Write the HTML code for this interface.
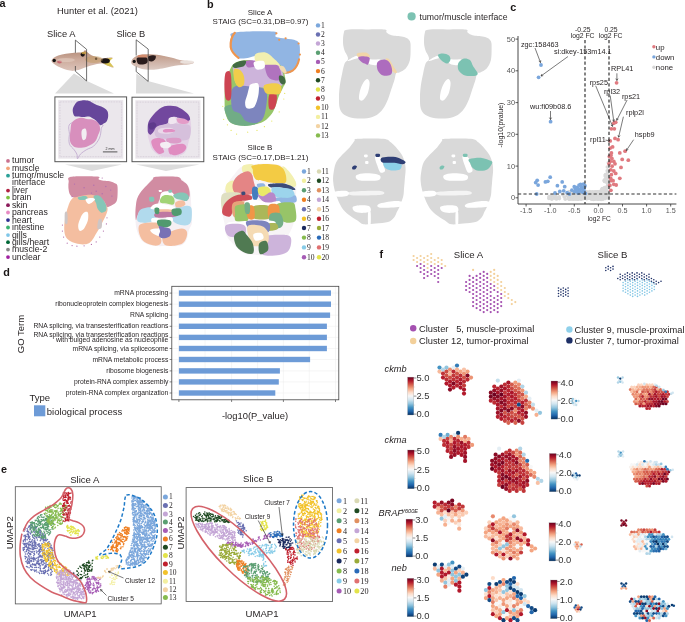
<!DOCTYPE html>
<html><head><meta charset="utf-8"><title>figure</title>
<style>
html,body{margin:0;padding:0;background:#fff;width:685px;height:622px;overflow:hidden;}
svg{display:block;}
svg{font-family:"Liberation Sans",sans-serif;will-change:transform;}
</style></head><body>
<svg width="685" height="622" viewBox="0 0 685 622">
<rect width="685" height="622" fill="#fff"/>
<text x="-0.6" y="6.8" font-size="10.8" text-anchor="start" font-weight="bold" fill="#1a1616" font-family="Liberation Sans" font-style="normal" >a</text>
<text x="207" y="7.9" font-size="10.8" text-anchor="start" font-weight="bold" fill="#1a1616" font-family="Liberation Sans" font-style="normal" >b</text>
<text x="510.3" y="10.6" font-size="10.8" text-anchor="start" font-weight="bold" fill="#1a1616" font-family="Liberation Sans" font-style="normal" >c</text>
<text x="3.3" y="276" font-size="10.8" text-anchor="start" font-weight="bold" fill="#1a1616" font-family="Liberation Sans" font-style="normal" >d</text>
<text x="0.9" y="472.7" font-size="10.8" text-anchor="start" font-weight="bold" fill="#1a1616" font-family="Liberation Sans" font-style="normal" >e</text>
<text x="379.4" y="258" font-size="10.8" text-anchor="start" font-weight="bold" fill="#1a1616" font-family="Liberation Sans" font-style="normal" >f</text>
<text x="57" y="14.4" font-size="9.4" text-anchor="start" font-weight="normal" fill="#231f20" font-family="Liberation Sans" font-style="normal" >Hunter et al. (2021)</text>
<text x="47" y="37" font-size="9.3" text-anchor="start" font-weight="normal" fill="#231f20" font-family="Liberation Sans" font-style="normal" >Slice A</text>
<text x="116.4" y="37" font-size="9.3" text-anchor="start" font-weight="normal" fill="#231f20" font-family="Liberation Sans" font-style="normal" >Slice B</text>
<polygon points="74,73.5 87,81 114,93.5 55,93.5" fill="#dcdcdc" />
<polygon points="136.3,73.5 148,81 194,93.5 136,93.5" fill="#dcdcdc" />
<line x1="75.4" y1="40.1" x2="75.4" y2="55" stroke="#333" stroke-width="0.7" />
<line x1="75.4" y1="40.1" x2="86.6" y2="49.3" stroke="#333" stroke-width="0.7" />
<defs><linearGradient id="fishA" x1="0" y1="0" x2="0" y2="1"><stop offset="0" stop-color="#b48c78"/><stop offset="0.45" stop-color="#cdab9c"/><stop offset="1" stop-color="#dcc4ba"/></linearGradient><linearGradient id="fishB" x1="0" y1="0" x2="0" y2="1"><stop offset="0" stop-color="#c29a86"/><stop offset="0.5" stop-color="#ceb2a6"/><stop offset="1" stop-color="#dccac2"/></linearGradient></defs>
<path d="M51.5,60.5 C51.8,59.4 53.2,58 55,57 C56.8,56 59.5,55.1 62,54.5 C64.5,53.9 67.3,53.5 70,53.2 C72.7,52.9 75.8,52.8 78,52.6 C80.2,52.4 81.8,52.6 83,52.2 C84.2,51.8 84.2,50.2 85,50.3 C85.8,50.4 86.8,51.9 88,52.8 C89.2,53.7 90.3,54.7 92,55.5 C93.7,56.3 96.3,57 98,57.5 C99.7,58 100.7,58.4 102,58.5 C103.3,58.6 104.2,58.1 106,58 C107.8,57.9 112,57.2 112.5,57.8 C113,58.4 108.8,59.9 109,61.5 C109.2,63.1 113.8,66.8 113.5,67.5 C113.2,68.2 108.9,66.2 107,65.5 C105.1,64.8 103.7,63.8 102,63.5 C100.3,63.2 98.8,63.7 97,64 C95.2,64.3 93,64.9 91,65.5 C89,66.1 86.8,66.8 85,67.5 C83.2,68.2 81.8,69 80,69.5 C78.2,70 75.7,70.6 74,70.8 C72.3,71 71.7,70.8 70,70.5 C68.3,70.2 66,69.7 64,69 C62,68.3 59.8,67.4 58,66.5 C56.2,65.6 54.6,64.5 53.5,63.5 C52.4,62.5 51.2,61.6 51.5,60.5Z" fill="url(#fishA)" />
<polygon points="103.2,60.5 109.3,58 112.9,58 109.3,61.5 113.9,67.2 107.8,65.8 103.7,63.6" fill="#d8c456" />
<ellipse cx="105.3" cy="60.8" rx="4.6" ry="2.6" fill="#1a1414"/>
<circle cx="82.7" cy="54.6" r="2.1" fill="#1a1414" />
<circle cx="96.1" cy="58.7" r="1.2" fill="#2a2020" />
<circle cx="54.2" cy="60.5" r="1.7" fill="#111" />
<ellipse cx="59.5" cy="61.8" rx="2.4" ry="1.6" fill="#c0485a" opacity="0.7"/>
<ellipse cx="84" cy="53" rx="2.6" ry="1.2" fill="#c8a040" opacity="0.8"/>
<ellipse cx="94" cy="59.5" rx="9" ry="3.5" fill="#c09a58" opacity="0.45"/>
<ellipse cx="66" cy="60" rx="9" ry="2" fill="#e8d4c8" opacity="0.5"/>
<line x1="75.4" y1="66" x2="75.4" y2="71.3" stroke="#333" stroke-width="0.7" />
<line x1="75.4" y1="71.3" x2="86.6" y2="81" stroke="#333" stroke-width="0.7" />
<line x1="86.6" y1="49.3" x2="86.6" y2="81" stroke="#333" stroke-width="0.7" />
<line x1="136.2" y1="39.8" x2="136.2" y2="55.5" stroke="#333" stroke-width="0.7" />
<line x1="136.2" y1="39.8" x2="148.2" y2="49.1" stroke="#333" stroke-width="0.7" />
<path d="M131.2,62 C131.3,61 132,59.5 133,58.5 C134,57.5 135.3,56.5 137,55.8 C138.7,55.1 140.8,54.7 143,54.4 C145.2,54.1 147.7,54.1 150,54.2 C152.3,54.3 154.7,54.5 157,54.8 C159.3,55.1 161.7,55.5 164,56 C166.3,56.5 168.8,57.1 171,57.6 C173.2,58.1 175,58.7 177,59.2 C179,59.7 180.8,60.1 183,60.4 C185.2,60.7 188.2,60.8 190,61.2 C191.8,61.6 194,62.1 194,62.6 C194,63.1 192,63.9 190,64.3 C188,64.7 184.5,64.8 182,65 C179.5,65.2 177.5,65.4 175,65.8 C172.5,66.2 169.8,66.9 167,67.5 C164.2,68.1 160.8,68.8 158,69.2 C155.2,69.6 152.7,69.8 150,69.8 C147.3,69.8 144.2,69.5 142,69 C139.8,68.5 138.1,67.7 136.5,67 C134.9,66.3 133.4,65.6 132.5,64.8 C131.6,64 131.1,63 131.2,62Z" fill="url(#fishB)" />
<ellipse cx="142.5" cy="56.4" rx="5" ry="1.8" fill="#d48a6a" opacity="0.9"/>
<path d="M137,58 C137.5,57.4 138.5,57.6 140,57.5 C141.5,57.4 144.7,57.3 146,57.6 C147.3,57.9 147.4,58.6 147.6,59.5 C147.8,60.4 147.8,62.2 147,63 C146.2,63.8 144.4,64.3 143,64.5 C141.6,64.7 139.5,64.6 138.5,64 C137.5,63.4 137.1,62 136.8,61 C136.6,60 136.5,58.6 137,58Z" fill="#2a1c1c" />
<path d="M148.4,56.4 C149,55.9 150.8,55.3 152,55.2 C153.2,55.1 155,55.2 155.6,55.8 C156.2,56.4 155.8,58.1 155.3,59 C154.8,59.9 153.6,61 152.5,61.3 C151.4,61.6 149.7,61.5 149,61 C148.3,60.5 148.3,59.3 148.2,58.5 C148.1,57.7 147.8,56.9 148.4,56.4Z" fill="#2a1c1c" />
<ellipse cx="187" cy="62" rx="7" ry="1.8" fill="#ece4e0" opacity="0.9"/>
<circle cx="134.2" cy="61.4" r="1.6" fill="#111" />
<line x1="136.2" y1="66.5" x2="136.2" y2="71.6" stroke="#333" stroke-width="0.7" />
<line x1="136.2" y1="71.6" x2="148.2" y2="81.4" stroke="#333" stroke-width="0.7" />
<line x1="148.2" y1="49.1" x2="148.2" y2="81.4" stroke="#333" stroke-width="0.7" />
<rect x="54.9" y="96.9" width="71.7" height="64.8" fill="#fff" stroke="#555" stroke-width="1"/>
<rect x="58.2" y="99.9" width="65.1" height="58.8" fill="#ebe7ec"/>
<rect x="59.9" y="101.9" width="61.7" height="54.8" fill="none" stroke="#d8d0da" stroke-width="1.2" stroke-dasharray="0.8 0.8"/>
<rect x="132" y="97.2" width="71.8" height="64.5" fill="#fff" stroke="#555" stroke-width="1"/>
<rect x="135.3" y="100.2" width="65.2" height="58.5" fill="#ebe7ec"/>
<rect x="137" y="102.2" width="61.8" height="54.5" fill="none" stroke="#d8d0da" stroke-width="1.2" stroke-dasharray="0.8 0.8"/>
<path d="M71.7,122.9 C66.5,124.7 69.7,131 69.4,134.5 C69,138 68.6,141.3 69.4,143.8 C70.1,146.3 72.7,147.8 74,149.6 C75.2,151.3 76.3,152.6 76.9,154.2 C77.5,155.7 76.9,158.8 77.5,158.8 C78,158.8 78.8,155.7 80.4,154.2 C81.9,152.6 84.5,150.9 86.7,149.6 C88.9,148.2 91.5,148 93.7,146.1 C95.8,144.2 98.2,140.9 99.5,138 C100.7,135.1 101,131 101.2,128.7 C101.4,126.4 105.5,125.1 100.6,124.1 C95.7,123.1 76.9,121.2 71.7,122.9Z" fill="none" stroke="#b89cc8" stroke-width="0.7"/>
<path d="M71.7,122.9 C72.6,121.1 74.6,119.8 76.3,118.9 C78,118 80.4,117.7 82.1,117.7 C83.8,117.7 85,118.6 86.7,118.9 C88.5,119.2 90.8,119 92.5,119.5 C94.2,119.9 96,120.8 97.1,121.8 C98.3,122.7 99,123.9 99.5,125.2 C99.9,126.6 100.2,128.3 100,129.9 C99.8,131.4 99,132.8 98.3,134.5 C97.6,136.2 96.9,138.8 96,140.3 C95,141.8 94.1,142.7 92.5,143.8 C91,144.8 88.8,146 86.7,146.7 C84.6,147.3 81.9,147.8 79.8,147.8 C77.7,147.8 75.5,147.5 74,146.7 C72.4,145.8 71.2,144.3 70.5,142.6 C69.8,141 69.9,138.9 69.9,136.8 C69.9,134.7 70.2,132.2 70.5,129.9 C70.8,127.6 70.7,124.8 71.7,122.9Z" fill="#d88fbd" />
<path d="M82.1,129.9 C82.8,128.9 84.8,128.1 85.6,128.7 C86.3,129.3 86.7,131.6 86.7,133.4 C86.7,135.1 86.2,138.1 85.6,139.1 C84.9,140.2 83.3,140.5 82.7,139.7 C82,138.9 81.6,136.1 81.5,134.5 C81.4,132.9 81.4,130.8 82.1,129.9Z" fill="#f2eef2" />
<path d="M72.8,109 C73.3,106.8 75.3,103.5 76.9,102.1 C78.4,100.7 80.1,100.6 82.1,100.4 C84.1,100.2 87.3,100.6 89,100.9 C90.8,101.3 91,101.9 92.5,102.7 C94.1,103.5 96.4,104.7 98.3,105.6 C100.2,106.4 102.5,106.9 104.1,107.9 C105.6,108.9 106.9,109.8 107.6,111.4 C108.2,112.9 108.3,115.4 108.1,117.1 C107.9,118.9 107.3,120.6 106.4,121.8 C105.5,122.9 103.9,123.5 102.9,124.1 C102,124.7 101.4,125.4 100.6,125.2 C99.8,125.1 99.1,123.7 98.3,122.9 C97.5,122.2 96.9,121.4 96,120.6 C95,119.8 93.7,119 92.5,118.3 C91.4,117.6 90.6,116.8 89,116.6 C87.5,116.4 85.2,117.1 83.2,117.1 C81.3,117.1 79,116.9 77.5,116.6 C75.9,116.3 74.8,116.7 74,115.4 C73.2,114.2 72.4,111.3 72.8,109Z" fill="#66469a" />
<line x1="102.9" y1="151.9" x2="117.4" y2="151.9" stroke="#444" stroke-width="0.9" />
<text x="110" y="150" font-size="3.6" text-anchor="middle" font-weight="normal" fill="#333" font-family="Liberation Sans" font-style="normal" >2 mm</text>
<path d="M150.6,118.3 C152.9,114.1 157,109.7 161.2,107.7 C165.4,105.7 171.2,105.1 175.7,106.3 C180.2,107.4 185.6,111.3 188.2,114.5 C190.8,117.6 190.8,121.7 191.1,125.1 C191.4,128.4 190.6,131.6 190.1,134.7 C189.6,137.8 189,140.5 188.2,143.4 C187.4,146.3 186.9,150 185.3,152 C183.7,154.1 181.3,155.1 178.6,155.9 C175.8,156.7 172.1,156.9 168.9,156.9 C165.7,156.8 162,156.5 159.3,155.4 C156.5,154.3 154.1,152.3 152.5,150.1 C150.9,148 150.4,145.3 149.6,142.4 C148.8,139.5 147.6,136.8 147.7,132.8 C147.9,128.8 148.4,122.5 150.6,118.3Z" fill="#e4d2e6" />
<path d="M156.4,125.1 C158.8,123.6 164.9,123.3 168.9,123.1 C172.9,123 176.9,123.6 180.5,124.1 C184,124.6 188.7,123.6 190.1,126 C191.6,128.4 190.8,136.1 189.2,138.6 C187.6,141 183.9,140.3 180.5,140.5 C177.1,140.6 172.8,140 168.9,139.5 C165.1,139 159.8,138.9 157.3,137.6 C154.9,136.3 154.6,133.9 154.5,131.8 C154.3,129.7 154,126.5 156.4,125.1Z" fill="#d6c0dc" />
<path d="M159.3,128.9 C161.2,128.1 168.3,127.6 170.8,128 C173.4,128.3 175,129.9 174.7,130.8 C174.4,131.8 171.5,133.4 168.9,133.7 C166.3,134.1 160.9,133.6 159.3,132.8 C157.7,132 157.3,129.7 159.3,128.9Z" fill="#ead8ea" />
<path d="M164.1,129.4 C165.7,128.9 172,129 173.7,129.4 C175.4,129.8 175.8,131.3 174.2,131.8 C172.6,132.3 165.8,132.7 164.1,132.3 C162.4,131.9 162.5,129.9 164.1,129.4Z" fill="#e090c4" />
<path d="M151.6,140.5 C152.4,139.3 155.3,138.2 157.3,138.1 C159.4,137.9 162.7,138.5 164.1,139.5 C165.5,140.6 166.2,142.9 166,144.3 C165.9,145.8 163.5,146.9 163.1,148.2 C162.8,149.5 164.7,151.1 164.1,152 C163.5,153 160.9,154.3 159.3,154 C157.7,153.7 155.7,151.6 154.5,150.1 C153.3,148.7 152.5,146.9 152,145.3 C151.6,143.7 150.7,141.7 151.6,140.5Z" fill="#e08cc0" />
<path d="M168.9,147.2 C170,145.6 174.2,144.9 176.6,144.3 C179,143.8 181.8,143.4 183.4,143.9 C185,144.3 186.3,145.9 186.3,147.2 C186.3,148.6 185,150.8 183.4,152 C181.8,153.3 178.9,154.6 176.6,154.9 C174.4,155.3 171.2,155.3 169.9,154 C168.6,152.7 167.8,148.8 168.9,147.2Z" fill="#e08cc0" />
<path d="M167,138.6 C168.8,137.8 176.1,137.6 178.6,138.1 C181,138.6 181.8,140.6 181.4,141.4 C181.1,142.3 178.9,143.2 176.6,143.4 C174.4,143.5 169.6,143.2 168,142.4 C166.3,141.6 165.2,139.3 167,138.6Z" fill="#dc9cc8" />
<path d="M160.7,142.9 C162,142.1 167.2,141.8 168.9,142.4 C170.6,143 171.2,145.3 170.8,146.3 C170.5,147.2 168.6,148 167,148.2 C165.4,148.4 162.2,148.1 161.2,147.2 C160.2,146.3 159.4,143.7 160.7,142.9Z" fill="#f4eef4" />
<path d="M176.6,118.8 C177.4,118 181.4,118.2 183.4,118.3 C185.4,118.5 187.9,119 188.7,119.8 C189.5,120.6 189.1,122.4 188.2,123.1 C187.3,123.9 185,124.1 183.4,124.1 C181.8,124.1 179.7,124 178.6,123.1 C177.4,122.2 175.8,119.6 176.6,118.8Z" fill="#e49cc8" />
<path d="M147.7,128.9 C147.7,127.3 147.7,124.9 148.2,123.1 C148.7,121.4 149.4,120.1 150.6,118.3 C151.8,116.5 153.7,114.3 155.4,112.5 C157.2,110.8 159.1,108.8 161.2,107.7 C163.3,106.6 165.5,106 168,105.8 C170.4,105.5 173.3,105.6 175.7,106.3 C178.1,106.9 180.3,108.3 182.4,109.6 C184.5,111 186.9,112.9 188.2,114.5 C189.5,116.1 190.1,118.2 190.1,119.3 C190.1,120.3 189.2,120.8 188.2,120.7 C187.2,120.6 185.9,119.3 184.3,118.8 C182.7,118.3 180,118.2 178.6,117.8 C177.1,117.5 176.8,116.9 175.7,116.9 C174.5,116.8 172.9,116.8 171.8,117.3 C170.7,117.9 169.7,119.2 168.9,120.2 C168.1,121.3 168.3,122.8 167,123.6 C165.7,124.4 163,124.5 161.2,125.1 C159.4,125.6 157.7,125.9 156.4,127 C155.1,128.1 154.5,130.5 153.5,131.8 C152.5,133.1 151.5,134.5 150.6,134.7 C149.7,134.9 148.7,133.7 148.2,132.8 C147.7,131.8 147.7,130.5 147.7,128.9Z" fill="#72489e" />
<path d="M148.7,124.1 C149.3,123 152.2,122 153.5,122.2 C154.8,122.3 156.4,123.9 156.4,125.1 C156.4,126.2 154.6,128.3 153.5,128.9 C152.4,129.6 150.4,129.7 149.6,128.9 C148.8,128.1 148,125.2 148.7,124.1Z" fill="#5e3a8c" />
<path d="M168.9,118.3 C169.9,117.3 173.4,116.7 174.7,117.3 C176,118 177.1,121 176.6,122.2 C176.1,123.3 173.1,123.9 171.8,124.1 C170.5,124.3 169.4,124.1 168.9,123.1 C168.4,122.2 168,119.3 168.9,118.3Z" fill="#f0e6f0" />
<polygon points="65,164.5 122,164.5 92,171" fill="#dcdcdc" />
<polygon points="136,164.5 199.5,164.5 166,171" fill="#dcdcdc" />
<circle cx="8" cy="160.9" r="1.9" fill="#c9708e" />
<text x="12" y="163.3" font-size="8.7" text-anchor="start" font-weight="normal" fill="#231f20" font-family="Liberation Sans" font-style="normal" >tumor</text>
<circle cx="8" cy="168.3" r="1.9" fill="#f4a57a" />
<text x="12" y="170.7" font-size="8.7" text-anchor="start" font-weight="normal" fill="#231f20" font-family="Liberation Sans" font-style="normal" >muscle</text>
<circle cx="8" cy="175.7" r="1.9" fill="#2aa198" />
<text x="12" y="178.1" font-size="8.7" text-anchor="start" font-weight="normal" fill="#231f20" font-family="Liberation Sans" font-style="normal" >tumor/muscle</text>
<text x="12" y="185.4" font-size="8.7" text-anchor="start" font-weight="normal" fill="#231f20" font-family="Liberation Sans" font-style="normal" >interface</text>
<circle cx="8" cy="190.6" r="1.9" fill="#b22040" />
<text x="12" y="193" font-size="8.7" text-anchor="start" font-weight="normal" fill="#231f20" font-family="Liberation Sans" font-style="normal" >liver</text>
<circle cx="8" cy="197.6" r="1.9" fill="#7dc242" />
<text x="12" y="200" font-size="8.7" text-anchor="start" font-weight="normal" fill="#231f20" font-family="Liberation Sans" font-style="normal" >brain</text>
<circle cx="8" cy="205.2" r="1.9" fill="#8b1a5a" />
<text x="12" y="207.6" font-size="8.7" text-anchor="start" font-weight="normal" fill="#231f20" font-family="Liberation Sans" font-style="normal" >skin</text>
<circle cx="8" cy="212.5" r="1.9" fill="#e78ac3" />
<text x="12" y="214.9" font-size="8.7" text-anchor="start" font-weight="normal" fill="#231f20" font-family="Liberation Sans" font-style="normal" >pancreas</text>
<circle cx="8" cy="220.1" r="1.9" fill="#2e3192" />
<text x="12" y="222.5" font-size="8.7" text-anchor="start" font-weight="normal" fill="#231f20" font-family="Liberation Sans" font-style="normal" >heart</text>
<circle cx="8" cy="227.5" r="1.9" fill="#3cb371" />
<text x="12" y="229.9" font-size="8.7" text-anchor="start" font-weight="normal" fill="#231f20" font-family="Liberation Sans" font-style="normal" >intestine</text>
<circle cx="8" cy="235.1" r="1.9" fill="#7fc6e8" />
<text x="12" y="237.5" font-size="8.7" text-anchor="start" font-weight="normal" fill="#231f20" font-family="Liberation Sans" font-style="normal" >gills</text>
<circle cx="8" cy="242.2" r="1.9" fill="#006837" />
<text x="12" y="244.6" font-size="8.7" text-anchor="start" font-weight="normal" fill="#231f20" font-family="Liberation Sans" font-style="normal" >gills/heart</text>
<circle cx="8" cy="249.6" r="1.9" fill="#888888" />
<text x="12" y="252" font-size="8.7" text-anchor="start" font-weight="normal" fill="#231f20" font-family="Liberation Sans" font-style="normal" >muscle-2</text>
<circle cx="8" cy="257.1" r="1.9" fill="#a020a0" />
<text x="12" y="259.5" font-size="8.7" text-anchor="start" font-weight="normal" fill="#231f20" font-family="Liberation Sans" font-style="normal" >unclear</text>
<g opacity="0.9">
<path d="M70.9,200.3 C72.1,198.7 73.3,197.1 75.7,196.1 C78.1,195.1 82.5,194.7 85.3,194.3 C88.1,193.9 90.4,193.6 92.6,193.9 C94.8,194.3 96.8,195.2 98.6,196.1 C100.4,197.1 102.1,198.3 103.4,199.7 C104.7,201.1 105.7,203 106.4,204.6 C107.1,206.2 107.7,207.6 107.6,209.4 C107.5,211.2 106.6,213.4 105.8,215.4 C105,217.4 103.8,219.4 102.8,221.4 C101.8,223.5 100.9,225.5 99.8,227.5 C98.7,229.5 97.4,231.5 96.2,233.5 C95,235.5 93.8,237.9 92.6,239.5 C91.4,241.1 90.6,242.3 88.9,243.2 C87.3,244 85.1,244.4 82.9,244.4 C80.7,244.4 77.9,243.8 75.7,243.2 C73.5,242.5 71.4,241.9 69.6,240.7 C67.9,239.5 66.3,237.9 65.4,235.9 C64.5,233.9 64.3,231.3 64.2,228.7 C64.1,226.1 64.4,223.1 64.8,220.2 C65.2,217.4 66,214.2 66.6,211.8 C67.2,209.4 67.7,207.7 68.4,205.8 C69.1,203.9 69.6,201.9 70.9,200.3Z" fill="#f3b896" />
<path d="M70.9,176.8 C75.6,176 92.8,176.2 97.4,176.6 C102,177 97.8,178.6 98.6,179.2 C99.4,179.9 100.6,180.1 102.2,180.4 C103.8,180.7 106.2,180.6 108.2,181 C110.2,181.4 112.8,182.2 114.3,182.9 C115.8,183.6 116.7,183.5 117.3,185.3 C117.8,187.1 117.7,191.1 117.6,193.7 C117.5,196.3 117.4,199.1 116.7,200.9 C115.9,202.8 114.5,203.6 113.1,204.6 C111.7,205.6 109.3,206.8 108.2,207 C107.1,207.2 107,206.6 106.4,205.8 C105.8,205 105.4,203.3 104.6,202.1 C103.8,201 102.8,200 101.6,199.1 C100.4,198.2 98.9,197.4 97.4,196.7 C95.9,196 94.4,195.2 92.6,194.9 C90.8,194.6 88.5,194.7 86.5,194.9 C84.5,195.1 82.3,195.7 80.5,196.1 C78.7,196.5 77.1,197.2 75.7,197.3 C74.3,197.4 73.1,197.3 72.1,196.7 C71.1,196.1 70.3,195.2 69.6,193.7 C69,192.2 68.6,189.7 68.4,187.7 C68.3,185.7 68.3,183.5 68.7,181.6 C69.1,179.8 66.1,177.7 70.9,176.8Z" fill="#cd8098" />
<path d="M64.8,213 C65.2,211.2 66.8,210.8 67.2,212.4 C67.7,214 67.8,220.8 67.5,222.7 C67.1,224.5 65.5,224.9 65.1,223.3 C64.6,221.6 64.5,214.8 64.8,213Z" fill="#c8c0c0" />
<path d="M98.4,220.2 C99,218.7 101.1,218.4 101.6,219.6 C102.1,220.8 102.3,226 101.6,227.5 C100.9,229 98.2,229.9 97.6,228.7 C97.1,227.5 97.7,221.7 98.4,220.2Z" fill="#c8c0c0" />
<path d="M78.1,197.3 C79.1,196.7 83.7,195.9 85.3,196.1 C86.9,196.3 87.9,197.9 87.7,198.5 C87.5,199.2 85.5,199.8 84.1,200 C82.7,200.2 80.3,200.2 79.3,199.7 C78.3,199.3 77.1,197.9 78.1,197.3Z" fill="#78c0b0" />
<path d="M93.8,196.1 C94.5,195.4 97.2,195.1 98.6,195.5 C100,195.9 101,197 102.2,198.5 C103.4,200 105.1,202.8 105.8,204.6 C106.5,206.4 106.6,208.2 106.4,209.4 C106.2,210.6 105.5,211.3 104.6,211.8 C103.7,212.3 102.2,213 101,212.4 C99.8,211.8 98.2,209.7 97.4,208.2 C96.6,206.7 96.7,204.8 96.2,203.4 C95.7,201.9 94.8,200.9 94.4,199.7 C94,198.5 93.1,196.8 93.8,196.1Z" fill="#78c0b0" />
<path d="M85.9,199.1 C86.7,198.4 89.8,197.9 91.4,197.9 C92.9,197.9 94.8,198.4 95,199.1 C95.2,199.8 93.6,201.3 92.6,202.1 C91.6,203 89.9,204 88.9,204 C87.9,204 87,203 86.5,202.1 C86,201.3 85.1,199.8 85.9,199.1Z" fill="#fff" />
<path d="M83.5,213 C84.8,212 87,211.3 87.7,212.3 C88.5,213.3 88.4,216.9 88.1,219 C87.8,221.2 86.9,223.3 86,225.1 C85.2,226.8 84.3,228.7 83.2,229.6 C82,230.6 80.1,231.4 79.3,230.6 C78.5,229.8 78,227.1 78.2,225.1 C78.4,223 79.4,220.4 80.3,218.4 C81.1,216.4 82.3,214 83.5,213Z" fill="#fff" />
<circle cx="62.4" cy="231.1" r="0.6" fill="#a85aa0" />
<circle cx="63.6" cy="237.1" r="0.6" fill="#a85aa0" />
<circle cx="67.2" cy="243.2" r="0.6" fill="#a85aa0" />
<circle cx="72.1" cy="245.6" r="0.6" fill="#a85aa0" />
<circle cx="76.9" cy="246.2" r="0.6" fill="#a85aa0" />
<circle cx="84.1" cy="245.8" r="0.6" fill="#a85aa0" />
<circle cx="91.4" cy="244.4" r="0.6" fill="#a85aa0" />
<circle cx="96.2" cy="241.9" r="0.6" fill="#a85aa0" />
<circle cx="99.8" cy="237.1" r="0.6" fill="#a85aa0" />
<circle cx="103.4" cy="231.1" r="0.6" fill="#a85aa0" />
<circle cx="106.4" cy="223.9" r="0.6" fill="#a85aa0" />
<circle cx="107" cy="217.8" r="0.6" fill="#a85aa0" />
<circle cx="72.1" cy="196.7" r="0.6" fill="#a85aa0" />
<circle cx="102.2" cy="178" r="0.6" fill="#a85aa0" />
<circle cx="62.4" cy="225.1" r="0.6" fill="#a85aa0" />
<circle cx="74.5" cy="184.1" r="0.7" fill="#a860a8" />
<circle cx="84.1" cy="187.7" r="0.7" fill="#a860a8" />
<circle cx="93.8" cy="185.3" r="0.7" fill="#a860a8" />
<circle cx="96.2" cy="191.3" r="0.7" fill="#a860a8" />
<circle cx="105.8" cy="186.5" r="0.7" fill="#a860a8" />
<circle cx="110.7" cy="190.1" r="0.7" fill="#a860a8" />
<circle cx="91.4" cy="193.1" r="0.7" fill="#a860a8" />
<circle cx="102.2" cy="193.7" r="0.7" fill="#a860a8" />
<circle cx="111.9" cy="196.1" r="0.7" fill="#a860a8" />
<path d="M155.9,176.8 C160.9,175.4 171.9,175.6 177,176.8 C182.1,178 184.4,181.6 186.6,184 C188.8,186.5 189.4,187.3 190.2,191.3 C191,195.3 191.1,202.9 191.4,208.1 C191.7,213.4 192.4,219 192,222.6 C191.6,226.2 189.9,227 189,229.8 C188.1,232.6 188,236.9 186.6,239.5 C185.2,242.1 184,244.4 180.6,245.5 C177.2,246.6 170.8,246.1 166.1,246.1 C161.5,246.1 156.7,246.4 152.9,245.7 C149.1,245 145.7,243.7 143.3,241.9 C140.8,240 139.6,237.3 138.4,234.7 C137.2,232 136.5,229.4 136,226.2 C135.5,223 135.4,219 135.4,215.4 C135.4,211.8 135.3,208.1 136,204.5 C136.7,200.9 137.8,196.9 139.6,193.7 C141.4,190.5 144.2,188.1 146.9,185.3 C149.6,182.4 150.9,178.2 155.9,176.8Z" fill="#f5eff3" />
<path d="M155.9,176.8 C159.9,176.4 172.7,176.2 177,176.8 C181.3,177.4 180.2,179.2 181.8,180.4 C183.4,181.6 185.4,182.6 186.6,184 C187.8,185.5 188.5,186.9 189,188.9 C189.5,190.9 190,194.1 189.6,196.1 C189.2,198.1 187.7,200.3 186.6,200.9 C185.5,201.5 184.2,200.2 183,199.7 C181.8,199.2 180.6,198.5 179.4,197.9 C178.2,197.3 176.8,196.8 175.8,196.1 C174.8,195.4 174.4,194.5 173.4,193.7 C172.4,192.9 171,191.5 169.8,191.3 C168.6,191.1 167.3,191.7 166.1,192.5 C164.9,193.3 163.7,194.7 162.5,196.1 C161.3,197.5 159.7,199.5 158.9,200.9 C158.1,202.3 158.5,203.5 157.7,204.5 C156.9,205.5 155.7,206.3 154.1,206.9 C152.5,207.5 149.7,207.7 148.1,208.1 C146.5,208.5 145.9,208.7 144.5,209.3 C143.1,210 140.8,210.6 139.6,211.8 C138.4,213 137.8,215.2 137.2,216.6 C136.6,218 136.3,220.6 136,220.2 C135.7,219.8 135.4,216.8 135.4,214.2 C135.4,211.6 135.7,207.1 136,204.5 C136.3,201.9 136.6,200.3 137.2,198.5 C137.8,196.7 138.6,195.3 139.6,193.7 C140.6,192.1 142,190.3 143.3,188.9 C144.5,187.5 145.7,186.5 146.9,185.3 C148.1,184 149.5,182.6 150.5,181.6 C151.5,180.6 152,180 152.9,179.2 C153.8,178.4 151.9,177.2 155.9,176.8Z" fill="#cd8098" />
<path d="M139.6,210.6 C141.2,208.4 144.5,208 146.9,207.5 C149.3,207 152.3,207.2 154.1,207.5 C155.9,207.8 157.1,208 157.7,209.3 C158.3,210.7 158.3,213.6 157.7,215.4 C157.1,217.2 155.7,219 154.1,220.2 C152.5,221.4 150.1,222.2 148.1,222.6 C146.1,223 143.9,223 142,222.6 C140.2,222.2 137.6,222.2 137.2,220.2 C136.8,218.2 138,212.7 139.6,210.6Z" fill="#a9d7ec" />
<path d="M174.6,208.1 C176,206.3 178.6,207.3 180.6,206.9 C182.6,206.5 184.8,205.5 186.6,205.7 C188.4,205.9 190.6,205.7 191.4,208.1 C192.2,210.6 192,217.4 191.4,220.2 C190.8,223 189.6,224.2 187.8,225 C186,225.8 182.8,225.4 180.6,225 C178.4,224.6 176,223.8 174.6,222.6 C173.2,221.4 172.2,220.2 172.2,217.8 C172.2,215.4 173.2,210 174.6,208.1Z" fill="#a9d7ec" />
<path d="M161.6,192.7 C163.2,191.1 167.8,191 169.8,191.3 C171.8,191.6 173.3,193.7 173.6,194.7 C173.9,195.6 172.8,196.5 171.6,196.7 C170.3,196.9 167.6,195.2 166.1,195.6 C164.7,196.1 163.8,198.6 162.8,199.5 C161.7,200.4 160.1,202 159.9,200.9 C159.7,199.8 159.9,194.3 161.6,192.7Z" fill="#fff" />
<path d="M154.1,204.5 C155.7,203.7 158.1,203.5 160.1,203.6 C162.1,203.6 164.1,204.4 166.1,204.8 C168.2,205.2 170.6,205.4 172.2,206 C173.8,206.5 175.2,207.4 175.8,208.1 C176.4,208.9 177.4,210.1 175.8,210.3 C174.2,210.6 169.4,209.7 166.1,209.6 C162.9,209.5 159.1,209.8 156.5,209.6 C153.9,209.4 150.9,209.2 150.5,208.4 C150.1,207.5 152.5,205.3 154.1,204.5Z" fill="#fff" />
<path d="M175.8,202.1 C177,201 181.4,199.9 183,200.3 C184.6,200.7 185.8,203.4 185.4,204.5 C185,205.7 182.2,206.8 180.6,207.2 C179,207.6 176.6,207.8 175.8,206.9 C175,206.1 174.6,203.2 175.8,202.1Z" fill="#f3b896" />
<path d="M156.5,209.6 C159.7,209.1 172.6,209.5 175.8,210 C179,210.4 179,211.9 175.8,212.4 C172.6,212.8 159.7,213.2 156.5,212.7 C153.3,212.3 153.3,210.1 156.5,209.6Z" fill="#f3b896" />
<path d="M156.5,212.4 C159.5,211.5 171.4,211.7 174.6,212.4 C177.8,213.1 178.8,215.7 175.8,216.6 C172.8,217.4 159.7,218.2 156.5,217.5 C153.3,216.8 153.5,213.2 156.5,212.4Z" fill="#b86a98" />
<path d="M172.2,209.3 C173.6,208.4 179.1,207.9 180.6,208.7 C182.1,209.6 182,213 181.2,214.2 C180.4,215.4 177.3,216 175.8,216 C174.3,216 172.8,215.3 172.2,214.2 C171.6,213.1 170.8,210.3 172.2,209.3Z" fill="#3f9060" />
<path d="M154.7,208.1 C155.3,207.2 158.2,207.2 158.9,208.1 C159.6,209 159.5,212.7 158.9,213.6 C158.3,214.5 156,214.5 155.3,213.6 C154.6,212.7 154.1,209 154.7,208.1Z" fill="#3f9060" />
<path d="M160.1,199.7 C160.4,198.6 161.5,196.9 162.5,196.1 C163.5,195.3 164.7,195 166.1,194.9 C167.6,194.8 169.8,195.1 171,195.5 C172.2,195.9 172.8,196.4 173.4,197.3 C174,198.2 174.6,199.7 174.6,200.9 C174.6,202.1 174.4,204 173.4,204.5 C172.4,205 170,204.1 168.6,203.9 C167.1,203.7 166.2,203.5 164.9,203.3 C163.6,203.1 161.5,203.3 160.7,202.7 C159.9,202.1 159.8,200.8 160.1,199.7Z" fill="#98cf68" />
<path d="M173.4,194.9 C174.2,193.9 178.4,192.7 180.6,192.5 C182.8,192.3 185.2,192.9 186.6,193.7 C188,194.5 189,196.1 189,197.3 C189,198.5 188,200.5 186.6,200.9 C185.2,201.3 182.4,200.1 180.6,199.7 C178.8,199.3 177,199.3 175.8,198.5 C174.6,197.7 172.6,195.9 173.4,194.9Z" fill="#78c0b0" />
<path d="M149.3,197.3 C149.9,196.6 152.7,196.5 153.5,197.1 C154.3,197.7 154.7,200.2 154.1,200.9 C153.5,201.7 150.7,202.1 149.9,201.5 C149.1,200.9 148.7,198 149.3,197.3Z" fill="#78c0b0" />
<path d="M168.6,190.1 C169,189.7 171.1,189.7 171.6,190.1 C172.1,190.5 172,192.1 171.6,192.5 C171.1,192.9 169.3,192.9 168.8,192.5 C168.3,192.1 168.1,190.5 168.6,190.1Z" fill="#78c0b0" />
<path d="M158.9,190.1 C159.3,189.8 161.1,189.8 161.6,190.1 C162,190.4 162,191.6 161.6,191.9 C161.2,192.2 159.6,192.2 159.2,191.9 C158.7,191.6 158.5,190.4 158.9,190.1Z" fill="#fff" />
<path d="M151.7,218.4 C152.8,217.7 157.7,217.7 158.9,218.4 C160.1,219.1 160,221.9 158.9,222.6 C157.8,223.3 153.5,223.3 152.3,222.6 C151.1,221.9 150.6,219.1 151.7,218.4Z" fill="#fff" />
<path d="M166.1,217.8 C167.1,217.2 171.2,217.2 172.2,217.8 C173.2,218.4 173.2,220.8 172.2,221.4 C171.2,222 167.1,222 166.1,221.4 C165.1,220.8 165.1,218.4 166.1,217.8Z" fill="#fff" />
<path d="M139.6,225 C141.6,223 148.5,222.8 151.7,222.6 C154.9,222.4 157.9,222.6 158.9,223.8 C159.9,225 158.9,228.4 157.7,229.8 C156.5,231.2 151.7,231.4 151.7,232.2 C151.7,233 156.1,233.4 157.7,234.7 C159.3,235.9 160.9,237.9 161.3,239.5 C161.7,241.1 161.3,243.3 160.1,244.3 C158.9,245.3 156.7,245.9 154.1,245.5 C151.5,245.1 146.9,243.7 144.5,241.9 C142,240.1 140.4,237.5 139.6,234.7 C138.8,231.8 137.6,227 139.6,225Z" fill="#f3b896" />
<path d="M163.7,234.7 C165.3,233 169.2,232 172.2,231 C175.2,230 179.4,228.6 181.8,228.6 C184.2,228.6 185.8,229.6 186.6,231 C187.4,232.4 187.2,235.1 186.6,237.1 C186,239.1 184.8,241.7 183,243.1 C181.2,244.5 178.6,245.1 175.8,245.5 C173,245.9 168.4,246.3 166.1,245.5 C163.9,244.7 162.9,242.5 162.5,240.7 C162.1,238.9 162.1,236.3 163.7,234.7Z" fill="#f3b896" />
<path d="M150.5,229.8 C151.5,229 156.5,228.4 158.9,228.6 C161.3,228.8 164.1,230 164.9,231 C165.7,232 164.7,233.8 163.7,234.7 C162.7,235.5 160.7,236.1 158.9,235.9 C157.1,235.7 154.3,234.4 152.9,233.4 C151.5,232.4 149.5,230.6 150.5,229.8Z" fill="#fff" />
<path d="M157.7,220.2 C159.5,219.2 167.6,219.4 169.8,220.2 C172,221 171.6,223.8 171,225 C170.4,226.2 168.2,227.2 166.1,227.4 C164.1,227.6 160.3,227.4 158.9,226.2 C157.5,225 155.9,221.2 157.7,220.2Z" fill="#3f9060" />
<path d="M158.9,226.2 C159.7,225.6 163.1,227 164.9,227.4 C166.7,227.8 168.8,227.6 169.8,228.6 C170.8,229.6 171.2,232 171,233.4 C170.8,234.9 170,236.3 168.6,237.1 C167.1,237.9 164.1,238.5 162.5,238.3 C160.9,238.1 159.3,237.1 158.9,235.9 C158.5,234.7 160.1,232.6 160.1,231 C160.1,229.4 158.1,226.8 158.9,226.2Z" fill="#6a62ae" />
</g>
<text x="260" y="14.6" font-size="8" text-anchor="middle" font-weight="normal" fill="#231f20" font-family="Liberation Sans" font-style="normal" >Slice A</text>
<text x="260.5" y="24.4" font-size="8" text-anchor="middle" font-weight="normal" fill="#231f20" font-family="Liberation Sans" font-style="normal" >STAIG (SC=0.31,DB=0.97)</text>
<text x="260" y="150.3" font-size="8" text-anchor="middle" font-weight="normal" fill="#231f20" font-family="Liberation Sans" font-style="normal" >Slice B</text>
<text x="260.5" y="159.6" font-size="8" text-anchor="middle" font-weight="normal" fill="#231f20" font-family="Liberation Sans" font-style="normal" >STAIG (SC=0.17,DB=1.21)</text>
<circle cx="318" cy="25.4" r="2.2" fill="#7ba7dc" />
<text x="320.9" y="27.9" font-size="7.6" text-anchor="start" font-weight="normal" fill="#231f20" font-family="Liberation Serif" font-style="normal" >1</text>
<circle cx="318" cy="34.5" r="2.2" fill="#6a70b2" />
<text x="320.9" y="37" font-size="7.6" text-anchor="start" font-weight="normal" fill="#231f20" font-family="Liberation Serif" font-style="normal" >2</text>
<circle cx="318" cy="43.5" r="2.2" fill="#c4a6d6" />
<text x="320.9" y="46" font-size="7.6" text-anchor="start" font-weight="normal" fill="#231f20" font-family="Liberation Serif" font-style="normal" >3</text>
<circle cx="318" cy="52.8" r="2.2" fill="#5a9f72" />
<text x="320.9" y="55.3" font-size="7.6" text-anchor="start" font-weight="normal" fill="#231f20" font-family="Liberation Serif" font-style="normal" >4</text>
<circle cx="318" cy="61.9" r="2.2" fill="#a65cb5" />
<text x="320.9" y="64.4" font-size="7.6" text-anchor="start" font-weight="normal" fill="#231f20" font-family="Liberation Serif" font-style="normal" >5</text>
<circle cx="318" cy="71.1" r="2.2" fill="#ef7f22" />
<text x="320.9" y="73.6" font-size="7.6" text-anchor="start" font-weight="normal" fill="#231f20" font-family="Liberation Serif" font-style="normal" >6</text>
<circle cx="318" cy="80.2" r="2.2" fill="#1f4a22" />
<text x="320.9" y="82.7" font-size="7.6" text-anchor="start" font-weight="normal" fill="#231f20" font-family="Liberation Serif" font-style="normal" >7</text>
<circle cx="318" cy="89.5" r="2.2" fill="#e3e34a" />
<text x="320.9" y="92" font-size="7.6" text-anchor="start" font-weight="normal" fill="#231f20" font-family="Liberation Serif" font-style="normal" >8</text>
<circle cx="318" cy="98.5" r="2.2" fill="#c0202e" />
<text x="320.9" y="101" font-size="7.6" text-anchor="start" font-weight="normal" fill="#231f20" font-family="Liberation Serif" font-style="normal" >9</text>
<circle cx="318" cy="107.8" r="2.2" fill="#f2c22a" />
<text x="320.9" y="110.3" font-size="7.6" text-anchor="start" font-weight="normal" fill="#231f20" font-family="Liberation Serif" font-style="normal" >10</text>
<circle cx="318" cy="116.9" r="2.2" fill="#f3efa0" />
<text x="320.9" y="119.4" font-size="7.6" text-anchor="start" font-weight="normal" fill="#231f20" font-family="Liberation Serif" font-style="normal" >11</text>
<circle cx="318" cy="126.1" r="2.2" fill="#f3d3a3" />
<text x="320.9" y="128.6" font-size="7.6" text-anchor="start" font-weight="normal" fill="#231f20" font-family="Liberation Serif" font-style="normal" >12</text>
<circle cx="318" cy="135.4" r="2.2" fill="#86bb4e" />
<text x="320.9" y="137.9" font-size="7.6" text-anchor="start" font-weight="normal" fill="#231f20" font-family="Liberation Serif" font-style="normal" >13</text>
<circle cx="304" cy="171.5" r="2.2" fill="#7ba7dc" />
<text x="306.9" y="174" font-size="7.6" text-anchor="start" font-weight="normal" fill="#231f20" font-family="Liberation Serif" font-style="normal" >1</text>
<circle cx="319" cy="171.5" r="2.2" fill="#d9d9b4" />
<text x="321.5" y="174" font-size="7.6" text-anchor="start" font-weight="normal" fill="#231f20" font-family="Liberation Serif" font-style="normal" >11</text>
<circle cx="304" cy="180.8" r="2.2" fill="#f2f0a0" />
<text x="306.9" y="183.3" font-size="7.6" text-anchor="start" font-weight="normal" fill="#231f20" font-family="Liberation Serif" font-style="normal" >2</text>
<circle cx="319" cy="180.8" r="2.2" fill="#1f4a22" />
<text x="321.5" y="183.3" font-size="7.6" text-anchor="start" font-weight="normal" fill="#231f20" font-family="Liberation Serif" font-style="normal" >12</text>
<circle cx="304" cy="190.3" r="2.2" fill="#5b9e72" />
<text x="306.9" y="192.8" font-size="7.6" text-anchor="start" font-weight="normal" fill="#231f20" font-family="Liberation Serif" font-style="normal" >3</text>
<circle cx="319" cy="190.3" r="2.2" fill="#e09060" />
<text x="321.5" y="192.8" font-size="7.6" text-anchor="start" font-weight="normal" fill="#231f20" font-family="Liberation Serif" font-style="normal" >13</text>
<circle cx="304" cy="199.7" r="2.2" fill="#ef7f22" />
<text x="306.9" y="202.2" font-size="7.6" text-anchor="start" font-weight="normal" fill="#231f20" font-family="Liberation Serif" font-style="normal" >4</text>
<circle cx="319" cy="199.7" r="2.2" fill="#c4a6d6" />
<text x="321.5" y="202.2" font-size="7.6" text-anchor="start" font-weight="normal" fill="#231f20" font-family="Liberation Serif" font-style="normal" >14</text>
<circle cx="304" cy="209.2" r="2.2" fill="#6a70b2" />
<text x="306.9" y="211.7" font-size="7.6" text-anchor="start" font-weight="normal" fill="#231f20" font-family="Liberation Serif" font-style="normal" >5</text>
<circle cx="319" cy="209.2" r="2.2" fill="#f3d3a3" />
<text x="321.5" y="211.7" font-size="7.6" text-anchor="start" font-weight="normal" fill="#231f20" font-family="Liberation Serif" font-style="normal" >15</text>
<circle cx="304" cy="218.7" r="2.2" fill="#f2c22a" />
<text x="306.9" y="221.2" font-size="7.6" text-anchor="start" font-weight="normal" fill="#231f20" font-family="Liberation Serif" font-style="normal" >6</text>
<circle cx="319" cy="218.7" r="2.2" fill="#c0202e" />
<text x="321.5" y="221.2" font-size="7.6" text-anchor="start" font-weight="normal" fill="#231f20" font-family="Liberation Serif" font-style="normal" >16</text>
<circle cx="304" cy="228" r="2.2" fill="#1a2a5e" />
<text x="306.9" y="230.5" font-size="7.6" text-anchor="start" font-weight="normal" fill="#231f20" font-family="Liberation Serif" font-style="normal" >7</text>
<circle cx="319" cy="228" r="2.2" fill="#9aab3a" />
<text x="321.5" y="230.5" font-size="7.6" text-anchor="start" font-weight="normal" fill="#231f20" font-family="Liberation Serif" font-style="normal" >17</text>
<circle cx="304" cy="237.6" r="2.2" fill="#86bb4e" />
<text x="306.9" y="240.1" font-size="7.6" text-anchor="start" font-weight="normal" fill="#231f20" font-family="Liberation Serif" font-style="normal" >8</text>
<circle cx="319" cy="237.6" r="2.2" fill="#2a6ab8" />
<text x="321.5" y="240.1" font-size="7.6" text-anchor="start" font-weight="normal" fill="#231f20" font-family="Liberation Serif" font-style="normal" >18</text>
<circle cx="304" cy="247.4" r="2.2" fill="#87cce8" />
<text x="306.9" y="249.9" font-size="7.6" text-anchor="start" font-weight="normal" fill="#231f20" font-family="Liberation Serif" font-style="normal" >9</text>
<circle cx="319" cy="247.4" r="2.2" fill="#e07070" />
<text x="321.5" y="249.9" font-size="7.6" text-anchor="start" font-weight="normal" fill="#231f20" font-family="Liberation Serif" font-style="normal" >19</text>
<circle cx="304" cy="257.2" r="2.2" fill="#a65cb5" />
<text x="306.9" y="259.7" font-size="7.6" text-anchor="start" font-weight="normal" fill="#231f20" font-family="Liberation Serif" font-style="normal" >10</text>
<circle cx="319" cy="257.2" r="2.2" fill="#e3e34a" />
<text x="321.5" y="259.7" font-size="7.6" text-anchor="start" font-weight="normal" fill="#231f20" font-family="Liberation Serif" font-style="normal" >20</text>
<g opacity="0.9">
<path d="M234.4,32.4 C241.5,31.3 266.8,30.8 273.6,31.5 C280.5,32.1 273.9,35.3 275.5,36.5 C277,37.6 279.8,37.8 282.9,38.3 C285.9,38.9 291.2,38.9 294,39.8 C296.7,40.7 298.1,41.3 299.1,43.5 C300.1,45.6 299.9,49.7 299.9,52.7 C299.8,55.8 299.6,59.4 298.9,62 C298.3,64.5 297.2,66.1 295.8,67.9 C294.4,69.7 292.1,71.8 290.3,72.7 C288.4,73.6 286.6,74.2 284.7,73.4 C282.9,72.6 280.7,69.8 279.2,67.9 C277.6,66 277,63.9 275.5,62 C273.9,60 271.8,57.5 269.9,56.1 C268.1,54.6 266.5,53.2 264.4,53.1 C262.2,53 259.4,54.8 257,55.5 C254.5,56.2 252,56.8 249.6,57.4 C247.1,57.9 244.2,58.6 242.2,58.6 C240.2,58.7 239.1,58.5 237.6,57.5 C236,56.6 234.2,54.8 232.9,53.1 C231.7,51.4 230.5,49.7 230.2,47.2 C229.9,44.7 230.4,40.4 231.1,37.9 C231.8,35.5 227.3,33.5 234.4,32.4Z" fill="#86ade0" />
<path d="M234.8,32.8 Q230.2,37.9 230.7,47.2 Q231.5,52.7 238.5,57.9" fill="none" stroke="#ee8a3a" stroke-width="2.2" stroke-linecap="round"/>
<path d="M299.1,59.2 Q297.6,66.6 293,70.3 Q288.4,73.4 283.8,72.7" fill="none" stroke="#ee8a3a" stroke-width="2" stroke-linecap="round"/>
<circle cx="276.4" cy="33.3" r="1.1" fill="#ee8a3a" />
<circle cx="279.2" cy="39.8" r="1.1" fill="#ee8a3a" />
<circle cx="285.6" cy="38.3" r="1.1" fill="#ee8a3a" />
<circle cx="298.6" cy="43.5" r="1.1" fill="#ee8a3a" />
<circle cx="299.9" cy="54.6" r="1.1" fill="#ee8a3a" />
<path d="M234.8,62.9 C237.9,61.1 244,60.3 247.7,60.1 C251.4,60 253.6,62 257,62 C260.4,62 264.1,59.5 268.1,60.1 C272.1,60.7 278.1,62.3 281,65.7 C283.9,69.1 285.3,76.8 285.6,80.5 C285.9,84.2 283.9,85.4 282.9,87.9 C281.8,90.3 280.4,92.2 279.2,95.3 C277.9,98.3 276.7,103.3 275.5,106.3 C274.2,109.4 273.6,111.3 271.8,113.7 C269.9,116.2 266.8,119.4 264.4,121.1 C261.9,122.8 260.4,123.1 257,123.9 C253.6,124.7 248.3,125.9 244,125.8 C239.7,125.6 234.2,125 231.1,123 C228,121 226.6,117.7 225.5,113.7 C224.5,109.7 224.6,104.5 224.6,99 C224.6,93.4 224.8,85.1 225.5,80.5 C226.3,75.8 227.7,74.1 229.2,71.2 C230.8,68.3 231.7,64.7 234.8,62.9Z" fill="#8cc05a" />
<path d="M225.5,106.3 C228.2,104.5 236.9,103.9 242.2,104.5 C247.4,105.1 254.2,107.3 257,110 C259.7,112.8 259.4,118.7 258.8,121.1 C258.2,123.6 256.1,124.1 253.3,124.8 C250.5,125.6 245.9,126.1 242.2,125.8 C238.5,125.4 233.7,124.7 231.1,123 C228.5,121.3 227.4,118.4 226.5,115.6 C225.5,112.8 222.9,108.2 225.5,106.3Z" fill="#62a47a" />
<path d="M232.9,87.9 C235.4,85.4 241.9,84.5 245.9,84.2 C249.9,83.9 253.6,84.8 257,86 C260.4,87.2 264.7,88.2 266.2,91.6 C267.8,94.9 266.8,101.7 266.2,106.3 C265.6,111 264.4,116.5 262.5,119.3 C260.7,122.1 257.9,122.7 255.1,123 C252.4,123.3 248.3,122.7 245.9,121.1 C243.4,119.6 242.5,115.6 240.3,113.7 C238.2,111.9 234.5,112.5 232.9,110 C231.4,107.6 231.1,102.6 231.1,99 C231.1,95.3 230.5,90.3 232.9,87.9Z" fill="#7078b8" />
<path d="M225.5,73.1 C226.5,70.8 229.2,70.3 230.2,72.1 C231.2,74 231.4,79.7 231.5,84.2 C231.6,88.6 231.6,96.5 230.7,99 C229.8,101.4 227,101.1 225.9,99 C224.9,96.8 224.5,90.3 224.4,86 C224.4,81.7 224.6,75.4 225.5,73.1Z" fill="#c83040" />
<path d="M269.9,93.4 C271.1,92 274.3,91.6 275.5,92.5 C276.6,93.4 277.1,96.3 276.9,99 C276.8,101.6 275.8,106.5 274.5,108.2 C273.3,109.9 270.6,110.4 269.5,109.1 C268.5,107.9 268.4,103.4 268.4,100.8 C268.5,98.2 268.7,94.8 269.9,93.4Z" fill="#c83040" />
<path d="M234.8,63.8 C238.3,61.5 249.9,61.2 255.1,61.1 C260.4,60.9 262.2,62.3 266.2,62.9 C270.2,63.5 276.2,62.1 279.2,64.7 C282.1,67.4 283.5,75.1 283.8,78.6 C284.1,82.2 283.6,84.5 281,86 C278.4,87.6 272.1,87.7 268.1,87.9 C264.1,88 260.7,87.2 257,86.9 C253.3,86.6 249.3,86.5 245.9,86 C242.5,85.5 238.6,86 236.6,84.2 C234.6,82.3 234.2,78.3 233.9,74.9 C233.6,71.5 231.2,66.1 234.8,63.8Z" fill="#c8acd8" />
<path d="M265.3,64.7 C266.5,62.6 273,63.1 275.5,63.8 C277.9,64.6 279.2,66.9 280.1,69.4 C281,71.8 281.8,76.8 281,78.6 C280.2,80.5 277.6,80.8 275.5,80.5 C273.3,80.2 269.8,79.4 268.1,76.8 C266.4,74.1 264.1,66.9 265.3,64.7Z" fill="#a864b8" />
<path d="M245.9,61.1 C247.1,60 253.4,59.8 255.1,60.7 C256.8,61.5 257.3,65 256.1,66 C254.8,67.1 249.4,68 247.7,67.2 C246,66.3 244.7,62.1 245.9,61.1Z" fill="#a864b8" />
<path d="M233.9,69.4 C234.9,67.7 238.6,69.1 240.3,70.3 C242,71.5 243.5,74.3 244,76.8 C244.6,79.2 244.6,83.4 243.7,85.1 C242.7,86.8 240,87.7 238.5,86.9 C236.9,86.2 235.2,83.4 234.4,80.5 C233.7,77.5 232.9,71.1 233.9,69.4Z" fill="#f0c838" />
<path d="M264.4,85.1 C266.1,83.5 272.7,83.1 275.5,83.2 C278.2,83.4 280.2,84.3 281,86 C281.8,87.7 281.6,92 280.1,93.4 C278.5,94.8 274.2,94.5 271.8,94.3 C269.3,94.2 266.5,94 265.3,92.5 C264.1,90.9 262.7,86.6 264.4,85.1Z" fill="#f0c838" />
<path d="M255.1,54.6 C256.7,52.7 262.8,51.8 266.2,52.7 C269.6,53.7 273.2,58 275.5,60.1 C277.8,62.3 280.1,64.9 280.1,65.7 C280.1,66.4 277.8,64.9 275.5,64.7 C273.2,64.6 269.3,64.9 266.2,64.7 C263.1,64.6 258.8,65.5 257,63.8 C255.1,62.1 253.6,56.4 255.1,54.6Z" fill="#f1eea8" />
<path d="M279.2,66 C279.6,65.4 282.6,65.6 283.8,66.6 C285,67.6 286.4,71 286.6,72.1 C286.7,73.3 285.6,73.7 284.7,73.4 C283.8,73.1 281.9,71.5 281,70.3 C280.1,69.1 278.7,66.7 279.2,66Z" fill="#f0d8a8" />
<path d="M232.9,64.7 C233.9,63.6 238.2,61.7 240.3,61.1 C242.5,60.4 245.3,60.2 245.9,61.1 C246.5,61.9 245.9,64.9 244,66 C242.2,67.2 236.6,68.1 234.8,67.9 C232.9,67.7 232,65.9 232.9,64.7Z" fill="#2e5a30" />
<path d="M279.2,75.8 C279.9,75.1 282.7,75.7 283.8,76.8 C284.9,77.8 285.8,81 285.6,82.3 C285.5,83.6 283.9,84.7 282.9,84.5 C281.8,84.4 280.1,82.8 279.5,81.4 C278.9,79.9 278.5,76.6 279.2,75.8Z" fill="#2e5a30" />
<path d="M254.2,62 C255.7,61 261.8,60.1 263.4,61.1 C265.1,62 265.3,66.1 264.4,67.5 C263.4,69 259.5,69.8 257.9,69.7 C256.3,69.7 255.4,68.4 254.8,67.2 C254.1,65.9 252.8,63 254.2,62Z" fill="#fff" />
<path d="M250.5,84.5 C252,83.6 256.5,82.3 257.9,83.4 C259.3,84.6 259,88.7 258.8,91.6 C258.7,94.5 257.8,98.1 257,100.8 C256.1,103.4 255.3,106.2 253.6,107.5 C252,108.7 248.2,109 246.8,108.2 C245.4,107.4 245.1,105 245.1,102.6 C245.2,100.3 246.7,96.6 247.4,94.3 C248,92 248.3,90.4 248.8,88.8 C249.4,87.1 249,85.4 250.5,84.5Z" fill="#fff" />
<circle cx="223.7" cy="119.3" r="0.6" fill="#e3e34a" />
<circle cx="227.4" cy="124.8" r="0.6" fill="#e3e34a" />
<circle cx="231.1" cy="130.4" r="0.6" fill="#e3e34a" />
<circle cx="236.6" cy="134.1" r="0.6" fill="#e3e34a" />
<circle cx="247.7" cy="132.2" r="0.6" fill="#e3e34a" />
<circle cx="257" cy="130.4" r="0.6" fill="#e3e34a" />
<circle cx="264.4" cy="126.7" r="0.6" fill="#e3e34a" />
<circle cx="271.8" cy="121.1" r="0.6" fill="#e3e34a" />
<circle cx="279.2" cy="111.9" r="0.6" fill="#e3e34a" />
<circle cx="283.8" cy="99" r="0.6" fill="#e3e34a" />
<circle cx="284.7" cy="93.4" r="0.6" fill="#e3e34a" />
<circle cx="222.8" cy="106.3" r="0.6" fill="#e3e34a" />
<path d="M243.9,165.6 C248.8,163.8 257.3,163.7 263.2,163.5 C269.1,163.4 275.3,163.5 279.3,164.8 C283.3,166.1 284.7,168.6 287.3,171.3 C290,173.9 293.9,177.4 295.4,180.9 C296.9,184.4 296.2,188.4 296.2,192.2 C296.2,195.9 295.5,199.4 295.4,203.4 C295.3,207.4 295.9,212.3 295.4,216.3 C294.8,220.3 293.8,223.5 292.2,227.5 C290.6,231.5 287.3,236.6 285.7,240.4 C284.1,244.1 285.2,247.6 282.5,250 C279.8,252.4 273.9,254.1 269.7,254.9 C265.4,255.7 261.1,255.1 256.8,254.9 C252.5,254.6 247.7,254.9 243.9,253.2 C240.2,251.6 237.2,248.2 234.3,245.2 C231.3,242.3 227.9,239 226.3,235.6 C224.6,232.1 225.3,228.1 224.6,224.3 C224,220.6 222.8,217.1 222.2,213.1 C221.7,209 220.8,204.7 221.4,200.2 C222.1,195.6 224.1,190 226.3,185.7 C228.4,181.4 231.3,177.8 234.3,174.5 C237.2,171.1 239.1,167.4 243.9,165.6Z" fill="#f7f3f6" />
<path d="M243.1,165.6 C244.9,164.5 251,163.3 252.8,164.5 C254.5,165.7 254.5,171.2 253.6,172.9 C252.6,174.5 249,174.7 247.2,174.5 C245.3,174.2 243,172.7 242.3,171.3 C241.7,169.8 241.4,166.8 243.1,165.6Z" fill="#f2efa8" />
<path d="M282.5,166.4 C283.3,165.1 286.8,168.8 289,171.3 C291.1,173.7 294.3,178.4 295.4,180.9 C296.5,183.4 296.5,185.7 295.4,186.5 C294.3,187.3 290.8,186.9 289,185.7 C287.1,184.5 285.2,182.5 284.1,179.3 C283.1,176.1 281.7,167.8 282.5,166.4Z" fill="#f2efa8" />
<path d="M227.1,183.3 C228.5,181.7 232.7,179.4 234.3,180.9 C235.9,182.4 237.5,189.9 236.7,192.2 C235.9,194.4 231.3,194.8 229.5,194.6 C227.6,194.3 225.9,192.4 225.5,190.5 C225,188.7 225.6,184.9 227.1,183.3Z" fill="#f2efa8" />
<path d="M252,165.6 C253.7,164.7 259.2,164.2 263.2,164 C267.3,163.9 272.9,164.2 276.1,164.8 C279.3,165.5 280.9,166.4 282.5,168 C284.1,169.6 285.2,172.1 285.7,174.5 C286.3,176.9 286.8,181 285.7,182.5 C284.7,184 282,183.3 279.3,183.3 C276.6,183.3 272.3,182.9 269.7,182.5 C267,182.1 265.4,181.3 263.2,180.9 C261.1,180.5 258.4,180.9 256.8,180.1 C255.2,179.3 254.3,177.8 253.6,176.1 C252.9,174.3 253,171.4 252.8,169.6 C252.5,167.9 250.2,166.6 252,165.6Z" fill="#f2c630" />
<path d="M232.7,184.1 C233.2,181.4 235.1,178.2 237.5,176.1 C239.9,173.9 244.7,171.5 247.2,171.3 C249.6,171 250.9,172.9 252,174.5 C253,176.1 253,178.5 253.6,180.9 C254.1,183.3 255.5,186.8 255.2,188.9 C254.9,191.1 254.1,192.7 252,193.8 C249.8,194.8 245.3,195.6 242.3,195.4 C239.4,195.1 235.9,194 234.3,192.2 C232.7,190.3 232.1,186.8 232.7,184.1Z" fill="#e27878" />
<path d="M222.2,194.6 C224.1,192.2 229.6,192.3 232.7,192.2 C235.8,192 240.2,192.2 240.7,193.8 C241.3,195.4 237.2,198.6 235.9,201.8 C234.6,205 234.6,210.9 232.7,213.1 C230.8,215.2 226.5,215.7 224.6,214.7 C222.8,213.6 221.8,210 221.4,206.6 C221,203.3 220.4,197 222.2,194.6Z" fill="#dcdcbc" />
<path d="M222.2,213.1 C221.8,211.2 222.4,207.6 223.8,205 C225.3,202.5 228.3,199.5 231.1,197.8 C233.9,196 237.4,194.9 240.7,194.6 C244.1,194.2 249.5,194.7 251.2,195.7 C252.8,196.7 252.3,199.6 250.7,200.5 C249.1,201.4 244.1,200.4 241.5,201 C238.9,201.6 236.8,201.8 235.1,204.2 C233.4,206.6 232.6,213.5 231.1,215.5 C229.6,217.5 227.7,216.7 226.3,216.3 C224.8,215.9 222.6,214.9 222.2,213.1Z" fill="#cc3c48" />
<path d="M232.7,203.4 C234.2,201.1 239.2,201 241.5,201 C243.8,201 245.9,201.7 246.4,203.4 C246.8,205.2 245.4,209 243.9,211.4 C242.5,213.9 239.4,217.3 237.5,217.9 C235.6,218.4 233.5,217.1 232.7,214.7 C231.9,212.3 231.2,205.7 232.7,203.4Z" fill="#e49a6c" />
<path d="M268.9,184.1 C270.9,183.4 278.6,182.9 282.5,183.3 C286.4,183.7 290,185.5 292.2,186.5 C294.3,187.6 295.7,189.2 295.4,189.7 C295.1,190.3 293.2,190.1 290.6,189.7 C287.9,189.3 282.7,187.7 279.3,187.3 C276,186.9 272.2,187.9 270.5,187.3 C268.7,186.8 266.8,184.8 268.9,184.1Z" fill="#27386a" />
<path d="M272.1,187.7 C273.7,186.5 279.2,187.3 282.5,187.7 C285.9,188 290.2,188.3 292.2,189.7 C294.2,191.2 295.1,194.7 294.6,196.2 C294,197.6 291.5,198.3 289,198.6 C286.4,198.9 282,198.5 279.3,197.8 C276.6,197.1 274.1,196.3 272.9,194.6 C271.7,192.9 270.5,188.8 272.1,187.7Z" fill="#92d0ea" />
<path d="M276.1,197.8 C278,197.1 285.7,198.2 289,197.8 C292.2,197.4 294.2,194.7 295.4,195.4 C296.6,196 297.5,200.5 296.2,201.8 C294.8,203.1 290.4,203.4 287.3,203.4 C284.3,203.5 279.6,203.1 277.7,202.1 C275.8,201.2 274.2,198.5 276.1,197.8Z" fill="#86aee0" />
<path d="M257.1,184.1 C257.9,183.4 261.9,182.9 263.2,183.3 C264.6,183.7 266,185.8 265.2,186.5 C264.4,187.3 259.7,188.1 258.4,187.7 C257.1,187.3 256.3,184.8 257.1,184.1Z" fill="#86aee0" />
<path d="M252.3,188.1 C253,186.2 256.1,186.2 257.1,187 C258.2,187.8 258.8,190.9 258.7,193 C258.7,195 257.8,198.5 256.8,199.4 C255.8,200.3 253.5,200.5 252.8,198.6 C252,196.7 251.6,190.1 252.3,188.1Z" fill="#3070b8" />
<path d="M241.5,192.2 C242,191.6 244.1,191.4 244.7,191.8 C245.4,192.2 245.7,194 245.2,194.6 C244.8,195.1 242.6,195.5 242,195 C241.4,194.6 241.1,192.7 241.5,192.2Z" fill="#27386a" />
<path d="M258.4,187.7 C259.7,186.4 264.4,186.2 266.4,186.5 C268.5,186.9 269.9,188.3 270.5,189.7 C271,191.2 270.9,194.2 269.7,195.4 C268.5,196.5 265.1,196.9 263.2,196.7 C261.4,196.4 259.5,195.3 258.7,193.8 C257.9,192.3 257.1,188.9 258.4,187.7Z" fill="#e8e858" />
<path d="M257.6,194.6 C258.1,194.2 261.1,196.6 263.2,196.2 C265.4,195.8 268.5,192.3 270.5,192.2 C272.5,192 274.4,193.2 275.3,195.4 C276.2,197.5 276.8,203.3 276.1,205 C275.4,206.8 272.9,206 271.3,205.8 C269.7,205.7 268.3,205.4 266.4,204.2 C264.6,203 261.5,200.2 260,198.6 C258.5,197 257.1,195 257.6,194.6Z" fill="#b07cc4" />
<path d="M245.5,201 C247.3,199.9 253,199.6 256.8,199.9 C260.6,200.1 264.3,202.4 268.1,202.6 C271.8,202.8 277.4,200.3 279.3,201 C281.2,201.7 282,205.4 279.3,206.6 C276.6,207.8 268.7,208.2 263.2,208.2 C257.7,208.2 249.3,207.8 246.4,206.6 C243.4,205.4 243.8,202.1 245.5,201Z" fill="#fff" />
<path d="M235.9,205.8 C237.9,204.4 245,203.5 247.2,204.7 C249.3,205.9 248.8,210.3 248.8,213.1 C248.8,215.8 249.3,219.8 247.2,221.1 C245,222.4 237.9,222.4 235.9,221.1 C233.9,219.8 235.1,215.6 235.1,213.1 C235.1,210.5 233.9,207.2 235.9,205.8Z" fill="#8cbe58" />
<path d="M276.9,204.2 C279.3,202.2 289.1,201.9 292.2,202.6 C295.3,203.3 294.8,205.2 295.4,208.2 C295.9,211.3 297.3,218.8 295.4,221.1 C293.5,223.4 287.1,223 284.1,221.9 C281.2,220.8 278.9,217.6 277.7,214.7 C276.5,211.7 274.5,206.2 276.9,204.2Z" fill="#8cbe58" />
<path d="M252.8,206.6 C255.5,204.6 266.7,204.4 269.7,206.3 C272.6,208.2 273.1,215.9 270.5,217.9 C267.8,219.9 256.5,220.1 253.6,218.2 C250.6,216.3 250.1,208.6 252.8,206.6Z" fill="#a2b048" />
<path d="M247.2,206.9 C248.1,205 252.4,204.7 253.6,206.6 C254.8,208.5 255.3,216.3 254.4,218.2 C253.5,220.1 249.2,220.1 248,218.2 C246.8,216.3 246.2,208.9 247.2,206.9Z" fill="#f08a34" />
<path d="M268.9,205.3 C270.5,203.2 276.9,203.4 278.5,205.3 C280.1,207.3 280.1,215 278.5,217.1 C276.9,219.2 270.5,219.8 268.9,217.9 C267.3,215.9 267.3,207.4 268.9,205.3Z" fill="#f08a34" />
<path d="M269.7,214.7 C271,212.3 277,212 279.3,213.1 C281.6,214.1 283.1,218.7 283.3,221.1 C283.6,223.5 282.9,226.5 280.9,227.5 C278.9,228.6 273.1,229.7 271.3,227.5 C269.4,225.4 268.3,217.1 269.7,214.7Z" fill="#66a67c" />
<path d="M244.7,203.4 C245.4,201.8 248.8,201.8 249.6,203.4 C250.4,205 250.2,211.4 249.6,213.1 C248.9,214.7 246.4,214.7 245.5,213.1 C244.7,211.4 244.1,205 244.7,203.4Z" fill="#66a67c" />
<path d="M231.1,221.9 C237.8,221 264.3,220.2 271.3,220.8 C278.2,221.3 275.6,224.2 272.9,225.1 C270.2,226 262.2,226.1 255.2,226.2 C248.2,226.4 235.1,226.6 231.1,225.9 C227.1,225.2 224.4,222.8 231.1,221.9Z" fill="#fff" />
<path d="M266.4,224.3 C267.8,223.1 274.2,222.7 276.1,223.5 C278,224.3 279,227.9 277.7,229.1 C276.4,230.3 269.9,231.5 268.1,230.7 C266.2,229.9 265.1,225.5 266.4,224.3Z" fill="#a2b048" />
<path d="M247.2,221.1 C249.7,220 259.5,220.2 263.2,220.8 C267,221.3 268.9,222.4 269.7,224.3 C270.5,226.2 270.2,231 268.1,232.3 C265.9,233.7 260.2,233.2 256.8,232.3 C253.5,231.5 249.6,229.4 248,227.5 C246.4,225.6 244.6,222.2 247.2,221.1Z" fill="#7078b8" />
<path d="M226.3,225.1 C229.1,223.5 240.9,223.4 243.9,225.1 C247,226.9 246.4,233.6 244.7,235.6 C243.1,237.6 237.2,237.3 234.3,237.2 C231.3,237 228.4,236.8 227.1,234.8 C225.7,232.7 223.4,226.7 226.3,225.1Z" fill="#c8acd8" />
<path d="M261.6,237.2 C264.7,235.2 274.5,234.8 279.3,234.8 C284.1,234.8 289,234.6 290.6,237.2 C292.2,239.7 290.8,247.1 289,250 C287.1,253 283.6,254.1 279.3,254.9 C275,255.7 266.3,256.2 263.2,254.9 C260.2,253.5 261.1,249.8 260.8,246.8 C260.6,243.9 258.5,239.2 261.6,237.2Z" fill="#c8acd8" />
<path d="M248,225.9 C250.1,224 258.3,224.8 261.6,225.9 C265,227 267,229.7 268.1,232.3 C269.1,235 269.1,239.7 268.1,242 C267,244.3 264.3,245.5 261.6,246 C258.9,246.5 254.1,246.7 252,245.2 C249.8,243.7 249.4,240.4 248.8,237.2 C248.1,234 245.8,227.8 248,225.9Z" fill="#f4d8ac" />
<path d="M253.6,234 C254.7,232.7 260,232.3 261.6,233.2 C263.2,234 264.3,237.6 263.2,238.8 C262.2,240 256.8,241.2 255.2,240.4 C253.6,239.6 252.5,235.2 253.6,234Z" fill="#fff" />
<path d="M234.3,235.6 C235.2,232.9 240.2,230.7 242.3,230.7 C244.5,230.7 245.4,233.4 247.2,235.6 C248.9,237.7 251.8,240.7 252.8,243.6 C253.8,246.5 254.5,251.4 253.3,252.9 C252.1,254.5 248.3,253.9 245.5,252.9 C242.8,251.9 238.6,249.7 236.7,246.8 C234.8,243.9 233.4,238.2 234.3,235.6Z" fill="#3e6c40" />
<path d="M259.2,243.6 C260.3,241.5 265,240.1 266.4,241.2 C267.9,242.3 269.1,247.9 268.1,250 C267,252.2 261.5,255.1 260,254.1 C258.5,253 258.1,245.7 259.2,243.6Z" fill="#3e6c40" />
</g>
<path d="M347.1,29.8 C350.8,29.2 359.7,29.4 366,29.4 C372.3,29.3 381.4,29 384.8,29.5 C388.2,30 385.6,31.4 386.4,32.2 C387.2,33.1 388.6,34.1 389.7,34.6 C390.8,35.1 390.5,35.1 392.9,35.5 C395.3,35.9 401.3,36.2 404.1,37.1 C406.9,38 408.7,39.1 409.8,41.1 C410.9,43.1 410.6,45.9 410.6,49.1 C410.6,52.3 410.6,57.2 409.8,60.4 C409,63.6 407.4,66.4 405.7,68.4 C403.9,70.4 400.9,71.6 399.3,72.4 C397.7,73.2 396.9,72 396.1,73.2 C395.3,74.4 395.3,77 394.5,79.7 C393.7,82.4 392.4,86.1 391.3,89.3 C390.2,92.5 389.5,95.8 388.1,99 C386.8,102.2 385.1,105.9 383.2,108.6 C381.3,111.3 379.5,113.4 376.8,115 C374.1,116.6 370.9,117.7 367.2,118.2 C363.4,118.7 358.1,118.7 354.3,118.2 C350.5,117.7 347,116.6 344.6,115 C342.2,113.4 340.7,111.5 339.8,108.6 C338.9,105.6 339,101 339,97.3 C339,93.5 339.3,90.1 339.8,86.1 C340.3,82.1 341.4,77 342.2,73.2 C343,69.5 343.7,65.9 344.6,63.6 C345.6,61.3 347.5,61 347.9,59.6 C348.3,58.2 347.7,57 347.1,55.5 C346.6,54 345.3,52.8 344.6,50.7 C343.9,48.6 343.1,45.7 343,42.7 C342.9,39.8 343.1,35.1 343.8,33 C344.5,30.9 343.4,30.4 347.1,29.8Z" fill="#d9d9d9" />
<path d="M367.2,78.9 C368.3,78.9 369.5,80.6 369.6,82.9 C369.7,85.2 368.7,90.1 368,92.5 C367.3,94.9 366.4,96 365.5,97.3 C364.6,98.6 363.4,100.3 362.3,100.6 C361.2,100.9 359.5,100.6 359.1,99 C358.7,97.4 359.2,93.6 359.9,90.9 C360.6,88.2 361.9,84.9 363.1,82.9 C364.3,80.9 366.1,78.9 367.2,78.9Z" fill="#fff" />
<path d="M357.5,55.8 C360.6,55.6 364.5,58.2 367.2,58.8 C369.9,59.4 371.5,59.5 373.6,59.6 C375.7,59.7 378.7,58.9 380,59.6 C381.3,60.3 382.1,62.7 381.6,63.6 C381.1,64.5 378.7,65.1 376.8,65.2 C374.9,65.3 372,64.8 370.4,64.4 C368.8,64 369.1,63.8 367.2,62.8 C365.3,61.8 362.2,58.5 359.1,58.2 C356,57.9 350.5,60.6 348.7,60.9 C346.9,61.2 347,60.9 348.5,60 C350,59.1 354.4,56 357.5,55.8Z" fill="#fff" />
<path d="M356.7,53.9 C357,53.1 358.9,52.8 360.7,52.7 C362.4,52.6 365.7,52.4 367.2,53.1 C368.7,53.9 371,56.5 369.6,57.2 C368.2,57.9 361.2,58 359.1,57.4 C357,56.8 356.4,54.7 356.7,53.9Z" fill="#f2d6a8" />
<path d="M385.6,58.8 C385.7,58 387.5,57.8 388.9,59.1 C390.2,60.4 392.4,64.7 393.7,66.8 C395,68.9 396.6,70.5 396.9,71.6 C397.2,72.7 396.2,73.5 395.3,73.2 C394.4,72.9 392.5,71.6 391.3,70 C390.1,68.4 389.1,65.5 388.1,63.6 C387.2,61.7 385.5,59.5 385.6,58.8Z" fill="#f2d6a8" />
<path d="M358.3,57.2 C359,56.4 362.8,56.3 364.7,56.4 C366.6,56.5 369.1,56.7 369.6,58 C370.2,59.3 368.8,63.5 368,64.4 C367.2,65.3 365.9,64.1 364.7,63.6 C363.5,63.1 361.8,62.3 360.7,61.2 C359.6,60.1 357.6,58 358.3,57.2Z" fill="#ad6cbe" />
<path d="M378.4,61.2 C379.7,60.3 382.9,59.3 384.8,59.6 C386.7,59.9 388.5,61.1 389.7,62.8 C390.9,64.5 392,68 392.1,70 C392.2,72 392,73.9 390.5,74.8 C389,75.7 385.2,76.1 383.2,75.6 C381.2,75.1 379.5,73.3 378.4,71.6 C377.3,69.9 376.8,66.9 376.8,65.2 C376.8,63.5 377.1,62.1 378.4,61.2Z" fill="#ad6cbe" />
<path d="M428.1,29.8 C431.8,29.2 440.7,29.4 447,29.4 C453.3,29.3 462.4,29 465.8,29.5 C469.2,30 466.6,31.4 467.4,32.2 C468.2,33.1 469.6,34.1 470.7,34.6 C471.8,35.1 471.5,35.1 473.9,35.5 C476.3,35.9 482.3,36.2 485.1,37.1 C487.9,38 489.7,39.1 490.8,41.1 C491.9,43.1 491.6,45.9 491.6,49.1 C491.6,52.3 491.6,57.2 490.8,60.4 C490,63.6 488.4,66.4 486.7,68.4 C484.9,70.4 481.9,71.6 480.3,72.4 C478.7,73.2 477.9,72 477.1,73.2 C476.3,74.4 476.3,77 475.5,79.7 C474.7,82.4 473.4,86.1 472.3,89.3 C471.2,92.5 470.5,95.8 469.1,99 C467.8,102.2 466.1,105.9 464.2,108.6 C462.3,111.3 460.5,113.4 457.8,115 C455.1,116.6 451.9,117.7 448.2,118.2 C444.4,118.7 439.1,118.7 435.3,118.2 C431.5,117.7 428,116.6 425.6,115 C423.2,113.4 421.7,111.5 420.8,108.6 C419.9,105.6 420,101 420,97.3 C420,93.5 420.3,90.1 420.8,86.1 C421.3,82.1 422.4,77 423.2,73.2 C424,69.5 424.7,65.9 425.6,63.6 C426.6,61.3 428.5,61 428.9,59.6 C429.3,58.2 428.7,57 428.1,55.5 C427.6,54 426.3,52.8 425.6,50.7 C424.9,48.6 424.1,45.7 424,42.7 C423.9,39.8 424.1,35.1 424.8,33 C425.5,30.9 424.4,30.4 428.1,29.8Z" fill="#d9d9d9" />
<path d="M448.2,78.9 C449.3,78.9 450.5,80.6 450.6,82.9 C450.7,85.2 449.7,90.1 449,92.5 C448.3,94.9 447.4,96 446.5,97.3 C445.6,98.6 444.4,100.3 443.3,100.6 C442.2,100.9 440.5,100.6 440.1,99 C439.7,97.4 440.2,93.6 440.9,90.9 C441.6,88.2 442.9,84.9 444.1,82.9 C445.3,80.9 447.1,78.9 448.2,78.9Z" fill="#fff" />
<path d="M438.5,55.8 C441.6,55.6 445.5,58.2 448.2,58.8 C450.9,59.4 452.5,59.5 454.6,59.6 C456.7,59.7 459.7,58.9 461,59.6 C462.3,60.3 463.1,62.7 462.6,63.6 C462.1,64.5 459.7,65.1 457.8,65.2 C455.9,65.3 453,64.8 451.4,64.4 C449.8,64 450.1,63.8 448.2,62.8 C446.3,61.8 443.2,58.5 440.1,58.2 C437,57.9 431.5,60.6 429.7,60.9 C427.9,61.2 428,60.9 429.5,60 C431,59.1 435.4,56 438.5,55.8Z" fill="#fff" />
<path d="M438,55 C438.3,53.9 441.2,53.4 443,53.5 C444.8,53.6 447.8,54.4 449,55.5 C450.2,56.6 450.7,58.7 450.4,60 C450.1,61.3 448.6,63.5 447,63.5 C445.4,63.5 442.5,61.4 441,60 C439.5,58.6 437.7,56.1 438,55Z" fill="#7cc2b2" />
<path d="M459,62 C460,60.8 462.2,58.8 464,58.5 C465.8,58.2 468.5,58.8 470,60 C471.5,61.2 471.7,63.8 473,66 C474.3,68.2 477.5,71.8 477.7,73.5 C477.9,75.2 476.1,75.6 474,75.9 C471.9,76.2 467.5,76.3 465,75.5 C462.5,74.7 460.2,72.6 459,71 C457.8,69.4 457.8,67.5 457.8,66 C457.8,64.5 458,63.2 459,62Z" fill="#7cc2b2" />
<circle cx="411.6" cy="16.4" r="4.1" fill="#7cc2b2" />
<text x="419.6" y="19.6" font-size="8.7" text-anchor="start" font-weight="normal" fill="#231f20" font-family="Liberation Sans" font-style="normal" >tumor/muscle interface</text>
<path d="M357.5,138.8 C362.3,138.4 377.8,138.2 383.4,138.8 C389,139.5 388.8,141 391.1,142.6 C393.4,144.3 395.4,146.7 397.2,148.7 C399,150.8 400.5,152.6 401.8,154.8 C403,157.1 404.2,159.9 404.8,162.5 C405.4,165 405.6,167.3 405.6,170.1 C405.6,172.9 405.1,176.2 404.8,179.3 C404.6,182.3 404.3,185.6 404,188.4 C403.8,191.2 403.9,193.3 403.3,196.1 C402.6,198.9 401.2,202.7 400.2,205.2 C399.2,207.8 398.2,209.3 397.2,211.3 C396.2,213.4 395.6,215.7 394.1,217.4 C392.6,219.2 391.1,221 388,222 C385,223 379.9,223.2 375.8,223.5 C371.7,223.9 366.6,224.8 363.6,224.3 C360.5,223.8 360,222.2 357.5,220.5 C354.9,218.8 350.9,216.4 348.3,214.4 C345.8,212.4 344,210.8 342.2,208.3 C340.4,205.7 338.9,202.2 337.6,199.1 C336.4,196.1 335.3,193 334.6,190 C333.8,186.9 333.2,183.9 333.1,180.8 C332.9,177.7 333.3,174.7 333.8,171.6 C334.3,168.6 334.7,165.3 336.1,162.5 C337.5,159.7 339.9,157.4 342.2,154.8 C344.5,152.3 347.8,149.5 349.8,147.2 C351.9,144.9 353.2,142.5 354.4,141.1 C355.7,139.7 352.6,139.2 357.5,138.8Z" fill="#d9d9d9" />
<path d="M356.7,175 C358.2,174.1 361.9,173.3 365.1,173.2 C368.3,173 373.3,173.4 375.8,173.9 C378.3,174.4 379.9,175.2 380.4,176.2 C380.9,177.2 380.6,179.3 378.9,180 C377.1,180.8 372.7,180.7 369.7,180.8 C366.6,180.9 362.8,180.9 360.5,180.5 C358.3,180.1 356.9,179.4 356.3,178.5 C355.6,177.6 355.2,175.9 356.7,175Z" fill="#fff" />
<path d="M333.8,191.8 C335.6,191 342.7,190.5 345.3,190.7 C347.8,190.9 348.8,192.1 349.1,193 C349.3,193.9 348.4,195.4 346.8,196.1 C345.1,196.7 341.2,196.9 339.2,196.8 C337.1,196.8 335.5,196.6 334.6,195.8 C333.7,194.9 332,192.6 333.8,191.8Z" fill="#fff" />
<path d="M352.9,206.8 C353.9,205.7 357.9,205.4 360.5,205.2 C363.2,205.1 367.3,205 368.9,206 C370.6,207 371.6,210.2 370.5,211.3 C369.3,212.5 364.7,212.9 362.1,212.9 C359.4,212.9 356,212.4 354.4,211.3 C352.9,210.3 351.9,207.8 352.9,206.8Z" fill="#fff" />
<path d="M378.9,204 C381.1,202.9 390.1,201.3 394.1,201 C398.2,200.6 402,201.3 403.3,202.2 C404.6,203.1 405.6,205.5 401.8,206.5 C397.9,207.4 384.2,208.1 380.4,207.7 C376.6,207.3 376.6,205.1 378.9,204Z" fill="#fff" />
<path d="M368.2,212.1 C368.6,210 370.2,210 370.6,212.1 C371,214.2 371,222.7 370.6,224.8 C370.2,226.9 368.6,226.9 368.2,224.8 C367.8,222.7 367.8,214.2 368.2,212.1Z" fill="#fff" />
<path d="M375,156.4 C375.7,155.1 379.7,156.4 381.1,157.9 C382.5,159.4 382.8,163.4 383.4,165.5 C384.1,167.7 385.5,169.7 385,170.9 C384.5,172 381.7,173.3 380.4,172.4 C379.1,171.5 378.2,168.2 377.3,165.5 C376.4,162.9 374.4,157.6 375,156.4Z" fill="#fff" />
<path d="M364.4,154.8 C364.9,154.5 366.9,154.5 367.4,154.8 C367.9,155.2 367.9,156.8 367.4,157.1 C366.9,157.5 364.9,157.5 364.4,157.1 C363.8,156.8 363.8,155.2 364.4,154.8Z" fill="#fff" />
<path d="M365.4,161.3 C365.9,160.9 367.7,160.9 368.2,161.3 C368.6,161.7 368.6,163.3 368.2,163.7 C367.7,164.1 365.9,164.1 365.4,163.7 C365,163.3 365,161.7 365.4,161.3Z" fill="#fff" />
<path d="M351.4,191.8 C356.2,191.1 375.4,190.4 380.4,190.9 C385.3,191.4 386,194.1 381.1,194.8 C376.3,195.6 356.3,195.7 351.4,195.2 C346.4,194.6 346.5,192.5 351.4,191.8Z" fill="#fff" opacity="0.7"/>
<path d="M383.4,161.3 C384.5,160.2 388.4,161.4 391.1,161.7 C393.7,162 397.7,162.6 399.5,163.2 C401.2,163.9 401.8,164.4 401.8,165.5 C401.8,166.6 401.2,169 399.5,169.8 C397.7,170.6 393.5,170.8 391.1,170.4 C388.7,170.1 386.2,169.4 385,167.8 C383.7,166.3 382.4,162.3 383.4,161.3Z" fill="#8ccfe8" />
<path d="M381.1,158.2 C382.2,157.4 385.6,157 388,156.8 C390.4,156.7 393.4,156.7 395.6,157.1 C397.9,157.6 400.1,158.6 401.8,159.4 C403.4,160.2 405.4,161.1 405.6,161.9 C405.7,162.7 404.4,164.2 402.5,164.3 C400.6,164.5 396.8,163 394.1,162.8 C391.5,162.5 388.6,162.9 386.5,162.8 C384.4,162.6 382.5,162.6 381.6,161.9 C380.7,161.1 380.1,159 381.1,158.2Z" fill="#2e3e74" />
<path d="M375.8,154.1 C376.4,153.7 379,153.7 379.6,154.1 C380.3,154.5 380.3,156.2 379.6,156.7 C379,157.1 376.4,157.1 375.8,156.7 C375.2,156.2 375.2,154.5 375.8,154.1Z" fill="#2e3e74" />
<path d="M352.1,167.4 C352.4,166.7 353.6,165.7 354.4,165.5 C355.2,165.4 356.7,165.7 356.9,166.3 C357.1,166.9 356.3,168.4 355.6,168.9 C355,169.4 353.5,169.8 352.9,169.5 C352.3,169.2 351.9,168 352.1,167.4Z" fill="#2e3e74" />
<path d="M445,138.8 C449.8,138.4 465.3,138.2 470.9,138.8 C476.5,139.5 476.3,141 478.6,142.6 C480.9,144.3 482.9,146.7 484.7,148.7 C486.5,150.8 488,152.6 489.3,154.8 C490.5,157.1 491.7,159.9 492.3,162.5 C492.9,165 493.1,167.3 493.1,170.1 C493.1,172.9 492.6,176.2 492.3,179.3 C492.1,182.3 491.8,185.6 491.5,188.4 C491.3,191.2 491.4,193.3 490.8,196.1 C490.1,198.9 488.7,202.7 487.7,205.2 C486.7,207.8 485.7,209.3 484.7,211.3 C483.7,213.4 483.1,215.7 481.6,217.4 C480.1,219.2 478.6,221 475.5,222 C472.5,223 467.4,223.2 463.3,223.5 C459.2,223.9 454.1,224.8 451.1,224.3 C448,223.8 447.5,222.2 445,220.5 C442.4,218.8 438.4,216.4 435.8,214.4 C433.3,212.4 431.5,210.8 429.7,208.3 C427.9,205.7 426.4,202.2 425.1,199.1 C423.9,196.1 422.8,193 422.1,190 C421.3,186.9 420.7,183.9 420.6,180.8 C420.4,177.7 420.8,174.7 421.3,171.6 C421.8,168.6 422.2,165.3 423.6,162.5 C425,159.7 427.4,157.4 429.7,154.8 C432,152.3 435.3,149.5 437.3,147.2 C439.4,144.9 440.7,142.5 441.9,141.1 C443.2,139.7 440.1,139.2 445,138.8Z" fill="#d9d9d9" />
<path d="M444.2,175 C445.7,174.1 449.4,173.3 452.6,173.2 C455.8,173 460.8,173.4 463.3,173.9 C465.8,174.4 467.4,175.2 467.9,176.2 C468.4,177.2 468.1,179.3 466.4,180 C464.6,180.8 460.2,180.7 457.2,180.8 C454.1,180.9 450.3,180.9 448,180.5 C445.8,180.1 444.4,179.4 443.8,178.5 C443.1,177.6 442.7,175.9 444.2,175Z" fill="#fff" />
<path d="M421.3,191.8 C423.1,191 430.2,190.5 432.8,190.7 C435.3,190.9 436.3,192.1 436.6,193 C436.8,193.9 435.9,195.4 434.3,196.1 C432.6,196.7 428.7,196.9 426.7,196.8 C424.6,196.8 423,196.6 422.1,195.8 C421.2,194.9 419.5,192.6 421.3,191.8Z" fill="#fff" />
<path d="M440.4,206.8 C441.4,205.7 445.4,205.4 448,205.2 C450.7,205.1 454.8,205 456.4,206 C458.1,207 459.1,210.2 458,211.3 C456.8,212.5 452.2,212.9 449.6,212.9 C446.9,212.9 443.5,212.4 441.9,211.3 C440.4,210.3 439.4,207.8 440.4,206.8Z" fill="#fff" />
<path d="M466.4,204 C468.6,202.9 477.6,201.3 481.6,201 C485.7,200.6 489.5,201.3 490.8,202.2 C492.1,203.1 493.1,205.5 489.3,206.5 C485.4,207.4 471.7,208.1 467.9,207.7 C464.1,207.3 464.1,205.1 466.4,204Z" fill="#fff" />
<path d="M455.7,212.1 C456.1,210 457.7,210 458.1,212.1 C458.5,214.2 458.5,222.7 458.1,224.8 C457.7,226.9 456.1,226.9 455.7,224.8 C455.3,222.7 455.3,214.2 455.7,212.1Z" fill="#fff" />
<path d="M462.5,156.4 C463.2,155.1 467.2,156.4 468.6,157.9 C470,159.4 470.3,163.4 470.9,165.5 C471.6,167.7 473,169.7 472.5,170.9 C472,172 469.2,173.3 467.9,172.4 C466.6,171.5 465.7,168.2 464.8,165.5 C463.9,162.9 461.9,157.6 462.5,156.4Z" fill="#fff" />
<path d="M451.9,154.8 C452.4,154.5 454.4,154.5 454.9,154.8 C455.4,155.2 455.4,156.8 454.9,157.1 C454.4,157.5 452.4,157.5 451.9,157.1 C451.3,156.8 451.3,155.2 451.9,154.8Z" fill="#fff" />
<path d="M452.9,161.3 C453.4,160.9 455.2,160.9 455.7,161.3 C456.1,161.7 456.1,163.3 455.7,163.7 C455.2,164.1 453.4,164.1 452.9,163.7 C452.5,163.3 452.5,161.7 452.9,161.3Z" fill="#fff" />
<path d="M438.9,191.8 C443.7,191.1 462.9,190.4 467.9,190.9 C472.8,191.4 473.5,194.1 468.6,194.8 C463.8,195.6 443.8,195.7 438.9,195.2 C433.9,194.6 434,192.5 438.9,191.8Z" fill="#fff" opacity="0.7"/>
<path d="M468.6,159.4 C469.5,158.5 473.1,158.1 475.5,157.9 C477.9,157.7 480.7,157.7 483.1,158.2 C485.6,158.7 488.5,159.9 490,160.6 C491.5,161.4 492.4,161.3 492.3,162.5 C492.2,163.7 490.5,166.5 489.3,167.8 C488,169.1 486.7,170 484.7,170.4 C482.6,170.9 479.1,170.9 477,170.4 C475,170 473.6,169 472.5,167.8 C471.3,166.6 470.8,164.6 470.2,163.2 C469.5,161.8 467.8,160.3 468.6,159.4Z" fill="#7cc2b2" />
<path d="M439.6,167.4 C439.9,166.7 441.1,165.7 441.9,165.5 C442.7,165.4 444.2,165.7 444.4,166.3 C444.6,166.9 443.8,168.4 443.1,168.9 C442.5,169.4 441,169.8 440.4,169.5 C439.8,169.2 439.4,168 439.6,167.4Z" fill="#7cc2b2" />
<path d="M463.3,154.1 C463.9,153.7 466.5,153.7 467.1,154.1 C467.8,154.5 467.8,156.2 467.1,156.7 C466.5,157.1 463.9,157.1 463.3,156.7 C462.7,156.2 462.7,154.5 463.3,154.1Z" fill="#7cc2b2" />
<line x1="518" y1="36" x2="518" y2="204" stroke="#333" stroke-width="0.9" />
<line x1="518" y1="204" x2="676.4" y2="204" stroke="#333" stroke-width="0.9" />
<line x1="515.5" y1="197.8" x2="518" y2="197.8" stroke="#333" stroke-width="0.8" />
<text x="515" y="200.4" font-size="7.4" text-anchor="end" font-weight="normal" fill="#555" font-family="Liberation Sans" font-style="normal" >0</text>
<line x1="515.5" y1="166.1" x2="518" y2="166.1" stroke="#333" stroke-width="0.8" />
<text x="515" y="168.7" font-size="7.4" text-anchor="end" font-weight="normal" fill="#555" font-family="Liberation Sans" font-style="normal" >10</text>
<line x1="515.5" y1="134.3" x2="518" y2="134.3" stroke="#333" stroke-width="0.8" />
<text x="515" y="136.9" font-size="7.4" text-anchor="end" font-weight="normal" fill="#555" font-family="Liberation Sans" font-style="normal" >20</text>
<line x1="515.5" y1="102.6" x2="518" y2="102.6" stroke="#333" stroke-width="0.8" />
<text x="515" y="105.2" font-size="7.4" text-anchor="end" font-weight="normal" fill="#555" font-family="Liberation Sans" font-style="normal" >30</text>
<line x1="515.5" y1="70.8" x2="518" y2="70.8" stroke="#333" stroke-width="0.8" />
<text x="515" y="73.4" font-size="7.4" text-anchor="end" font-weight="normal" fill="#555" font-family="Liberation Sans" font-style="normal" >40</text>
<line x1="515.5" y1="39.1" x2="518" y2="39.1" stroke="#333" stroke-width="0.8" />
<text x="515" y="41.7" font-size="7.4" text-anchor="end" font-weight="normal" fill="#555" font-family="Liberation Sans" font-style="normal" >50</text>
<line x1="526.1" y1="204" x2="526.1" y2="206.5" stroke="#333" stroke-width="0.8" />
<text x="526.1" y="213.2" font-size="7.2" text-anchor="middle" font-weight="normal" fill="#555" font-family="Liberation Sans" font-style="normal" >-1.5</text>
<line x1="550.2" y1="204" x2="550.2" y2="206.5" stroke="#333" stroke-width="0.8" />
<text x="550.2" y="213.2" font-size="7.2" text-anchor="middle" font-weight="normal" fill="#555" font-family="Liberation Sans" font-style="normal" >-1.0</text>
<line x1="574.3" y1="204" x2="574.3" y2="206.5" stroke="#333" stroke-width="0.8" />
<text x="574.3" y="213.2" font-size="7.2" text-anchor="middle" font-weight="normal" fill="#555" font-family="Liberation Sans" font-style="normal" >-0.5</text>
<line x1="598.4" y1="204" x2="598.4" y2="206.5" stroke="#333" stroke-width="0.8" />
<text x="598.4" y="213.2" font-size="7.2" text-anchor="middle" font-weight="normal" fill="#555" font-family="Liberation Sans" font-style="normal" >0.0</text>
<line x1="622.5" y1="204" x2="622.5" y2="206.5" stroke="#333" stroke-width="0.8" />
<text x="622.5" y="213.2" font-size="7.2" text-anchor="middle" font-weight="normal" fill="#555" font-family="Liberation Sans" font-style="normal" >0.5</text>
<line x1="646.6" y1="204" x2="646.6" y2="206.5" stroke="#333" stroke-width="0.8" />
<text x="646.6" y="213.2" font-size="7.2" text-anchor="middle" font-weight="normal" fill="#555" font-family="Liberation Sans" font-style="normal" >1.0</text>
<line x1="670.7" y1="204" x2="670.7" y2="206.5" stroke="#333" stroke-width="0.8" />
<text x="670.7" y="213.2" font-size="7.2" text-anchor="middle" font-weight="normal" fill="#555" font-family="Liberation Sans" font-style="normal" >1.5</text>
<text x="599.2" y="221" font-size="6.6" text-anchor="middle" font-weight="normal" fill="#231f20" font-family="Liberation Sans" font-style="normal" >log2 FC</text>
<text x="503.2" y="125" font-size="7" text-anchor="middle" font-weight="normal" fill="#231f20" font-family="Liberation Sans" font-style="normal" transform="rotate(-90 503.2 125)">-log10(pvalue)</text>
<text x="582.8" y="31.6" font-size="6.8" text-anchor="middle" font-weight="normal" fill="#231f20" font-family="Liberation Sans" font-style="normal" >-0.25</text>
<text x="582.6" y="37.9" font-size="6.8" text-anchor="middle" font-weight="normal" fill="#231f20" font-family="Liberation Sans" font-style="normal" >log2 FC</text>
<text x="611" y="31.6" font-size="6.8" text-anchor="middle" font-weight="normal" fill="#231f20" font-family="Liberation Sans" font-style="normal" >0.25</text>
<text x="610.6" y="37.9" font-size="6.8" text-anchor="middle" font-weight="normal" fill="#231f20" font-family="Liberation Sans" font-style="normal" >log2 FC</text>
<circle cx="578.5" cy="195.2" r="1.8" fill="#d9d9d9" />
<circle cx="584" cy="194.7" r="1.8" fill="#d9d9d9" />
<circle cx="594.8" cy="198.9" r="1.8" fill="#d9d9d9" />
<circle cx="569.1" cy="192.9" r="1.8" fill="#d9d9d9" />
<circle cx="579.4" cy="197.6" r="1.8" fill="#d9d9d9" />
<circle cx="610.3" cy="179.7" r="1.8" fill="#d9d9d9" />
<circle cx="603.6" cy="192" r="1.8" fill="#d9d9d9" />
<circle cx="595.3" cy="198.2" r="1.8" fill="#d9d9d9" />
<circle cx="595.1" cy="192.6" r="1.8" fill="#d9d9d9" />
<circle cx="590.5" cy="193.6" r="1.8" fill="#d9d9d9" />
<circle cx="596.7" cy="198.9" r="1.8" fill="#d9d9d9" />
<circle cx="600.3" cy="194.2" r="1.8" fill="#d9d9d9" />
<circle cx="581.1" cy="199.2" r="1.8" fill="#d9d9d9" />
<circle cx="604.8" cy="189.3" r="1.8" fill="#d9d9d9" />
<circle cx="598.7" cy="192.4" r="1.8" fill="#d9d9d9" />
<circle cx="598.5" cy="192.1" r="1.8" fill="#d9d9d9" />
<circle cx="585.1" cy="193.2" r="1.8" fill="#d9d9d9" />
<circle cx="587.2" cy="192.1" r="1.8" fill="#d9d9d9" />
<circle cx="605.4" cy="197" r="1.8" fill="#d9d9d9" />
<circle cx="574.2" cy="197.7" r="1.8" fill="#d9d9d9" />
<circle cx="609" cy="180.9" r="1.8" fill="#d9d9d9" />
<circle cx="594.8" cy="197.1" r="1.8" fill="#d9d9d9" />
<circle cx="589.8" cy="196.4" r="1.8" fill="#d9d9d9" />
<circle cx="583.2" cy="194.8" r="1.8" fill="#d9d9d9" />
<circle cx="593" cy="192.4" r="1.8" fill="#d9d9d9" />
<circle cx="597.1" cy="192.1" r="1.8" fill="#d9d9d9" />
<circle cx="604.4" cy="180.2" r="1.8" fill="#d9d9d9" />
<circle cx="596.7" cy="198.1" r="1.8" fill="#d9d9d9" />
<circle cx="604.6" cy="179.8" r="1.8" fill="#d9d9d9" />
<circle cx="606.5" cy="181.6" r="1.8" fill="#d9d9d9" />
<circle cx="598.4" cy="197.7" r="1.8" fill="#d9d9d9" />
<circle cx="603.4" cy="190.9" r="1.8" fill="#d9d9d9" />
<circle cx="580.5" cy="198.9" r="1.8" fill="#d9d9d9" />
<circle cx="604.3" cy="180.7" r="1.8" fill="#d9d9d9" />
<circle cx="572.2" cy="193.2" r="1.8" fill="#d9d9d9" />
<circle cx="585.7" cy="198.2" r="1.8" fill="#d9d9d9" />
<circle cx="580.8" cy="193.4" r="1.8" fill="#d9d9d9" />
<circle cx="605.1" cy="198.4" r="1.8" fill="#d9d9d9" />
<circle cx="594.3" cy="199" r="1.8" fill="#d9d9d9" />
<circle cx="598.6" cy="196.7" r="1.8" fill="#d9d9d9" />
<circle cx="605.5" cy="174.7" r="1.8" fill="#d9d9d9" />
<circle cx="589.7" cy="191.6" r="1.8" fill="#d9d9d9" />
<circle cx="581.5" cy="198.8" r="1.8" fill="#d9d9d9" />
<circle cx="593.7" cy="199.1" r="1.8" fill="#d9d9d9" />
<circle cx="576.8" cy="196.2" r="1.8" fill="#d9d9d9" />
<circle cx="594.1" cy="198.2" r="1.8" fill="#d9d9d9" />
<circle cx="570.3" cy="192.6" r="1.8" fill="#d9d9d9" />
<circle cx="581.7" cy="191.9" r="1.8" fill="#d9d9d9" />
<circle cx="606.1" cy="188.4" r="1.8" fill="#d9d9d9" />
<circle cx="587.8" cy="195.3" r="1.8" fill="#d9d9d9" />
<circle cx="595.5" cy="194.8" r="1.8" fill="#d9d9d9" />
<circle cx="592" cy="194.6" r="1.8" fill="#d9d9d9" />
<circle cx="608" cy="179.4" r="1.8" fill="#d9d9d9" />
<circle cx="586.6" cy="193.8" r="1.8" fill="#d9d9d9" />
<circle cx="578.5" cy="197.1" r="1.8" fill="#d9d9d9" />
<circle cx="609.5" cy="177.1" r="1.8" fill="#d9d9d9" />
<circle cx="591.5" cy="199.3" r="1.8" fill="#d9d9d9" />
<circle cx="585.9" cy="194.9" r="1.8" fill="#d9d9d9" />
<circle cx="569.4" cy="194.6" r="1.8" fill="#d9d9d9" />
<circle cx="595" cy="198.9" r="1.8" fill="#d9d9d9" />
<circle cx="594.8" cy="195.8" r="1.8" fill="#d9d9d9" />
<circle cx="597" cy="196.6" r="1.8" fill="#d9d9d9" />
<circle cx="598.2" cy="193.5" r="1.8" fill="#d9d9d9" />
<circle cx="569.4" cy="198.9" r="1.8" fill="#d9d9d9" />
<circle cx="596.9" cy="191.9" r="1.8" fill="#d9d9d9" />
<circle cx="579" cy="195.8" r="1.8" fill="#d9d9d9" />
<circle cx="593.4" cy="196.9" r="1.8" fill="#d9d9d9" />
<circle cx="583.8" cy="197" r="1.8" fill="#d9d9d9" />
<circle cx="584" cy="194.8" r="1.8" fill="#d9d9d9" />
<circle cx="581.1" cy="196.5" r="1.8" fill="#d9d9d9" />
<circle cx="600.9" cy="199.1" r="1.8" fill="#d9d9d9" />
<circle cx="592.4" cy="193.7" r="1.8" fill="#d9d9d9" />
<circle cx="581.5" cy="197.7" r="1.8" fill="#d9d9d9" />
<circle cx="602.2" cy="196.7" r="1.8" fill="#d9d9d9" />
<circle cx="576.4" cy="196" r="1.8" fill="#d9d9d9" />
<circle cx="597.8" cy="198.6" r="1.8" fill="#d9d9d9" />
<circle cx="582" cy="196.8" r="1.8" fill="#d9d9d9" />
<circle cx="603.5" cy="192.8" r="1.8" fill="#d9d9d9" />
<circle cx="604.4" cy="196.1" r="1.8" fill="#d9d9d9" />
<circle cx="582.6" cy="194.3" r="1.8" fill="#d9d9d9" />
<circle cx="605.6" cy="187.6" r="1.8" fill="#d9d9d9" />
<circle cx="578" cy="198.5" r="1.8" fill="#d9d9d9" />
<circle cx="590.7" cy="197.9" r="1.8" fill="#d9d9d9" />
<circle cx="602.3" cy="189.6" r="1.8" fill="#d9d9d9" />
<circle cx="576.2" cy="197.2" r="1.8" fill="#d9d9d9" />
<circle cx="602.4" cy="191.9" r="1.8" fill="#d9d9d9" />
<circle cx="602.3" cy="195.4" r="1.8" fill="#d9d9d9" />
<circle cx="574" cy="197.1" r="1.8" fill="#d9d9d9" />
<circle cx="601.8" cy="196.5" r="1.8" fill="#d9d9d9" />
<circle cx="583" cy="196.2" r="1.8" fill="#d9d9d9" />
<circle cx="586.1" cy="196.2" r="1.8" fill="#d9d9d9" />
<circle cx="607.1" cy="193.9" r="1.8" fill="#d9d9d9" />
<circle cx="568.7" cy="192.1" r="1.8" fill="#d9d9d9" />
<circle cx="605.4" cy="174.8" r="1.8" fill="#d9d9d9" />
<circle cx="586.7" cy="192" r="1.8" fill="#d9d9d9" />
<circle cx="607.4" cy="191.2" r="1.8" fill="#d9d9d9" />
<circle cx="599.8" cy="192.4" r="1.8" fill="#d9d9d9" />
<circle cx="596.3" cy="195.3" r="1.8" fill="#d9d9d9" />
<circle cx="580.6" cy="196.7" r="1.8" fill="#d9d9d9" />
<circle cx="578.1" cy="198.9" r="1.8" fill="#d9d9d9" />
<circle cx="593.2" cy="197.2" r="1.8" fill="#d9d9d9" />
<circle cx="602.5" cy="198.9" r="1.8" fill="#d9d9d9" />
<circle cx="606.4" cy="177.9" r="1.8" fill="#d9d9d9" />
<circle cx="607.3" cy="167.1" r="1.8" fill="#d9d9d9" />
<circle cx="606.2" cy="182.1" r="1.8" fill="#d9d9d9" />
<circle cx="569.1" cy="193.6" r="1.8" fill="#d9d9d9" />
<circle cx="575.7" cy="197.1" r="1.8" fill="#d9d9d9" />
<circle cx="596.3" cy="195.3" r="1.8" fill="#d9d9d9" />
<circle cx="585.9" cy="192.1" r="1.8" fill="#d9d9d9" />
<circle cx="594.2" cy="196.7" r="1.8" fill="#d9d9d9" />
<circle cx="579.1" cy="192.7" r="1.8" fill="#d9d9d9" />
<circle cx="588.5" cy="193.3" r="1.8" fill="#d9d9d9" />
<circle cx="583.3" cy="197.9" r="1.8" fill="#d9d9d9" />
<circle cx="590.9" cy="193" r="1.8" fill="#d9d9d9" />
<circle cx="575.7" cy="193.2" r="1.8" fill="#d9d9d9" />
<circle cx="607.2" cy="170.8" r="1.8" fill="#d9d9d9" />
<circle cx="603" cy="199.3" r="1.8" fill="#d9d9d9" />
<circle cx="594.9" cy="192.7" r="1.8" fill="#d9d9d9" />
<circle cx="570.6" cy="197.3" r="1.8" fill="#d9d9d9" />
<circle cx="579.8" cy="195.3" r="1.8" fill="#d9d9d9" />
<circle cx="586.3" cy="195.7" r="1.8" fill="#d9d9d9" />
<circle cx="601.1" cy="199.4" r="1.8" fill="#d9d9d9" />
<circle cx="570.8" cy="198.4" r="1.8" fill="#d9d9d9" />
<circle cx="573.7" cy="198.9" r="1.8" fill="#d9d9d9" />
<circle cx="609.4" cy="162.9" r="1.8" fill="#d9d9d9" />
<circle cx="572.1" cy="195.5" r="1.8" fill="#d9d9d9" />
<circle cx="581.8" cy="196.9" r="1.8" fill="#d9d9d9" />
<circle cx="583.2" cy="194.4" r="1.8" fill="#d9d9d9" />
<circle cx="593.1" cy="196.6" r="1.8" fill="#d9d9d9" />
<circle cx="576.5" cy="196.8" r="1.8" fill="#d9d9d9" />
<circle cx="573.7" cy="195.1" r="1.8" fill="#d9d9d9" />
<circle cx="598.5" cy="196.4" r="1.8" fill="#d9d9d9" />
<circle cx="571.9" cy="198" r="1.8" fill="#d9d9d9" />
<circle cx="584.2" cy="194.7" r="1.8" fill="#d9d9d9" />
<circle cx="601.3" cy="195.7" r="1.8" fill="#d9d9d9" />
<circle cx="602.1" cy="192.5" r="1.8" fill="#d9d9d9" />
<circle cx="586.6" cy="196.5" r="1.8" fill="#d9d9d9" />
<circle cx="589.3" cy="193.9" r="1.8" fill="#d9d9d9" />
<circle cx="586.1" cy="194" r="1.8" fill="#d9d9d9" />
<circle cx="587.8" cy="197.5" r="1.8" fill="#d9d9d9" />
<circle cx="591" cy="194" r="1.8" fill="#d9d9d9" />
<circle cx="571.5" cy="196.1" r="1.8" fill="#d9d9d9" />
<circle cx="586.4" cy="192.6" r="1.8" fill="#d9d9d9" />
<circle cx="607.8" cy="184.9" r="1.8" fill="#d9d9d9" />
<circle cx="606.2" cy="176.1" r="1.8" fill="#d9d9d9" />
<circle cx="579.5" cy="195.8" r="1.8" fill="#d9d9d9" />
<circle cx="573.7" cy="193.1" r="1.8" fill="#d9d9d9" />
<circle cx="596.3" cy="192.5" r="1.8" fill="#d9d9d9" />
<circle cx="601.7" cy="192.4" r="1.8" fill="#d9d9d9" />
<circle cx="599.3" cy="194.8" r="1.8" fill="#d9d9d9" />
<circle cx="572.8" cy="194.8" r="1.8" fill="#d9d9d9" />
<circle cx="568.7" cy="198.3" r="1.8" fill="#d9d9d9" />
<circle cx="601" cy="199" r="1.8" fill="#d9d9d9" />
<circle cx="572.4" cy="198.6" r="1.8" fill="#d9d9d9" />
<circle cx="605.4" cy="194.9" r="1.8" fill="#d9d9d9" />
<circle cx="569.5" cy="192.8" r="1.8" fill="#d9d9d9" />
<circle cx="573.6" cy="192.8" r="1.8" fill="#d9d9d9" />
<circle cx="596.8" cy="192.9" r="1.8" fill="#d9d9d9" />
<circle cx="608.5" cy="175.6" r="1.8" fill="#d9d9d9" />
<circle cx="602" cy="199" r="1.8" fill="#d9d9d9" />
<circle cx="600.7" cy="194.8" r="1.8" fill="#d9d9d9" />
<circle cx="598.5" cy="198.5" r="1.8" fill="#d9d9d9" />
<circle cx="599.9" cy="191.5" r="1.8" fill="#d9d9d9" />
<circle cx="571.1" cy="196.9" r="1.8" fill="#d9d9d9" />
<circle cx="592.2" cy="193" r="1.8" fill="#d9d9d9" />
<circle cx="578.7" cy="198" r="1.8" fill="#d9d9d9" />
<circle cx="579" cy="194.6" r="1.8" fill="#d9d9d9" />
<circle cx="600.1" cy="196" r="1.8" fill="#d9d9d9" />
<circle cx="583.9" cy="196.3" r="1.8" fill="#d9d9d9" />
<circle cx="583.2" cy="196.1" r="1.8" fill="#d9d9d9" />
<circle cx="572" cy="195.5" r="1.8" fill="#d9d9d9" />
<circle cx="609.3" cy="181.8" r="1.8" fill="#d9d9d9" />
<circle cx="599.9" cy="198" r="1.8" fill="#d9d9d9" />
<circle cx="597.5" cy="193.5" r="1.8" fill="#d9d9d9" />
<circle cx="596.8" cy="195.4" r="1.8" fill="#d9d9d9" />
<circle cx="588.8" cy="194.4" r="1.8" fill="#d9d9d9" />
<circle cx="606.1" cy="195" r="1.8" fill="#d9d9d9" />
<circle cx="572.5" cy="193.6" r="1.8" fill="#d9d9d9" />
<circle cx="607" cy="181.7" r="1.8" fill="#d9d9d9" />
<circle cx="587.1" cy="193.8" r="1.8" fill="#d9d9d9" />
<circle cx="576.3" cy="197.3" r="1.8" fill="#d9d9d9" />
<circle cx="576.9" cy="194.8" r="1.8" fill="#d9d9d9" />
<circle cx="581.7" cy="197.6" r="1.8" fill="#d9d9d9" />
<circle cx="597.5" cy="191.9" r="1.8" fill="#d9d9d9" />
<circle cx="580.9" cy="193.9" r="1.8" fill="#d9d9d9" />
<circle cx="585.8" cy="192.8" r="1.8" fill="#d9d9d9" />
<circle cx="593" cy="197.3" r="1.8" fill="#d9d9d9" />
<circle cx="577.6" cy="199.2" r="1.8" fill="#d9d9d9" />
<circle cx="588.6" cy="196.4" r="1.8" fill="#d9d9d9" />
<circle cx="575.7" cy="196.6" r="1.8" fill="#d9d9d9" />
<circle cx="582" cy="193.4" r="1.8" fill="#d9d9d9" />
<circle cx="574.5" cy="191.7" r="1.8" fill="#d9d9d9" />
<circle cx="588.6" cy="194.7" r="1.8" fill="#d9d9d9" />
<circle cx="588.1" cy="192.9" r="1.8" fill="#d9d9d9" />
<circle cx="603" cy="191.9" r="1.8" fill="#d9d9d9" />
<circle cx="588.7" cy="193.8" r="1.8" fill="#d9d9d9" />
<circle cx="604.4" cy="191.6" r="1.8" fill="#d9d9d9" />
<circle cx="599.3" cy="191.5" r="1.8" fill="#d9d9d9" />
<circle cx="588.1" cy="197.6" r="1.8" fill="#d9d9d9" />
<circle cx="578.4" cy="193.8" r="1.8" fill="#d9d9d9" />
<circle cx="596.8" cy="191.9" r="1.8" fill="#d9d9d9" />
<circle cx="604.3" cy="194.8" r="1.8" fill="#d9d9d9" />
<circle cx="576.5" cy="197.4" r="1.8" fill="#d9d9d9" />
<circle cx="576.4" cy="193.9" r="1.8" fill="#d9d9d9" />
<circle cx="604.5" cy="181.5" r="1.8" fill="#d9d9d9" />
<circle cx="579.2" cy="192.7" r="1.8" fill="#d9d9d9" />
<circle cx="581.7" cy="196.1" r="1.8" fill="#d9d9d9" />
<circle cx="599.1" cy="198.7" r="1.8" fill="#d9d9d9" />
<circle cx="572.4" cy="192.9" r="1.8" fill="#d9d9d9" />
<circle cx="580.8" cy="196.6" r="1.8" fill="#d9d9d9" />
<circle cx="592.9" cy="194.1" r="1.8" fill="#d9d9d9" />
<circle cx="568.8" cy="196.8" r="1.8" fill="#d9d9d9" />
<circle cx="586.8" cy="195.6" r="1.8" fill="#d9d9d9" />
<circle cx="577.3" cy="194.8" r="1.8" fill="#d9d9d9" />
<circle cx="608.6" cy="183.2" r="1.8" fill="#d9d9d9" />
<circle cx="591.3" cy="198.5" r="1.8" fill="#d9d9d9" />
<circle cx="580" cy="194.2" r="1.8" fill="#d9d9d9" />
<circle cx="573.2" cy="192.5" r="1.8" fill="#d9d9d9" />
<circle cx="606.6" cy="196.3" r="1.8" fill="#d9d9d9" />
<circle cx="608" cy="184.6" r="1.8" fill="#d9d9d9" />
<circle cx="600.9" cy="192.4" r="1.8" fill="#d9d9d9" />
<circle cx="580.9" cy="194.1" r="1.8" fill="#d9d9d9" />
<circle cx="595.9" cy="193.1" r="1.8" fill="#d9d9d9" />
<circle cx="579.7" cy="193.5" r="1.8" fill="#d9d9d9" />
<circle cx="608.8" cy="171.1" r="1.8" fill="#d9d9d9" />
<circle cx="591" cy="198.5" r="1.8" fill="#d9d9d9" />
<circle cx="589.2" cy="196.7" r="1.8" fill="#d9d9d9" />
<circle cx="598.6" cy="194" r="1.8" fill="#d9d9d9" />
<circle cx="592.3" cy="198" r="1.8" fill="#d9d9d9" />
<circle cx="595.6" cy="194.5" r="1.8" fill="#d9d9d9" />
<circle cx="576" cy="192.5" r="1.8" fill="#d9d9d9" />
<circle cx="596" cy="198.4" r="1.8" fill="#d9d9d9" />
<circle cx="607.6" cy="194.1" r="1.8" fill="#d9d9d9" />
<circle cx="582.4" cy="193.8" r="1.8" fill="#d9d9d9" />
<circle cx="593.6" cy="195.1" r="1.8" fill="#d9d9d9" />
<circle cx="595.7" cy="195.8" r="1.8" fill="#d9d9d9" />
<circle cx="581.6" cy="198" r="1.8" fill="#d9d9d9" />
<circle cx="571.4" cy="193.8" r="1.8" fill="#d9d9d9" />
<circle cx="600.2" cy="194.7" r="1.8" fill="#d9d9d9" />
<circle cx="599.5" cy="196.4" r="1.8" fill="#d9d9d9" />
<circle cx="579.7" cy="196.4" r="1.8" fill="#d9d9d9" />
<circle cx="605.1" cy="198.4" r="1.8" fill="#d9d9d9" />
<circle cx="589.7" cy="197.5" r="1.8" fill="#d9d9d9" />
<circle cx="600.8" cy="196.2" r="1.8" fill="#d9d9d9" />
<circle cx="582.5" cy="196.3" r="1.8" fill="#d9d9d9" />
<circle cx="591.2" cy="193.4" r="1.8" fill="#d9d9d9" />
<circle cx="583.3" cy="192.8" r="1.8" fill="#d9d9d9" />
<circle cx="573.2" cy="197.3" r="1.8" fill="#d9d9d9" />
<circle cx="572.7" cy="198.5" r="1.8" fill="#d9d9d9" />
<circle cx="601.2" cy="192.4" r="1.8" fill="#d9d9d9" />
<circle cx="576.3" cy="197.9" r="1.8" fill="#d9d9d9" />
<circle cx="586" cy="193.6" r="1.8" fill="#d9d9d9" />
<circle cx="602.7" cy="189.9" r="1.8" fill="#d9d9d9" />
<circle cx="593.3" cy="198.3" r="1.8" fill="#d9d9d9" />
<circle cx="585.2" cy="197.9" r="1.8" fill="#d9d9d9" />
<circle cx="590.6" cy="195" r="1.8" fill="#d9d9d9" />
<circle cx="577" cy="197.4" r="1.8" fill="#d9d9d9" />
<circle cx="601.3" cy="199.1" r="1.8" fill="#d9d9d9" />
<circle cx="602.2" cy="189.3" r="1.8" fill="#d9d9d9" />
<circle cx="608.3" cy="183.8" r="1.8" fill="#d9d9d9" />
<circle cx="591.7" cy="194.9" r="1.8" fill="#d9d9d9" />
<circle cx="595.1" cy="191.8" r="1.8" fill="#d9d9d9" />
<circle cx="597.3" cy="197" r="1.8" fill="#d9d9d9" />
<circle cx="604.6" cy="189.6" r="1.8" fill="#d9d9d9" />
<circle cx="593.7" cy="193.7" r="1.8" fill="#d9d9d9" />
<circle cx="568.6" cy="193.4" r="1.8" fill="#d9d9d9" />
<circle cx="596.3" cy="195.6" r="1.8" fill="#d9d9d9" />
<circle cx="590.5" cy="195.8" r="1.8" fill="#d9d9d9" />
<circle cx="576.6" cy="195.3" r="1.8" fill="#d9d9d9" />
<circle cx="570.1" cy="195.5" r="1.8" fill="#d9d9d9" />
<circle cx="595.6" cy="195.9" r="1.8" fill="#d9d9d9" />
<circle cx="592.3" cy="191.9" r="1.8" fill="#d9d9d9" />
<circle cx="605.9" cy="195.6" r="1.8" fill="#d9d9d9" />
<circle cx="601.7" cy="192.9" r="1.8" fill="#d9d9d9" />
<circle cx="570.6" cy="196.6" r="1.8" fill="#d9d9d9" />
<circle cx="578.3" cy="198.8" r="1.8" fill="#d9d9d9" />
<circle cx="591.1" cy="192.2" r="1.8" fill="#d9d9d9" />
<circle cx="582.1" cy="192.6" r="1.8" fill="#d9d9d9" />
<circle cx="597.6" cy="198.3" r="1.8" fill="#d9d9d9" />
<circle cx="604.5" cy="187.5" r="1.8" fill="#d9d9d9" />
<circle cx="607.4" cy="173.1" r="1.8" fill="#d9d9d9" />
<circle cx="599.5" cy="196.6" r="1.8" fill="#d9d9d9" />
<circle cx="602.3" cy="188.5" r="1.8" fill="#d9d9d9" />
<circle cx="604.6" cy="190.4" r="1.8" fill="#d9d9d9" />
<circle cx="600.3" cy="195.2" r="1.8" fill="#d9d9d9" />
<circle cx="573.1" cy="199.1" r="1.8" fill="#d9d9d9" />
<circle cx="571.8" cy="197.8" r="1.8" fill="#d9d9d9" />
<circle cx="575.3" cy="195.5" r="1.8" fill="#d9d9d9" />
<circle cx="597.8" cy="195.2" r="1.8" fill="#d9d9d9" />
<circle cx="586.2" cy="194.3" r="1.8" fill="#d9d9d9" />
<circle cx="581.3" cy="195.8" r="1.8" fill="#d9d9d9" />
<circle cx="600.3" cy="195.9" r="1.8" fill="#d9d9d9" />
<circle cx="576.1" cy="192.4" r="1.8" fill="#d9d9d9" />
<circle cx="598.7" cy="196.5" r="1.8" fill="#d9d9d9" />
<circle cx="584.1" cy="195.3" r="1.8" fill="#d9d9d9" />
<circle cx="593.5" cy="197.7" r="1.8" fill="#d9d9d9" />
<circle cx="568.6" cy="197.8" r="1.8" fill="#d9d9d9" />
<circle cx="601.4" cy="198" r="1.8" fill="#d9d9d9" />
<circle cx="587.8" cy="197.9" r="1.8" fill="#d9d9d9" />
<circle cx="577.3" cy="198.1" r="1.8" fill="#d9d9d9" />
<circle cx="585.4" cy="198.1" r="1.8" fill="#d9d9d9" />
<circle cx="569.7" cy="198.5" r="1.8" fill="#d9d9d9" />
<circle cx="575.6" cy="195.6" r="1.8" fill="#d9d9d9" />
<circle cx="571" cy="199.2" r="1.8" fill="#d9d9d9" />
<circle cx="587.3" cy="196.2" r="1.8" fill="#d9d9d9" />
<circle cx="598" cy="199" r="1.8" fill="#d9d9d9" />
<circle cx="585.4" cy="196.3" r="1.8" fill="#d9d9d9" />
<circle cx="569.6" cy="191.9" r="1.8" fill="#d9d9d9" />
<circle cx="577.7" cy="198.7" r="1.8" fill="#d9d9d9" />
<circle cx="588.4" cy="198.1" r="1.8" fill="#d9d9d9" />
<circle cx="594.6" cy="196.7" r="1.8" fill="#d9d9d9" />
<circle cx="573.7" cy="199" r="1.8" fill="#d9d9d9" />
<circle cx="599" cy="197.2" r="1.8" fill="#d9d9d9" />
<circle cx="601.6" cy="194.7" r="1.8" fill="#d9d9d9" />
<circle cx="607.6" cy="188" r="1.8" fill="#d9d9d9" />
<circle cx="579" cy="197.3" r="1.8" fill="#d9d9d9" />
<circle cx="602.7" cy="191.5" r="1.8" fill="#d9d9d9" />
<circle cx="583" cy="198.7" r="1.8" fill="#d9d9d9" />
<circle cx="597.1" cy="191.8" r="1.8" fill="#d9d9d9" />
<circle cx="593.4" cy="199.4" r="1.8" fill="#d9d9d9" />
<circle cx="569.8" cy="198.7" r="1.8" fill="#d9d9d9" />
<circle cx="575.7" cy="199.1" r="1.8" fill="#d9d9d9" />
<circle cx="570.8" cy="194.3" r="1.8" fill="#d9d9d9" />
<circle cx="606.3" cy="193.3" r="1.8" fill="#d9d9d9" />
<circle cx="609.4" cy="179" r="1.8" fill="#d9d9d9" />
<circle cx="602.2" cy="189" r="1.8" fill="#d9d9d9" />
<circle cx="607.9" cy="198" r="1.8" fill="#d9d9d9" />
<circle cx="581.3" cy="194.7" r="1.8" fill="#d9d9d9" />
<circle cx="608.2" cy="195.9" r="1.8" fill="#d9d9d9" />
<circle cx="580.8" cy="192.8" r="1.8" fill="#d9d9d9" />
<circle cx="573.3" cy="196.4" r="1.8" fill="#d9d9d9" />
<circle cx="582.5" cy="194.1" r="1.8" fill="#d9d9d9" />
<circle cx="607.5" cy="192.9" r="1.8" fill="#d9d9d9" />
<circle cx="599.5" cy="193.3" r="1.8" fill="#d9d9d9" />
<circle cx="603.6" cy="190.8" r="1.8" fill="#d9d9d9" />
<circle cx="607.2" cy="186.4" r="1.8" fill="#d9d9d9" />
<circle cx="585.9" cy="197.6" r="1.8" fill="#d9d9d9" />
<circle cx="601.2" cy="194.8" r="1.8" fill="#d9d9d9" />
<circle cx="579.8" cy="198.1" r="1.8" fill="#d9d9d9" />
<circle cx="598.7" cy="194.5" r="1.8" fill="#d9d9d9" />
<circle cx="598.3" cy="196.3" r="1.8" fill="#d9d9d9" />
<circle cx="588.9" cy="198.2" r="1.8" fill="#d9d9d9" />
<circle cx="598.3" cy="199.2" r="1.8" fill="#d9d9d9" />
<circle cx="588.1" cy="193.5" r="1.8" fill="#d9d9d9" />
<circle cx="596.9" cy="198.6" r="1.8" fill="#d9d9d9" />
<circle cx="578.5" cy="192.8" r="1.8" fill="#d9d9d9" />
<circle cx="595.5" cy="192.6" r="1.8" fill="#d9d9d9" />
<circle cx="605.1" cy="189" r="1.8" fill="#d9d9d9" />
<circle cx="606.1" cy="177.9" r="1.8" fill="#d9d9d9" />
<circle cx="582.5" cy="196.5" r="1.8" fill="#d9d9d9" />
<circle cx="571.5" cy="196.3" r="1.8" fill="#d9d9d9" />
<circle cx="608.6" cy="195" r="1.8" fill="#d9d9d9" />
<circle cx="592.4" cy="198.5" r="1.8" fill="#d9d9d9" />
<circle cx="571.9" cy="194.3" r="1.8" fill="#d9d9d9" />
<circle cx="578.6" cy="199" r="1.8" fill="#d9d9d9" />
<circle cx="574.9" cy="194.4" r="1.8" fill="#d9d9d9" />
<circle cx="593.1" cy="199.3" r="1.8" fill="#d9d9d9" />
<circle cx="578.2" cy="191.9" r="1.8" fill="#d9d9d9" />
<circle cx="577.7" cy="195" r="1.8" fill="#d9d9d9" />
<circle cx="586.1" cy="193.3" r="1.8" fill="#d9d9d9" />
<circle cx="593.9" cy="193.3" r="1.8" fill="#d9d9d9" />
<circle cx="591" cy="197.9" r="1.8" fill="#d9d9d9" />
<circle cx="576" cy="198.8" r="1.8" fill="#d9d9d9" />
<circle cx="603.1" cy="197.8" r="1.8" fill="#d9d9d9" />
<circle cx="569.5" cy="191.9" r="1.8" fill="#d9d9d9" />
<circle cx="576.9" cy="192.4" r="1.8" fill="#d9d9d9" />
<circle cx="572.1" cy="195.8" r="1.8" fill="#d9d9d9" />
<circle cx="577.9" cy="192.9" r="1.8" fill="#d9d9d9" />
<circle cx="594.3" cy="194.4" r="1.8" fill="#d9d9d9" />
<circle cx="600.4" cy="191.7" r="1.8" fill="#d9d9d9" />
<circle cx="583" cy="194.7" r="1.8" fill="#d9d9d9" />
<circle cx="587.2" cy="198.5" r="1.8" fill="#d9d9d9" />
<circle cx="603.5" cy="190.2" r="1.8" fill="#d9d9d9" />
<circle cx="602.7" cy="196.8" r="1.8" fill="#d9d9d9" />
<circle cx="591.1" cy="195.8" r="1.8" fill="#d9d9d9" />
<circle cx="599" cy="198.8" r="1.8" fill="#d9d9d9" />
<circle cx="583" cy="195.6" r="1.8" fill="#d9d9d9" />
<circle cx="571.5" cy="195.1" r="1.8" fill="#d9d9d9" />
<circle cx="599.4" cy="195.9" r="1.8" fill="#d9d9d9" />
<circle cx="595.7" cy="194.7" r="1.8" fill="#d9d9d9" />
<circle cx="577.5" cy="196.7" r="1.8" fill="#d9d9d9" />
<circle cx="610.3" cy="185.4" r="1.8" fill="#d9d9d9" />
<circle cx="586.6" cy="198.7" r="1.8" fill="#d9d9d9" />
<circle cx="577.7" cy="198.1" r="1.8" fill="#d9d9d9" />
<circle cx="607.6" cy="172.1" r="1.8" fill="#d9d9d9" />
<circle cx="605.2" cy="176.1" r="1.8" fill="#d9d9d9" />
<circle cx="594.2" cy="192.1" r="1.8" fill="#d9d9d9" />
<circle cx="591" cy="196.1" r="1.8" fill="#d9d9d9" />
<circle cx="608.3" cy="162.8" r="1.8" fill="#d9d9d9" />
<circle cx="608.3" cy="179.7" r="1.8" fill="#d9d9d9" />
<circle cx="601" cy="195.6" r="1.8" fill="#d9d9d9" />
<circle cx="610.3" cy="161.1" r="1.8" fill="#d9d9d9" />
<circle cx="580.8" cy="192.1" r="1.8" fill="#d9d9d9" />
<circle cx="576.3" cy="198.6" r="1.8" fill="#d9d9d9" />
<circle cx="598.8" cy="197" r="1.8" fill="#d9d9d9" />
<circle cx="590.3" cy="194.4" r="1.8" fill="#d9d9d9" />
<circle cx="570.2" cy="193.6" r="1.8" fill="#d9d9d9" />
<circle cx="580.1" cy="196" r="1.8" fill="#d9d9d9" />
<circle cx="583" cy="193.6" r="1.8" fill="#d9d9d9" />
<circle cx="599.8" cy="197" r="1.8" fill="#d9d9d9" />
<circle cx="550" cy="198" r="1.8" fill="#d9d9d9" />
<circle cx="556.7" cy="199" r="1.8" fill="#d9d9d9" />
<circle cx="551.1" cy="195.9" r="1.8" fill="#d9d9d9" />
<circle cx="563" cy="194.9" r="1.8" fill="#d9d9d9" />
<circle cx="569" cy="195.4" r="1.8" fill="#d9d9d9" />
<circle cx="555.9" cy="198.7" r="1.8" fill="#d9d9d9" />
<circle cx="554.6" cy="197.3" r="1.8" fill="#d9d9d9" />
<circle cx="559.2" cy="196.9" r="1.8" fill="#d9d9d9" />
<circle cx="555.6" cy="195.5" r="1.8" fill="#d9d9d9" />
<circle cx="554" cy="197.3" r="1.8" fill="#d9d9d9" />
<circle cx="567" cy="195.7" r="1.8" fill="#d9d9d9" />
<circle cx="554.2" cy="198.3" r="1.8" fill="#d9d9d9" />
<circle cx="565.3" cy="199.3" r="1.8" fill="#d9d9d9" />
<circle cx="550.6" cy="196.9" r="1.8" fill="#d9d9d9" />
<circle cx="559.4" cy="198.6" r="1.8" fill="#d9d9d9" />
<circle cx="548.9" cy="198.5" r="1.8" fill="#d9d9d9" />
<circle cx="564.5" cy="197.2" r="1.8" fill="#d9d9d9" />
<circle cx="569" cy="195.8" r="1.8" fill="#d9d9d9" />
<circle cx="569" cy="199.2" r="1.8" fill="#d9d9d9" />
<circle cx="551.8" cy="199.3" r="1.8" fill="#d9d9d9" />
<circle cx="557.2" cy="197.8" r="1.8" fill="#d9d9d9" />
<circle cx="548.9" cy="196.9" r="1.8" fill="#d9d9d9" />
<circle cx="549.8" cy="198" r="1.8" fill="#d9d9d9" />
<circle cx="553.2" cy="195.7" r="1.8" fill="#d9d9d9" />
<circle cx="556.9" cy="198.2" r="1.8" fill="#d9d9d9" />
<circle cx="577.2" cy="187.3" r="1.9" fill="#7aa6dc" />
<circle cx="579.1" cy="189.5" r="1.9" fill="#7aa6dc" />
<circle cx="582" cy="188.6" r="1.9" fill="#7aa6dc" />
<circle cx="584.4" cy="187" r="1.9" fill="#7aa6dc" />
<circle cx="580.6" cy="184.5" r="1.9" fill="#7aa6dc" />
<circle cx="583.5" cy="191.8" r="1.9" fill="#7aa6dc" />
<circle cx="575.3" cy="188.6" r="1.9" fill="#7aa6dc" />
<circle cx="578.2" cy="192.7" r="1.9" fill="#7aa6dc" />
<circle cx="535.7" cy="182.6" r="1.9" fill="#7aa6dc" />
<circle cx="537.2" cy="180.3" r="1.9" fill="#7aa6dc" />
<circle cx="538.1" cy="185.1" r="1.9" fill="#7aa6dc" />
<circle cx="536.7" cy="194" r="1.9" fill="#7aa6dc" />
<circle cx="550.2" cy="177.2" r="1.9" fill="#7aa6dc" />
<circle cx="547.8" cy="181.3" r="1.9" fill="#7aa6dc" />
<circle cx="545.4" cy="181.9" r="1.9" fill="#7aa6dc" />
<circle cx="557.4" cy="185.7" r="1.9" fill="#7aa6dc" />
<circle cx="559.8" cy="191.5" r="1.9" fill="#7aa6dc" />
<circle cx="555" cy="193" r="1.9" fill="#7aa6dc" />
<circle cx="562.2" cy="181.9" r="1.9" fill="#7aa6dc" />
<circle cx="564.7" cy="186.7" r="1.9" fill="#7aa6dc" />
<circle cx="563.7" cy="190.8" r="1.9" fill="#7aa6dc" />
<circle cx="567.1" cy="192.7" r="1.9" fill="#7aa6dc" />
<circle cx="569.5" cy="194" r="1.9" fill="#7aa6dc" />
<circle cx="574.3" cy="186.7" r="1.9" fill="#7aa6dc" />
<circle cx="576.7" cy="188.9" r="1.9" fill="#7aa6dc" />
<circle cx="579.1" cy="185.1" r="1.9" fill="#7aa6dc" />
<circle cx="581.5" cy="187.6" r="1.9" fill="#7aa6dc" />
<circle cx="583.9" cy="189.9" r="1.9" fill="#7aa6dc" />
<circle cx="582.5" cy="192.1" r="1.9" fill="#7aa6dc" />
<circle cx="578.2" cy="193" r="1.9" fill="#7aa6dc" />
<circle cx="580.1" cy="191.1" r="1.9" fill="#7aa6dc" />
<circle cx="584.9" cy="185.7" r="1.9" fill="#7aa6dc" />
<circle cx="583.5" cy="184.1" r="1.9" fill="#7aa6dc" />
<circle cx="574.3" cy="191.8" r="1.9" fill="#7aa6dc" />
<circle cx="571.9" cy="190.2" r="1.9" fill="#7aa6dc" />
<circle cx="585.4" cy="193.4" r="1.9" fill="#7aa6dc" />
<circle cx="581" cy="186.1" r="1.9" fill="#7aa6dc" />
<circle cx="576.2" cy="190.8" r="1.9" fill="#7aa6dc" />
<circle cx="541" cy="65" r="1.9" fill="#7aa6dc" />
<circle cx="538.6" cy="77.3" r="1.9" fill="#7aa6dc" />
<circle cx="550.6" cy="121.7" r="1.9" fill="#7aa6dc" />
<circle cx="615.7" cy="122.3" r="1.9" fill="#e07a80" />
<circle cx="613.8" cy="123.2" r="1.9" fill="#e07a80" />
<circle cx="611.4" cy="128.8" r="1.9" fill="#e07a80" />
<circle cx="614.3" cy="128.8" r="1.9" fill="#e07a80" />
<circle cx="615" cy="138.4" r="1.9" fill="#e07a80" />
<circle cx="618.1" cy="139.7" r="1.9" fill="#e07a80" />
<circle cx="625.1" cy="151.2" r="1.9" fill="#e07a80" />
<circle cx="619.8" cy="152.9" r="1.9" fill="#e07a80" />
<circle cx="611.4" cy="152.9" r="1.9" fill="#e07a80" />
<circle cx="610.9" cy="155.3" r="1.9" fill="#e07a80" />
<circle cx="611.9" cy="158.5" r="1.9" fill="#e07a80" />
<circle cx="613.8" cy="161.4" r="1.9" fill="#e07a80" />
<circle cx="610.2" cy="161.4" r="1.9" fill="#e07a80" />
<circle cx="622.2" cy="159.4" r="1.9" fill="#e07a80" />
<circle cx="628.3" cy="160.2" r="1.9" fill="#e07a80" />
<circle cx="621" cy="167.4" r="1.9" fill="#e07a80" />
<circle cx="612.1" cy="166.2" r="1.9" fill="#e07a80" />
<circle cx="615" cy="163.8" r="1.9" fill="#e07a80" />
<circle cx="610.9" cy="169.8" r="1.9" fill="#e07a80" />
<circle cx="613.8" cy="171" r="1.9" fill="#e07a80" />
<circle cx="611.4" cy="174.7" r="1.9" fill="#e07a80" />
<circle cx="615.7" cy="173.4" r="1.9" fill="#e07a80" />
<circle cx="619.8" cy="178.3" r="1.9" fill="#e07a80" />
<circle cx="611.4" cy="180.7" r="1.9" fill="#e07a80" />
<circle cx="613.8" cy="184.3" r="1.9" fill="#e07a80" />
<circle cx="616.2" cy="185" r="1.9" fill="#e07a80" />
<circle cx="610.9" cy="190.3" r="1.9" fill="#e07a80" />
<circle cx="609.4" cy="156.5" r="1.9" fill="#e07a80" />
<circle cx="612.6" cy="146.9" r="1.9" fill="#e07a80" />
<circle cx="610.2" cy="148.1" r="1.9" fill="#e07a80" />
<circle cx="609" cy="163.8" r="1.9" fill="#e07a80" />
<circle cx="610.7" cy="178.3" r="1.9" fill="#e07a80" />
<circle cx="613.1" cy="180.7" r="1.9" fill="#e07a80" />
<circle cx="609.7" cy="185.5" r="1.9" fill="#e07a80" />
<circle cx="610.2" cy="140.9" r="1.9" fill="#e07a80" />
<circle cx="616.6" cy="82.8" r="1.9" fill="#e07a80" />
<line x1="585" y1="40" x2="585" y2="204" stroke="#333" stroke-width="1.2" stroke-dasharray="3.2 2.2"/>
<line x1="609" y1="40" x2="609" y2="204" stroke="#333" stroke-width="1.2" stroke-dasharray="3.2 2.2"/>
<line x1="518" y1="194" x2="676.4" y2="194" stroke="#333" stroke-width="1.2" stroke-dasharray="3.2 2.2"/>
<circle cx="653.9" cy="46.8" r="1.7" fill="#e07a80" />
<text x="655.8" y="49.6" font-size="7.8" text-anchor="start" font-weight="normal" fill="#231f20" font-family="Liberation Sans" font-style="normal" >up</text>
<circle cx="653.9" cy="56.9" r="1.7" fill="#7aa6dc" />
<text x="655.8" y="59.7" font-size="7.8" text-anchor="start" font-weight="normal" fill="#231f20" font-family="Liberation Sans" font-style="normal" >down</text>
<circle cx="653.9" cy="67.2" r="1.7" fill="#d6d6d6" />
<text x="655.8" y="70" font-size="7.8" text-anchor="start" font-weight="normal" fill="#231f20" font-family="Liberation Sans" font-style="normal" >none</text>
<text x="520.9" y="47" font-size="7.3" text-anchor="start" font-weight="normal" fill="#231f20" font-family="Liberation Sans" font-style="normal" >zgc:158463</text>
<text x="554" y="53.8" font-size="7.3" text-anchor="start" font-weight="normal" fill="#231f20" font-family="Liberation Sans" font-style="normal" >si:dkey-153m14.1</text>
<text x="611" y="70.6" font-size="7.3" text-anchor="start" font-weight="normal" fill="#231f20" font-family="Liberation Sans" font-style="normal" >RPL41</text>
<text x="589.7" y="85.4" font-size="7.3" text-anchor="start" font-weight="normal" fill="#231f20" font-family="Liberation Sans" font-style="normal" >rps25</text>
<text x="603.9" y="94.2" font-size="7.3" text-anchor="start" font-weight="normal" fill="#231f20" font-family="Liberation Sans" font-style="normal" >rpl32</text>
<text x="621.9" y="98.6" font-size="7.3" text-anchor="start" font-weight="normal" fill="#231f20" font-family="Liberation Sans" font-style="normal" >rps21</text>
<text x="626" y="115" font-size="7.3" text-anchor="start" font-weight="normal" fill="#231f20" font-family="Liberation Sans" font-style="normal" >rplp2l</text>
<text x="634.8" y="137" font-size="7.3" text-anchor="start" font-weight="normal" fill="#231f20" font-family="Liberation Sans" font-style="normal" >hspb9</text>
<text x="590" y="142" font-size="7.3" text-anchor="start" font-weight="normal" fill="#231f20" font-family="Liberation Sans" font-style="normal" >rpl11</text>
<text x="530" y="109" font-size="7.3" text-anchor="start" font-weight="normal" fill="#231f20" font-family="Liberation Sans" font-style="normal" >wu:fi09b08.6</text>
<line x1="535" y1="48" x2="540.5" y2="62.5" stroke="#222" stroke-width="0.6" fill="none"/>
<polyline points="538.8,61.1 540.5,62.5 540.8,60.3" stroke="#222" stroke-width="0.6" fill="none"/>
<line x1="568" y1="56.5" x2="541" y2="76" stroke="#222" stroke-width="0.6" fill="none"/>
<polyline points="541.9,74 541,76 543.2,75.7" stroke="#222" stroke-width="0.6" fill="none"/>
<line x1="550.5" y1="111" x2="550.5" y2="119.5" stroke="#222" stroke-width="0.6" fill="none"/>
<polyline points="549.4,117.6 550.5,119.5 551.6,117.6" stroke="#222" stroke-width="0.6" fill="none"/>
<line x1="616.9" y1="73.3" x2="616.9" y2="80.5" stroke="#222" stroke-width="0.6" fill="none"/>
<polyline points="615.8,78.6 616.9,80.5 618,78.6" stroke="#222" stroke-width="0.6" fill="none"/>
<line x1="595.7" y1="85.8" x2="612.6" y2="126.4" stroke="#222" stroke-width="0.6" fill="none"/>
<polyline points="610.9,125 612.6,126.4 612.8,124.2" stroke="#222" stroke-width="0.6" fill="none"/>
<line x1="610.2" y1="95.5" x2="613.8" y2="121.5" stroke="#222" stroke-width="0.6" fill="none"/>
<polyline points="612.5,119.7 613.8,121.5 614.6,119.4" stroke="#222" stroke-width="0.6" fill="none"/>
<line x1="627.1" y1="100" x2="616.7" y2="120.3" stroke="#222" stroke-width="0.6" fill="none"/>
<polyline points="616.6,118.1 616.7,120.3 618.5,119.1" stroke="#222" stroke-width="0.6" fill="none"/>
<line x1="623.4" y1="116.7" x2="618.6" y2="137.2" stroke="#222" stroke-width="0.6" fill="none"/>
<polyline points="618,135.1 618.6,137.2 620.1,135.6" stroke="#222" stroke-width="0.6" fill="none"/>
<line x1="633.6" y1="139.7" x2="626.3" y2="150.5" stroke="#222" stroke-width="0.6" fill="none"/>
<polyline points="626.5,148.3 626.3,150.5 628.3,149.5" stroke="#222" stroke-width="0.6" fill="none"/>
<line x1="605.5" y1="140.1" x2="610" y2="140.9" stroke="#222" stroke-width="0.6" fill="none"/>
<polyline points="607.9,141.6 610,140.9 608.3,139.5" stroke="#222" stroke-width="0.6" fill="none"/>
<line x1="178.9" y1="286.3" x2="178.9" y2="399.8" stroke="#ececec" stroke-width="0.5" />
<line x1="205.1" y1="286.3" x2="205.1" y2="399.8" stroke="#ececec" stroke-width="0.5" />
<line x1="231.6" y1="286.3" x2="231.6" y2="399.8" stroke="#ececec" stroke-width="0.5" />
<line x1="257.6" y1="286.3" x2="257.6" y2="399.8" stroke="#ececec" stroke-width="0.5" />
<line x1="283.4" y1="286.3" x2="283.4" y2="399.8" stroke="#ececec" stroke-width="0.5" />
<line x1="309.3" y1="286.3" x2="309.3" y2="399.8" stroke="#ececec" stroke-width="0.5" />
<line x1="335.5" y1="286.3" x2="335.5" y2="399.8" stroke="#ececec" stroke-width="0.5" />
<line x1="171.8" y1="293.1" x2="338.8" y2="293.1" stroke="#ececec" stroke-width="0.5" />
<line x1="171.8" y1="304.2" x2="338.8" y2="304.2" stroke="#ececec" stroke-width="0.5" />
<line x1="171.8" y1="315.2" x2="338.8" y2="315.2" stroke="#ececec" stroke-width="0.5" />
<line x1="171.8" y1="326.3" x2="338.8" y2="326.3" stroke="#ececec" stroke-width="0.5" />
<line x1="171.8" y1="337.4" x2="338.8" y2="337.4" stroke="#ececec" stroke-width="0.5" />
<line x1="171.8" y1="348.5" x2="338.8" y2="348.5" stroke="#ececec" stroke-width="0.5" />
<line x1="171.8" y1="359.5" x2="338.8" y2="359.5" stroke="#ececec" stroke-width="0.5" />
<line x1="171.8" y1="370.9" x2="338.8" y2="370.9" stroke="#ececec" stroke-width="0.5" />
<line x1="171.8" y1="381.9" x2="338.8" y2="381.9" stroke="#ececec" stroke-width="0.5" />
<line x1="171.8" y1="393" x2="338.8" y2="393" stroke="#ececec" stroke-width="0.5" />
<rect x="178.9" y="290.4" width="152.1" height="5.4" fill="#6d9bd7" />
<line x1="169.6" y1="293.1" x2="171.8" y2="293.1" stroke="#333" stroke-width="0.6" />
<text x="168.4" y="295.2" font-size="6.77" text-anchor="end" font-weight="normal" fill="#231f20" font-family="Liberation Sans" font-style="normal" >mRNA processing</text>
<rect x="178.9" y="301.5" width="152.1" height="5.4" fill="#6d9bd7" />
<line x1="169.6" y1="304.2" x2="171.8" y2="304.2" stroke="#333" stroke-width="0.6" />
<text x="168.4" y="306.3" font-size="6.77" text-anchor="end" font-weight="normal" fill="#231f20" font-family="Liberation Sans" font-style="normal" >ribonucleoprotein complex biogenesis</text>
<rect x="178.9" y="312.5" width="151.2" height="5.4" fill="#6d9bd7" />
<line x1="169.6" y1="315.2" x2="171.8" y2="315.2" stroke="#333" stroke-width="0.6" />
<text x="168.4" y="317.3" font-size="6.77" text-anchor="end" font-weight="normal" fill="#231f20" font-family="Liberation Sans" font-style="normal" >RNA splicing</text>
<rect x="178.9" y="323.6" width="148" height="5.4" fill="#6d9bd7" />
<line x1="169.6" y1="326.3" x2="171.8" y2="326.3" stroke="#333" stroke-width="0.6" />
<text x="168.4" y="328.4" font-size="6.77" text-anchor="end" font-weight="normal" fill="#231f20" font-family="Liberation Sans" font-style="normal" >RNA splicing, via transesterification reactions</text>
<rect x="178.9" y="334.7" width="148" height="5.4" fill="#6d9bd7" />
<line x1="169.6" y1="337.4" x2="171.8" y2="337.4" stroke="#333" stroke-width="0.6" />
<rect x="178.9" y="345.8" width="148" height="5.4" fill="#6d9bd7" />
<line x1="169.6" y1="348.5" x2="171.8" y2="348.5" stroke="#333" stroke-width="0.6" />
<text x="168.4" y="350.6" font-size="6.77" text-anchor="end" font-weight="normal" fill="#231f20" font-family="Liberation Sans" font-style="normal" >mRNA splicing, via spliceosome</text>
<rect x="178.9" y="356.8" width="131.2" height="5.4" fill="#6d9bd7" />
<line x1="169.6" y1="359.5" x2="171.8" y2="359.5" stroke="#333" stroke-width="0.6" />
<text x="168.4" y="361.6" font-size="6.77" text-anchor="end" font-weight="normal" fill="#231f20" font-family="Liberation Sans" font-style="normal" >mRNA metabolic process</text>
<rect x="178.9" y="368.2" width="101" height="5.4" fill="#6d9bd7" />
<line x1="169.6" y1="370.9" x2="171.8" y2="370.9" stroke="#333" stroke-width="0.6" />
<text x="168.4" y="373" font-size="6.77" text-anchor="end" font-weight="normal" fill="#231f20" font-family="Liberation Sans" font-style="normal" >ribosome biogenesis</text>
<rect x="178.9" y="379.2" width="99.9" height="5.4" fill="#6d9bd7" />
<line x1="169.6" y1="381.9" x2="171.8" y2="381.9" stroke="#333" stroke-width="0.6" />
<text x="168.4" y="384" font-size="6.77" text-anchor="end" font-weight="normal" fill="#231f20" font-family="Liberation Sans" font-style="normal" >protein-RNA complex assembly</text>
<rect x="178.9" y="390.3" width="96.4" height="5.4" fill="#6d9bd7" />
<line x1="169.6" y1="393" x2="171.8" y2="393" stroke="#333" stroke-width="0.6" />
<text x="168.4" y="395.1" font-size="6.77" text-anchor="end" font-weight="normal" fill="#231f20" font-family="Liberation Sans" font-style="normal" >protein-RNA complex organization</text>
<text x="168.4" y="336.6" font-size="6.77" text-anchor="end" font-weight="normal" fill="#231f20" font-family="Liberation Sans" font-style="normal" >RNA splicing, via transesterification reactions</text>
<text x="168.4" y="342.2" font-size="6.77" text-anchor="end" font-weight="normal" fill="#231f20" font-family="Liberation Sans" font-style="normal" >with bulged adenosine as nucleophile</text>
<rect x="171.8" y="286.3" width="167" height="113.5" fill="none" stroke="#444" stroke-width="0.8"/>
<line x1="178.9" y1="399.8" x2="178.9" y2="402" stroke="#333" stroke-width="0.6" />
<line x1="231.6" y1="399.8" x2="231.6" y2="402" stroke="#333" stroke-width="0.6" />
<line x1="283.4" y1="399.8" x2="283.4" y2="402" stroke="#333" stroke-width="0.6" />
<line x1="335.5" y1="399.8" x2="335.5" y2="402" stroke="#333" stroke-width="0.6" />
<text x="255" y="419.3" font-size="9.4" text-anchor="middle" font-weight="normal" fill="#231f20" font-family="Liberation Sans" font-style="normal" >-log10(P_value)</text>
<text x="24" y="334" font-size="9.5" text-anchor="middle" font-weight="normal" fill="#231f20" font-family="Liberation Sans" font-style="normal" transform="rotate(-90 24 334)">GO Term</text>
<text x="29.4" y="401.4" font-size="9.5" text-anchor="start" font-weight="normal" fill="#231f20" font-family="Liberation Sans" font-style="normal" >Type</text>
<rect x="34" y="405.3" width="11.3" height="11" fill="#6d9bd7" />
<text x="46.8" y="414.8" font-size="9.5" text-anchor="start" font-weight="normal" fill="#231f20" font-family="Liberation Sans" font-style="normal" >biological process</text>
<text x="84.8" y="483" font-size="9.6" text-anchor="middle" font-weight="normal" fill="#231f20" font-family="Liberation Sans" font-style="normal" >Slice A</text>
<text x="258" y="482.2" font-size="9.6" text-anchor="middle" font-weight="normal" fill="#231f20" font-family="Liberation Sans" font-style="normal" >Slice B</text>
<rect x="15.3" y="486.7" width="145.9" height="117.2" fill="none" stroke="#555" stroke-width="0.8"/>
<rect x="186.1" y="487.6" width="146.5" height="113.9" fill="none" stroke="#555" stroke-width="0.8"/>
<text x="80.2" y="616.5" font-size="9.6" text-anchor="middle" font-weight="normal" fill="#231f20" font-family="Liberation Sans" font-style="normal" >UMAP1</text>
<text x="262" y="616.6" font-size="9.6" text-anchor="middle" font-weight="normal" fill="#231f20" font-family="Liberation Sans" font-style="normal" >UMAP1</text>
<text x="13.4" y="532.8" font-size="9.6" text-anchor="middle" font-weight="normal" fill="#231f20" font-family="Liberation Sans" font-style="normal" transform="rotate(-90 13.4 532.8)">UMAP2</text>
<text x="184.2" y="533" font-size="9.6" text-anchor="middle" font-weight="normal" fill="#231f20" font-family="Liberation Sans" font-style="normal" transform="rotate(-90 184.2 533)">UMAP2</text>
<circle cx="165.4" cy="496.9" r="2.5" fill="#7ba7dc" />
<text x="168.9" y="499.4" font-size="7.5" text-anchor="start" font-weight="normal" fill="#231f20" font-family="Liberation Serif" font-style="normal" >1</text>
<circle cx="165.4" cy="505.4" r="2.5" fill="#6a70b2" />
<text x="168.9" y="507.9" font-size="7.5" text-anchor="start" font-weight="normal" fill="#231f20" font-family="Liberation Serif" font-style="normal" >2</text>
<circle cx="165.4" cy="514" r="2.5" fill="#c4a6d6" />
<text x="168.9" y="516.5" font-size="7.5" text-anchor="start" font-weight="normal" fill="#231f20" font-family="Liberation Serif" font-style="normal" >3</text>
<circle cx="165.4" cy="522" r="2.5" fill="#5a9f72" />
<text x="168.9" y="524.5" font-size="7.5" text-anchor="start" font-weight="normal" fill="#231f20" font-family="Liberation Serif" font-style="normal" >4</text>
<circle cx="165.4" cy="530.4" r="2.5" fill="#a65cb5" />
<text x="168.9" y="532.9" font-size="7.5" text-anchor="start" font-weight="normal" fill="#231f20" font-family="Liberation Serif" font-style="normal" >5</text>
<circle cx="165.4" cy="538.9" r="2.5" fill="#ef7f22" />
<text x="168.9" y="541.4" font-size="7.5" text-anchor="start" font-weight="normal" fill="#231f20" font-family="Liberation Serif" font-style="normal" >6</text>
<circle cx="165.4" cy="547.2" r="2.5" fill="#1f4a22" />
<text x="168.9" y="549.7" font-size="7.5" text-anchor="start" font-weight="normal" fill="#231f20" font-family="Liberation Serif" font-style="normal" >7</text>
<circle cx="165.4" cy="555.5" r="2.5" fill="#e3e34a" />
<text x="168.9" y="558" font-size="7.5" text-anchor="start" font-weight="normal" fill="#231f20" font-family="Liberation Serif" font-style="normal" >8</text>
<circle cx="165.4" cy="564.1" r="2.5" fill="#c0202e" />
<text x="168.9" y="566.6" font-size="7.5" text-anchor="start" font-weight="normal" fill="#231f20" font-family="Liberation Serif" font-style="normal" >9</text>
<circle cx="165.4" cy="572.6" r="2.5" fill="#f2c22a" />
<text x="168.9" y="575.1" font-size="7.5" text-anchor="start" font-weight="normal" fill="#231f20" font-family="Liberation Serif" font-style="normal" >10</text>
<circle cx="165.4" cy="581.2" r="2.5" fill="#f3efa0" />
<text x="168.9" y="583.7" font-size="7.5" text-anchor="start" font-weight="normal" fill="#231f20" font-family="Liberation Serif" font-style="normal" >11</text>
<circle cx="165.4" cy="589.7" r="2.5" fill="#f3d3a3" />
<text x="168.9" y="592.2" font-size="7.5" text-anchor="start" font-weight="normal" fill="#231f20" font-family="Liberation Serif" font-style="normal" >12</text>
<circle cx="165.4" cy="597.6" r="2.5" fill="#86bb4e" />
<text x="168.9" y="600.1" font-size="7.5" text-anchor="start" font-weight="normal" fill="#231f20" font-family="Liberation Serif" font-style="normal" >13</text>
<circle cx="339.1" cy="500.7" r="2.5" fill="#7ba7dc" />
<text x="342.9" y="503.5" font-size="8.2" text-anchor="start" font-weight="normal" fill="#231f20" font-family="Liberation Serif" font-style="normal" >1</text>
<circle cx="356.9" cy="500.7" r="2.5" fill="#d9d9b4" />
<text x="360.3" y="503.5" font-size="8.2" text-anchor="start" font-weight="normal" fill="#231f20" font-family="Liberation Serif" font-style="normal" >11</text>
<circle cx="339.1" cy="510.7" r="2.5" fill="#f2f0a0" />
<text x="342.9" y="513.5" font-size="8.2" text-anchor="start" font-weight="normal" fill="#231f20" font-family="Liberation Serif" font-style="normal" >2</text>
<circle cx="356.9" cy="510.7" r="2.5" fill="#1f4a22" />
<text x="360.3" y="513.5" font-size="8.2" text-anchor="start" font-weight="normal" fill="#231f20" font-family="Liberation Serif" font-style="normal" >12</text>
<circle cx="339.1" cy="520.7" r="2.5" fill="#5b9e72" />
<text x="342.9" y="523.5" font-size="8.2" text-anchor="start" font-weight="normal" fill="#231f20" font-family="Liberation Serif" font-style="normal" >3</text>
<circle cx="356.9" cy="520.7" r="2.5" fill="#e09060" />
<text x="360.3" y="523.5" font-size="8.2" text-anchor="start" font-weight="normal" fill="#231f20" font-family="Liberation Serif" font-style="normal" >13</text>
<circle cx="339.1" cy="530.8" r="2.5" fill="#ef7f22" />
<text x="342.9" y="533.6" font-size="8.2" text-anchor="start" font-weight="normal" fill="#231f20" font-family="Liberation Serif" font-style="normal" >4</text>
<circle cx="356.9" cy="530.8" r="2.5" fill="#c4a6d6" />
<text x="360.3" y="533.6" font-size="8.2" text-anchor="start" font-weight="normal" fill="#231f20" font-family="Liberation Serif" font-style="normal" >14</text>
<circle cx="339.1" cy="540.8" r="2.5" fill="#6a70b2" />
<text x="342.9" y="543.6" font-size="8.2" text-anchor="start" font-weight="normal" fill="#231f20" font-family="Liberation Serif" font-style="normal" >5</text>
<circle cx="356.9" cy="540.8" r="2.5" fill="#f3d3a3" />
<text x="360.3" y="543.6" font-size="8.2" text-anchor="start" font-weight="normal" fill="#231f20" font-family="Liberation Serif" font-style="normal" >15</text>
<circle cx="339.1" cy="550.9" r="2.5" fill="#f2c22a" />
<text x="342.9" y="553.7" font-size="8.2" text-anchor="start" font-weight="normal" fill="#231f20" font-family="Liberation Serif" font-style="normal" >6</text>
<circle cx="356.9" cy="550.9" r="2.5" fill="#c0202e" />
<text x="360.3" y="553.7" font-size="8.2" text-anchor="start" font-weight="normal" fill="#231f20" font-family="Liberation Serif" font-style="normal" >16</text>
<circle cx="339.1" cy="560.9" r="2.5" fill="#1a2a5e" />
<text x="342.9" y="563.7" font-size="8.2" text-anchor="start" font-weight="normal" fill="#231f20" font-family="Liberation Serif" font-style="normal" >7</text>
<circle cx="356.9" cy="560.9" r="2.5" fill="#9aab3a" />
<text x="360.3" y="563.7" font-size="8.2" text-anchor="start" font-weight="normal" fill="#231f20" font-family="Liberation Serif" font-style="normal" >17</text>
<circle cx="339.1" cy="571" r="2.5" fill="#86bb4e" />
<text x="342.9" y="573.8" font-size="8.2" text-anchor="start" font-weight="normal" fill="#231f20" font-family="Liberation Serif" font-style="normal" >8</text>
<circle cx="356.9" cy="571" r="2.5" fill="#2a6ab8" />
<text x="360.3" y="573.8" font-size="8.2" text-anchor="start" font-weight="normal" fill="#231f20" font-family="Liberation Serif" font-style="normal" >18</text>
<circle cx="339.1" cy="581" r="2.5" fill="#87cce8" />
<text x="342.9" y="583.8" font-size="8.2" text-anchor="start" font-weight="normal" fill="#231f20" font-family="Liberation Serif" font-style="normal" >9</text>
<circle cx="356.9" cy="581" r="2.5" fill="#e07070" />
<text x="360.3" y="583.8" font-size="8.2" text-anchor="start" font-weight="normal" fill="#231f20" font-family="Liberation Serif" font-style="normal" >19</text>
<circle cx="339.1" cy="591" r="2.5" fill="#a65cb5" />
<text x="342.9" y="593.8" font-size="8.2" text-anchor="start" font-weight="normal" fill="#231f20" font-family="Liberation Serif" font-style="normal" >10</text>
<circle cx="356.9" cy="591" r="2.5" fill="#e3e34a" />
<text x="360.3" y="593.8" font-size="8.2" text-anchor="start" font-weight="normal" fill="#231f20" font-family="Liberation Serif" font-style="normal" >20</text>
<path d="M36.7 552.7h0M51.2 547.8h0M38.4 554.1h0M28.4 550.2h0M42.1 564.8h0M25.6 539.3h0M42.9 555.6h0M28.6 536.1h0M23.6 547.7h0M36.3 567.4h0M38.7 556.9h0M38.1 558h0M36.8 538h0M48.6 560.4h0M32.4 535.5h0M31.6 527.2h0M46.3 544.4h0M48.8 543.7h0M52.3 567.6h0M50.8 548h0M25 556.3h0M25.4 540.9h0M52.4 563h0M26.3 536.4h0M40 546.8h0M28.6 561.6h0M26.7 557.1h0M26.3 545.4h0M29.3 537.6h0M52.7 565.4h0M32.1 569.6h0M29.2 544.1h0M49.1 557h0M29.3 537h0M46.5 540.7h0M31.8 527.4h0M25.5 553.9h0M30.2 554.8h0M34.2 547.1h0M52.3 548.7h0M40.4 568.6h0M28.3 531.6h0M50.7 566.1h0M30.4 533.4h0M45.5 572.5h0M49.9 555h0M35.7 529h0M30.1 560.2h0M30.6 566.4h0M41.1 538.8h0M28.1 561h0M24.8 535.4h0M40 567.9h0M41.7 538.1h0M28.1 542.7h0M40.4 530.4h0M33.9 569.9h0M52.9 557.7h0M44 554h0M44.3 573.7h0M37.6 561.6h0M25 552h0M45.4 570.4h0M45.4 560.2h0M47.2 571.2h0M33.6 559.2h0M50.5 568.9h0M35.6 564.7h0M49.3 553.4h0M42 543.4h0M40.7 555.2h0M25.2 556.8h0M45.2 543.8h0M45.4 553.8h0M36.3 567.2h0M37.5 535.5h0M44.2 549.4h0M41.7 571.5h0M32 558.8h0M29 532.4h0M50.6 557.9h0M36.3 570h0M32.8 558.2h0M28.8 546h0M47.6 571.1h0M49.9 543.6h0M40.7 540h0M26.9 549.4h0M48.5 567.7h0M44.6 573h0M31.2 532.4h0M36.6 537.9h0M29.3 545.1h0M42 549.3h0M32.4 567.2h0M44.6 553.2h0M32.2 564.7h0M42.1 546.8h0M42.1 557.6h0M47.6 573.4h0M43.8 533.9h0M37.4 532.8h0M23 548.1h0M31.1 541.5h0M44.2 550.6h0M41.7 562.9h0M34.8 564.8h0M51.5 561.1h0M26.7 547.2h0M42 570.9h0M34.3 553.2h0M49.8 565h0M51.8 547.7h0M42.8 534.2h0M45 566.1h0M42.5 560.9h0M39.3 564.7h0M49.1 541.7h0M25.3 546.5h0M39.7 563.5h0M33 564.6h0M27 531.3h0M38.6 561.2h0M48.6 559.4h0M51.9 549.2h0M29.5 551h0M31.7 561.5h0M42.4 550.8h0M48.7 552.7h0M32.3 543.4h0M48.8 570.4h0M29.1 567.8h0M52.6 550.8h0M40.4 534h0M39.2 549.7h0M52.6 550.4h0M35.1 565.2h0M40.1 549.1h0M39.3 545.1h0M52.2 571.6h0M31 548.2h0M26.6 546.1h0M47.9 570.4h0M37.4 540.1h0M28.6 555.7h0M28.7 535.4h0M43.9 540.3h0M33.7 555.8h0M25.9 561.6h0M26.5 550.1h0M30.4 533.8h0M39.1 546.3h0M34.3 545.1h0M39 531.9h0M29 556.4h0M42.4 551.1h0M49 555.4h0M45.6 565.7h0M30.1 561.4h0M30.7 528.6h0M48.4 545.5h0M35.1 559.2h0M43.8 571h0M38.3 563h0M38.2 559.2h0M28.5 527.2h0M39.7 550.3h0M40.3 531.2h0M28.4 534.2h0M48.6 575.1h0M37 563.3h0M32.8 547.9h0M38.6 545.9h0M44.3 567.5h0M28.3 547.2h0M45.5 544.6h0M28.7 532.1h0M50.3 565.3h0M44.4 568.3h0M42.1 544.6h0M41.2 549.8h0M53 565.4h0M45.7 564h0M47.8 544.7h0M50.4 569.3h0M44.1 563.5h0M46.3 544.7h0M33.2 548h0M42.4 556h0M43.3 541.1h0M43.1 553.2h0M39.2 543.8h0M53.5 557h0M44.3 563.2h0M41.7 562h0M30.6 544.4h0M24.3 533.7h0M34.3 528.7h0M39.7 550h0M52.5 553.1h0M53.4 556.8h0M41.1 563.1h0M27.6 548.1h0M27.9 549.3h0M39 554.7h0M34 538.4h0M42.9 552.7h0M31.5 560.8h0M31.8 524.3h0M30.3 525.8h0M27.5 562.8h0M34.7 570.3h0M36 548.4h0M38.9 572.3h0M45 547.9h0M52.9 566.1h0M42 547.3h0M29 526.3h0M39 530h0M36.4 558.3h0M36.8 537.2h0M40.7 545.4h0M46.7 551.2h0M45.4 536h0M46.9 556.1h0M33.8 537.7h0M43.8 552.9h0M41 556.5h0M51 569.3h0M31.1 545.7h0M25.4 558.7h0M39.7 556.4h0M34.2 548.5h0M29.2 541.4h0M45.7 567.2h0M25 529.8h0M47.7 556h0M35.8 537h0M47.7 542.8h0M32.7 552.1h0M45.7 571.5h0M35.9 542.8h0M25.1 527.9h0M40.1 548.8h0M43.8 539.1h0M29.3 558h0M25.2 539.4h0M45.1 559.7h0M31.4 531h0M33.7 561.3h0M34 529.7h0M44.6 553.2h0M51 572.5h0M50.9 546.3h0M47.5 539.4h0M32.5 544.3h0M51.5 570.1h0M30.4 542.4h0M34 542.5h0M34.9 543.7h0M28.7 552.9h0M47.3 551.7h0M48.5 552.8h0M28.2 563h0M23.4 550.4h0M39.5 553.1h0M52.5 557.4h0M39.6 564.6h0M25.3 527.8h0M45.4 570.3h0M25.3 556.6h0M27.1 562.4h0M42.7 536.3h0M29.5 563.4h0M38.8 563.3h0M34.9 541.1h0M52.6 558.5h0M37.9 551.5h0M44.9 560.4h0M50.9 544.9h0M48.2 558.2h0M49 565.5h0M48.4 569.8h0M52.2 556.9h0M38.9 560.5h0M47.5 545.5h0M35.7 531.2h0M34.3 532.3h0M29 545.7h0M24.5 539.6h0M26.3 557.3h0M24.6 547.4h0M40.7 570.9h0M23.8 529.2h0M28.4 534.9h0M30 560.9h0M41.1 535.2h0M28.4 538.2h0M28 563h0M32.3 552.1h0M47.9 548.5h0M30.7 569.7h0M39.6 573.4h0M37.6 535.1h0M47.4 543.6h0M39 550.4h0M43 535.9h0M23 548.1h0M34.2 565h0M44.7 555.1h0M27.6 531.7h0M32.6 537.1h0M49.5 550.4h0M30.9 551.4h0M27.4 563.6h0M48.8 566.3h0M25.3 537.6h0M37.5 547.9h0M52.2 554.1h0M47.1 545.3h0M39.5 550.9h0M27.6 566.9h0M32.3 539.7h0M25.1 539.5h0M37.1 560.8h0M33.8 559.3h0M26 544.1h0M48.3 557.6h0M23.1 543.2h0M44.6 535.9h0M40.1 547.4h0M41.7 538.7h0M34.3 551.6h0M31.9 541.1h0M34.8 558.2h0M30.6 534h0M45.3 540.7h0M51.9 552.8h0M45 540.8h0M27.1 528.5h0M43.6 560.4h0M28.3 544.5h0M48.5 554.4h0M25.5 535.3h0M27.6 530h0M35.3 527.3h0M51.1 545.8h0M38.5 557.2h0M46.4 566.3h0M34.6 540.8h0M35.1 560h0M53 564.6h0M43.1 555.2h0M23.3 540.8h0M33.3 557.4h0M26 543.2h0M38.4 564.6h0M48.2 555.4h0M27.6 563.4h0M50.6 552.1h0M33.6 549.6h0M27.1 560.7h0M53.1 550.4h0M44.8 567h0M42.1 533.8h0M25.3 536.3h0M40.5 559.8h0M33.8 547.6h0M39.5 552.7h0M40 537.3h0M50.8 575.2h0M47.9 554.9h0M26.5 566.5h0M31.6 570.2h0M30.1 553.4h0M23.7 532.9h0M43 539.6h0M43.4 561.9h0M34.5 554.4h0M28.9 547.9h0M27.1 543.7h0M40.3 532.6h0M38.7 537.3h0M40.2 540.8h0M52.3 554.8h0M37.2 545h0M41.9 559.4h0M46.1 562.7h0M48.6 568h0M35.3 546.1h0M40.2 570.7h0M38.9 550.9h0M36 570.6h0M32.6 526.4h0M45.1 570.4h0M45.3 554.6h0M45.9 539.4h0M26.5 546.8h0M38.2 544.2h0M38.9 536h0M32.2 544.1h0M30 527.1h0M50.8 573.8h0M43.2 568.6h0M35.7 565.5h0M29.5 562.4h0M40.2 570.6h0M26.5 551.5h0M30.2 539.1h0M32.7 526.8h0M50.3 566h0M35 542.1h0M32.2 549.5h0M51.5 574.4h0M37.3 534.3h0M48.6 542h0M37.3 532.5h0M28.9 556.5h0M24.3 529.1h0M45.1 539.8h0M50.5 568.8h0M44.2 572.4h0M36.4 527.7h0M29.6 539.5h0M28.3 535.8h0M43.2 564.7h0M34.2 558h0M50 554.3h0M29.8 539.2h0M51.3 558.3h0M31.2 556.9h0M36.3 551h0M41.2 538.4h0M30.4 565.4h0M25.4 538.4h0M31.3 552.1h0M36.9 562.6h0M38.1 532.9h0M39.9 557.1h0M33.8 557.8h0M46.9 550.4h0M38.3 567.5h0M43.8 550.6h0M41.5 535.8h0M36.3 563.8h0M47 564.7h0M30 549h0M29.5 553.7h0M41.1 560.7h0M40.4 569h0M28.3 531.5h0M23.3 549.4h0M36.1 546.5h0M30.8 565.1h0M40.3 551.8h0M27.2 539.7h0M24 539.9h0M41.9 550.9h0M30.9 554.2h0M28 536.8h0M27.6 559.5h0M48.3 564.5h0M24.6 544.9h0M33.9 534.8h0M37.8 563.2h0M36.8 562.3h0M23.9 536.1h0M34.8 539.1h0M35.8 527.5h0M46.2 561.8h0M29.8 536.7h0M39.7 536.1h0M36.9 572.1h0M33.9 541.1h0M53 555.3h0M23.9 544.5h0M33.3 559.7h0M49.4 554.3h0M50 547.6h0M34.8 567.4h0M34.5 564.2h0M29.4 541.6h0M28.4 552.2h0M27.8 534.1h0M29.3 547.9h0M32.2 546.8h0M53.3 558.9h0M34.5 527.3h0M44 542.4h0M31.2 524.5h0M28.3 537.2h0M34.8 571.6h0M44.8 537.5h0M33.8 531.5h0M46.3 561.2h0M32.6 543.6h0M32.7 563.7h0M34.9 536h0M24 531.4h0M32.3 545.6h0M39.5 530.6h0M44.5 537.1h0M45.1 558.2h0M27.2 534.2h0M31.4 560.6h0M35.2 543.7h0M31.7 541.5h0M29.4 525.7h0M40.2 565.6h0M43.4 571.4h0M29.4 559.4h0M43.3 573.3h0M35.9 544h0M24.6 543.5h0M32.8 549.4h0M31.3 531.8h0M35.1 548.3h0M27.9 558.2h0M30.1 528.4h0M33.3 545.5h0M27.4 553.9h0M44.3 552.3h0M34.8 542.5h0M24.7 544.6h0M24.4 549.3h0M40.8 548h0M32.7 536.7h0M23.4 541.6h0M50.2 553h0M30.8 558.3h0M28.4 548h0M41.7 573.2h0M33.9 553.5h0M51.8 563.7h0M42.1 555.9h0M35.4 545.2h0M31.2 566.7h0M49.8 543.4h0M26.9 549.9h0M32.2 542.3h0M28.6 535.4h0M43.7 535.8h0M34.9 536h0M37.9 557.4h0M39.6 556h0M40 566.8h0" stroke="#6a70b2" stroke-width="1.5" stroke-linecap="round" fill="none"/>
<path d="M52.8 522.3h0M37.8 536.1h0M37 531.9h0M46.2 531.1h0M33.3 529.5h0M41.3 528h0M38.4 521.1h0M47.5 527.3h0M35.2 520.2h0M37.3 518.4h0M41.8 517.1h0M31.9 531.6h0M32.2 525.2h0M48.1 526h0M35.6 526.6h0M48.6 523.7h0M46.7 520.2h0M46.7 522.1h0M37.5 532.9h0M43.1 524.5h0M46.5 529.5h0M49.5 534h0M32.5 523.4h0M45.6 519.7h0M43.6 537.5h0M52.8 517.3h0M46 524.4h0M44.7 523.9h0M36.3 532.2h0M53.4 516.9h0M42.5 526h0M38.5 521.7h0M48.7 534.9h0M36.3 523.7h0M44.3 533.1h0M53.1 523.7h0M46.2 527.6h0M48.7 517.6h0M51.9 520.2h0M41.2 516.9h0M43.1 517.5h0M44.5 520.8h0M34.9 526h0M38.3 520.4h0M51 521.7h0M34.3 535.6h0M41.1 524.3h0M48.9 523.8h0M30.8 527.7h0M45.3 529.5h0M40.1 534.8h0M46.9 518.3h0M38.1 532.8h0M36.9 526.8h0M42.2 534.2h0M48.5 532.3h0M39.1 534h0M49.4 533.1h0M53.2 516.4h0M52.4 524h0M46.4 520.2h0M43.4 519.6h0M38.8 523.2h0M45.3 534.2h0M38.2 529.9h0M38 520.9h0M51.3 522h0M31.7 522.3h0M47.3 519.2h0M47.4 527.6h0M45.8 518.4h0M37.9 524.7h0M39.2 522h0M42.4 537.8h0M34.4 536h0M37.2 532.8h0M34.7 524.1h0M46.5 518.4h0M36 530.9h0M52.3 522h0M33.9 522.9h0M53.3 517.6h0M44.7 523.4h0M45 519.2h0M44.3 536.2h0M50.1 529.7h0M41.6 528.1h0M46.1 525.3h0M45.5 524.4h0M38.7 519.7h0M43.9 528.3h0M41.9 514.7h0M44.6 525.1h0M43.8 528.8h0M51.9 517.7h0M47.2 521.8h0M39.1 535.6h0M41.3 519.8h0M49.7 530.2h0M48.7 526.7h0M50.4 531.7h0M35.5 534.1h0M40.4 527.4h0M50.3 518.8h0M36.2 530h0M31.2 527.8h0M48.4 526.2h0M35.3 534h0M50.1 533.2h0M42.7 536.6h0M48.7 517.7h0M38.3 516.4h0M30.3 522.6h0M38.8 535.2h0M44.3 536.5h0M34.4 529.7h0M50.6 532.1h0M34.2 530.7h0M37.6 521.8h0M44.6 520.9h0M44 531.3h0M46.2 525.6h0M52.1 529.2h0M38.1 518.8h0M47.2 522.9h0M36.9 524.1h0M33 529.7h0M39.7 534.5h0M39.3 525.4h0M41.7 537.5h0M37.8 531.5h0M35.1 528.4h0M36.3 535.8h0M36.4 535.3h0M45.8 525.3h0M52 523.6h0M47.4 529h0M40.3 515.5h0M39.6 521h0M40.1 537.8h0M36.5 531.3h0M45.6 520h0M39.4 517.2h0M51 520.2h0M39.6 522.5h0M43.7 527.6h0M31.6 523h0M38.5 532h0M45.6 522.5h0M30 529.8h0M40.8 523h0M40.7 521.8h0M45.6 529.1h0M53.4 523.8h0M49.4 530.2h0M31.1 525.5h0M39.1 530.4h0M34.5 523.2h0M32.9 523.8h0M47.3 516h0M33.5 530.2h0M44.5 532.5h0M35.6 534.2h0M47.1 533.4h0M32.3 525.7h0M42.4 527.3h0M36.7 526.6h0M32.5 528.1h0M41.8 521.3h0M48.2 520.1h0M34.7 525.2h0M42.9 525.4h0M50 516.5h0M49.9 517.8h0M52.8 527.1h0M39.2 529.3h0M33.2 534.4h0M47.2 531.8h0M33.2 527.2h0M45 535.2h0M30.6 524.3h0M37.4 526.2h0M45.2 536.1h0M52.3 528.1h0M41.5 536.6h0M39 521.4h0M47.3 520.4h0M38.3 524.7h0M40.9 522.9h0M39.8 525.2h0M30.9 527.1h0M42.6 523.9h0M38.4 521.8h0M41.1 519.7h0M47.5 526.1h0M43.8 538h0M38.3 528.9h0M38.3 521.5h0M44.1 528.7h0M37 526.4h0M41.9 532.8h0M35.5 520.7h0M48.6 524.6h0M50.2 524h0M36.3 530.9h0M49.5 522.1h0M37.1 534.4h0M48.4 530h0M30.6 529.6h0M42.8 537.1h0M44.8 514.5h0M47.2 524.4h0M45.8 538.6h0M51.5 515.8h0M48.3 525h0M47.6 523.4h0M40.2 524.9h0M32.3 521.9h0M47.2 515.7h0M45.5 527.6h0M43 537h0M34.5 524.3h0M42.4 534.9h0M40.8 514.7h0M39.9 523.4h0M45.7 537.2h0M41.3 531.2h0M38.8 533.4h0M32 532.5h0M33.5 528.6h0M34.3 522.6h0M33.4 522.7h0M43.7 526.9h0M38.8 528.3h0M49.8 522.9h0M43.5 526h0M53.1 522.1h0M46.3 519.8h0M35.8 532.2h0M43.3 520.4h0M38.6 531.9h0M39.9 529.4h0M42.9 538.4h0M51.4 525.3h0M41.2 519.7h0M47.6 516.5h0M36.8 535.1h0M43.1 527.7h0M37.5 517.7h0M48.9 516.4h0M48.3 519.4h0M34.3 527.3h0M44.1 516.9h0M47.9 528.5h0M46.1 523h0M36.5 535.4h0M47 520.5h0M42.4 520.3h0M36.5 520.2h0M32.6 526.1h0" stroke="#5a9f72" stroke-width="1.5" stroke-linecap="round" fill="none"/>
<path d="M50.2 510h0M50.3 516.1h0M64.1 506.7h0M58 517h0M60.9 516.8h0M61.8 509.4h0M52.3 523.6h0M49.3 514.6h0M52.5 522h0M57 511.8h0M59.1 504.3h0M64.8 505.1h0M57 505.6h0M59.3 504.2h0M56 504.4h0M56.1 507.3h0M56.1 511.9h0M55.5 507.7h0M60.2 513.6h0M55.2 504.5h0M55.2 517.4h0M47 510.4h0M51.7 521.3h0M57.6 520.9h0M58.1 518.9h0M63.1 520.9h0M55.9 518h0M61.4 524.1h0M63.2 513.3h0M51.7 511.7h0M50 518.2h0M56.1 511.4h0M59.5 514.6h0M48 506.4h0M49.8 515.3h0M62 511.3h0M49.4 520h0M49.9 516.5h0M48.2 508.6h0M50.9 511.2h0M60.7 520.5h0M62.2 516.9h0M49.6 508.2h0M53.5 529.1h0M52.5 512h0M52.9 506h0M62.2 523.5h0M51.7 523.7h0M52.7 510.1h0M57.6 522.4h0M54.9 524.4h0M65.1 506.2h0M51.8 527.5h0M47.2 521.6h0M65.8 507.5h0M47.1 520.6h0M52.5 505.6h0M45.6 507.3h0M51 507.3h0M46.8 516.6h0M56.4 517.7h0M61.5 516.6h0M51.1 522.9h0M47.6 511.3h0M57.1 510.3h0M54.5 518.6h0M63.5 514.9h0M61.6 513.2h0M47.9 522.2h0M49 523.9h0M55.5 520h0M54.7 507.3h0M58.2 512.3h0M54.9 519.2h0M51.2 512h0M64.4 518h0M53.6 516.9h0M54.6 511.3h0M65 508.6h0M64.3 506.7h0M50.6 507h0M60.6 508.7h0M57.4 506.6h0M65.8 510h0M51.9 517.4h0M55.4 527.2h0M55.8 512.6h0M50.1 517.8h0M58.5 514.8h0M46 515.8h0M55.1 519.7h0M54.2 504.6h0M62.4 508.7h0M55.6 513.8h0M55.2 515.4h0M50.6 525h0M55.5 511.6h0M48.5 508.2h0M59.8 523.9h0M60.4 524.2h0M62.4 507.1h0M62.8 510.5h0M51.9 523.7h0M64.1 510.7h0M48.2 521.1h0M58.3 505.7h0M60.7 503.9h0M58.7 515.6h0M52.8 511.9h0M62.3 508.5h0M59 523.3h0M60 516.3h0M51.2 509.7h0M48.2 519.8h0M65 510.2h0M51.6 509.9h0M56 515.5h0M56.3 515.1h0M61.1 509.1h0M48.5 518h0M49.5 511.2h0M52.1 516.6h0M53.5 513.3h0M49.4 515.1h0M66.1 505.6h0M53.9 520.8h0M61.5 517.3h0M64.8 509.1h0M56.1 507.5h0M61.6 503.9h0M47.4 517.2h0M50.2 521.8h0M60.7 511h0M61.7 519.8h0M60.2 514.7h0M53.9 505.2h0M54.9 528.1h0M45.6 509.6h0M60 514.2h0M46.9 513.8h0M57.2 522.4h0M53.2 519.9h0M59.7 519h0M45.6 512.9h0M54.8 505.2h0M55.2 518.2h0M46.7 510.6h0M55.7 513.4h0M53.1 526.3h0M49.9 523.7h0M60.3 514.4h0M52.4 514.1h0M54.4 510.9h0M58.3 513.4h0M50.9 523.2h0M54.4 515.1h0M64.3 514.6h0M52.6 526.6h0M53.2 520.5h0M61.1 510.3h0M59.1 520.4h0M54 520h0M49.1 523.1h0M51.8 521.6h0M44.3 513.6h0M61.6 509.3h0M58.1 508.3h0M53 518.3h0M60.4 522.9h0M61.2 518h0M49.7 521.4h0M56.9 517h0M66.7 506h0M62 511.1h0M50.3 517.7h0M56.1 515.7h0M47.8 519.2h0M50.6 524.1h0M53.6 506.3h0M57.9 514.8h0M52.1 522.8h0M45.7 510.5h0M59.9 521h0M63.1 512.6h0M50.2 512h0M52.6 520.1h0M47.4 510.7h0M49.7 507.1h0M62.3 522.3h0M50 515.5h0M60 503.1h0M48.8 521.3h0M60.1 511.4h0M64.2 508.2h0M54.9 510.8h0M54.1 524.3h0M57.1 518.8h0M49.1 519.1h0M51.8 514.2h0M53.9 524.7h0M47.9 511.9h0M60.3 508.2h0M49.2 512.2h0M49.2 521.7h0M56.5 518.1h0M57.8 525.6h0M48 509.7h0M59.3 521.1h0M51.4 515h0M50.6 517.5h0M52.1 512.1h0M49.7 510.2h0M51.1 518.3h0M50.1 505.4h0M63.5 515h0M55.8 510.8h0M58.3 520.1h0M59.9 515.9h0M53.5 512.9h0M55.6 515h0M56.1 516.7h0" stroke="#86bb4e" stroke-width="1.5" stroke-linecap="round" fill="none"/>
<path d="M65.1 492.7h0M69.9 510.3h0M65 497.5h0M68.8 512.4h0M69.4 505.3h0M66.1 508.3h0M62.9 499.1h0M67.2 501h0M70.5 507.2h0M63.7 503.4h0M68.4 495.1h0M67.6 519.8h0M66.4 514.5h0M67.9 509.1h0M63.9 505.6h0M64.3 505.1h0M67.5 501.8h0M67.8 510.6h0M68.6 498.2h0M62.9 514.5h0M65.4 520.4h0M67.6 494.8h0M68.4 499.6h0M70.1 513.4h0M69.5 493.5h0M63.6 497.8h0M66.8 520.4h0M65.3 499.5h0M70.2 497.3h0M68.3 510.1h0M67.7 503.2h0M70.2 499.3h0M69.1 497.3h0M67 520.7h0M64.5 500.1h0M64.5 500.4h0M70.4 512.7h0M68.3 503.2h0M69.1 506.5h0M62.8 506.4h0M65.9 507.6h0M65.4 496.2h0M67.9 519.1h0M64 506.7h0M67 514.6h0M67.7 498.9h0M64.1 513.4h0M63 517.6h0M66.7 517h0M68.2 514h0M69.6 513.3h0M63.6 496.6h0M70.7 503.1h0M70.4 509.7h0M63.3 500.3h0M64.1 495.1h0M64.2 510.9h0M63.8 496.8h0M67.4 503h0M63.7 508.7h0M67.1 503.3h0M66.8 492.9h0M68.2 497.5h0M70.8 509.3h0M66 507.9h0M65.9 512.9h0M65.8 512.9h0M71 493h0M65 500.5h0M69.5 515.2h0M69 519.4h0M64 503.5h0M63.3 521h0M69.4 517.6h0M65.7 509.8h0M67.8 518.3h0M68.5 520.4h0M63.6 503.8h0M67.7 495.7h0M69.7 493.6h0M68.3 500.1h0M65.3 509.9h0M64.1 505.1h0M64.8 502.7h0M68.9 497.4h0M70.4 497.7h0M67.6 501.9h0M64.9 521.4h0M68.4 493.7h0M69.1 498.7h0M66.9 513.3h0M66.3 501.2h0M66.1 501.1h0M69.4 505.6h0M68.8 496.3h0M64.2 510.2h0M63.8 492.8h0M66.2 497.2h0M69.3 508.8h0M68.7 520.7h0M62.6 505.5h0M70.2 512.2h0M67.5 517.3h0M65.8 495.1h0M68.4 492.5h0M64.4 492.6h0M63.8 493.7h0M67.3 495.6h0M68 516.4h0M65.5 495.3h0M68.7 513.5h0M70.7 508.3h0M67.8 517.5h0M68.8 520.9h0M65 514.9h0M68.3 505.7h0M64.8 509.7h0M67.1 507h0M68.1 512.1h0M65 505.4h0M67.1 515.8h0M66 519.3h0M66.9 503.6h0M66.8 502.4h0M66.1 494.1h0M68.8 496.2h0M63.7 504.4h0M68 514.6h0M66.5 500.6h0M65.8 518.3h0M70.8 506.2h0M63.5 495.8h0M62.8 511.9h0M64.3 505.1h0M68.1 493.3h0M71.2 501.8h0M63.6 515.1h0M63.3 492.9h0M68.5 505.8h0M64.2 493.1h0M68 505.8h0M65.1 519.1h0M64.2 511h0" stroke="#c0202e" stroke-width="1.5" stroke-linecap="round" fill="none"/>
<path d="M78.9 531.3h0M70.4 532.5h0M78.3 533.2h0M68 530.5h0M69.4 530.6h0M70.4 526.4h0M76.1 532.9h0M70.6 529.1h0M75.5 532.5h0M67.4 526.4h0M77.2 530h0M74.8 528.5h0M71.1 526.4h0M79.2 531.2h0M74.1 531.3h0M76.5 531.2h0M77.9 535.2h0M71.6 531.6h0M71.1 529h0M71 531.6h0M70.8 528.4h0M77.5 533.3h0M75.2 533.8h0M71.3 531.6h0M69.5 528h0M68 531.5h0M69.5 532.9h0M70.8 529.7h0M68.8 527.7h0M71.8 527.6h0M74.7 533.3h0M70.5 526.6h0M67.7 525.4h0M76.8 531.1h0M74.2 528h0M70.9 535.2h0M70.9 534.7h0M77.8 530.8h0M67.3 530.6h0M67.4 525.5h0M71.6 526.2h0M79.5 530.9h0M78.2 535h0M76.3 531.6h0M72.5 533.1h0M73.2 529.1h0M73 532.3h0M75.4 530.8h0M76.7 533.6h0M67.3 526.1h0M66.7 526.3h0M72 529.6h0M73.7 527.6h0M77.5 533.3h0M67 527.5h0M76.5 531h0M75.1 529.1h0M73.1 526.7h0M72.3 527.3h0M67.9 526.7h0M73.3 530.9h0M76.3 533.5h0M67.7 526.3h0M78.4 529.7h0M67.8 528.4h0" stroke="#e3e34a" stroke-width="1.5" stroke-linecap="round" fill="none"/>
<path d="M49 564.1h0M62.8 568.3h0M54.6 557.8h0M55.1 565.3h0M43.3 555.5h0M44.3 556.8h0M69.2 570.3h0M42.9 553.2h0M52.6 553h0M47.1 546.3h0M47.4 553.2h0M64.2 567h0M50.7 557.6h0M52.3 558.3h0M65.4 573h0M59.4 574.3h0M50.7 557.3h0M43.4 552.2h0M50.4 556.5h0M51.8 550.3h0M43.8 544.5h0M53.9 560.7h0M53.5 561.3h0M49.8 544.5h0M50.6 552.6h0M45.3 543.8h0M54.8 560.1h0M42.7 546.1h0M64.9 570.2h0M57.4 561.8h0M57.2 569.7h0M59.3 572.6h0M46.7 561.3h0M56.1 566.9h0M42.2 550.2h0M63.2 571.6h0M67.6 573.5h0M45.6 557.4h0M49.9 564.9h0M45.2 553.8h0M53.8 558.3h0M54.6 562.4h0M69.2 573.3h0M68.2 570h0M48.6 550.8h0M55.3 563.9h0M42.5 545.8h0M48.8 550.8h0M64.7 572.2h0M49.6 546.2h0M69.9 574.7h0M63.6 568h0M57.2 564.5h0M51.4 563.8h0M48.1 550.2h0M69.8 574h0M68.7 570.4h0M66.5 569.7h0M63.1 570.2h0M56.1 572.1h0M61.5 564.6h0M47.9 557.6h0M45.1 542.9h0M48.5 550.1h0M54 565.6h0M59.6 566.8h0M61.7 572.7h0M65.3 574.3h0M65.5 575.3h0M59.7 563.7h0M66.6 568.1h0M42.3 553.5h0M50.8 555.8h0M54.2 569.1h0M47.6 560.2h0M48.5 543.3h0M50.4 558.8h0M52.1 552.2h0M65.6 568.1h0M43.6 547.1h0M63.6 570.3h0M46.5 561.4h0M49.5 550h0M50.7 562.7h0M51.2 564.6h0M68.2 575.3h0M67.7 573h0M44.2 546.1h0M57.2 573.1h0M62.8 565.8h0M51.5 568.1h0M52.1 568.1h0M63.7 575h0M46.7 544.4h0M59.7 563.2h0M48.7 550.1h0M46.2 543.8h0M61.9 570.1h0M68.5 573.1h0M43.9 552.5h0M54.5 563h0M54.8 569.3h0M49 555.7h0M62.7 573.9h0M47.7 558.6h0M50.1 561h0M66.5 571.7h0M42.1 547h0M45.9 547.2h0M59.2 563.9h0M65.1 569.9h0M46 552.8h0M46.1 558.9h0M61.7 569.3h0M56.1 572.7h0M66.1 570h0M54.5 571.2h0M67.5 573.1h0M49.8 563h0M46.2 561.5h0M43.9 557.9h0M44.3 556.5h0M65.6 567.1h0M45.5 545.4h0M46.6 551.9h0M60.7 563.6h0M43.4 549.4h0M54.5 570.5h0M49.5 544.4h0M47.9 543.3h0M49.1 563h0M50.1 562.7h0M50.4 567.7h0M61.6 572h0M45.3 544.1h0M49.9 554.7h0M68.9 570h0M66.1 574.9h0M59.4 573.5h0M51.3 555.3h0M60.5 571.1h0M42.8 554.8h0M54.5 570.6h0M45.6 557.2h0M67.6 573.8h0M50.5 561.7h0M44.5 550.3h0M50 549.5h0M47.6 545.4h0M55.4 565.4h0M58.9 574.8h0M52.8 557h0M63.2 566.4h0M46.8 559.6h0M46.7 554.5h0M54.7 571.3h0M45.3 560.5h0M55.6 560.9h0M57.8 571.2h0M46.6 550.4h0M65 569.2h0M49.3 566.2h0M54.6 565.2h0M42.4 544.6h0M42.8 548.6h0M56.3 570.5h0M42.6 548.2h0M42.4 544.6h0M51.1 558.9h0M48.9 555h0M47.8 558.9h0M49 549h0M56.6 565.4h0M48.6 565.4h0M58.9 567.4h0M45 544h0M47.7 551.5h0M54.9 560.5h0M62.3 570.3h0M45.7 559.5h0M47.3 561.2h0M54.5 569.6h0M61 573h0M53.3 568.1h0M45 558.9h0M49.3 552.6h0M48.4 547h0M56.7 569.1h0M47.3 545.1h0M47.4 560h0M67.4 575.1h0M65.9 568.1h0M49.1 546.2h0M48.9 552.8h0M62.1 571.8h0M51.2 553.1h0M60.3 567.6h0M64.2 569.3h0M63 574.7h0M50 558.4h0M68.1 574.7h0M44 552.6h0M65.8 570.1h0M47.1 559.4h0M44.7 555.2h0M56.3 569.6h0M50.3 564.7h0M46.1 551.2h0M58.9 566.2h0M50.4 560.9h0M59.3 574.1h0M60.1 570.8h0M52.2 561.9h0M46.3 551.1h0M45.4 543.7h0M57.2 567h0M59.6 564.4h0M53.1 555.2h0M51.7 554.7h0M46.6 555.9h0M52.2 566.2h0" stroke="#f2c22a" stroke-width="1.5" stroke-linecap="round" fill="none"/>
<path d="M80.9 590.9h0M79.8 597.1h0M66 579.6h0M67.7 584.3h0M79.8 588.7h0M59.7 589.7h0M62.3 588.2h0M68.5 577.9h0M65.6 577.1h0M70.9 589.8h0M65 591.4h0M69.8 590.5h0M56.9 575.1h0M64.3 575.3h0M63.8 573.2h0M57.8 574h0M69.7 578.7h0M78.2 584.9h0M70.6 581h0M66.7 594.5h0M58.5 582.7h0M71.1 574.4h0M71.2 591.7h0M72.9 584.1h0M60.4 589h0M68.3 590.1h0M56.7 578.6h0M69.3 578.4h0M78.1 585.4h0M63.9 581.5h0M80.9 586.1h0M82.7 585.9h0M68.1 588.1h0M67.3 589.3h0M65.4 589.4h0M61.5 584.4h0M67.9 585.5h0M57.1 577.1h0M76.2 574.8h0M73.1 591.7h0M77.8 598.7h0M66.7 581.6h0M69 577.9h0M71.6 591.7h0M80.4 585h0M74.6 597.6h0M73.3 584.5h0M70.3 582.1h0M60.7 575.7h0M78.5 585.2h0M79.5 589.3h0M60.7 585h0M68.8 574.8h0M63.2 575.4h0M60.3 571h0M74.1 589.7h0M67.7 583.4h0M82.3 589.2h0M68.9 592.1h0M76.9 579h0M77.1 587.7h0M73.5 588.8h0M57.6 580.7h0M56.6 582.2h0M80.1 588.6h0M62.1 572.3h0M79.7 595h0M75.8 576h0M60.5 579.4h0M60.1 591.7h0M77.5 577.8h0M83.5 597h0M71.8 572.4h0M76.9 589.2h0M79.5 592.5h0M68.8 583.1h0M73.9 593.4h0M72.5 597.9h0M80.9 580.2h0M73.4 598.5h0M71.6 591.4h0M74.8 582.9h0M61.7 578h0M66 591.8h0M71.4 579.4h0M77.3 594.8h0M63.6 583.6h0M64.1 594.4h0M61.4 570.2h0M68.5 571.3h0M73 586h0M70.6 578.9h0M61.9 574.5h0M69.4 580.8h0M72.4 589.9h0M63.5 588h0M62.9 592.1h0M61.4 587.6h0M76.8 593.7h0M70.8 597.1h0M84 593.5h0M65.9 577.8h0M73.6 573.6h0M60.6 572.6h0M74.3 581.4h0M82.1 593.9h0M70.8 580h0M64.7 571.4h0M64.1 570.1h0M77.9 583.3h0M69.2 589.2h0M65.3 590.1h0M57.8 572.2h0M82.7 597.2h0M70.8 572.5h0M77.9 585h0M78.1 588.8h0M71.9 574.9h0M59.6 572.3h0M68 578.4h0M61.8 587.6h0M72.4 581.7h0M65.6 574h0M75.6 580.9h0M72.9 594.3h0M57.7 582.5h0M73.4 575.7h0M68.7 570.2h0M70.3 571.9h0M59.5 585h0M71 576.2h0M72.3 579.1h0M79.8 583.2h0M60.5 578.5h0M73.6 572.6h0M67.4 572h0M60.9 575.1h0M71.3 588.9h0M59.6 576.4h0M72.9 577h0M80.6 593.9h0M64.4 587.7h0M73.3 588.5h0M71.5 576.8h0M62.4 572.3h0M83.4 588.5h0M65.9 579h0M57.4 577.1h0M69.4 576.7h0M82.2 596.3h0M69.9 593.8h0M65.7 592.3h0M78 580.3h0M76.9 580.3h0M60.5 582.3h0M62.8 584.7h0M78.9 587.7h0M81.8 591.5h0M75.5 591.9h0M75.4 597.3h0M72.7 589.6h0M71.4 585.8h0M61 584.8h0M64.5 591.1h0M61.5 588.3h0M66.9 590.1h0M69.1 573.1h0M75.4 598.9h0M73.2 588.1h0M70.1 584.9h0M84.1 595.9h0M68 594.1h0M74.8 593.9h0M61.6 576.7h0M79.1 597.4h0M62 584.3h0M81.2 591.4h0M72.4 596.5h0M73.2 592.3h0M64 579h0M81.7 593.5h0M73.6 591.9h0M83.1 591.5h0M63.6 572.8h0M60.5 577.5h0M72 579.5h0M59.8 572.4h0M75.3 594.2h0M59 585.2h0M70.9 594h0M77.9 591.8h0M65.4 584.5h0M60.9 583.6h0M78.3 586.7h0M61.2 587.3h0M58.1 579.2h0M67.5 579.8h0M60.4 572h0M74.1 598.3h0M73.8 597.3h0M59.1 588.2h0M66 595.1h0M72.8 588.2h0M81.9 598.4h0M59.4 582.9h0M57.9 586.6h0M62 590.7h0M65.8 570h0M63.2 585.4h0M73.4 573.7h0M70.8 572.6h0M63.6 583.3h0M71.2 589.3h0M65.6 576.1h0M76.8 580.8h0M61.6 575.6h0M67.6 594.8h0M68.1 594.1h0M69.1 587.2h0M62.9 582h0M68.6 577.4h0M63.9 579.9h0M61.2 587h0M56.6 576.9h0M63.1 575.2h0M79.6 590.3h0M60.9 579.2h0M70.2 594.7h0M79.6 595.5h0M56 570.6h0M65.2 582.6h0M61.6 579.3h0M58.7 582.9h0M61.9 577.2h0M84.2 591.2h0M76.8 580.4h0M83.7 598.6h0M73.9 576.6h0M69.5 595.6h0M84.3 594.2h0M78.5 591.9h0M77.8 585.9h0M69.6 585.5h0M82 594.8h0M66.9 595.3h0M60.5 580.2h0M64.8 571.2h0M67.1 569.9h0M83.5 594.2h0M69.3 571.7h0M63.1 592.9h0M64 572.6h0M67.8 587.1h0M59.1 581.1h0M71.6 592.1h0M62.9 592.2h0M71.2 575h0M79 596.2h0M78.3 591.3h0M71.9 581.4h0M64.5 594.2h0M78.1 598.1h0M75.9 576.3h0M78.1 591.1h0M65.1 582.9h0M76.4 590.9h0M73.7 596.2h0M61.1 582h0M63.9 584.7h0M77.3 599.4h0M81.8 595.3h0M83.7 591.7h0M67.3 584.4h0M66.3 577.1h0M57.8 585.9h0M73.8 582.7h0M60 571.3h0M75.4 588.1h0M69.8 584.9h0M67.3 596.9h0M57.1 576.7h0M78.4 579.2h0M65.1 582.7h0M64 592.5h0M58.2 586.4h0M76.1 580.1h0M76.6 580.4h0M73.5 572.9h0M64.7 586.6h0M73.2 583.7h0M61.5 588.4h0M62.2 572.9h0M81 592.9h0M72.5 595.9h0M82.7 589h0M73.7 580h0M58.1 579.7h0M62.2 588.7h0M74.4 588.6h0M61.4 572.8h0M69 593.7h0M60.8 580.4h0M78.6 578.6h0M76.6 587.7h0M66.3 578.1h0M84.4 587.4h0M75.6 584.3h0M73.5 581.5h0M63.4 578.5h0M62.1 590.6h0M58 573.3h0M78.1 589.8h0M76.9 576h0M70.5 570.8h0M58.8 573.4h0M65.5 584h0M61.8 572.1h0M84 597.1h0M59.4 575.8h0M59.8 589.2h0M83.4 597.5h0M79.9 579.3h0M76.7 597.8h0M81.5 598.8h0M77.5 593.3h0M75.8 582.4h0M72 597.6h0M68.4 595.8h0M76 584.2h0M82.5 592.4h0M62 590.8h0M64.7 578.9h0M61.8 589.5h0M78.5 589.2h0M63.8 581.8h0M78.4 591.9h0M84.1 595.9h0M70.8 591.9h0M79.1 585.4h0M75.1 595.3h0M80.1 592.4h0M60.2 574.4h0M74.5 588.4h0M61.7 594.7h0M75.7 586.2h0M81.9 583.1h0M67.4 576.8h0M80 579.4h0M76.4 598.2h0M64.8 587.5h0M67.4 571.8h0M79.7 584.6h0M60.2 576.7h0M66.7 595.1h0M76.9 580.5h0M77.6 589.5h0M57.5 583.8h0M67.7 583.5h0M71.5 590.4h0M67.1 585.3h0M79.4 590.2h0M61.1 573.9h0M66.7 596.1h0M83.4 590.7h0M66.1 592.1h0M70 588.8h0M75.3 588.6h0M60.6 586.8h0M67.9 590.1h0M77.9 576h0M66.2 577.5h0M78.1 595.5h0M70 573.6h0M66.2 572.3h0M67 583.3h0M70.9 574.8h0M60.6 590.1h0M70.4 582h0M69.8 582.1h0M75.1 587.5h0M62.7 587.2h0M68.9 592.5h0M83.4 592h0M73.3 585h0M61.2 581.2h0M72.4 577.7h0M80.4 586.1h0M68.9 579.5h0M72.1 589.2h0M72.6 597.9h0M68.2 580.9h0M77.2 586.4h0M62 572.1h0M71 597h0M80.2 594.2h0M73.1 585.1h0M63.9 574.7h0M68.3 594.7h0M78.6 586h0M72.6 582.3h0M81.7 594.7h0M75.1 580.6h0M77 582.4h0M75.5 584.9h0M73.7 597.3h0M81.2 584.2h0M66.7 591.2h0M70.2 578.2h0M74.2 574.8h0M64.1 577.3h0M63.6 586.7h0M80.4 589h0M74.2 592.6h0M66.8 582.6h0M74.3 576h0M77.3 597.3h0M59.2 588.2h0M65.5 575.2h0M73.1 585.8h0M71 585.1h0M73.3 593h0M76.3 590.9h0M79.4 583.9h0M74 573.2h0M57.8 583.3h0M75.2 576.8h0M69.7 583.8h0M62.8 588.8h0M66 580.1h0M68.3 587.1h0M68.2 594.9h0M56.3 576.9h0M56.6 577.6h0M66 585.6h0M66.5 578.9h0M69.2 583.8h0M60.8 585.3h0M72.2 586.9h0M76.9 583.3h0M58.9 578.9h0M67.5 582.1h0M64.2 586.2h0M73.1 573.7h0M67.9 573.8h0M71.2 591.6h0M80.2 597.9h0M58.8 583.5h0M74.7 581h0M82.8 584.6h0M66.7 590.6h0M79.7 584.6h0M80.3 592.5h0M67.4 591h0M70.4 573.2h0M81.5 595h0M69.9 578.8h0M70.1 581.3h0M71.4 582.8h0M77.4 589.5h0M63.5 575.7h0M62.4 579.6h0M67.8 584.9h0M77.6 599.2h0M63 578.6h0M72.7 587.3h0M64.5 570.3h0M58.6 577h0M76.8 591.9h0" stroke="#c4a6d6" stroke-width="1.5" stroke-linecap="round" fill="none"/>
<path d="M80.4 577.7h0M85 570.7h0M89.6 566.2h0M87.5 571.5h0M77.4 571.3h0M92.8 560.3h0M79.9 566.2h0M78.4 575.4h0M86.6 562.7h0M85.6 577.6h0M84.6 570.1h0M81.5 571.3h0M88.7 569.3h0M83.7 566h0M83.9 568.5h0M85.6 565.7h0M92 569.7h0M90.4 565.2h0M91.6 570.9h0M84.5 568.7h0M84.2 567.3h0M82.6 565.4h0M82.3 565.3h0M73.6 573.3h0M84.5 565.8h0M88.2 566.1h0M92.3 560.8h0M87.5 565.3h0M86.5 567.2h0M83.7 565.5h0M84.3 573h0M90.8 565.1h0M85 571.3h0M91.4 569.6h0M81.6 568.1h0M84.1 575.6h0M85.7 570.4h0M86.8 565.2h0M88.1 576.5h0M88.9 562.1h0M79.7 578.4h0M89.7 562.9h0M77.4 574.6h0M84.1 563.8h0M91 570.7h0M78.5 573h0M89 571.2h0M88.3 562.5h0M80.9 578.6h0M86.7 567h0M89.6 567.3h0M76.7 570.9h0M92.2 566.8h0M87.4 562.6h0M86.9 569.4h0M82.9 564.4h0M76.2 576.9h0M85.7 574.9h0M88.5 568h0M84.5 566.1h0M86.8 568.6h0M89.5 565.8h0M81 577.6h0M85.8 567.1h0M87.3 574.4h0M89.2 566.9h0M83.8 565.6h0M81.6 578.3h0M78.3 568.5h0M92.1 569h0M90.1 570.7h0M80.3 574.4h0M86.7 567.6h0M87.9 569.5h0M88.7 560.9h0M87.1 577.3h0M81.6 574.8h0M87.6 570h0M89.2 569.7h0M88.8 563.3h0M82.7 576.7h0M80.4 567.3h0M87.7 571.5h0M81.8 577.8h0M87.6 573.7h0M92.2 563.2h0M76 576.9h0M81.5 578.4h0M86.1 564.5h0M84.6 569.3h0" stroke="#1f4a22" stroke-width="1.5" stroke-linecap="round" fill="none"/>
<path d="M94.3 577.1h0M90.8 590.9h0M89.6 579.4h0M98.9 583.3h0M90.3 582.6h0M95.9 578.1h0M100.1 579h0M96.8 582.4h0M85.6 587.8h0M89.1 592h0M87.9 588h0M92 576.9h0M89.5 581.6h0M97.4 589.9h0M100 579h0M88.4 582.7h0M90.1 579.7h0M93.6 578.4h0M90 581.3h0M92.4 592.9h0M96.8 583.7h0M88 587.5h0M97.3 589h0M93.1 589h0M90.3 593.1h0M96.8 590.4h0M93.6 592.5h0M92.5 593.1h0M92.1 593.1h0M90.1 585.3h0M94 585.9h0M98.5 591.3h0M87.9 588.7h0M93.4 583.3h0M94.1 577.5h0M90.1 581.9h0M86.4 582.8h0M90.9 583.4h0M100.2 586h0M88.7 584.1h0M90.8 584.7h0M87.8 589.4h0M99.9 587.3h0M93.6 585.4h0M96.1 582.6h0M86.2 584.1h0M98.1 588.1h0M85.8 585.3h0M87.8 581.4h0M88.7 587.1h0M96.4 591.9h0M93.1 577.1h0M87 579.2h0M89.7 578.7h0M98.6 582.5h0M92.7 590.1h0M87.9 585h0M85.7 584.7h0M99.9 586.2h0M89.8 587.4h0M93 585h0M95.2 588.8h0M95.9 590.4h0M88.1 579.6h0M98.5 583.8h0M87.1 580.9h0M99.7 579.4h0M98.2 580.8h0M97.7 582.9h0M94 588.3h0M96.5 579.7h0M95.7 579h0M88.9 590h0M87.4 583.5h0M86.8 586.5h0M87.8 582.5h0M100.7 584h0M93 576.6h0M89.2 577.9h0M94.9 578.8h0M87.8 578.6h0M96.8 587.7h0M89.7 581.7h0M89.4 585.9h0M94.1 578.4h0M87.5 587.3h0M89.5 588h0M90.7 587.4h0M88.5 591h0M85.1 585.5h0M94.2 579.4h0M100.8 585.8h0M87.1 589.6h0M85.5 588.3h0M98.4 587.5h0M98.3 591.2h0M89.3 592.7h0M98 577.9h0M90.2 579.8h0M88.4 585h0M88.4 588.3h0M90.6 592.5h0M94 584.9h0M97.2 586.1h0M92.2 579.1h0M97.8 587.3h0M92.4 593.8h0M92.4 589.3h0M87.6 582.5h0M95.1 580.7h0M95.3 588.9h0M89.3 589.9h0M98.8 584.3h0M94 587.8h0M87.9 585.5h0M95.2 591.4h0M89.3 579h0M91.7 578.9h0M89.1 584.8h0M96 577.9h0" stroke="#a65cb5" stroke-width="1.5" stroke-linecap="round" fill="none"/>
<path d="M140.3 508.4h0M144.7 535.6h0M143.7 502.3h0M140.4 515.1h0M132.7 501.4h0M145.7 542h0M132.6 512.2h0M155.1 534.8h0M145.8 513.3h0M139.9 503.9h0M137.7 497.8h0M130.6 550.8h0M134.7 563.8h0M140.7 499.3h0M141.6 501h0M134 518.7h0M155.3 526.8h0M133.4 519.1h0M133.4 507.4h0M133.9 544.5h0M135 512.2h0M133.3 515h0M141.2 500.9h0M150.2 549.5h0M150.2 529.4h0M129.5 565h0M152.3 518h0M135.7 551.6h0M141 539.9h0M148.3 541.5h0M150 546.2h0M135.3 497h0M155.1 527.3h0M134.9 514.9h0M145.8 507.6h0M138.5 531.1h0M133.9 551h0M130.9 552.3h0M148 540.1h0M135.2 545h0M142.5 562.6h0M130 550.9h0M139.5 521.9h0M151.5 514.8h0M152.6 521.5h0M136.7 554.6h0M147.7 509h0M136.5 535.1h0M144.6 546.5h0M136.2 522.7h0M134.3 551.2h0M129 556.9h0M149.8 521h0M130.5 564.6h0M138.2 534.8h0M128.2 563.9h0M138.4 529h0M141 514.1h0M132.4 503.8h0M126.1 559.9h0M137.7 527.8h0M128.1 565h0M139.2 528h0M146.1 536h0M133.2 515.3h0M139.1 525.4h0M142.6 509.9h0M143.1 530.7h0M132.9 552.4h0M152.9 529.6h0M146.8 530.4h0M139.9 517.7h0M140.1 497.8h0M136.1 504.2h0M139 533.2h0M152 527.2h0M133.2 555.4h0M129.8 554.7h0M145.8 534.2h0M137.9 552.5h0M138.8 562.3h0M153 521.8h0M140.9 526.2h0M136.5 521.8h0M133.9 542.6h0M144.8 539.6h0M140.3 543.1h0M145.7 547.2h0M149.5 511.9h0M143.4 553.6h0M152 520.6h0M155.3 531.1h0M133.5 497.2h0M136.5 542.4h0M145.6 521.3h0M151.1 533.5h0M140.9 511.5h0M131.1 547.9h0M133.3 525.1h0M141.3 513.3h0M131.3 552.5h0M139.1 535.6h0M144.6 548.1h0M132 505.2h0M149.5 551.2h0M139.7 534.6h0M147.4 537.5h0M134.1 536.8h0M144.7 517.5h0M136.4 531h0M151.9 535.1h0M152.7 523.4h0M134.3 532.3h0M154.8 535.3h0M145 535.6h0M131.9 565.1h0M135.9 497.8h0M137.3 525.1h0M126.2 562h0M140.3 516.2h0M141.2 537.5h0M136.2 552.8h0M138.3 560.7h0M148 544.6h0M151.8 544.1h0M144.8 534.1h0M146.9 534.4h0M149 507h0M138.7 540.1h0M147 546.4h0M144 537.9h0M138.9 526.9h0M142.9 519.7h0M149 534.3h0M137.6 532.2h0M146.2 554.6h0M149.5 545.7h0M139.9 501.5h0M138.8 549h0M137.8 557.2h0M135.3 530h0M132.3 505.3h0M142.1 504.8h0M154.4 536.7h0M144.7 513.4h0M144.3 512.3h0M138.8 517.2h0M148.3 524.1h0M134.4 508.3h0M145.9 505.2h0M143 527.2h0M127.8 562.9h0M152.2 541.2h0M149.8 550.1h0M129.4 552.9h0M153.7 536.2h0M140.3 526.9h0M132.8 565.1h0M134.7 559.7h0M139.4 530.1h0M133.1 507.9h0M139.6 498.1h0M135.8 514.2h0M146.3 525.2h0M143.1 537.4h0M141.6 544.7h0M141.4 501.4h0M150.1 533.1h0M139.7 562.4h0M137.1 529.1h0M148.1 527.2h0M137.5 547.6h0M152.1 528.2h0M146 535.4h0M141.3 511.1h0M132.8 514h0M149.6 543.1h0M133.6 503.6h0M145.1 548.3h0M144.1 546.1h0M128.9 557.4h0M149.8 510.1h0M149.3 508.2h0M134.9 551.3h0M150 524.1h0M136.9 544.8h0M134.9 512.9h0M146.6 511.7h0M147.3 538.4h0M141.9 532.9h0M136.9 497.1h0M140.8 542.4h0M144.3 507.3h0M150.9 525.1h0M139.4 539.8h0M134.2 537.6h0M147 512.1h0M151.6 546h0M142.2 533.4h0M139.2 550.1h0M148.5 517h0M144 534h0M139.5 537.8h0M137.9 522.6h0M147.9 541.4h0M139.8 530.9h0M134.6 538.2h0M136.1 523h0M144 544.5h0M152.2 521.6h0M139.5 527.6h0M154.9 532.3h0M143.7 501.6h0M142.1 544.5h0M134.9 533.8h0M136.4 506.8h0M132 562h0M144 534h0M147.7 524.1h0M140.9 518.7h0M126 560.8h0M150.7 517.8h0M143.9 551.6h0M129.8 565.5h0M134.9 497.8h0M130.3 565.7h0M154.4 520.2h0M146.5 510.6h0M134 517.3h0M136.7 501.8h0M135.5 500.6h0M149.5 509.3h0M138.6 536.7h0M147.6 513.3h0M139.1 516.1h0M141.8 513.7h0M141 514h0M148.7 527.4h0M140 542.3h0M132 509.3h0M136.8 548.7h0M146.9 528.3h0M143 513.9h0M153.7 540.9h0M149.2 521.9h0M142.1 545.8h0M140.7 549.3h0M132.5 551h0M134 532.2h0M144.6 544.2h0M145.5 546.5h0M142.9 506.8h0M141 515.7h0M154.6 528.8h0M147.8 539.7h0M133.3 559.4h0M150.6 536.9h0M138.6 533.2h0M134 555.8h0M128 565.3h0M134.6 526.9h0M143.1 517.9h0M148.7 548.6h0M148.7 510.8h0M137.9 502.4h0M144.9 545h0M152.4 515.2h0M147.7 509.6h0M150.9 526.6h0M134.3 505.3h0M138.5 530.8h0M142.2 501.8h0M137.3 546.7h0M152 537.7h0M147.2 511.6h0M133.1 521.2h0M136 528.6h0M154 521.4h0M134.4 548.2h0M131.2 549.1h0M148.7 551.7h0M142.1 503.6h0M145.2 536.7h0M139.2 549.8h0M143.8 558.9h0M140.4 528.3h0M153.2 522.4h0M140.1 560.3h0M133.7 521.5h0M128.7 557.8h0M141.6 537.5h0M142.7 558.9h0M140.2 534.6h0M138 519.6h0M139.5 502.4h0M138.8 510.9h0M136.3 511.6h0M150.5 524.9h0M130.6 550.2h0M135.8 521.8h0M153.4 530.7h0M137.6 537.4h0M151 540.3h0M134 556.5h0M132.8 564.8h0M140.1 535.4h0M140.9 528.8h0M148.4 513.7h0M137.6 543.4h0M151.9 513.9h0M135.1 529h0M139.3 520.7h0M150.5 522.8h0M132 554.1h0M148 531.8h0M133.2 538h0M134.5 542.9h0M148.9 552.2h0M132.4 542.9h0M143.9 558.6h0M137.8 500.3h0M140.9 518.7h0M148.3 544h0M130.8 563.5h0M138 553.7h0M137.2 541.4h0M141.8 537.4h0M154.3 538.2h0M132.2 505.8h0M141.3 507.7h0M135 563.2h0M145 531.4h0M152.5 519h0M147.8 525.1h0M138.8 529h0M142.5 544.4h0M149.8 524.9h0M132.4 513.8h0M143 504.5h0M145.6 548.1h0M141 506.5h0M135.1 500.3h0M155.2 528.3h0M150.3 513.3h0M132.6 506.1h0M136.1 544.1h0M141.3 518.7h0M148.1 508.5h0M145 531.3h0M136.9 536.8h0M132.8 554.9h0M141.2 507.1h0M133.4 498.7h0M138.8 526.5h0M141.3 554.5h0M136.9 560.5h0M142.1 563h0M139.7 543.1h0M144.6 510.4h0M154.4 523.9h0M141.8 550.6h0M133.8 545.2h0M147 550.4h0M133.9 519.8h0M142.3 527.4h0M138.8 535.7h0M147.8 506.1h0M140.2 510.5h0M138 549.8h0M132.8 501.7h0M131.2 545.4h0M134.9 562.3h0M139.5 519.5h0M133.2 503.3h0M139.8 548.5h0M135.6 565h0M143.5 521.5h0M135.5 515.6h0M140.7 551.8h0M152.4 521.3h0M146.7 557.5h0M132.8 508.5h0M148.5 517.3h0M142.3 526.9h0M133.7 518.3h0M134.6 520.3h0M136 563.3h0M141.2 538.9h0M134.4 546.6h0M137.4 506.6h0M148.4 520.3h0M140.4 557.4h0M136.6 541.5h0M139.2 545.8h0M147 546.4h0M147.8 511h0M144.5 551.7h0M147.4 508.6h0M133.8 535.1h0M140.8 532.2h0M150 509.3h0M143.6 509.8h0M134.1 551.5h0M148.4 545.8h0M145.9 506.4h0M135 548.2h0M139 508h0M132.2 507.1h0M136.9 519.8h0M136.6 501.1h0M133.3 499.2h0M138.7 505.6h0M147.9 550h0M150.1 525.9h0M137.1 520.7h0M144.4 529.9h0M146.1 526.7h0M150.4 538h0M131.3 560.2h0M137.4 538.5h0M133.8 501.3h0M152.3 544.1h0M153.1 537.6h0M141.2 527.3h0M141.2 519.2h0M152.5 538.4h0M129.1 556.3h0M147.7 522.4h0M134.1 558.4h0M137.7 501.5h0M144.9 525.6h0M140.6 513.5h0M134.4 527.6h0M153.2 537.4h0M137.5 554.3h0M148.3 545.9h0M146.8 542.2h0M130.5 561.3h0M148.9 512.9h0M140.7 509.3h0M143.3 539.2h0M133.7 504.5h0M145.6 539.5h0M139.1 533.9h0M128.5 558h0M133.1 497h0M144.2 542.6h0M147.3 527.3h0M152.7 543.4h0M136.1 528.4h0M135.5 508.4h0M142.5 546.9h0M134.9 505.1h0M143.3 539.7h0M141.2 554.1h0M142.8 561.8h0M141.6 532.3h0M135.4 514.7h0M132.6 508.9h0M137.6 552.3h0M134.1 536h0M135.2 525.5h0M146.4 551.2h0M143.6 515.7h0M141.5 558.7h0M142.4 537.9h0M136 548.6h0M154.4 529.3h0M144.1 533.3h0M131.9 559.6h0M153 536.2h0M136.2 510.7h0M135.7 548.4h0M145.4 539.5h0M153.8 521.9h0M132.9 539.6h0M131.7 543.8h0M148.7 552.5h0M128.9 554.1h0M146.1 535.2h0M141.2 547.7h0M138.2 508.7h0M139.5 535.5h0M149.5 514.4h0M132.9 549.1h0M136.7 556.2h0M146.3 504.2h0M145 541.9h0M146.9 554.1h0M144.5 518.4h0M141.5 539.6h0M142.8 561.2h0M139.3 504.8h0M139.3 525.7h0M145.3 530.1h0M147.5 536.1h0M148.1 509.6h0M138 504.2h0M132.6 562.8h0M133.9 521.2h0M140.7 515.4h0M144.4 545.7h0M152.9 520.1h0M152.8 543.7h0M149.3 528.3h0M144.3 557.1h0M137.3 551.3h0M141.9 551.1h0M134.9 516.9h0M155.3 524.7h0M135.4 544.7h0M144.2 538.3h0M137.9 543.9h0M138.5 531.1h0M126.5 562.5h0M135.5 527.7h0M150.3 530.3h0M133.5 520.5h0M137.6 521.5h0M147.3 544.1h0M143 560.3h0M142.7 510.5h0M139.9 514.9h0M144.2 550.1h0M135.3 521h0M136.8 532.1h0M138.3 528.5h0M135.1 529.7h0M135 505.8h0M142.4 526.6h0M134 546.4h0M134.5 549.2h0M134.5 550h0M147.6 525.9h0M139 502.1h0M133.2 514.4h0M149 551h0M143.8 549.5h0M137.5 540.9h0M135.2 497.1h0M140.4 557.5h0M139.6 559.3h0M136.1 513.9h0M133.7 503.8h0M133.8 562.8h0M148.5 525.5h0M134.4 539.4h0M132.8 539.6h0M148 515.7h0M141.9 557.8h0M149.5 528.4h0M139.5 551.2h0M142 504.5h0M135.9 504.2h0M145 550.7h0M136.7 497.3h0M145.4 548.8h0M148 528h0M137.4 524.2h0M140.3 549.6h0M139 512.6h0M132.1 504.4h0M146.5 531.1h0M136.1 564.4h0M135.4 521h0M137.1 529h0M150.2 520.7h0M143 531.9h0M153.7 537.8h0M153.2 521.4h0M133.1 555.4h0M136.3 511.7h0M141.4 501.2h0M153.6 519h0M133.9 500h0M139.3 535.4h0M140.1 553.6h0M137.7 520.4h0M144 524.6h0M138.2 513.4h0M143.9 559.9h0M134.8 521.9h0M130 562.8h0M136.8 527.1h0M139.7 512.7h0M152.7 532.4h0M141.1 557.1h0M144.7 554.8h0M132.2 558.9h0M136.7 518.3h0M146.2 530.6h0M148.9 520.7h0M136.6 561.7h0M141.3 557.1h0M131.1 556.8h0M133.5 553.5h0M135.8 562.2h0M151.5 522.7h0M141.7 516.8h0M152.7 525.4h0M140.6 511.8h0M146.9 533.6h0M128.5 561.9h0M132.7 505.7h0M146.6 525.5h0M149.2 525.9h0M141.4 546.4h0M134.7 521h0M135.3 514.7h0M146.7 504.7h0M139.8 541.5h0M147.7 513.2h0M143 537.1h0M144.6 527.5h0M138.1 528.6h0M137 538.9h0M136.3 563.8h0M130.7 560.6h0M137.3 559.8h0M148.8 530.3h0M149.2 513.6h0M134.2 534.5h0M150.6 550.7h0M143.1 545.9h0M136.7 563.6h0M133.8 553h0M133.2 545.7h0M141.9 537.8h0M129.2 555.6h0M151 532.7h0M138.5 509.5h0M152.9 544.2h0M151.1 523.4h0M139.1 531.9h0M142.6 521.2h0M150.4 549.5h0M144.9 536.3h0M144.9 514.1h0M138.6 501h0M145.1 526.4h0M149 511.3h0M149.2 538.5h0M136.4 499.1h0M146.3 537.7h0M154.9 523.1h0M126.5 560.9h0M146.7 547.2h0M137.8 544.5h0M150.2 510.3h0M136.1 536.4h0M145.7 535.9h0M135.2 556.7h0M143.3 515.1h0M141.7 516.8h0M151.6 523.5h0M129.6 555.8h0M141.9 541.1h0M140.7 500.5h0M139.5 507h0M129.9 552.2h0M143.3 508.6h0M137.3 558.4h0M134.6 565.1h0M134.1 545.6h0M135.4 550h0M131.7 547.9h0M134.1 497.3h0M140.9 504.9h0M148.5 511.1h0M142.3 541h0M133.1 510.4h0M151.7 515h0M136.4 510.7h0M146.9 504.6h0M138.6 548.9h0M135.3 511.9h0M140 509.4h0M146.8 553.1h0M142.6 532.7h0M142.4 521.4h0M140.9 539.1h0M150.6 516.8h0M140 556h0M151.6 519.1h0M147.2 524.6h0M149.7 541.2h0M131.3 554.9h0M132.2 555.6h0M141.2 512.8h0M135.9 563.3h0M142.1 562.1h0M136.5 545.8h0M142.7 554.9h0M132.9 557.1h0M154.6 530.4h0M140.2 503.9h0M140.8 561.4h0M133.6 542h0M149.6 528h0M137.5 546h0M131.6 554.3h0M147.5 524.3h0M132.9 540.2h0M150.8 521.4h0M134.2 554h0M150.9 544.6h0M134.5 560.9h0M143.4 556.1h0M131.7 557.4h0M154 523.2h0M148 510.8h0M140 504.7h0M143.6 506.1h0M137.3 497.8h0M154.7 539.2h0M134.6 511.8h0M148.6 530.5h0M135.4 528.8h0M150.3 510.4h0M137.4 514.6h0M131.6 563.7h0M134.6 528h0M153.8 532.5h0M133.7 501.2h0M153 517.1h0M147.9 522.1h0M145.1 557.8h0M142.5 502h0M145.2 514h0M138.6 545.4h0M147.8 539h0M138.1 564.1h0M148 517.7h0M148.9 538.1h0M132 551.5h0M151.2 548.2h0M139.2 525.2h0M134.3 498.4h0M143.4 533.5h0M138.7 550.7h0M151.9 532.2h0M133.9 541.8h0M150.7 545.9h0M143.4 507.5h0M146.8 538h0M146.7 528.2h0M142.5 507h0M134.2 524.8h0M138.1 560h0M136.2 552.7h0M146.5 513.7h0M134.3 542.6h0M142.6 522.1h0M134.5 524.7h0M134.7 551.7h0M152.7 536h0M145.4 555.2h0M137.2 539.6h0M140.7 499.9h0M136.8 519.8h0M142.9 558.6h0M138.5 523.2h0M133.2 557.1h0M140.2 540.8h0M135.1 533.6h0M127.5 557.2h0M137.3 529.7h0M130.1 565h0M139.7 500.8h0M143.9 538.1h0M148 520h0M143.9 519.7h0M149 513.4h0M140 538.9h0M147.8 519.4h0M149.3 546h0M138.2 556.1h0M151.4 533.3h0M140.6 530.7h0M146.2 532.2h0M141.6 555.9h0M143.3 515.5h0M148.1 540.8h0M134.9 527.2h0M141.3 502.4h0M138.4 562.2h0M132.3 541.3h0M137.2 555.1h0M139.4 510.6h0M136.1 514.2h0M147.8 514.1h0M133.2 540.8h0M134.5 542.5h0M149.7 537.4h0M133 535.5h0M154.8 521.9h0M138.2 562.5h0M140.3 511.1h0M143.4 551.4h0M148 520.4h0M133.2 506.4h0M145.4 529.9h0M144.3 560.5h0M137.6 537.9h0M137.4 557.5h0M148.7 522.2h0M137.6 503h0M154.1 531.2h0M138.7 507.6h0M136.8 520.7h0M135.1 541h0M138.2 547.5h0M134.1 563.9h0M132.9 547.7h0M139 519.2h0M143 529.3h0M149.8 545h0M135.8 537.5h0M137.3 548.1h0M140.7 558.9h0M134 523.9h0M145.8 538.4h0M139.5 538.2h0M137.7 533.2h0M146.9 523.9h0M134.5 563.2h0M150.8 520h0M140.5 561.3h0M137.6 499h0M136.3 544.8h0M126.3 563.9h0M149.5 535.8h0M140.5 528.3h0M144.2 553.3h0M139.8 507.2h0M133.9 519.7h0M142.7 501.7h0M135.5 542.4h0M140.1 503.8h0M136.3 533.9h0M139.8 524.9h0M144.4 531.8h0M143.2 531.4h0M140.4 518.4h0M151.4 528.6h0M152.6 521.4h0M146.1 530.1h0M143.8 505.5h0M150.5 528.3h0M146.7 515h0M147.1 517h0M153.4 538.4h0M147 534.3h0M148 515.9h0M135.8 542.5h0M131.9 497.9h0M141.4 525.5h0M142.7 542.1h0M137.9 556.6h0M137.3 528.3h0M131.9 548.2h0M128.2 558.9h0M134.8 564.7h0M133.7 529.9h0M131.8 500.9h0M150.3 525.9h0M138 536.7h0M140 555.8h0M140.7 544.9h0M130.8 556.5h0M140.2 497.9h0M134.3 562.4h0M133.1 504.5h0M154.9 526.1h0M142 521.4h0M153.2 530.3h0M146.3 539.1h0M131.7 559.5h0M128.7 556.8h0M139.3 532.2h0M133.8 497.2h0M140.8 557.2h0M144.9 528.7h0M149.1 529h0M144.5 509h0M134.6 510h0M134.8 516h0M136 544h0M143.3 553.6h0M145 548.1h0M138.1 534.3h0M144.1 544h0M137.4 521.5h0M140.3 536.8h0M139.7 549.3h0M132.9 563.2h0M146.7 539.6h0M139.7 508.1h0M134.7 517.8h0M138.9 501.2h0M134.7 516.3h0M139.2 540h0M151.5 544.3h0M133.6 540.6h0M148.4 554.4h0M142.9 558h0M144.7 522.9h0M153.7 524.8h0M127.2 560h0M135.6 551.7h0M145.6 518.8h0M139.9 523.7h0M149.3 518.1h0M137.8 550.3h0M141.3 543.6h0M145.3 513.1h0M151.9 539.5h0M135.2 503.5h0M133.1 505.7h0M142.2 522.4h0M145.4 512.3h0M144.4 515.8h0M137.4 513.8h0M132.1 496.3h0M134.5 517.7h0M148.4 522.8h0M152.2 545.2h0M151.7 526.3h0M134.5 536.7h0M145.4 553.8h0M141.3 504.8h0M152.9 529.3h0M133.2 517.7h0M142 542h0M144.8 527.5h0M148.1 538.6h0M138.6 506.7h0M133.6 501.2h0M151.2 528h0M141.4 554h0M138.9 537.1h0M154.9 520.7h0M141.1 513.6h0M147.7 522.9h0M148.4 554.2h0M140.2 520.8h0M154.6 530.6h0M137.2 547.9h0M146.9 552.1h0M148.6 517.7h0M147.2 514.9h0M133.8 496.7h0M142.8 534.5h0M136.9 534.4h0M151.7 531.1h0M128.8 558.2h0M138.1 519.6h0M144 506.6h0M140.8 539.5h0M153.7 535.8h0M131.9 502.1h0M147.6 520.9h0M133.8 534.1h0M145 538.4h0M144.7 557h0M144.9 542.1h0M153.3 518.1h0M152.6 514.3h0M138.3 563.6h0M144.1 532.5h0M129.4 558.1h0M146.3 507.8h0M151.3 517.2h0M148.1 540.9h0M133 508h0M138.3 498.5h0M151.9 537.8h0M135.6 529.3h0M149.6 527.4h0M136 497.1h0M151.3 545.4h0M141.9 561.2h0M137.1 520.4h0M140.6 502.3h0M136.7 518.1h0M129.5 554.7h0M142 546.5h0M143 511.8h0M132.7 509h0M143.7 517.5h0M128 564.4h0M134.3 543.3h0M151.5 519.3h0M140.8 527.8h0M140.9 544h0M148 522.6h0M145.8 557.4h0M140 529h0M138.5 508.9h0M143 514.5h0M135.7 561.2h0M133 519.4h0M144.6 538.3h0M132.2 508.4h0M148.1 554.3h0M149.5 546.4h0M139.5 558.2h0M145.1 505.1h0M138 526h0M134.6 535.9h0M134.3 546.6h0M151.5 539.2h0M150.2 528.6h0M126.6 558.9h0M140 526h0M150.4 525.4h0M141.5 523.6h0M135.5 534.3h0M140.5 553.2h0M154.4 525h0M127.7 557.2h0M152.6 530.9h0M142.6 540.3h0M147.5 511h0M135.1 534.6h0M143.8 546.7h0M145.1 525.9h0M127.4 559.3h0M135.1 520.5h0M133.5 509.2h0M138.3 555.1h0M135.7 503.7h0M152.6 528.7h0M138.6 503.4h0M154.5 537.7h0M136.5 538.8h0M138.7 555.2h0M133.7 525.3h0M142.7 554.3h0M141 502h0M136.5 555.4h0M138.2 550.5h0M148.8 524.1h0M134.9 514.3h0M145.7 522.1h0M146.1 504.2h0M150.4 526.6h0M134.8 520.9h0M137.7 506.1h0M137 506.3h0M141.7 515.6h0M146.1 533.4h0M130.5 556.5h0M141.8 505.9h0M139.6 499.4h0M133.6 558.2h0M136.3 531.1h0M149.7 513.4h0M142.9 529.5h0M136.9 553.3h0M145.9 522.4h0M134.6 560.2h0M135.2 511.3h0M152.4 521.5h0M152.6 527.8h0M143 559.6h0M133.8 533.8h0M147.1 510.1h0M153.6 525.5h0M132.3 508.9h0M137.8 513.1h0M137.1 564.3h0M137.2 499.1h0M140.5 537.6h0M141.7 548.2h0M148.6 535.3h0M150.9 512.9h0M148.7 545.6h0M151.1 534.6h0M133.5 523h0M146.5 516.5h0M155.3 525.5h0M140 550.2h0M135.6 521.5h0M137.5 522.1h0M130.3 555.1h0M132.3 500.3h0M133.8 535.1h0M152.4 531.9h0M151 524.8h0M150.3 512.7h0M136 512h0M135.8 530.5h0M136.7 515.9h0M146.9 540.6h0M133.5 512.6h0M136 510.9h0M139 515.2h0M129.6 552.3h0M149.6 519.9h0" stroke="#7ba7dc" stroke-width="1.5" stroke-linecap="round" fill="none"/>
<path d="M127.7 536.8h0M121.1 547h0M124.7 541.2h0M117.2 551.9h0M119.2 543.4h0M121.4 541.2h0M122.4 539.3h0M117.2 551.7h0M116.4 542.8h0M125.4 533.6h0M111 549.3h0M111.8 548.8h0M126.1 532.3h0M129.2 528h0M128.9 533.2h0M117.2 548.8h0M126.6 539.8h0M116 551.3h0M111.8 546.6h0M111.2 547h0M126.5 530.1h0M116.4 542.1h0M120.8 537h0M127.7 533.9h0M126.6 527.3h0M118.7 537.8h0M117.9 534.3h0M118.2 550.1h0M116.7 545.4h0M122.9 546.8h0M124.6 532.5h0M122.3 535.8h0M129.2 529.3h0M117.1 542.2h0M121.5 533.7h0M120 535.2h0M127.1 538.6h0M112.9 547.4h0M118.7 542.5h0M128.3 528h0M116 546.1h0M127.1 531.2h0M118 535.9h0M126.7 534.6h0M120.3 534.1h0M123.6 539.2h0M112.3 542.3h0M123.2 537.2h0M126 538.8h0M125.5 527h0M113.7 551h0M118.5 538.7h0M116.9 546.6h0M123.8 543.6h0M126.2 538.1h0M117.2 545.9h0M114.3 539.8h0M123.4 544h0M126.2 537h0M121 540h0M118.5 543.6h0M120.8 548.7h0M113 550.6h0M120.9 548h0M119.8 539.9h0M127.9 527.6h0M122.8 541.4h0M118.4 534.2h0M116.2 545.4h0M124.9 533.4h0M116.7 547.1h0M111.8 548h0M120.8 538.1h0M127.7 529.2h0M124.6 536.4h0M116.9 550.4h0M115.4 542.1h0M118.7 539.5h0M126.2 530.9h0M121.3 535.7h0M121.9 530.9h0M126.2 533.3h0M120.4 533.4h0M123 536.6h0M121.2 540.2h0M128.3 532.7h0M126.8 531.1h0M120.2 544.4h0M124.5 529h0M123.6 544.8h0M125.4 540.2h0M117.1 551.6h0M127.5 528.5h0M117.8 545.5h0M116.3 548.3h0M117.6 534.8h0M113.5 546.2h0M124.9 530.7h0M111.1 549.5h0M120.4 533.7h0M116.9 536.4h0M117.6 546.2h0M125.7 533.4h0M127.5 532.2h0M110.7 549.8h0M125.1 533.2h0M115.8 550.5h0M127 529h0M125.2 527.5h0M121.7 541.5h0M112.6 549.2h0M119.3 539.1h0M116.3 549.4h0M115 547.5h0M116.7 549.6h0M119.3 538.2h0M114.4 543h0M122.8 529.8h0M115.8 537.7h0M123.7 536.8h0M122.9 542.3h0M123.8 530.7h0M115.8 547.3h0M126.6 533.7h0M117.3 539.2h0M116.6 540.7h0M125.7 537.1h0M112.5 547.6h0M118 534.5h0M112.2 546.1h0M118.5 542.7h0M116.6 539h0M113.1 544.6h0M121 537.2h0M120.4 548.6h0M124.4 527.8h0M123.1 530.7h0M114.2 547.8h0M125 537.2h0M124.3 530.7h0M121.3 541.2h0M119.5 532.5h0M126.9 538.2h0M118.9 543.8h0M116.8 546.6h0M129.2 530.9h0M111.1 547.3h0M127.7 531.2h0M118.6 539.7h0M113.1 545.2h0M128.4 530.3h0M117.2 537.7h0M115.7 541h0M119.8 539.5h0M115.2 541.8h0M120.2 543.2h0M116.5 548.2h0M126.6 540h0M118.7 544.3h0M116.4 543.9h0M116.1 543.2h0M125.7 529.4h0M122.4 534.8h0M119.8 534.6h0M119.4 542.8h0M112.8 550.7h0M117.4 551.6h0M120.4 540.9h0M117.5 544h0M108.5 549.5h0" stroke="#ef7f22" stroke-width="1.5" stroke-linecap="round" fill="none"/>
<path d="M107.8 557h0M101.1 557.2h0M102.8 558.4h0M105.8 556.5h0M97.6 558.9h0M96.8 558.2h0M102.2 556.1h0M103 557.3h0M95.8 557.3h0M96.2 559h0M107 556h0M104 556.8h0M96.4 557.6h0M108.5 558h0M108.3 557.6h0M105.8 555.5h0M97.1 556.9h0M107.1 557.9h0M103.1 557.2h0M103.1 557.4h0M106.1 558.3h0M95.9 558.8h0M101.4 558.3h0M97.6 556.6h0M108.3 558h0" stroke="#e3e34a" stroke-width="1.5" stroke-linecap="round" fill="none"/>
<path d="M104.8 570.7h0M102.5 576.9h0M106.7 569.1h0M111.2 568.8h0M104.6 570.9h0M117.7 565.8h0M116.5 567.7h0M107.4 569.1h0M100.4 577.8h0M115.1 568.7h0M120.3 566h0M101.1 578.1h0M104.9 570.6h0M103.3 576.1h0M100.3 577.2h0M119.5 567.2h0M98.4 577.2h0M97.4 577.8h0M108.5 572.4h0M111.3 570h0M99.8 577.4h0M121.3 566.7h0M110 571h0M113 570.1h0M112 568.2h0M97.3 577.4h0M116.2 565.9h0M105.9 572.6h0M111.9 569.9h0M113.2 568.2h0M113.2 568.9h0M108.8 571h0M105.1 571.6h0M99.3 578.5h0M102.6 576.3h0M119.3 565.5h0M110.9 571.2h0M117.8 567.1h0M114.1 567.7h0M118.8 567.6h0" stroke="#f3d3a3" stroke-width="1.5" stroke-linecap="round" fill="none"/>
<path d="M114.7 575.6h0M114.3 584.2h0M115.2 579.5h0M116.2 578.2h0M113.3 582.3h0M118.3 572h0M112.1 578.6h0M114.8 582.2h0M118.1 572.8h0M110 577.3h0M115.8 577h0M111.9 582.8h0M111.6 575h0M116.9 578.2h0M110 583.9h0M111.6 582.8h0M113.9 579.5h0M111 583.9h0M111.7 581.3h0M116.9 576.3h0M112.1 575.3h0M115.6 576.7h0M112.8 584.5h0M113.7 577.8h0M118.5 573.2h0M115.5 572.9h0M114.6 579.4h0M112.2 580.7h0M114 578.9h0M117.2 574.2h0" stroke="#f3efa0" stroke-width="1.5" stroke-linecap="round" fill="none"/>
<path d="M67,487.9 C68.1,487.6 69.9,487.7 70.9,488.9 C71.9,490 72.7,492.1 72.8,494.6 C73,497.2 72.3,501.4 71.9,504.3 C71.4,507.2 70.4,509.6 69.9,512 C69.5,514.4 68.5,517.3 69,518.7 C69.5,520.2 71.2,520 72.8,520.7 C74.4,521.3 76.8,521.6 78.6,522.6 C80.4,523.6 82.5,525 83.4,526.4 C84.4,527.9 84.7,529.7 84.4,531.3 C84.1,532.9 82.8,535 81.5,536.1 C80.2,537.2 78.4,537.7 76.7,538 C74.9,538.3 72.8,538.3 70.9,538 C69,537.7 67,536.6 65.1,536.1 C63.2,535.5 60.8,534.6 59.3,534.7 C57.9,534.9 57.2,535.7 56.4,537 C55.6,538.4 54.8,540.6 54.5,542.8 C54.2,545.1 54.2,548 54.5,550.5 C54.8,553.1 55.5,556 56.4,558.2 C57.4,560.5 58.5,562.1 60.3,564 C62.1,566 64.6,567.9 67,569.8 C69.5,571.7 72.5,573.7 74.8,575.6 C77,577.5 78.9,579.1 80.5,581.4 C82.1,583.6 83.4,586.7 84.4,589.1 C85.4,591.5 86.1,593.6 86.3,595.8 C86.6,598.1 87.2,601.6 85.9,602.6 C84.6,603.5 81.1,602.1 78.6,601.6 C76.1,601.1 73.8,600.7 70.9,599.7 C68,598.7 64.5,597.1 61.3,595.8 C58,594.5 55.2,593.7 51.6,592 C48.1,590.2 43.6,587.6 40.1,585.2 C36.5,582.8 33.2,580.4 30.4,577.5 C27.7,574.6 25.3,571.4 23.7,567.9 C22,564.3 21,560.2 20.4,556.3 C19.8,552.5 20,548.4 20.2,544.8 C20.4,541.2 21.2,537.1 21.7,534.7 C22.3,532.3 22.7,532.3 23.7,530.3 C24.6,528.3 25.8,525 27.5,522.6 C29.3,520.2 31.5,517.9 34.3,515.8 C37,513.8 40.7,512 43.9,510.1 C47.1,508.1 50.7,506.4 53.6,504.3 C56.4,502.2 59.4,499.8 61.3,497.5 C63.1,495.3 63.8,492.4 64.7,490.8 C65.7,489.2 66,488.2 67,487.9Z" fill="none" stroke="#d4626a" stroke-width="1.6"/>
<line x1="20.3" y1="531.6" x2="25.2" y2="533.6" stroke="#fff" stroke-width="2.4" />
<path d="M126.4,495.3 C128.5,493.5 134,496 136.8,496.9 C139.7,497.8 141.1,499.2 143.3,500.9 C145.4,502.7 147.8,504.9 149.7,507.4 C151.6,509.8 153.3,512.5 154.5,515.4 C155.7,518.4 156.6,521.8 157,525.1 C157.4,528.3 157.4,531.5 157,534.7 C156.6,537.9 155.6,541.2 154.5,544.4 C153.5,547.6 151.9,551.3 150.5,554 C149.2,556.7 148,558.7 146.5,560.5 C145,562.2 143.5,563.4 141.7,564.5 C139.8,565.6 137.6,566.3 135.2,566.9 C132.8,567.5 129.9,568 127.2,568.2 C124.5,568.4 120.1,569.5 119.1,568.2 C118.2,566.9 121.3,562.6 121.6,560.5 C121.8,558.4 121.4,556.8 120.7,555.6 C120.1,554.5 119.1,554.1 117.5,553.7 C115.9,553.3 114,553 111.1,553.2 C108.1,553.4 100.6,555.5 99.8,554.8 C99,554.2 104.4,551.5 106.3,549.2 C108.1,546.9 109.5,544.1 111.1,541.2 C112.7,538.2 114.3,535 115.9,531.5 C117.5,528 119.4,524.3 120.7,520.2 C122.1,516.2 123,511.5 124,507.4 C124.9,503.2 124.2,497 126.4,495.3Z" fill="none" stroke="#1f7ac8" stroke-width="1.5" stroke-dasharray="3.5 2.2"/>
<text x="125" y="582.5" font-size="6.6" text-anchor="start" font-weight="normal" fill="#231f20" font-family="Liberation Sans" font-style="normal" >Cluster 12</text>
<text x="107.5" y="600.8" font-size="6.6" text-anchor="start" font-weight="normal" fill="#231f20" font-family="Liberation Sans" font-style="normal" >Cluster 5</text>
<line x1="123.5" y1="578" x2="108.5" y2="571.5" stroke="#222" stroke-width="0.6" fill="none"/>
<polyline points="110.7,571.3 108.5,571.5 109.9,573.2" stroke="#222" stroke-width="0.6" fill="none"/>
<line x1="106.5" y1="595.5" x2="100.5" y2="589.5" stroke="#222" stroke-width="0.6" fill="none"/>
<polyline points="102.6,590.1 100.5,589.5 101.1,591.6" stroke="#222" stroke-width="0.6" fill="none"/>
<path d="M219.5 516.6h0M198.6 513.3h0M210.6 513.7h0M224.5 522.2h0M220.3 518.8h0M194.9 517.6h0M207.9 521.2h0M211.3 518.9h0M216 521.8h0M229.7 521.9h0M224.4 521.9h0M203.8 521.5h0M197.4 517h0M213.2 516.5h0M211 521h0M224.9 521.5h0M207.7 515.1h0M198.9 520.6h0M225.2 519.2h0M196.4 519.9h0M213.4 515.1h0M221.8 517.1h0M213 519.3h0M199.3 519.3h0M204 518.4h0M209.3 518.8h0M198.2 520.2h0M216.7 517.5h0M204.9 514.8h0M202.8 520h0M208 514.8h0M206.4 515.2h0M204.5 514.7h0M195.4 515.2h0M223.8 522h0M201.7 516.6h0M199.1 517.8h0M208.5 516.2h0M218.1 520.2h0M227.9 519.8h0M227.1 521.4h0M217.4 519.5h0M199.2 519.5h0M200.8 520.7h0M224.2 519.8h0M226.1 520.9h0M224.3 520.2h0M222.8 520.3h0M207 519.9h0M199.1 521.5h0M221.2 516.8h0M218.7 516.4h0M226.6 520.7h0M196.7 520.1h0M205.5 520.6h0M209.3 513h0M196.8 514h0M223 519.8h0M219.7 520.7h0M214.2 518.6h0M200.6 518.9h0M208 513.3h0M208.1 518.5h0M218.9 517.1h0M195.8 520.3h0M216.2 520.4h0M207.7 513.8h0M203.7 513.7h0M221 517.9h0M220 521.4h0M211.6 514.2h0M197 520.3h0M200.6 514.2h0M196.8 518h0M202.4 515.7h0M214.6 521.7h0M199.1 514.9h0M206.3 517.2h0M206.7 515.9h0M211.8 516.7h0M212.5 514.5h0M213.2 519.6h0M210.8 520h0M214.8 519.9h0M205.5 519.9h0M217.1 521.3h0M217.9 519h0M215.4 515.7h0M221.9 520.7h0M228.7 521h0M215.6 518h0M206.7 518.9h0M208.3 515.4h0M212.1 517h0M196 519.1h0M208.2 518.4h0M228.1 521.4h0M218 519.6h0M227.4 520.7h0M210.6 517.9h0M198.4 521.3h0M205 520.6h0M209.2 517.5h0M210.4 515.4h0M206.7 512.9h0M225.7 522.1h0M205.8 519.8h0M196.4 517.7h0M204.8 513.9h0M217.6 517.5h0M215 517h0M214 519.5h0M205.5 515.6h0M212.8 516.4h0M217.9 515.7h0M212.2 516.8h0M207.7 520.2h0M213.2 519.1h0M202.5 521.1h0M216.4 518.2h0M224.9 519.4h0M208 521.1h0M210.4 515.8h0M195.7 517.9h0M196.7 516.7h0M207.4 514.3h0M228.4 522.5h0M223.4 521.7h0M216 520.4h0M202.3 518.3h0M205.4 519.3h0M193.5 516.5h0M204.8 512.1h0M197 518.8h0M206 516h0M204.6 514.3h0M229.2 520.6h0M219.1 518.2h0M226.2 519.3h0M204 514h0M216.8 520h0M208.3 518h0M221.8 519.7h0M199.6 512.7h0M199.9 515.5h0M207.4 521.7h0M228.7 522.3h0M226.2 519.9h0M201.6 521.2h0M227.6 522.1h0M208.1 515.1h0M220.4 517.9h0M205.2 515.6h0M198 516.3h0M209.8 521.1h0M217.9 520.2h0M209.5 514.5h0M198.1 520.5h0M219.3 517h0M221.2 517.7h0M212.7 514.2h0M210.2 518.4h0M206.9 516.1h0M223.8 520.1h0M202.6 518h0M217.3 520.2h0M195.6 515.7h0M200.4 519.9h0" stroke="#1f4a22" stroke-width="1.5" stroke-linecap="round" fill="none"/>
<path d="M228 512h0M234.4 512h0M222.6 509.8h0M225.7 508.2h0M222.1 508.8h0M223.3 505.3h0M228.7 514.9h0M233.9 514.3h0M221.6 509.5h0M220.2 505.9h0M230.5 515.5h0M230.3 510h0M239.4 518.9h0M225.3 511.7h0M230.1 510.1h0M222.8 508.1h0M224.6 510.5h0M228.4 513.8h0M225.7 510.7h0M230.3 514.9h0M228.1 512.5h0M227 510.2h0M224.4 505.8h0M224.3 510.3h0M226.3 511.8h0M223.6 511.4h0M233.1 511.4h0M230.5 513.5h0M223.3 506.2h0M234.2 513.1h0M221.8 510.2h0M233.9 511.7h0M231.7 512.8h0M228.5 513.9h0M220.1 508h0M232.6 517.5h0M222.2 509.7h0M231.9 515.6h0M235.3 517.7h0M237.3 517.9h0M231.3 514.6h0M226.3 508.2h0M232.1 514.7h0M235.4 513.8h0M220.4 505.2h0M225.3 505.6h0M222.4 510.9h0M221.8 511h0M227.9 508.4h0M224 509.6h0M231.4 509.2h0M236.2 514.5h0M225.3 511.4h0M228.8 512.8h0M235.7 519.9h0M228.7 509.3h0M230.3 508.3h0M239.4 517.9h0M224.2 509.5h0M224.5 508.9h0M223.9 507.3h0M231.3 514.4h0M234.8 514.1h0M219.2 506.5h0M231.6 515.1h0M220.9 505.9h0M230 512.4h0M232.9 516.8h0M227.1 512.9h0M224.7 505h0M231.6 509.6h0M221.3 509.4h0M226.6 511.9h0M240.4 518.5h0M225.8 505.9h0M222.2 504.9h0M227.6 507h0M230.4 515.7h0M225.6 507.7h0M228.4 508.2h0M231.1 510.7h0M238.1 516.4h0M237.9 518.5h0M235.9 518.6h0" stroke="#f3d3a3" stroke-width="1.5" stroke-linecap="round" fill="none"/>
<path d="M222.5 526h0M226.3 538.9h0M223.6 533.4h0M230.2 540.4h0M229.7 532.7h0M223.9 527.2h0M202.7 524.7h0M222.8 537.4h0M206.8 528.4h0M232.7 537.7h0M234.7 533.2h0M221.7 536.5h0M225.5 527.1h0M220.5 526.4h0M228.6 533.2h0M214.5 529.5h0M221.5 533.4h0M231.2 534.5h0M219 538.2h0M219.8 535.3h0M211.6 525.3h0M234.3 539.9h0M225.3 536h0M229.1 528.5h0M208.9 523.6h0M229.7 531.4h0M234.2 533.4h0M201.6 529.9h0M229.7 533.9h0M202 526.4h0M223.5 532.3h0M204.5 526.5h0M228.1 537.4h0M221.5 537.8h0M227.4 530.4h0M217.1 531.8h0M222.5 530.1h0M231.3 538.1h0M209.2 529.5h0M215.5 531.1h0M200.8 524.4h0M220.4 526.5h0M216.9 528.9h0M212.1 529.2h0M202.6 529.2h0M234.5 531.7h0M210.3 533.1h0M235.2 537.8h0M211.9 524h0M219.2 526.9h0M213.2 535.1h0M232.1 538.6h0M216.6 525.3h0M206.5 524.3h0M225 535.6h0M215.9 528h0M226.3 536.5h0M208.5 527.4h0M232.4 536.1h0M224.8 534.9h0M204.5 528.1h0M227.2 535.5h0M221.7 527.7h0M226.2 533.3h0M213 525.5h0M200.1 529.6h0M210.8 529h0M205.1 531.1h0M211 523h0M211.8 531.2h0M207.6 532.9h0M225.7 531.1h0M229.6 533.7h0M227.3 530h0M234.6 535.2h0M214.7 532.2h0M202.8 524.5h0M235 540.3h0M208.4 525.6h0M211.5 526.8h0M214.1 534.5h0M213.3 533h0M211.8 527.7h0M212.7 531.9h0M209.9 532.8h0M227.6 531.6h0M204.8 524.9h0M211.9 527h0M231.2 530.5h0M233.7 538h0M217.5 524.3h0M225.5 529.2h0M223.2 530.9h0M197.4 524.8h0M212.8 526.5h0M213.3 535.2h0M211.3 528.8h0M207.3 529.5h0M198.3 524.4h0M208.3 528.9h0M206.1 526.7h0M219.8 526.8h0M228.7 538.6h0M205.8 529.8h0M214.2 527.8h0M206.8 531.8h0M210.5 523h0M219.1 534h0M232.4 534.4h0M203.7 528.4h0M218 530.4h0M228.6 536.4h0M211.8 525.7h0M202.6 529.5h0M208.7 526.6h0M213.9 532.7h0M235.3 539.9h0M211 529h0M224.9 528.2h0M226.4 527.6h0M197.3 524.3h0M225.7 540h0M207.9 528.2h0M223.9 529h0M230.6 533.1h0M200 523.5h0M222.9 525.5h0M231 537.4h0M229.7 536.2h0M232.2 539.5h0M217.8 529.3h0M230.1 534.6h0M234.8 535.3h0M222.7 539.1h0M206 525.7h0M225.1 535.8h0M210.7 530h0M210.5 534.9h0M205.1 524.4h0M204.5 524.7h0M211.7 523.2h0M220.5 537.3h0M209.9 535h0M230.8 533.2h0M209.7 527.7h0M222.9 538.4h0M210.1 522.7h0M220 536h0M221.1 538.3h0M230.9 537.6h0M220.6 526.1h0M202.9 530.9h0M209.9 534.3h0M227.6 539.9h0M221.5 535.7h0M198.6 527.8h0M215.7 529.7h0M227.2 532.2h0M198.6 523.4h0M228.2 537.4h0M226 528.9h0M224 535.6h0M224.6 533.5h0M234.1 536.7h0M211.8 532.7h0M235.1 532.7h0M212.2 523.3h0M214.8 529.2h0M228.2 531.9h0M222.9 529.4h0M211.2 523.4h0M219.6 535.9h0M230.8 532.7h0M201 527h0M232.9 538.1h0M208.3 525.8h0M229.1 540.2h0M206.8 523.7h0M222.3 532.2h0M212.3 523.2h0M199 526.5h0M226.5 532.2h0M205.4 532.3h0M210.6 530.7h0M222 536.9h0M234.7 537.2h0M233.9 536.5h0M228.2 531.6h0M222.1 537.3h0M234.4 534.3h0M211.3 533.3h0M209.1 523.9h0M213.5 532h0M215.4 536.8h0M205.9 526.2h0M215.3 530.6h0M235 532.3h0M207.2 523.8h0M205.5 527h0M212 532.4h0M232.9 537.5h0M220.6 531.8h0M232.4 539.8h0M224.7 534h0M202.9 527h0M232.3 535.2h0M200.1 523.5h0M201.8 525.9h0M205.9 530h0M232.9 540.3h0M231.4 534.1h0M216.8 532.5h0M202.8 528.5h0M196.3 524.9h0M227.3 538.4h0M225.8 531.8h0M212.4 531.1h0M235 540h0M212.9 531.4h0M213.9 531h0M205.4 527.8h0M221.1 530h0M197.1 526.9h0M208.9 531.3h0M208.7 530.3h0M208.2 524.2h0M222 537.5h0M228.5 534.5h0M233.2 532.3h0M205.9 528.5h0M218.3 526.4h0M215.2 532h0M231.7 537.6h0M205.9 525.5h0M220.1 528h0M232.1 532.5h0M231.9 536.4h0M204.2 528h0M219.9 530.1h0M211.6 529.2h0M229.2 529.8h0M213.2 526h0M224.2 539h0M222.7 535.2h0M225.8 530.5h0M228.2 534.6h0M225.3 530.1h0M224.3 533.1h0M218.9 535.7h0M231.2 537.2h0M224.1 534.3h0M205.8 531h0M201.8 524.9h0M223.3 532.5h0M230.8 534.6h0M223.3 527.6h0M219.3 527.4h0M226 535.9h0M211.7 529.8h0M226.2 530.1h0M209.5 529.5h0M227.7 539.8h0M209.8 526.2h0M197 526.7h0M223.8 525.8h0M209.1 527.4h0M217.3 527.2h0M216.5 531.5h0M229.2 538.3h0M217.3 527.5h0M215.8 532.3h0M223.1 529.8h0M214.9 533.3h0M215.6 524.2h0M201.3 529.7h0M221.8 532.1h0M211.7 526.3h0M221 532.2h0M198.1 524.9h0M215.7 525.1h0M221.7 528.1h0M227.2 530.4h0M231.5 533.9h0M199 525.5h0M215 531.9h0M217.3 536.8h0M207.2 527.3h0M205.1 532h0M202.1 523.2h0M205 524.8h0M205.6 532.2h0M224.5 525.9h0M223.5 534.3h0M203.1 526.2h0M229.3 530h0M220.2 525.9h0M199.9 527.1h0M234 535.8h0M217.2 535.5h0M202.9 531h0M216.7 525.4h0M230.8 533.2h0M221.6 537.2h0M223.4 536.6h0M206.4 526.7h0M215.4 532.6h0M216.8 532.4h0M202.1 524.7h0M217 526.3h0M232.9 531.3h0M217.3 526.7h0M195.9 523.8h0M230.2 533.6h0M212.8 527.7h0M208.2 533.7h0M205.6 527.2h0M218.8 538h0M212.4 528.2h0M220.1 531.2h0M217.6 533.1h0M220 538.6h0M200.9 528.3h0" stroke="#c4a6d6" stroke-width="1.5" stroke-linecap="round" fill="none"/>
<path d="M243.5 528.2h0M237.8 530h0M240.4 530.7h0M238.5 522.4h0M242.3 530.5h0M243.1 524.3h0M246.2 530.8h0M241.9 529.3h0M239.4 528.7h0M243.4 530.4h0M241 529.9h0M238.5 527.2h0M242.7 531.8h0M242.7 536.9h0M242.5 525.6h0M244.8 528.9h0M238.7 524.4h0M240.3 532.2h0M244.4 528h0M240.9 532.2h0M239 524.1h0M243.2 535h0M239.6 523.6h0M239.6 530.5h0M244.6 527.4h0M237.7 525.8h0M237.2 522.8h0M241.3 531.9h0M244.4 532.1h0M240.6 526.4h0M243.7 529.3h0M238.6 531.2h0M242.1 534.7h0M242.4 534.4h0M243.5 525.8h0M242.4 528.3h0M236.5 520.9h0M241.9 534.1h0M243.3 525.1h0M241.9 531.7h0M244.2 532.8h0M239 524.2h0M238.8 533.3h0M240.3 533h0M239.1 526.5h0M241.1 528.7h0M240.2 529.7h0M240.9 534.5h0M242.5 526.5h0M240.3 534.4h0M242.9 525.7h0M240.6 529.2h0M242.7 530.8h0M238.4 527.3h0M243.3 526.9h0M241.1 526.7h0M239.4 524.2h0M238.1 532.5h0M241.7 532.9h0M240.9 530.7h0M241 523.1h0M240.1 524.8h0" stroke="#6a70b2" stroke-width="1.5" stroke-linecap="round" fill="none"/>
<path d="M259.3 537.1h0M253.2 541.2h0M254 543.1h0M236.4 544.5h0M232.9 542.2h0M263.9 538.4h0M265.3 534.9h0M264.7 538.5h0M254.5 540.8h0M227.4 542.4h0M252 541.9h0M247.2 543.3h0M232.3 543.5h0M264.2 535.9h0M267.6 535.4h0M237.8 546.3h0M253.2 539.6h0M250.4 544.2h0M236.6 545h0M253 539.1h0M228.9 544h0M228.6 542.4h0M238.4 544.6h0M230.4 542.8h0M228.3 542.4h0M256.5 541.4h0M239 546.1h0M251.7 539.9h0M252.4 542.7h0M245.1 542.4h0M238.6 545.4h0M240.3 545.2h0M248.3 545.4h0M264.5 536.9h0M238.1 545.3h0M235.3 544.3h0M240.5 547h0M243.2 544.3h0M267.6 536.3h0M242.1 545.3h0M240.1 546.3h0M266.9 536.1h0M229.5 543.2h0M256.2 541.5h0M242.3 546.3h0M248.5 545.6h0M255.5 540.6h0M268.3 534.2h0M252.6 541.1h0M226.7 544.3h0M245.2 546.6h0M240.4 544.6h0M235.4 543.8h0M241.4 546h0M265 536h0M237.9 543.2h0M254.6 541.6h0M246.6 542.1h0M260.4 540h0M248.3 543.2h0M239.5 546.1h0M252.3 544h0M246 543.6h0M236.4 544.9h0M233.2 542.8h0M269.4 533.9h0M241.2 546.1h0M253.4 542.3h0M246.1 544.1h0M237.1 545.1h0M240.9 543.3h0M241.9 546.9h0M234.1 545.2h0M235.6 546.5h0M247 542.2h0M249.8 543.1h0M235.5 542.3h0M243.2 546h0M245.8 545.8h0M241 545h0M266 538.1h0M240.8 546.9h0M253.1 542.5h0M230.4 544.4h0M232.7 544.6h0M252.9 542.3h0M231.9 544.8h0M267 538.3h0M248.4 543.8h0M232.1 543.2h0M258 539.8h0M269.5 536.2h0M253.6 541.5h0M267.1 536.6h0M231.9 541.9h0M238.5 545.9h0M235.3 545.7h0M233.8 544.7h0M253.6 543.2h0M241.2 543h0M232 546h0M234.6 546h0M234.1 546.1h0M247.9 545.4h0M228.2 541.9h0M236.1 542.6h0M247.7 544.4h0M263.3 539.2h0M241.8 547.3h0M228.8 542.9h0M259 538.4h0M227.4 542.5h0M246.5 543.2h0M229.6 543.5h0M236.5 544.7h0M234.8 546.4h0M253.2 539.2h0M265 535.5h0M227 543.5h0M270.1 537.3h0M256.5 540.9h0M258.4 537.2h0M239.5 544.4h0M242.2 545.3h0M233.2 542.3h0" stroke="#a65cb5" stroke-width="1.5" stroke-linecap="round" fill="none"/>
<path d="M226.6 546.1h0M231.6 550.3h0M229.2 559.8h0M225.4 556.6h0M239.2 563.6h0M233.4 562.5h0M239.5 555.4h0M238.4 564.1h0M223.4 544.8h0M226.4 548.7h0M221.6 547.6h0M232.7 548h0M232.6 559.6h0M222.7 549h0M226.3 553.3h0M231.3 555.8h0M233.8 554.2h0M228.8 554h0M229.7 544.3h0M235.2 550.3h0M240.3 556.2h0M239.7 556.5h0M238.2 553.1h0M230.2 563.2h0M225.3 548.8h0M240.2 553.3h0M223.1 558.1h0M229 558.2h0M222.9 553.8h0M222.4 546.9h0M224.4 544.9h0M225.5 552h0M234.2 559.6h0M231.2 555.2h0M231 553.3h0M225.9 558.5h0M219.8 550.8h0M240.8 552.6h0M223.6 555.7h0M219.6 546.6h0M230.6 558.2h0M226.9 552.3h0M222.6 544.7h0M228.7 560.1h0M237.1 564.6h0M219.9 555.3h0M234.4 553.3h0M224.4 557.6h0M220.2 547.3h0M236.4 550.8h0M229 562.5h0M229.7 554h0M239.5 555.2h0M229.4 552.5h0M230.8 546h0M234.4 562.2h0M226.8 560.9h0M225.3 553.1h0M238.2 564.2h0M232 562.6h0M223 544.5h0M227 556.5h0M225.8 545.8h0M230.1 555.2h0M238.6 564.8h0M221.4 552.5h0M219.8 553h0M226.6 547.7h0M229.4 557.7h0M224.7 552h0M224.7 557.6h0M233.9 548.6h0M221.2 555.8h0M232.2 561.5h0M224.7 550.2h0M224.7 557.2h0M230.7 562.6h0M227.9 551.8h0M240.3 555.7h0M226.9 551.8h0M221.9 556h0M230.6 558.9h0M227.1 544.7h0M236 554.3h0M232.2 560.7h0M235.6 562.4h0M229.3 551.6h0M238 556.6h0M237.2 554.1h0M239.5 560.4h0M232.9 561.5h0M222.4 546.3h0M228.6 556.6h0M228.1 551.6h0M226 550.6h0M237.1 561.2h0M220.1 546.1h0M226.7 552.7h0M222.5 554.4h0M229.1 562.5h0M229.4 544h0M239.4 558h0M234.1 549.3h0M231.8 543.6h0M239.3 557.1h0M239.7 558.3h0M227.9 547.1h0M221 554.9h0M238.1 560.9h0M237.4 564h0M227.5 549.7h0M231.6 552.6h0M226.5 557.3h0M219.1 555h0M233.7 552.7h0M238.7 561.3h0M222.4 557.8h0M228.8 558.7h0M222.3 557h0M239.6 561.2h0M221.3 549.9h0M237.4 556h0M219.7 546.3h0M237 556h0M228.3 547.2h0M226 556.7h0M221 549.6h0M220.7 557.6h0M226.8 553.1h0M226.2 544.2h0M233.6 549.7h0M232.8 552.2h0M231.6 553h0M220.4 555.6h0M229.4 549.1h0M225.2 545.1h0M236.4 561.2h0M228.8 554.8h0M225.1 551h0M234.1 563h0M225.1 559.6h0M233.6 550h0M236.9 564.3h0M233 560.6h0M238.9 563h0M221.8 546.3h0M220.1 555.3h0M228 545.2h0M222.1 548.8h0M234.7 564h0M238.3 557h0M235.1 547.1h0M233.1 557.3h0M234.8 546.6h0M220.6 553.5h0M231.9 558.9h0M224.4 548.3h0M235.7 547.3h0M236 559.1h0M220.9 549.5h0M226.3 554.3h0M223.5 550.1h0M236.5 562.9h0M229.7 553.5h0M224.7 555.5h0M238.5 558.6h0M224.4 556.1h0M230.6 563.3h0M234.7 547.9h0M236 550.5h0M236.7 553.3h0M229.7 553h0M224.5 550.9h0M222.3 549.9h0M224.3 555.8h0M229 562.1h0M226.9 558.3h0M234.7 552.2h0M229.1 550.4h0M225.8 556.8h0M225.3 554.5h0M228.8 555h0M220.6 550h0M234.9 554.3h0M238.4 563.6h0M227.2 553.5h0M238.4 562.2h0M231.9 544.8h0M234.3 563.9h0M223.1 556.5h0M234.8 553.5h0M234.2 563.2h0M234.1 563.7h0M228.1 544.7h0M226.4 545.5h0M229.5 563.3h0M229.2 562h0M229 557.7h0M223.2 545.9h0M230.8 548.1h0M226.8 556.8h0M227.4 545.2h0M233.7 549.6h0M221.6 550.4h0M228.9 558.2h0M230.2 553.5h0M236.7 564h0M221.2 553.2h0M239.4 555.6h0M227.6 556.4h0" stroke="#9aab3a" stroke-width="1.5" stroke-linecap="round" fill="none"/>
<path d="M245.3 574.1h0M241.1 563.3h0M248.6 570h0M248.2 569.7h0M241.9 565.2h0M237.7 568.3h0M241.6 566.3h0M247.8 571.9h0M243.1 573.2h0M236.6 565.8h0M245.7 570.6h0M246.8 568.5h0M236.8 564.1h0M238.7 561.3h0M244.4 564.2h0M242.2 565.2h0M246.1 574.2h0M238.3 563.5h0M242.3 571.4h0M245.6 574.9h0M237.4 561.3h0M242.4 563.2h0M243.8 562h0M241.6 569.8h0M246.9 575h0M248 566.2h0M242.9 571.5h0M242.7 568.3h0M246.1 566.5h0M238.3 570.1h0M239.5 564.1h0M240.2 564.9h0M242.4 564h0M246.5 573.5h0M240.2 566.7h0M237 567.1h0M237.7 562.3h0M243.7 568.1h0M239.9 570h0M238.8 570.2h0M245.3 565.5h0M237.2 567.2h0M239.9 562h0M236.4 564.2h0M238 569.8h0M243.9 565.7h0M246.9 568.3h0M238 565.4h0M245.6 565.2h0M243.8 571.2h0M247.3 572.5h0M239.1 560.4h0M239.7 567h0M241.2 562h0M246.9 568.9h0M241.4 570.7h0M237.3 567.2h0M245.9 563.6h0M242.3 572.8h0M246.2 572.3h0M239.3 561.5h0M243.3 563.1h0M243.6 563.8h0M247 566.6h0M242.5 572.9h0M237.5 563.9h0M238.6 567h0M246.8 573.7h0M245.2 567.8h0M246.6 570.9h0M237.7 567.4h0M246.4 568.8h0M237 560.1h0M243.4 568.7h0M240.1 568.5h0M238 561h0M242 561.4h0M245.7 570h0M247.1 568.2h0M237.6 568.7h0M237.3 563.1h0M246 571.3h0M238.3 567.8h0M237.5 561.6h0M242.6 565.1h0M236.7 566.5h0M239.1 568.7h0M241.9 560.5h0M248.5 570.4h0M238.3 564.7h0M240 567.4h0M240.2 561h0M237 566.3h0M243.3 571.9h0M245.5 564.3h0M237.4 561.6h0M239.1 559.9h0M244.5 564.8h0" stroke="#ef7f22" stroke-width="1.5" stroke-linecap="round" fill="none"/>
<path d="M250.5 577.5h0M261.5 576h0M257.6 566h0M249.8 566h0M245.7 567.1h0M252.6 579.6h0M258.6 566.4h0M249.7 564.6h0M263.3 574.3h0M266.7 576.6h0M256.6 570.9h0M259.3 569.8h0M258.4 568.1h0M247.3 568.9h0M246 575.1h0M257.6 582h0M255 571.5h0M255.2 572.7h0M268.2 576.5h0M249.8 570.7h0M258.5 569.6h0M266.1 576.5h0M245.8 566.2h0M258 576.6h0M253 567.7h0M255.7 565.3h0M252.2 581.3h0M244.6 571.1h0M254.3 563.8h0M256.3 576.9h0M257.8 582.2h0M249.5 579.1h0M246.2 575.4h0M243.7 565.9h0M256.6 582h0M267.6 580.4h0M247.9 577.7h0M251.8 563.5h0M260.9 570.6h0M251.7 570.6h0M246.4 571.7h0M251.3 569.5h0M244.3 566.6h0M267.5 572.3h0M253.9 565.4h0M248 570.4h0M262 579.1h0M252.1 565.6h0M258.6 566.9h0M267.9 574.6h0M259.6 580.9h0M247.7 578.8h0M252.5 577h0M256.6 582.8h0M266.8 581.8h0M255.6 567.3h0M246.6 573.5h0M253.3 565.5h0M254.2 565h0M251.8 566h0M250.5 564h0M258.3 564.5h0M260.2 581.3h0M251.5 568.3h0M255.5 582.1h0M262.2 572.1h0M246.8 574.5h0M253.7 563.9h0M263.4 574h0M261 581.4h0M258.6 569.9h0M260.2 572.7h0M261.3 568.5h0M269.6 578.5h0M248.1 570.8h0M257.3 574.9h0M246.5 571.6h0M249.4 573.6h0M269.7 573.5h0M246.1 576.9h0M262.6 573.4h0M248 567.8h0M260.1 578h0M247.3 569.3h0M259 566h0M253.2 573.8h0M253 564.3h0M258.3 569.6h0M247.4 565.9h0M254.7 568.1h0M265.9 573.8h0M260.9 571.3h0M245.7 572.5h0M258.5 567.6h0M253.5 581.2h0M246.6 566.1h0M265 573.3h0M243.6 567.6h0M244.5 575.1h0M257.4 578.3h0M255.4 575.4h0M251.5 563.7h0M266.6 581.6h0M247.9 576.4h0M264.3 570.9h0M247.5 574.1h0M266.1 572.3h0M268 581.5h0M250 577.8h0M255.6 565.2h0M257.9 568.2h0M256.8 581.1h0M261.8 566.1h0M244.7 572.2h0M256 571.5h0M263 575.7h0M250.8 580h0M251.3 565h0M266.6 572.1h0M260.7 581.6h0M255.4 573.3h0M262.7 569.6h0M269.2 573.9h0M256.6 575.1h0M247.3 572.7h0M266.7 577.1h0M258.2 567.4h0M253.5 566.8h0M255.1 575.5h0M244 566.7h0M249.8 577h0M265 579.4h0M255.7 563.6h0M259.9 571.9h0M254.5 577.6h0M251.4 571.2h0M267.5 577.6h0M254.4 571.6h0M267.4 571.7h0M249 565.4h0M248.7 569.8h0M254 567.9h0M263.4 577h0M264.9 573.4h0M252.5 581.4h0M255.2 565.4h0M244.6 575.4h0M255.2 571.2h0M260.6 580.8h0M265.9 573.7h0M264.4 572.1h0M253.6 565.8h0M264.5 579.5h0M252 569h0M263.3 579.2h0M252.9 575.6h0M266.5 577.6h0M260.1 581.8h0M263.4 580.8h0M243.8 569.9h0M251.3 573h0M252.2 567h0M257.7 581.4h0M259 580.9h0M252.4 564.4h0M258.2 577h0M264.2 570.9h0M256.6 580.9h0M249.2 565.2h0M248.1 572.8h0M263.9 580.4h0M248.1 569.3h0M248.8 575h0M260.2 578.3h0M247.3 576h0M263 567.4h0M256 569.3h0M252 575.8h0M254 572.8h0M267.3 580.3h0M253 579.2h0M263.4 571.2h0M268 576.1h0M246.4 576.1h0M262.2 576.3h0M254.5 571.2h0M266.2 579.4h0M261.9 582.2h0M254.2 572h0M245.4 566.5h0M265.4 574.9h0M258.7 580.3h0M267 581.1h0M262.3 568.8h0M265.8 577.2h0M261.9 577.3h0" stroke="#5b9e72" stroke-width="1.5" stroke-linecap="round" fill="none"/>
<path d="M271.1 580.1h0M247.8 581.5h0M260.8 590.7h0M249.9 578.6h0M254.1 588.1h0M260.3 582.7h0M264 592.3h0M269.3 590.9h0M267.8 594.2h0M259 580.5h0M266.9 594.8h0M253.3 586.7h0M271.2 594.7h0M257.2 582.7h0M269.3 580.6h0M247.8 577.8h0M260.4 593.1h0M276 583.7h0M273.6 580.9h0M252 578.7h0M276.9 581.6h0M267.7 592.2h0M253.8 582.5h0M256.3 584.8h0M265.9 582.6h0M255.2 579.7h0M272.1 595.9h0M252.6 580.1h0M265.2 577.5h0M268.9 593.2h0M265.7 591.1h0M262.9 576.8h0M268.8 588.5h0M264.4 584.8h0M250.9 584.4h0M272.9 581.5h0M270.7 582.4h0M269.1 583.2h0M272.4 589.1h0M262.8 576.9h0M268.2 578h0M264.3 580.1h0M264.9 578.8h0M250.3 579.9h0M273.2 590.5h0M253.4 587.5h0M260.1 580.1h0M252.3 587.6h0M248.5 581.6h0M276.8 586.7h0M270 592.7h0M263.5 586h0M265.5 593.2h0M264.6 580.4h0M263.2 586.6h0M263.1 582.7h0M276 588.1h0M248.6 577.7h0M277.1 583.1h0M263 580.2h0M257.3 579.7h0M261.3 588.7h0M271.3 591.1h0M256.8 578.5h0M267.7 585.1h0M270.3 579.9h0M275.1 584.6h0M277 582.8h0M277.5 587h0M271 584.4h0M253.4 584.7h0M269.3 593.1h0M278.3 593.8h0M262.4 585h0M249 578.6h0M261.9 589.6h0M262.9 584h0M261.4 592.6h0M266 582.6h0M255.5 578.6h0M262.3 577h0M269.5 584.8h0M257.8 588.8h0M263.9 577.8h0M252.5 586h0M256.8 586.9h0M248.2 583.4h0M278.3 589h0M264.8 591.2h0M276.7 583.3h0M276.7 591.3h0M257.5 584.1h0M265.9 588.1h0M276.5 594.6h0M271.6 589.9h0M272.8 590h0M268.1 581.4h0M263.4 585.6h0M279.8 588.8h0M272.4 593h0M263.5 590.4h0M261.1 580.8h0M260.3 592.3h0M274.6 580.6h0M257.3 580.1h0M263 577.6h0M276 584.7h0M258.2 588.7h0M266.2 588.3h0M276.3 592.2h0M265.7 584.5h0M275.6 581.2h0M260.3 580.7h0M272.3 592.8h0M260.7 582.1h0M256 581.6h0M266.8 580.1h0M274.2 583.5h0M254.2 588.5h0M268.6 592.4h0M273 592h0M263 579.6h0M264.9 582.8h0M261.1 590.5h0M273.7 591.9h0M278.8 585.8h0M274.2 594.3h0M260.5 591.5h0M262 583.3h0M258 579.5h0M259.6 588.7h0M272.1 590.2h0M252.5 580.8h0M268 578.5h0M260.2 591.3h0M272.3 591.4h0M260.4 577.5h0M280 591.1h0M269.5 580.5h0M266.7 581.2h0M280.2 592.5h0M249.8 577.7h0M265.5 595.2h0M268.8 578.6h0M277.6 590.6h0M268.6 588.4h0M248.7 578.9h0M257 580.4h0M277.9 593.9h0M274 580.6h0M258.4 576.7h0M269.7 595.4h0M277 586.6h0M268.8 590.6h0M255.8 578.9h0M261.4 585h0M275.2 588h0M262.3 577.6h0M250.4 581h0M267.2 577.7h0M251.7 585.4h0M255.3 587.6h0M276.6 582.4h0M251.8 587.3h0M268.4 590.5h0M268.2 579.6h0M255.9 585.1h0M275.4 580.8h0M251.6 584.7h0M264.6 586.4h0M272.4 592.9h0M258.6 581.6h0M266.1 578.4h0M266 594.6h0M266.7 580.5h0M251.4 586.6h0M260.6 587.6h0M253.6 580.8h0M255.2 589.8h0M263.9 582.3h0M272 589.2h0M275.8 593.9h0M276 583.2h0M255.5 578.1h0M263.1 581h0M274.4 581.9h0M254.3 579.6h0M272.1 588.6h0M268.6 582.2h0M274.2 586.3h0M276.1 587.6h0M274.6 588.4h0M256.9 577.6h0M271.8 591.8h0M255.5 589h0M262.7 581.3h0M253.8 581.1h0M255.4 585.3h0M263.9 584.8h0M265.4 585.9h0M265.8 590.9h0M255.9 577h0M252.4 586.4h0M266.7 581.8h0M279.4 588h0M272.8 589.3h0M265.8 588.7h0M264.8 578.3h0M276.8 593h0M267.5 586.3h0" stroke="#86bb4e" stroke-width="1.5" stroke-linecap="round" fill="none"/>
<path d="M255.2 556.5h0M252.9 553.5h0M262.6 551.1h0M256.1 552.8h0M259.3 556.2h0M271.3 544.9h0M274.7 544.3h0M243.9 551.8h0M261.7 550.9h0M270.4 548h0M259.5 556.5h0M267.5 545.1h0M269.8 549.3h0M260.5 552h0M260.2 553.9h0M269.7 552.8h0M260.9 555.7h0M257.9 550.2h0M261.6 551.4h0M262 545.9h0M242.5 551.5h0M257.6 548.7h0M250.9 548.7h0M256.2 546.5h0M242.2 551.2h0M249.5 549.1h0M258.3 551.5h0M259.7 552.2h0M250.6 550.5h0M271.2 546h0M260.3 548.6h0M276.4 547.1h0M269.2 550.3h0M265.1 544.5h0M253.5 548.8h0M249.2 554.9h0M268.6 550.7h0M248.2 553.3h0M254.8 547.3h0M270.1 553.4h0M258.1 546h0M275.1 548.3h0M249.1 553.6h0M255 553h0M261.3 547.4h0M259.9 551h0M260.4 550.1h0M263.5 555.7h0M259.8 545.8h0M275.5 545.5h0M254 547.3h0M259.5 548.6h0M271.8 547h0M255.9 549.4h0M249.4 551.4h0M260.1 553.5h0M246.6 551.2h0M251.6 553.4h0M271.8 547.6h0M272 550.3h0M244.5 552.7h0M274.7 551.6h0M260.2 555.5h0M269.3 548.1h0M267.1 552.5h0M268.6 545.6h0M257.2 548.3h0M254.2 551.4h0M251.1 554h0M265.9 544.4h0M259.3 554.4h0M270.5 551h0M271.6 544.8h0M264.3 552.4h0M254.8 547.2h0M263 551h0M271.8 551.8h0M261 547.8h0M269.1 552.6h0M258.8 552.5h0M252.2 553.2h0M266.6 547h0M266.3 544.4h0M271.4 547h0M262.5 545h0M266.2 544.6h0M253.2 554.1h0M263.6 554.2h0M255.2 551.5h0M250.9 549.5h0M262.5 545.3h0M251.5 554.6h0M253.8 554.6h0M249.5 550.4h0M252.7 553.3h0M272.1 552.9h0M247.4 549h0M270.7 551.2h0M266.2 550.6h0M266.7 553.5h0M270.9 551.9h0M257.9 550.7h0M268.9 552.6h0M244 550h0M274.8 550.2h0M266.4 548.3h0M273.3 551.5h0M248.5 552.1h0M258 556.1h0M263.1 552.5h0M264.1 545.7h0M265.6 548.8h0M250.8 554h0M272.7 552.9h0M263.3 552.4h0M259.5 554.1h0M258.7 547.5h0M244.1 550.4h0M255.4 550.1h0M263 553.6h0M262.5 555.2h0M259.7 547.8h0M264.7 554.6h0M243.2 550.5h0M266.4 544.9h0M276.2 546.7h0M261.8 551.4h0M242.1 550.7h0M252.6 553.3h0M251.2 550.6h0M257.1 555.8h0M249 555.4h0M264.9 551.9h0M249.4 550.7h0M272.4 552.6h0M266.1 546.1h0M249.3 549.4h0M272.2 544.4h0M266.8 552.4h0M263.1 549.2h0" stroke="#87cce8" stroke-width="1.5" stroke-linecap="round" fill="none"/>
<path d="M265.5 561.8h0M260.5 554.3h0M260.3 555.6h0M259.9 555.1h0M263.8 563.2h0M262.6 555.7h0M266.5 565.7h0M263.6 564.6h0M263.6 559h0M263.7 557h0M264.8 566.2h0M262.4 555.4h0M261.5 556.7h0M262.9 555.9h0M260.8 555.2h0M263.6 564.3h0M263.9 566.1h0M265.4 561.8h0M261.2 555.1h0M263.5 559.6h0M263 557.4h0M265.5 565.4h0M263.7 558.6h0M262.9 560.2h0M266.4 565.4h0M262.9 554.2h0M261.7 554.4h0M264 565.8h0" stroke="#87cce8" stroke-width="1.5" stroke-linecap="round" fill="none"/>
<path d="M266.7 525.1h0M264.7 529.3h0M260.9 526.2h0M262.1 529.9h0M266.6 525.9h0M266.3 524.9h0M266.7 523.1h0M262.7 529.8h0M265.9 529.2h0M263.1 523.6h0M266.2 527.5h0M266.7 525.5h0M260.6 525.8h0M266.2 523.4h0M262.8 521.9h0M264.2 521.2h0M261.8 524h0M265.5 521.3h0M263.4 525.2h0M261.6 522.4h0M261.7 530.5h0M265.7 529.7h0M266.1 528h0M262.6 521.4h0M265.3 529h0M260.4 526.8h0M266 524.9h0M263.8 531.1h0M265.9 528.8h0M265.6 519.9h0M264.2 526.6h0M264.1 527.7h0M267.3 526.1h0M264.3 525.6h0M260.5 529.4h0M265.8 525h0M264.4 525.9h0M266.7 527.9h0M265.2 521.5h0M262.6 522.7h0M261.9 523.2h0M261.3 528.6h0M265.9 522.5h0M260.9 521.8h0M267.7 527.3h0M265.2 529.6h0M263.1 529.7h0M264.4 526.3h0M261.9 525h0" stroke="#e3e34a" stroke-width="1.5" stroke-linecap="round" fill="none"/>
<path d="M279 535h0M282.5 534.1h0M275.1 536.6h0M275.1 532h0M274.2 532h0M276.9 537.1h0M277.8 534.2h0M276.9 535.4h0M273.5 536.4h0M269.3 533.3h0M275.8 534.9h0M279.4 532.8h0M274.4 533.9h0M275.9 534.3h0M274.4 535.8h0M276.3 536.2h0M275.5 534.9h0M274.4 534.4h0M281.2 535.3h0M279.9 536h0M280.1 536.3h0M275.4 535.4h0M277.5 535.4h0M276.8 534.7h0M272.7 537.3h0M280.3 535.9h0M277 533.6h0M282.3 536.5h0M278.9 535.3h0M270.8 532.8h0M276.7 535.9h0M271.2 534.8h0M277.5 535.6h0M270.7 534.4h0M280.9 534.5h0M273.1 533.8h0M282.6 535h0M282.6 535.4h0M279.2 532.1h0M279.7 532.1h0M276.7 531.9h0M270.4 536.2h0M277.2 534.2h0M280.1 536.8h0M272.2 536.4h0M277.8 531.3h0M274.7 536.1h0M281.4 536.1h0M281 534h0M273.7 537.4h0M280.9 534.5h0M276.6 536.6h0M276.4 536.4h0M279 533.5h0M270.8 535.7h0M280.8 533.4h0" stroke="#2a6ab8" stroke-width="1.5" stroke-linecap="round" fill="none"/>
<path d="M291.4 540.1h0M283.9 544.3h0M280.5 542.9h0M284 542.6h0M280.7 542.6h0M285 546.4h0M283.9 543.4h0M282.6 539.2h0M289.4 549.2h0M288.5 542h0M292.7 543h0M280.2 545.3h0M279.9 546.1h0M286.8 544.7h0M285.2 542.7h0M280.7 542h0M285.2 539.6h0M286.7 539.8h0M289.2 546.8h0M289.7 543.5h0M288.1 542.5h0M279.4 541.4h0M281.3 540.6h0M278.5 542.4h0M283.7 539.1h0M289.8 547.5h0M288.2 537.3h0M287.6 547.4h0M291 545h0M289.7 549.6h0M278.3 539.7h0M290.4 541.2h0M286 540.6h0M284.4 548.1h0M277.8 539.4h0M285 546.7h0M286.2 537.3h0M283.2 538.9h0M287.1 539.5h0M284.7 542.6h0M283.5 548.1h0M290.6 547.2h0M283.5 548.1h0M279.7 543h0M283.3 541.8h0M289.5 549.2h0M282.3 538.6h0M285.9 549.2h0M289 540.3h0M286 544.8h0M289.1 540.1h0M287.3 539.9h0M279.4 542.2h0M288.1 546.9h0M279.8 542.4h0M280.6 539.8h0M282.9 544h0M286.3 548.9h0M279 540.1h0M285 542.2h0M283.3 542.7h0M283.4 541h0M290 548.4h0M288.1 543.3h0M286.4 547.6h0M283.5 548.3h0M283.8 542.1h0M282.6 540.1h0M279.6 541.6h0M283.5 545.3h0M284.9 540.9h0M285.4 542.1h0M289.9 544.8h0M291.1 543.2h0M289.9 547.9h0M290.1 538.7h0M287 544.3h0M289.1 537h0M280.3 543.2h0M289 547.5h0M283.2 545.3h0M287.9 540.6h0M282.7 540.8h0M289.9 545.4h0M287.1 540.1h0M282.4 546.5h0M283.5 542.6h0M283.1 546.8h0M283.1 541.7h0M284.7 542h0M287.8 542.6h0M279.4 541.6h0M279.2 541.4h0M288.8 549.8h0M280.4 544.4h0M283.7 546.1h0M288.2 541.9h0M285 542h0" stroke="#1a2a5e" stroke-width="1.5" stroke-linecap="round" fill="none"/>
<path d="M287.2 552.8h0M291 564.6h0M285.6 548.8h0M288.8 552.9h0M290.5 563.2h0M289.6 562.4h0M291.3 555.7h0M292.4 549.3h0M292.8 563.1h0M293.2 552.4h0M289.8 548.4h0M289.1 561.9h0M294.4 559.3h0M293.6 553.9h0M288.2 554.8h0M290.5 552h0M292.7 559.6h0M297.4 559.1h0M291.3 548h0M292.8 563.7h0M285.8 549.8h0M293.7 551.4h0M295 552.5h0M290.5 561.7h0M287.3 550.3h0M291 554.9h0M285.8 549.2h0M288.9 556.6h0M295 555h0M289.2 549.7h0M293.7 558h0M287.7 562.3h0M292.2 547.4h0M290.2 549.4h0M295.9 558.3h0M292.3 559.7h0M293.7 556.9h0M290.6 548.3h0M296.5 558.7h0M294.3 551.8h0M293 565.6h0M292.5 561.4h0M294.9 560.9h0M293.2 554.1h0M287.4 551.5h0M295.5 558.5h0M294.9 555.1h0M293.7 548.7h0M292.4 549.3h0M293.1 554.4h0M287 554.1h0M293.1 560.3h0M293.3 560.5h0M291.2 547.5h0M288.5 549.8h0M289.9 551.5h0M291.1 553.9h0M287.8 560.7h0M287.6 557.6h0M294.1 550.3h0M288.6 558.6h0M287.6 552.5h0M288.4 559.3h0M291.1 557.5h0M296.6 558.3h0M293.8 552.1h0M295.1 562h0M288 556.6h0M292.9 547.6h0M287.7 551.1h0M291.6 549.2h0M291.3 562.7h0M290.6 557.3h0M290.4 558.5h0M291 560.7h0M292.5 560.8h0M297.2 557.1h0" stroke="#c0202e" stroke-width="1.5" stroke-linecap="round" fill="none"/>
<path d="M288.8 578.8h0M288.3 575.9h0M288 574.4h0M284.7 578.9h0M288.3 567.3h0M287.6 580.3h0M287.8 579.6h0M291.9 567.1h0M292.2 569.1h0M288.7 569.3h0M287.3 570.2h0M287.9 576.4h0M284.5 582.6h0M284.8 585.2h0M285.5 577.2h0M290.8 569.4h0M286.8 569.7h0M288.8 566.2h0M289 570.6h0M288.5 571.5h0M287.2 582.3h0M290.9 569.3h0M285.4 574.2h0M285.1 572.2h0M289.8 576.8h0M284.3 579h0M289 573h0M283.6 580.4h0M287.5 573.9h0M287.4 576.8h0M284.8 572.3h0M289.3 570h0M289.5 570.7h0M287.1 578.6h0M283.4 585.1h0M287.2 568h0M286.4 580.6h0M288.5 571.8h0M286 569.3h0M291.1 566.4h0M284.7 576.9h0M288.6 573.2h0M285.4 569.2h0M288.2 581.1h0M291.3 572.3h0M285.7 573.1h0M285.4 577.1h0M290.5 574.6h0M292.6 567.4h0M289 567.7h0M285.4 584h0M290.6 571.9h0M286 568.7h0M285.6 572.2h0M286 575.9h0M287.7 572.3h0" stroke="#e09060" stroke-width="1.5" stroke-linecap="round" fill="none"/>
<path d="M300.4 503.8h0M307.5 522.2h0M311.6 520.8h0M310.5 525.3h0M299.8 496.8h0M300 508h0M317.7 506.2h0M320 520.1h0M309.7 531.7h0M308.3 536h0M302.7 524.4h0M308.7 533.5h0M301.4 516.4h0M308.1 519.6h0M311.3 525h0M317.4 525.7h0M304.9 502.8h0M309 496.1h0M313.5 502.8h0M314.1 515.3h0M300.3 522.4h0M305.8 510.3h0M320.7 513.3h0M306.6 531.5h0M308.5 517.3h0M308 519.8h0M302 530.9h0M308.6 514.1h0M319.1 523.9h0M311 537.4h0M302.2 522.4h0M310.2 515.9h0M315.1 537.9h0M308.1 498h0M300.8 523h0M315.3 520.1h0M305.8 534.5h0M307.5 536.2h0M321.1 520.6h0M315.2 524.3h0M313.3 533.2h0M302.5 500.4h0M314.3 498.9h0M303.1 507.9h0M306.2 536.5h0M309.7 524.7h0M317 500.7h0M304 503.4h0M300 513.2h0M316.9 501.1h0M313.8 535.3h0M306.2 501.2h0M304 531.9h0M306.2 519.5h0M312 514.8h0M318.4 506.2h0M305.3 508h0M311.9 499.1h0M304.4 513.5h0M310.7 504.1h0M311.5 503.2h0M300.5 526.1h0M302.8 521.1h0M303.1 505.1h0M315.9 513.1h0M318.5 525.1h0M317.2 514.2h0M305.3 522.2h0M307.5 505.4h0M308.3 508.7h0M316.2 519.9h0M317.5 524.9h0M314.7 515h0M319.3 508.7h0M311.8 498.7h0M308.2 496.6h0M300.1 498.9h0M311.7 521.5h0M308.1 536.7h0M319.6 509.9h0M299 501.1h0M313.8 511.7h0M318.9 517.6h0M303.1 513.5h0M304.7 512.8h0M317.8 533h0M315.3 497.5h0M302.6 505h0M319.1 508.5h0M312.8 535.6h0M304.3 528.2h0M310.9 506.8h0M307 533.4h0M306.5 518.1h0M311.4 501.7h0M316.4 500.7h0M318.3 512.1h0M311.9 527.4h0M309.9 514.8h0M305.2 530.8h0M299.4 499.5h0M301.6 526.7h0M317.6 512.1h0M303.6 515.5h0M298.8 504.7h0M308.1 536.5h0M301.5 511h0M304.5 520h0M318.7 526.7h0M313.8 512.8h0M304.1 524.7h0M309.1 499.9h0M308.8 525.9h0M307.3 526.8h0M320.8 522.5h0M303.1 499.8h0M298.4 516h0M302.9 531.6h0M312 496.4h0M301.9 518.1h0M306.7 505.4h0M305.5 507.7h0M306.5 516.1h0M318.5 531.7h0M303.2 495.1h0M314.1 504.5h0M317.8 513.3h0M302.1 504.6h0M301.4 512.2h0M301.7 495.3h0M321.3 516.1h0M316.1 508.8h0M301.4 532.4h0M308.3 526h0M302.1 511h0M300.7 509.1h0M305 524.8h0M302.4 510.7h0M301.9 523.9h0M305 518.9h0M303.3 527h0M303.3 507.9h0M305.7 524.6h0M305.4 533.2h0M316.5 533h0M310 534.1h0M319.4 510.7h0M314.2 527.6h0M310.8 498.8h0M314.8 537.9h0M309.7 503h0M307.4 508.6h0M312.6 512.8h0M307.6 528h0M314.9 498.8h0M313.2 499.6h0M312.1 515.6h0M306.2 521.5h0M309.6 536.7h0M319 511.4h0M302.8 509.5h0M315.7 520.7h0M302.7 513.7h0M311.2 512.1h0M299.9 506h0M308.3 534.3h0M314.8 514.4h0M307.9 499.5h0M300.3 525.6h0M306.7 517.6h0M306.1 530.7h0M314.2 536h0M317.1 523.9h0M317.2 511.1h0M299.6 499.1h0M321.6 514.8h0M302.4 497.3h0M316.5 519.1h0M313.1 520.2h0M302.1 495.8h0M320.9 514.2h0M307 511.3h0M300.5 526.9h0M308.9 534.6h0M304.1 532.5h0M302.4 513.2h0M311 523.2h0M301.2 518.9h0M311.2 504.4h0M309.5 520.2h0M305.9 521.9h0M302.3 497.2h0M317.2 528.9h0M310.4 518.9h0M307.7 514.2h0M309.4 526.9h0M320.3 513.6h0M310.7 504.3h0M298.8 506.2h0M310.2 504.1h0M315.1 525.3h0M311.4 529h0M305.4 536.4h0M314.4 520.8h0M312.8 535.5h0M298.3 513.9h0M317 513.8h0M319.6 519.8h0M310.6 535.2h0M303.3 520.5h0M305.9 533h0M318.4 516.2h0M316.8 504.1h0M300.5 505.4h0M309 530.9h0M317.6 507.8h0M314.8 520.8h0M318.7 523.2h0M301.8 505h0M305.6 507.5h0M304.5 509.6h0M302.3 515h0M307.6 512.2h0M298.3 518.6h0M320.7 514.1h0M313.1 524.9h0M310.3 513.9h0M311.7 515.7h0M308.9 512.5h0M317.4 518.7h0M318.4 517.8h0M306.2 516.1h0M307.3 532.8h0M305.4 513.4h0M311.1 507.6h0M314.9 518.1h0M318.9 527h0M304.5 501.5h0M312.4 501.5h0M303.6 510.5h0M308.9 505.9h0M309.4 520.2h0M301.8 506.1h0M318.1 512.9h0M300.5 518h0M315.2 513.4h0M316.8 501.6h0M300.7 523.4h0M304 531.2h0M302.9 535.7h0M301.3 531.4h0M310.3 527.5h0M312.5 530.7h0M315.2 505.1h0M315 531.7h0M314.5 509.7h0M302.6 529.5h0M303 508.4h0M310.4 511.8h0M320.1 512.8h0M318.3 526.7h0M305.2 498.3h0M299.8 497.3h0M312.4 522.4h0M316 505.5h0M311.4 505.1h0M314.4 517.4h0M306.3 505h0M310.5 533.2h0M309.9 516.5h0M306.6 498.7h0M310.1 529.2h0M314.7 497.1h0M313.2 505.7h0M303.9 497.7h0M321.1 513.4h0M308.3 521h0M305.7 505.9h0M317.2 525h0M321.6 517.2h0M322.1 519.3h0M312.4 518.6h0M316.3 526.5h0M300.6 503.8h0M302 499.6h0M310.6 502.1h0M314.5 516.3h0M315.2 507.6h0M307.7 526h0M312.1 535.5h0M299.3 518.2h0M303.9 514.1h0M310.5 497h0M314.3 526.6h0M316.5 531.1h0M312.4 507h0M304.5 505.1h0M304.7 506.2h0M300.3 518.4h0M313.1 525.9h0M304.5 523.7h0M299.3 521.6h0M310.2 512.6h0M305.8 504.2h0M310.4 516.5h0M310.8 537.4h0M313.2 496.4h0M318.8 512.4h0M308.3 502.1h0M306 524.7h0M302.9 506.2h0M316.1 523.8h0M308.8 521.4h0M302.9 500.2h0M314.6 513.4h0M304.4 522.6h0M306.3 527.2h0M308.7 534.8h0M313.4 501.4h0M299.4 514.2h0M304.2 513.7h0M309.2 496.5h0M303.8 534.1h0M305.7 508.8h0M319 507.1h0M309.6 512.5h0M305.8 504.9h0M304.2 514h0M308.1 526.4h0M304.6 507.1h0M304.9 506.6h0M319 506.9h0M315 517.3h0M310.7 536.6h0M302.7 507.2h0M320.3 513.9h0M315 516.6h0M312.3 524.2h0M318.4 515.1h0M312.1 514.8h0M305.3 520.5h0M309.9 512.8h0M299.5 507.4h0M314.5 510.4h0M315.9 508h0M318.9 521.7h0M307 535.8h0M320.1 517.7h0M318.4 526.4h0M314.7 510.6h0M314.9 527.2h0M304 498.6h0M302.9 533.6h0M314 498h0M307.4 497.4h0M304.4 523.7h0M312.3 502.9h0M307.3 511.4h0M309.5 521.8h0M315.2 521.6h0M313.3 509h0M305.8 528.6h0M305.2 523h0M312.6 535.6h0M300 520.8h0M302.1 522.5h0M301.7 519.4h0M305.9 502.6h0M315.2 510.8h0M312.3 523.1h0M311.5 512.8h0M307.4 520.5h0M314.6 511.2h0M308.4 525.7h0M316.5 532.9h0M318.7 508.2h0M313.1 516.7h0M309.2 536.1h0M321.2 518.5h0M302.8 531.3h0M306.2 511.5h0M313.8 512.3h0M314.6 503.6h0M317.5 532.9h0M319.1 509.1h0M321.5 519.5h0M304.8 502.7h0M307.3 504.2h0M312.9 501.3h0M309.3 512.8h0M299.2 503.8h0M313.4 533.1h0M301.9 512h0M319.5 511h0M308.6 509.5h0M302.1 509.7h0M300.9 507.5h0M309.8 536.5h0M313.4 532.2h0M317.1 524.8h0M320.6 526h0M307.7 516.6h0M317.8 530.8h0M309.4 536.1h0M308.5 496.1h0M310.7 500.4h0M303.4 528.9h0M315 537h0M311 507h0M301.8 507.6h0M310 511.1h0M304.2 510.7h0M309.1 506h0M306.8 508.4h0M319.2 529.6h0M311.1 521h0M308.3 503.3h0M317.4 502.2h0M299.4 521.1h0M311.3 502.8h0" stroke="#f2c22a" stroke-width="1.5" stroke-linecap="round" fill="none"/>
<path d="M299.7 540.1h0M316.5 531.9h0M302.6 534.2h0M299.6 533.1h0M311.2 530.6h0M300.2 520.2h0M317.3 527h0M308.2 535.8h0M302.1 546h0M311.6 537.1h0M298.4 523.1h0M311.8 523h0M303 528.2h0M308.9 549h0M308.1 545.6h0M310.4 536.2h0M304.5 527.9h0M319 536.2h0M305.6 534.9h0M314.8 541.4h0M304.8 544.2h0M314.8 536.6h0M297.1 538.5h0M311.6 549.6h0M313.2 538.6h0M299.8 534.4h0M299.4 530h0M300.9 542.4h0M302.1 543.2h0M312 540.9h0M300.4 541.9h0M300.2 538.8h0M307 541.9h0M303.8 545.9h0M301.5 539.3h0M302.1 532.9h0M316.7 530h0M316.4 525.1h0M299.6 521.7h0M300.4 535h0M303.7 542.8h0M306.3 541.4h0M313.7 534.7h0M309.8 537h0M296.1 533.5h0M319.3 536.8h0M307.6 522h0M298.8 539.1h0M302.2 536.4h0M299.3 547.5h0M315.9 523.7h0M300.4 529.2h0M311 547.2h0M317.8 541h0M301.2 540.8h0M299.4 549.6h0M315.1 538.9h0M305.2 534.2h0M309.5 542.9h0M301.8 526.9h0M313.7 544.3h0M297.7 543.4h0M315.6 543.7h0M311 518.9h0M312.2 534.2h0M300.7 520.3h0M299.3 531h0M316.7 531h0M310.5 543.7h0M308.3 520.1h0M302 535.7h0M314.4 524.8h0M314.7 546h0M310 532.9h0M313.9 531h0M296 533.1h0M302 530.2h0M309.1 519.1h0M309.3 545.5h0M300.2 521.5h0M296.1 528.1h0M316.4 525h0M308.8 520h0M317.9 538h0M307 526.4h0M309.3 525.4h0M302.4 524.7h0M311 536.6h0M315.1 528.4h0M315.2 537h0M308.9 550.6h0M302.5 531.8h0M319.6 537.5h0M308.9 549.7h0M295.7 521.2h0M304.3 524.3h0M304.6 547.6h0M297.7 538h0M318 528.4h0M297.9 522.8h0M299.1 537.7h0M312.1 540h0M313.8 533.2h0M302.9 537.2h0M299.3 542.7h0M315 519.3h0M302.3 538.9h0M295.6 527.4h0M298.9 536.3h0M312.5 528.9h0M317.3 540h0M302 523h0M313.8 522.4h0M299.1 523.1h0M306.2 530.1h0M300.4 529.9h0M295.6 526.7h0M317.7 536.3h0M298.3 524.2h0M301.1 544.3h0M304.7 528.6h0M301.7 542.9h0M317.2 532.9h0M297.7 536.7h0M312.2 548h0M299.2 535h0M298.7 532.4h0M298.7 535.2h0M315.2 529.8h0M309.8 547.8h0M317.6 537.2h0M312.2 529.1h0M305.4 543.6h0M317.4 530h0M303.8 535.2h0M295.3 519.1h0M301.6 526.6h0M312.4 532.8h0M307.1 524.6h0M311.8 533.4h0M308.7 530.3h0M298 529.4h0M299.8 541.2h0M308.3 534.4h0M307.2 543.1h0M314.2 547.8h0M315.8 536.6h0M313.2 521.6h0M300.2 546.2h0M301.9 546.2h0M310.9 539h0M318.1 542.2h0M298.3 531h0M306.8 545.8h0M308.6 521.2h0M301.3 529.3h0M301.7 521.9h0M306.3 549.1h0M306.7 529.6h0M300.2 527.6h0M304.6 539.4h0M306.9 542.2h0M306.1 546.6h0M315.1 533.1h0M302.8 521.7h0M307.8 534h0M312.9 538.1h0M301.6 519.2h0M300 533.3h0M309 543.5h0M300.1 548.4h0M303.9 534.5h0M313.2 537.1h0M311.3 530.7h0M301 550.1h0M304.6 522.9h0M310.2 541.7h0M299.6 526.6h0M298.5 526.8h0M303.8 528h0M296.6 533.2h0M314.1 534.3h0M310.8 533.1h0M317.5 535h0M295.4 525.1h0M310.1 519.2h0M296.2 535.6h0M318 541.5h0M308.6 548.7h0M313.5 538.3h0M309.3 532.5h0M304.6 529.1h0M311.5 537.2h0M312.4 541.6h0M304.5 523.8h0M303.7 536.2h0M308.3 525.8h0M305 534.7h0M303.3 546.4h0M299.8 535.4h0M308.9 545.4h0M318.4 537.2h0M307.3 547.9h0M298.8 531.3h0M310.4 530.2h0M309.5 523.3h0M314 520.9h0M316.3 523.1h0M309.1 531.4h0M308.8 529.3h0M318.8 540.4h0M296.2 518.9h0M310.9 534h0M319 537h0M306.1 521.8h0M312.9 528.3h0M316.2 524.3h0M309.2 524.5h0M313.1 530.1h0M314.9 520.2h0M298.8 547.5h0M309.9 531.4h0M302.9 534.6h0M311.3 523.2h0M314.4 519h0M317.8 532.3h0M313.1 540.4h0M303.7 542h0M314.9 529.4h0M313.9 533.7h0" stroke="#e07070" stroke-width="1.5" stroke-linecap="round" fill="none"/>
<path d="M317 537.2h0M313.1 541.9h0M311.2 551.4h0M301.5 542h0M317.6 544h0M313.9 542.8h0M316.1 549.2h0M310.3 543.1h0M305.8 551.7h0M318.9 542.4h0M305.2 542.9h0M298.7 552.2h0M301 552.1h0M314.9 545.6h0M321.7 541.2h0M310.8 539.5h0M307.2 545.2h0M314.8 550.2h0M305.3 540.7h0M303 549.1h0M317.1 549.8h0M318 546.1h0M310.9 537.8h0M319.2 543.9h0M298.6 542.5h0M323.8 542.4h0M301.1 539h0M301.4 548h0M309.9 541.5h0M319.9 546.5h0M311.5 544.2h0M323.9 544.8h0M305.9 541.4h0M309.8 548.2h0M315.2 544h0M297.2 552.5h0M316.3 551.7h0M309.7 541.8h0M306.6 555.3h0M310.7 546.4h0M324.1 542.7h0M300.7 550.9h0M311.4 541.1h0M296.9 549h0M297.4 539.4h0M309.4 554h0M317.3 538.4h0M308.2 553h0M301.2 546.6h0M297.2 542h0M301 542h0M306.2 539.8h0M319 548.8h0M297.6 549.9h0M300.2 538.9h0M320.5 549.7h0M311.1 539.8h0M308.6 542.6h0M321.4 542h0M309.8 553.1h0M316.5 551.1h0M307.7 543.7h0M314.9 550.5h0M302.7 549.5h0M298.1 546h0M313.6 540.7h0M295.7 542.7h0M298.1 553.5h0M315.7 538.6h0M308.4 541.1h0M303 551h0M318.2 546.1h0M318.4 551.3h0M323.5 541.4h0M320.7 549.8h0M311.1 548.7h0M319.5 541.7h0M318 537.3h0M323.3 537.9h0M310.7 550.9h0M321.8 546.8h0M317.9 540.2h0M314.2 551.7h0M304.3 546.5h0M310.1 555.6h0M319.5 540.9h0M323.6 542.2h0M299 545.3h0M301.9 546.4h0M304.4 539.3h0M303.3 550.2h0M313.7 554.5h0M306.2 545.6h0M300.2 551h0M310.6 547.8h0M299.7 539.7h0M316.4 537.5h0M320.4 539.9h0M306.2 543.9h0M307.2 555h0M306 541.2h0M303.1 542.6h0M309.3 538.1h0M310.6 544.8h0M316.1 550.6h0M308.5 543.4h0M313.7 551.3h0M301.2 555.7h0M297.8 546.6h0M305.1 553.8h0M315.4 553.1h0M297.5 543.1h0M303.3 547.9h0M295.8 544.6h0M296.6 549.7h0M312.6 547.5h0M322.1 545.5h0M303.3 551.2h0M295.9 540.8h0M312.8 545.4h0M308.4 550.7h0M297.7 548.8h0M297.5 546.9h0M297.9 553.3h0M307.7 542.7h0M314.5 553.5h0M313.5 544.7h0M317.7 543h0M314.1 550.6h0M303 549.8h0M297 549.9h0M310.1 550.4h0M300.9 550.2h0M308.4 537.3h0M307.8 548.3h0M315.3 553.7h0M311.1 541.3h0M303.6 555.7h0M311.3 540.7h0M310.1 550h0M316.4 541.3h0M304.4 539.2h0M304.8 546.4h0M314 553.4h0M315 546.6h0M304.6 549.4h0M299.9 553.7h0M321.1 541.8h0M312.7 538.9h0M306.7 542.7h0M296.7 549.5h0M314.4 546.4h0M317.1 546.7h0M308.2 553.2h0M306.9 551.8h0M314.7 540.4h0M304.9 545.3h0M312.6 544.9h0M310.3 545.1h0M310.2 554h0M298.6 549.8h0M303.4 544.5h0M323.2 545.1h0M304.9 544.8h0M304 538.6h0M300.1 544.9h0M305.8 554.6h0M307 555.7h0M301 550h0M312 541.1h0M308.2 550.6h0M319 546.7h0M305.9 537.9h0M314.9 551.8h0M303.2 551.9h0M309.8 545.3h0M306.5 554.7h0M299 550.1h0M322.4 536.9h0M313.6 550.3h0M318.4 547.2h0M305.9 548.4h0M309.3 548h0M316.9 544.7h0M299.4 541h0M300.1 549.3h0M320 547.6h0M309.3 546.4h0M302.6 550h0M315.5 541.7h0" stroke="#d9d9b4" stroke-width="1.5" stroke-linecap="round" fill="none"/>
<ellipse cx="238.8" cy="553.7" rx="64.5" ry="18.8" fill="none" stroke="#d4626a" stroke-width="1.6" transform="rotate(44.8 238.8 553.7)"/>
<ellipse cx="310.5" cy="524.8" rx="17" ry="33.3" fill="none" stroke="#1f7ac8" stroke-width="1.5" stroke-dasharray="3.5 2.2"/>
<text x="264.3" y="505.4" font-size="6.4" text-anchor="start" font-weight="normal" fill="#231f20" font-family="Liberation Sans" font-style="normal" >Cluster 7</text>
<text x="244.7" y="518.9" font-size="6.4" text-anchor="start" font-weight="normal" fill="#231f20" font-family="Liberation Sans" font-style="normal" >Cluster 9</text>
<line x1="279" y1="507" x2="282.4" y2="535.5" stroke="#222" stroke-width="0.6" fill="none"/>
<polyline points="281.1,533.7 282.4,535.5 283.2,533.5" stroke="#222" stroke-width="0.6" fill="none"/>
<line x1="258.2" y1="520.5" x2="270.2" y2="543.2" stroke="#222" stroke-width="0.6" fill="none"/>
<polyline points="268.4,542 270.2,543.2 270.2,541" stroke="#222" stroke-width="0.6" fill="none"/>
<text x="468.5" y="258.2" font-size="9.6" text-anchor="middle" font-weight="normal" fill="#231f20" font-family="Liberation Sans" font-style="normal" >Slice A</text>
<text x="612.5" y="258.2" font-size="9.6" text-anchor="middle" font-weight="normal" fill="#231f20" font-family="Liberation Sans" font-style="normal" >Slice B</text>
<circle cx="413.6" cy="256" r="1.1" fill="#f3d09a" />
<circle cx="413.6" cy="260" r="1.1" fill="#f3d09a" />
<circle cx="417.1" cy="258" r="1.1" fill="#f3d09a" />
<circle cx="417.1" cy="262" r="1.1" fill="#f3d09a" />
<circle cx="417.1" cy="266" r="1.1" fill="#a450b0" />
<circle cx="420.6" cy="256" r="1.1" fill="#f3d09a" />
<circle cx="420.6" cy="260" r="1.1" fill="#f3d09a" />
<circle cx="420.6" cy="264" r="1.1" fill="#a450b0" />
<circle cx="420.6" cy="268" r="1.1" fill="#a450b0" />
<circle cx="420.6" cy="272" r="1.1" fill="#a450b0" />
<circle cx="424.1" cy="258" r="1.1" fill="#f3d09a" />
<circle cx="424.1" cy="262" r="1.1" fill="#f3d09a" />
<circle cx="424.1" cy="266" r="1.1" fill="#a450b0" />
<circle cx="424.1" cy="270" r="1.1" fill="#a450b0" />
<circle cx="424.1" cy="274" r="1.1" fill="#a450b0" />
<circle cx="424.1" cy="278" r="1.1" fill="#a450b0" />
<circle cx="427.6" cy="256" r="1.1" fill="#f3d09a" />
<circle cx="427.6" cy="260" r="1.1" fill="#f3d09a" />
<circle cx="427.6" cy="264" r="1.1" fill="#f3d09a" />
<circle cx="427.6" cy="268" r="1.1" fill="#f3d09a" />
<circle cx="427.6" cy="272" r="1.1" fill="#a450b0" />
<circle cx="427.6" cy="276" r="1.1" fill="#a450b0" />
<circle cx="431.2" cy="254" r="1.1" fill="#f3d09a" />
<circle cx="431.2" cy="258" r="1.1" fill="#f3d09a" />
<circle cx="431.2" cy="262" r="1.1" fill="#f3d09a" />
<circle cx="431.2" cy="266" r="1.1" fill="#a450b0" />
<circle cx="431.2" cy="270" r="1.1" fill="#a450b0" />
<circle cx="431.2" cy="274" r="1.1" fill="#a450b0" />
<circle cx="434.7" cy="260" r="1.1" fill="#f3d09a" />
<circle cx="434.7" cy="264" r="1.1" fill="#f3d09a" />
<circle cx="434.7" cy="268" r="1.1" fill="#a450b0" />
<circle cx="434.7" cy="272" r="1.1" fill="#a450b0" />
<circle cx="434.7" cy="276" r="1.1" fill="#a450b0" />
<circle cx="438.2" cy="258" r="1.1" fill="#f3d09a" />
<circle cx="438.2" cy="262" r="1.1" fill="#f3d09a" />
<circle cx="438.2" cy="266" r="1.1" fill="#a450b0" />
<circle cx="438.2" cy="270" r="1.1" fill="#a450b0" />
<circle cx="438.2" cy="274" r="1.1" fill="#a450b0" />
<circle cx="438.2" cy="278" r="1.1" fill="#a450b0" />
<circle cx="438.2" cy="282" r="1.1" fill="#a450b0" />
<circle cx="441.7" cy="260" r="1.1" fill="#f3d09a" />
<circle cx="441.7" cy="264" r="1.1" fill="#f3d09a" />
<circle cx="441.7" cy="268" r="1.1" fill="#a450b0" />
<circle cx="445.2" cy="266" r="1.1" fill="#f3d09a" />
<circle cx="466.1" cy="282" r="1.1" fill="#a450b0" />
<circle cx="466.1" cy="286" r="1.1" fill="#a450b0" />
<circle cx="466.1" cy="290" r="1.1" fill="#a450b0" />
<circle cx="469.6" cy="275.9" r="1.1" fill="#a450b0" />
<circle cx="469.6" cy="279.9" r="1.1" fill="#a450b0" />
<circle cx="469.6" cy="284" r="1.1" fill="#a450b0" />
<circle cx="469.6" cy="288" r="1.1" fill="#a450b0" />
<circle cx="469.6" cy="292" r="1.1" fill="#a450b0" />
<circle cx="473.1" cy="269.9" r="1.1" fill="#f3d09a" />
<circle cx="473.1" cy="277.9" r="1.1" fill="#a450b0" />
<circle cx="473.1" cy="282" r="1.1" fill="#a450b0" />
<circle cx="473.1" cy="286" r="1.1" fill="#a450b0" />
<circle cx="473.1" cy="290" r="1.1" fill="#a450b0" />
<circle cx="473.1" cy="294" r="1.1" fill="#a450b0" />
<circle cx="473.1" cy="298" r="1.1" fill="#a450b0" />
<circle cx="473.1" cy="302.1" r="1.1" fill="#a450b0" />
<circle cx="473.1" cy="306.1" r="1.1" fill="#a450b0" />
<circle cx="476.6" cy="275.9" r="1.1" fill="#a450b0" />
<circle cx="476.6" cy="279.9" r="1.1" fill="#a450b0" />
<circle cx="476.6" cy="284" r="1.1" fill="#a450b0" />
<circle cx="476.6" cy="288" r="1.1" fill="#a450b0" />
<circle cx="476.6" cy="292" r="1.1" fill="#a450b0" />
<circle cx="476.6" cy="296" r="1.1" fill="#a450b0" />
<circle cx="476.6" cy="300" r="1.1" fill="#a450b0" />
<circle cx="476.6" cy="304.1" r="1.1" fill="#a450b0" />
<circle cx="476.6" cy="308.1" r="1.1" fill="#a450b0" />
<circle cx="480.2" cy="273.9" r="1.1" fill="#a450b0" />
<circle cx="480.2" cy="277.9" r="1.1" fill="#a450b0" />
<circle cx="480.2" cy="282" r="1.1" fill="#a450b0" />
<circle cx="480.2" cy="286" r="1.1" fill="#a450b0" />
<circle cx="480.2" cy="290" r="1.1" fill="#a450b0" />
<circle cx="480.2" cy="294" r="1.1" fill="#a450b0" />
<circle cx="480.2" cy="298" r="1.1" fill="#a450b0" />
<circle cx="480.2" cy="302.1" r="1.1" fill="#a450b0" />
<circle cx="480.2" cy="306.1" r="1.1" fill="#a450b0" />
<circle cx="480.2" cy="310.1" r="1.1" fill="#a450b0" />
<circle cx="483.7" cy="271.9" r="1.1" fill="#a450b0" />
<circle cx="483.7" cy="275.9" r="1.1" fill="#a450b0" />
<circle cx="483.7" cy="279.9" r="1.1" fill="#a450b0" />
<circle cx="483.7" cy="284" r="1.1" fill="#a450b0" />
<circle cx="483.7" cy="288" r="1.1" fill="#a450b0" />
<circle cx="483.7" cy="292" r="1.1" fill="#a450b0" />
<circle cx="483.7" cy="296" r="1.1" fill="#a450b0" />
<circle cx="483.7" cy="300" r="1.1" fill="#a450b0" />
<circle cx="483.7" cy="304.1" r="1.1" fill="#a450b0" />
<circle cx="483.7" cy="308.1" r="1.1" fill="#a450b0" />
<circle cx="483.7" cy="312.1" r="1.1" fill="#a450b0" />
<circle cx="487.2" cy="273.9" r="1.1" fill="#a450b0" />
<circle cx="487.2" cy="277.9" r="1.1" fill="#a450b0" />
<circle cx="487.2" cy="282" r="1.1" fill="#a450b0" />
<circle cx="487.2" cy="286" r="1.1" fill="#a450b0" />
<circle cx="487.2" cy="290" r="1.1" fill="#a450b0" />
<circle cx="487.2" cy="294" r="1.1" fill="#a450b0" />
<circle cx="487.2" cy="298" r="1.1" fill="#a450b0" />
<circle cx="487.2" cy="302.1" r="1.1" fill="#a450b0" />
<circle cx="487.2" cy="306.1" r="1.1" fill="#a450b0" />
<circle cx="487.2" cy="310.1" r="1.1" fill="#a450b0" />
<circle cx="490.7" cy="271.9" r="1.1" fill="#f3d09a" />
<circle cx="490.7" cy="275.9" r="1.1" fill="#f3d09a" />
<circle cx="490.7" cy="279.9" r="1.1" fill="#f3d09a" />
<circle cx="490.7" cy="284" r="1.1" fill="#a450b0" />
<circle cx="490.7" cy="288" r="1.1" fill="#a450b0" />
<circle cx="490.7" cy="292" r="1.1" fill="#a450b0" />
<circle cx="490.7" cy="296" r="1.1" fill="#a450b0" />
<circle cx="490.7" cy="300" r="1.1" fill="#a450b0" />
<circle cx="490.7" cy="304.1" r="1.1" fill="#a450b0" />
<circle cx="490.7" cy="308.1" r="1.1" fill="#a450b0" />
<circle cx="490.7" cy="312.1" r="1.1" fill="#a450b0" />
<circle cx="494.2" cy="269.9" r="1.1" fill="#f3d09a" />
<circle cx="494.2" cy="273.9" r="1.1" fill="#f3d09a" />
<circle cx="494.2" cy="277.9" r="1.1" fill="#f3d09a" />
<circle cx="494.2" cy="282" r="1.1" fill="#f3d09a" />
<circle cx="494.2" cy="286" r="1.1" fill="#a450b0" />
<circle cx="494.2" cy="290" r="1.1" fill="#a450b0" />
<circle cx="494.2" cy="298" r="1.1" fill="#a450b0" />
<circle cx="494.2" cy="302.1" r="1.1" fill="#a450b0" />
<circle cx="494.2" cy="306.1" r="1.1" fill="#a450b0" />
<circle cx="494.2" cy="310.1" r="1.1" fill="#a450b0" />
<circle cx="497.7" cy="275.9" r="1.1" fill="#f3d09a" />
<circle cx="497.7" cy="279.9" r="1.1" fill="#f3d09a" />
<circle cx="497.7" cy="284" r="1.1" fill="#f3d09a" />
<circle cx="497.7" cy="288" r="1.1" fill="#f3d09a" />
<circle cx="497.7" cy="292" r="1.1" fill="#a450b0" />
<circle cx="497.7" cy="296" r="1.1" fill="#a450b0" />
<circle cx="497.7" cy="300" r="1.1" fill="#a450b0" />
<circle cx="497.7" cy="304.1" r="1.1" fill="#a450b0" />
<circle cx="497.7" cy="308.1" r="1.1" fill="#a450b0" />
<circle cx="497.7" cy="312.1" r="1.1" fill="#a450b0" />
<circle cx="501.2" cy="282" r="1.1" fill="#f3d09a" />
<circle cx="501.2" cy="286" r="1.1" fill="#f3d09a" />
<circle cx="501.2" cy="290" r="1.1" fill="#f3d09a" />
<circle cx="501.2" cy="294" r="1.1" fill="#a450b0" />
<circle cx="501.2" cy="298" r="1.1" fill="#a450b0" />
<circle cx="501.2" cy="302.1" r="1.1" fill="#a450b0" />
<circle cx="501.2" cy="306.1" r="1.1" fill="#a450b0" />
<circle cx="504.8" cy="288" r="1.1" fill="#f3d09a" />
<circle cx="504.8" cy="292" r="1.1" fill="#f3d09a" />
<circle cx="504.8" cy="296" r="1.1" fill="#f3d09a" />
<circle cx="508.3" cy="294" r="1.1" fill="#f3d09a" />
<circle cx="508.3" cy="298" r="1.1" fill="#f3d09a" />
<circle cx="511.8" cy="300" r="1.1" fill="#f3d09a" />
<circle cx="511.8" cy="304.1" r="1.1" fill="#f3d09a" />
<circle cx="515.3" cy="302.1" r="1.1" fill="#f3d09a" />
<circle cx="623.1" cy="282.6" r="0.8" fill="#7ec4e4" />
<circle cx="623.1" cy="285.4" r="0.8" fill="#7ec4e4" />
<circle cx="623.1" cy="288.2" r="0.8" fill="#7ec4e4" />
<circle cx="623.1" cy="290.9" r="0.8" fill="#7ec4e4" />
<circle cx="625.5" cy="281.3" r="0.8" fill="#7ec4e4" />
<circle cx="625.5" cy="284" r="0.8" fill="#7ec4e4" />
<circle cx="625.5" cy="286.8" r="0.8" fill="#7ec4e4" />
<circle cx="625.5" cy="289.5" r="0.8" fill="#7ec4e4" />
<circle cx="625.5" cy="292.3" r="0.8" fill="#7ec4e4" />
<circle cx="627.9" cy="279.9" r="0.8" fill="#7ec4e4" />
<circle cx="627.9" cy="282.6" r="0.8" fill="#7ec4e4" />
<circle cx="627.9" cy="285.4" r="0.8" fill="#7ec4e4" />
<circle cx="627.9" cy="288.2" r="0.8" fill="#7ec4e4" />
<circle cx="627.9" cy="290.9" r="0.8" fill="#7ec4e4" />
<circle cx="627.9" cy="293.7" r="0.8" fill="#7ec4e4" />
<circle cx="630.3" cy="281.3" r="0.8" fill="#7ec4e4" />
<circle cx="630.3" cy="284" r="0.8" fill="#7ec4e4" />
<circle cx="630.3" cy="286.8" r="0.8" fill="#7ec4e4" />
<circle cx="630.3" cy="289.5" r="0.8" fill="#7ec4e4" />
<circle cx="630.3" cy="292.3" r="0.8" fill="#7ec4e4" />
<circle cx="630.3" cy="295.1" r="0.8" fill="#7ec4e4" />
<circle cx="632.7" cy="279.9" r="0.8" fill="#7ec4e4" />
<circle cx="632.7" cy="282.6" r="0.8" fill="#7ec4e4" />
<circle cx="632.7" cy="285.4" r="0.8" fill="#7ec4e4" />
<circle cx="632.7" cy="288.2" r="0.8" fill="#7ec4e4" />
<circle cx="632.7" cy="290.9" r="0.8" fill="#7ec4e4" />
<circle cx="632.7" cy="293.7" r="0.8" fill="#7ec4e4" />
<circle cx="632.7" cy="296.4" r="0.8" fill="#7ec4e4" />
<circle cx="635.1" cy="281.3" r="0.8" fill="#7ec4e4" />
<circle cx="635.1" cy="284" r="0.8" fill="#7ec4e4" />
<circle cx="635.1" cy="286.8" r="0.8" fill="#7ec4e4" />
<circle cx="635.1" cy="289.5" r="0.8" fill="#7ec4e4" />
<circle cx="635.1" cy="292.3" r="0.8" fill="#7ec4e4" />
<circle cx="635.1" cy="295.1" r="0.8" fill="#7ec4e4" />
<circle cx="637.5" cy="279.9" r="0.8" fill="#7ec4e4" />
<circle cx="637.5" cy="282.6" r="0.8" fill="#7ec4e4" />
<circle cx="637.5" cy="285.4" r="0.8" fill="#7ec4e4" />
<circle cx="637.5" cy="288.2" r="0.8" fill="#7ec4e4" />
<circle cx="637.5" cy="290.9" r="0.8" fill="#7ec4e4" />
<circle cx="637.5" cy="293.7" r="0.8" fill="#7ec4e4" />
<circle cx="637.5" cy="296.4" r="0.8" fill="#7ec4e4" />
<circle cx="639.9" cy="281.3" r="0.8" fill="#7ec4e4" />
<circle cx="639.9" cy="284" r="0.8" fill="#7ec4e4" />
<circle cx="639.9" cy="286.8" r="0.8" fill="#7ec4e4" />
<circle cx="639.9" cy="289.5" r="0.8" fill="#7ec4e4" />
<circle cx="639.9" cy="292.3" r="0.8" fill="#7ec4e4" />
<circle cx="639.9" cy="295.1" r="0.8" fill="#7ec4e4" />
<circle cx="642.3" cy="279.9" r="0.8" fill="#7ec4e4" />
<circle cx="642.3" cy="282.6" r="0.8" fill="#7ec4e4" />
<circle cx="642.3" cy="285.4" r="0.8" fill="#7ec4e4" />
<circle cx="642.3" cy="288.2" r="0.8" fill="#7ec4e4" />
<circle cx="642.3" cy="290.9" r="0.8" fill="#7ec4e4" />
<circle cx="642.3" cy="293.7" r="0.8" fill="#7ec4e4" />
<circle cx="644.7" cy="281.3" r="0.8" fill="#7ec4e4" />
<circle cx="644.7" cy="284" r="0.8" fill="#7ec4e4" />
<circle cx="644.7" cy="286.8" r="0.8" fill="#7ec4e4" />
<circle cx="644.7" cy="289.5" r="0.8" fill="#7ec4e4" />
<circle cx="644.7" cy="292.3" r="0.8" fill="#7ec4e4" />
<circle cx="644.7" cy="295.1" r="0.8" fill="#7ec4e4" />
<circle cx="647.1" cy="279.9" r="0.8" fill="#7ec4e4" />
<circle cx="647.1" cy="282.6" r="0.8" fill="#7ec4e4" />
<circle cx="647.1" cy="285.4" r="0.8" fill="#7ec4e4" />
<circle cx="647.1" cy="288.2" r="0.8" fill="#7ec4e4" />
<circle cx="647.1" cy="290.9" r="0.8" fill="#7ec4e4" />
<circle cx="647.1" cy="293.7" r="0.8" fill="#7ec4e4" />
<circle cx="649.5" cy="281.3" r="0.8" fill="#7ec4e4" />
<circle cx="649.5" cy="284" r="0.8" fill="#7ec4e4" />
<circle cx="649.5" cy="286.8" r="0.8" fill="#7ec4e4" />
<circle cx="649.5" cy="289.5" r="0.8" fill="#7ec4e4" />
<circle cx="649.5" cy="292.3" r="0.8" fill="#7ec4e4" />
<circle cx="651.9" cy="282.6" r="0.8" fill="#7ec4e4" />
<circle cx="651.9" cy="285.4" r="0.8" fill="#7ec4e4" />
<circle cx="651.9" cy="288.2" r="0.8" fill="#7ec4e4" />
<circle cx="651.9" cy="290.9" r="0.8" fill="#7ec4e4" />
<circle cx="654.3" cy="284" r="0.8" fill="#7ec4e4" />
<circle cx="654.3" cy="286.8" r="0.8" fill="#7ec4e4" />
<circle cx="654.3" cy="289.5" r="0.8" fill="#7ec4e4" />
<circle cx="617.8" cy="278.5" r="0.8" fill="#1d2f66" />
<circle cx="620.2" cy="274.3" r="0.8" fill="#1d2f66" />
<circle cx="620.2" cy="277.1" r="0.8" fill="#1d2f66" />
<circle cx="620.2" cy="279.8" r="0.8" fill="#1d2f66" />
<circle cx="622.6" cy="275.7" r="0.8" fill="#1d2f66" />
<circle cx="622.6" cy="278.5" r="0.8" fill="#1d2f66" />
<circle cx="625" cy="274.3" r="0.8" fill="#1d2f66" />
<circle cx="625" cy="277.1" r="0.8" fill="#1d2f66" />
<circle cx="625" cy="279.8" r="0.8" fill="#1d2f66" />
<circle cx="627.4" cy="272.9" r="0.8" fill="#1d2f66" />
<circle cx="627.4" cy="275.7" r="0.8" fill="#1d2f66" />
<circle cx="627.4" cy="278.5" r="0.8" fill="#1d2f66" />
<circle cx="629.8" cy="274.3" r="0.8" fill="#1d2f66" />
<circle cx="629.8" cy="277.1" r="0.8" fill="#1d2f66" />
<circle cx="629.8" cy="279.8" r="0.8" fill="#1d2f66" />
<circle cx="632.2" cy="272.9" r="0.8" fill="#1d2f66" />
<circle cx="632.2" cy="275.7" r="0.8" fill="#1d2f66" />
<circle cx="632.2" cy="278.5" r="0.8" fill="#1d2f66" />
<circle cx="634.6" cy="274.3" r="0.8" fill="#1d2f66" />
<circle cx="634.6" cy="277.1" r="0.8" fill="#1d2f66" />
<circle cx="634.6" cy="279.8" r="0.8" fill="#1d2f66" />
<circle cx="637" cy="272.9" r="0.8" fill="#1d2f66" />
<circle cx="637" cy="275.7" r="0.8" fill="#1d2f66" />
<circle cx="637" cy="278.5" r="0.8" fill="#1d2f66" />
<circle cx="639.4" cy="274.3" r="0.8" fill="#1d2f66" />
<circle cx="639.4" cy="277.1" r="0.8" fill="#1d2f66" />
<circle cx="641.8" cy="272.9" r="0.8" fill="#1d2f66" />
<circle cx="641.8" cy="275.7" r="0.8" fill="#1d2f66" />
<circle cx="641.8" cy="278.5" r="0.8" fill="#1d2f66" />
<circle cx="644.2" cy="274.3" r="0.8" fill="#1d2f66" />
<circle cx="644.2" cy="277.1" r="0.8" fill="#1d2f66" />
<circle cx="644.2" cy="279.8" r="0.8" fill="#1d2f66" />
<circle cx="646.6" cy="275.7" r="0.8" fill="#1d2f66" />
<circle cx="646.6" cy="278.5" r="0.8" fill="#1d2f66" />
<circle cx="649" cy="274.3" r="0.8" fill="#1d2f66" />
<circle cx="649" cy="277.1" r="0.8" fill="#1d2f66" />
<circle cx="649" cy="279.8" r="0.8" fill="#1d2f66" />
<circle cx="651.4" cy="278.5" r="0.8" fill="#1d2f66" />
<circle cx="651.4" cy="281.2" r="0.8" fill="#1d2f66" />
<circle cx="653.8" cy="279.8" r="0.8" fill="#1d2f66" />
<circle cx="653.8" cy="282.6" r="0.8" fill="#1d2f66" />
<circle cx="656.2" cy="281.2" r="0.8" fill="#1d2f66" />
<circle cx="656.2" cy="284" r="0.8" fill="#1d2f66" />
<circle cx="658.6" cy="282.6" r="0.8" fill="#1d2f66" />
<circle cx="661" cy="281.2" r="0.8" fill="#1d2f66" />
<circle cx="605.8" cy="267.8" r="0.8" fill="#1d2f66" />
<circle cx="605.8" cy="270.5" r="0.8" fill="#1d2f66" />
<circle cx="608.2" cy="266.4" r="0.8" fill="#1d2f66" />
<circle cx="608.2" cy="269.1" r="0.8" fill="#1d2f66" />
<circle cx="610.6" cy="267.8" r="0.8" fill="#1d2f66" />
<circle cx="610.6" cy="270.5" r="0.8" fill="#1d2f66" />
<circle cx="613" cy="266.4" r="0.8" fill="#1d2f66" />
<circle cx="613" cy="269.1" r="0.8" fill="#1d2f66" />
<circle cx="558.5" cy="288" r="0.8" fill="#1d2f66" />
<circle cx="558.5" cy="290.8" r="0.8" fill="#1d2f66" />
<circle cx="558.5" cy="293.5" r="0.8" fill="#1d2f66" />
<circle cx="558.5" cy="296.3" r="0.8" fill="#1d2f66" />
<circle cx="560.9" cy="289.4" r="0.8" fill="#1d2f66" />
<circle cx="560.9" cy="292.1" r="0.8" fill="#1d2f66" />
<circle cx="560.9" cy="294.9" r="0.8" fill="#1d2f66" />
<circle cx="563.3" cy="288" r="0.8" fill="#1d2f66" />
<circle cx="563.3" cy="290.8" r="0.8" fill="#1d2f66" />
<circle cx="563.3" cy="293.5" r="0.8" fill="#1d2f66" />
<circle cx="563.3" cy="296.3" r="0.8" fill="#1d2f66" />
<circle cx="565.7" cy="289.4" r="0.8" fill="#1d2f66" />
<circle cx="565.7" cy="292.1" r="0.8" fill="#1d2f66" />
<circle cx="565.7" cy="294.9" r="0.8" fill="#1d2f66" />
<circle cx="568.1" cy="288" r="0.8" fill="#1d2f66" />
<circle cx="568.1" cy="290.8" r="0.8" fill="#1d2f66" />
<circle cx="568.1" cy="293.5" r="0.8" fill="#1d2f66" />
<circle cx="568.1" cy="296.3" r="0.8" fill="#1d2f66" />
<circle cx="413.2" cy="328.3" r="3.2" fill="#a450b0" />
<text x="419" y="331.6" font-size="9.3" text-anchor="start" font-weight="normal" fill="#231f20" font-family="Liberation Sans" font-style="normal" >Cluster &#160; 5, muscle-proximal</text>
<circle cx="413.2" cy="341" r="3.2" fill="#f3d09a" />
<text x="419" y="344.3" font-size="9.3" text-anchor="start" font-weight="normal" fill="#231f20" font-family="Liberation Sans" font-style="normal" >Cluster 12, tumor-proximal</text>
<circle cx="569.4" cy="329.5" r="3.2" fill="#8fd0ea" />
<text x="574.5" y="332.8" font-size="9.3" text-anchor="start" font-weight="normal" fill="#231f20" font-family="Liberation Sans" font-style="normal" >Cluster 9, muscle-proximal</text>
<circle cx="569.4" cy="340.4" r="3.2" fill="#1d2f66" />
<text x="574.5" y="343.7" font-size="9.3" text-anchor="start" font-weight="normal" fill="#231f20" font-family="Liberation Sans" font-style="normal" >Cluster 7, tumor-proximal</text>
<defs><linearGradient id="rdbu" x1="0" y1="0" x2="0" y2="1"><stop offset="0" stop-color="#67001f"/><stop offset="0.1" stop-color="#b2182b"/><stop offset="0.2" stop-color="#d6604d"/><stop offset="0.3" stop-color="#f4a582"/><stop offset="0.4" stop-color="#fddbc7"/><stop offset="0.5" stop-color="#f7f7f7"/><stop offset="0.6" stop-color="#d1e5f0"/><stop offset="0.7" stop-color="#92c5de"/><stop offset="0.8" stop-color="#4393c3"/><stop offset="0.9" stop-color="#2166ac"/><stop offset="1" stop-color="#053061"/></linearGradient></defs>
<rect x="407.6" y="377.1" width="6.2" height="37.9" fill="url(#rdbu)" stroke="#9a9a9a" stroke-width="0.3"/>
<line x1="413.8" y1="378" x2="416.4" y2="378" stroke="#444" stroke-width="0.6" />
<text x="416.4" y="381.3" font-size="9.4" text-anchor="start" font-weight="normal" fill="#333" font-family="Liberation Sans" font-style="normal" >5.0</text>
<line x1="413.8" y1="396.1" x2="416.4" y2="396.1" stroke="#444" stroke-width="0.6" />
<text x="416.4" y="399.4" font-size="9.4" text-anchor="start" font-weight="normal" fill="#333" font-family="Liberation Sans" font-style="normal" >2.5</text>
<line x1="413.8" y1="414.1" x2="416.4" y2="414.1" stroke="#444" stroke-width="0.6" />
<text x="416.4" y="417.4" font-size="9.4" text-anchor="start" font-weight="normal" fill="#333" font-family="Liberation Sans" font-style="normal" >0.0</text>
<line x1="413.6" y1="387" x2="415.2" y2="387" stroke="#bbb" stroke-width="0.4" />
<line x1="413.6" y1="405.1" x2="415.2" y2="405.1" stroke="#bbb" stroke-width="0.4" />
<rect x="407.6" y="450" width="6.6" height="38.8" fill="url(#rdbu)" stroke="#9a9a9a" stroke-width="0.3"/>
<line x1="414.2" y1="451" x2="416.8" y2="451" stroke="#444" stroke-width="0.6" />
<text x="416.8" y="454.3" font-size="9.4" text-anchor="start" font-weight="normal" fill="#333" font-family="Liberation Sans" font-style="normal" >5.0</text>
<line x1="414.2" y1="469.4" x2="416.8" y2="469.4" stroke="#444" stroke-width="0.6" />
<text x="416.8" y="472.7" font-size="9.4" text-anchor="start" font-weight="normal" fill="#333" font-family="Liberation Sans" font-style="normal" >2.5</text>
<line x1="414.2" y1="487.7" x2="416.8" y2="487.7" stroke="#444" stroke-width="0.6" />
<text x="416.8" y="491" font-size="9.4" text-anchor="start" font-weight="normal" fill="#333" font-family="Liberation Sans" font-style="normal" >0.0</text>
<line x1="414" y1="460.2" x2="415.6" y2="460.2" stroke="#bbb" stroke-width="0.4" />
<line x1="414" y1="478.5" x2="415.6" y2="478.5" stroke="#bbb" stroke-width="0.4" />
<rect x="406" y="519.1" width="6.7" height="37.9" fill="url(#rdbu)" stroke="#9a9a9a" stroke-width="0.3"/>
<line x1="412.7" y1="520" x2="415.3" y2="520" stroke="#444" stroke-width="0.6" />
<text x="415.3" y="523.3" font-size="9.4" text-anchor="start" font-weight="normal" fill="#333" font-family="Liberation Sans" font-style="normal" >3.0</text>
<line x1="412.7" y1="538" x2="415.3" y2="538" stroke="#444" stroke-width="0.6" />
<text x="415.3" y="541.3" font-size="9.4" text-anchor="start" font-weight="normal" fill="#333" font-family="Liberation Sans" font-style="normal" >1.5</text>
<line x1="412.7" y1="556.1" x2="415.3" y2="556.1" stroke="#444" stroke-width="0.6" />
<text x="415.3" y="559.4" font-size="9.4" text-anchor="start" font-weight="normal" fill="#333" font-family="Liberation Sans" font-style="normal" >0.0</text>
<line x1="412.5" y1="529" x2="414.1" y2="529" stroke="#bbb" stroke-width="0.4" />
<line x1="412.5" y1="547.1" x2="414.1" y2="547.1" stroke="#bbb" stroke-width="0.4" />
<rect x="407.1" y="578.3" width="6.7" height="38.4" fill="url(#rdbu)" stroke="#9a9a9a" stroke-width="0.3"/>
<line x1="413.8" y1="579.6" x2="416.4" y2="579.6" stroke="#444" stroke-width="0.6" />
<text x="416.4" y="582.9" font-size="9.4" text-anchor="start" font-weight="normal" fill="#333" font-family="Liberation Sans" font-style="normal" >3.0</text>
<line x1="413.8" y1="597.9" x2="416.4" y2="597.9" stroke="#444" stroke-width="0.6" />
<text x="416.4" y="601.1" font-size="9.4" text-anchor="start" font-weight="normal" fill="#333" font-family="Liberation Sans" font-style="normal" >1.5</text>
<line x1="413.8" y1="616.1" x2="416.4" y2="616.1" stroke="#444" stroke-width="0.6" />
<text x="416.4" y="619.4" font-size="9.4" text-anchor="start" font-weight="normal" fill="#333" font-family="Liberation Sans" font-style="normal" >0.0</text>
<line x1="413.6" y1="588.7" x2="415.2" y2="588.7" stroke="#bbb" stroke-width="0.4" />
<line x1="413.6" y1="607" x2="415.2" y2="607" stroke="#bbb" stroke-width="0.4" />
<rect x="551" y="381" width="6.8" height="38.1" fill="url(#rdbu)" stroke="#9a9a9a" stroke-width="0.3"/>
<line x1="557.8" y1="382.2" x2="560.4" y2="382.2" stroke="#444" stroke-width="0.6" />
<text x="560.4" y="385.5" font-size="9.4" text-anchor="start" font-weight="normal" fill="#333" font-family="Liberation Sans" font-style="normal" >4.0</text>
<line x1="557.8" y1="400.3" x2="560.4" y2="400.3" stroke="#444" stroke-width="0.6" />
<text x="560.4" y="403.6" font-size="9.4" text-anchor="start" font-weight="normal" fill="#333" font-family="Liberation Sans" font-style="normal" >2.0</text>
<line x1="557.8" y1="418.4" x2="560.4" y2="418.4" stroke="#444" stroke-width="0.6" />
<text x="560.4" y="421.7" font-size="9.4" text-anchor="start" font-weight="normal" fill="#333" font-family="Liberation Sans" font-style="normal" >0.0</text>
<line x1="557.6" y1="391.2" x2="559.2" y2="391.2" stroke="#bbb" stroke-width="0.4" />
<line x1="557.6" y1="409.3" x2="559.2" y2="409.3" stroke="#bbb" stroke-width="0.4" />
<rect x="549.4" y="453.5" width="6.7" height="38.3" fill="url(#rdbu)" stroke="#9a9a9a" stroke-width="0.3"/>
<line x1="556.1" y1="454.8" x2="558.7" y2="454.8" stroke="#444" stroke-width="0.6" />
<text x="558.7" y="458.1" font-size="9.4" text-anchor="start" font-weight="normal" fill="#333" font-family="Liberation Sans" font-style="normal" >4.0</text>
<line x1="556.1" y1="472.9" x2="558.7" y2="472.9" stroke="#444" stroke-width="0.6" />
<text x="558.7" y="476.2" font-size="9.4" text-anchor="start" font-weight="normal" fill="#333" font-family="Liberation Sans" font-style="normal" >2.0</text>
<line x1="556.1" y1="491" x2="558.7" y2="491" stroke="#444" stroke-width="0.6" />
<text x="558.7" y="494.3" font-size="9.4" text-anchor="start" font-weight="normal" fill="#333" font-family="Liberation Sans" font-style="normal" >0.0</text>
<line x1="555.9" y1="463.9" x2="557.5" y2="463.9" stroke="#bbb" stroke-width="0.4" />
<line x1="555.9" y1="481.9" x2="557.5" y2="481.9" stroke="#bbb" stroke-width="0.4" />
<rect x="549" y="522.8" width="6.7" height="38.2" fill="url(#rdbu)" stroke="#9a9a9a" stroke-width="0.3"/>
<line x1="555.7" y1="524" x2="558.3" y2="524" stroke="#444" stroke-width="0.6" />
<text x="558.3" y="527.3" font-size="9.4" text-anchor="start" font-weight="normal" fill="#333" font-family="Liberation Sans" font-style="normal" >4.0</text>
<line x1="555.7" y1="542" x2="558.3" y2="542" stroke="#444" stroke-width="0.6" />
<text x="558.3" y="545.3" font-size="9.4" text-anchor="start" font-weight="normal" fill="#333" font-family="Liberation Sans" font-style="normal" >2.0</text>
<line x1="555.7" y1="560.1" x2="558.3" y2="560.1" stroke="#444" stroke-width="0.6" />
<text x="558.3" y="563.4" font-size="9.4" text-anchor="start" font-weight="normal" fill="#333" font-family="Liberation Sans" font-style="normal" >0.0</text>
<line x1="555.5" y1="533" x2="557.1" y2="533" stroke="#bbb" stroke-width="0.4" />
<line x1="555.5" y1="551.1" x2="557.1" y2="551.1" stroke="#bbb" stroke-width="0.4" />
<rect x="550.5" y="580" width="6.6" height="38.7" fill="url(#rdbu)" stroke="#9a9a9a" stroke-width="0.3"/>
<line x1="557.1" y1="581.5" x2="559.7" y2="581.5" stroke="#444" stroke-width="0.6" />
<text x="559.7" y="584.8" font-size="9.4" text-anchor="start" font-weight="normal" fill="#333" font-family="Liberation Sans" font-style="normal" >2.0</text>
<line x1="557.1" y1="599.5" x2="559.7" y2="599.5" stroke="#444" stroke-width="0.6" />
<text x="559.7" y="602.8" font-size="9.4" text-anchor="start" font-weight="normal" fill="#333" font-family="Liberation Sans" font-style="normal" >1.0</text>
<line x1="557.1" y1="617.5" x2="559.7" y2="617.5" stroke="#444" stroke-width="0.6" />
<text x="559.7" y="620.8" font-size="9.4" text-anchor="start" font-weight="normal" fill="#333" font-family="Liberation Sans" font-style="normal" >0.0</text>
<line x1="556.9" y1="590.5" x2="558.5" y2="590.5" stroke="#bbb" stroke-width="0.4" />
<line x1="556.9" y1="608.5" x2="558.5" y2="608.5" stroke="#bbb" stroke-width="0.4" />
<text x="406.5" y="372" font-size="9.2" text-anchor="end" font-weight="normal" fill="#231f20" font-family="Liberation Sans" font-style="italic" >ckmb</text>
<text x="406.5" y="443.4" font-size="9.2" text-anchor="end" font-weight="normal" fill="#231f20" font-family="Liberation Sans" font-style="italic" >ckma</text>
<text x="378.4" y="515.9" font-size="9.2" text-anchor="start" font-weight="normal" fill="#231f20" font-family="Liberation Sans" font-style="italic" >BRAF</text>
<text x="401.2" y="512.6" font-size="5.6" text-anchor="start" font-weight="normal" fill="#231f20" font-family="Liberation Sans" font-style="italic" >V600E</text>
<text x="406.8" y="570.6" font-size="9.2" text-anchor="end" font-weight="normal" fill="#231f20" font-family="Liberation Sans" font-style="italic" >neb</text>
<circle cx="439.5" cy="367.6" r="2.1" fill="#4393c3" />
<circle cx="439.5" cy="371.6" r="2.1" fill="#f7b99b" />
<circle cx="443" cy="369.6" r="2.1" fill="#b2d5e7" />
<circle cx="443" cy="373.6" r="2.1" fill="#c03338" />
<circle cx="443" cy="377.6" r="2.1" fill="#b41c2d" />
<circle cx="446.5" cy="367.6" r="2.1" fill="#92c5de" />
<circle cx="446.5" cy="371.6" r="2.1" fill="#cc4b43" />
<circle cx="446.5" cy="375.6" r="2.1" fill="#cf5347" />
<circle cx="446.5" cy="379.6" r="2.1" fill="#bd2e35" />
<circle cx="446.5" cy="383.6" r="2.1" fill="#b2182b" />
<circle cx="450" cy="369.6" r="2.1" fill="#ea8e71" />
<circle cx="450" cy="373.6" r="2.1" fill="#f7b99b" />
<circle cx="450" cy="377.6" r="2.1" fill="#cd4d44" />
<circle cx="450" cy="381.6" r="2.1" fill="#b2182b" />
<circle cx="450" cy="385.6" r="2.1" fill="#ad162a" />
<circle cx="450" cy="389.6" r="2.1" fill="#8a0b25" />
<circle cx="453.5" cy="367.6" r="2.1" fill="#e4eef4" />
<circle cx="453.5" cy="371.6" r="2.1" fill="#bc2b34" />
<circle cx="453.5" cy="375.6" r="2.1" fill="#c2383a" />
<circle cx="453.5" cy="379.6" r="2.1" fill="#bf3237" />
<circle cx="453.5" cy="383.6" r="2.1" fill="#830923" />
<circle cx="453.5" cy="387.6" r="2.1" fill="#b51e2e" />
<circle cx="457" cy="365.6" r="2.1" fill="#327cb8" />
<circle cx="457" cy="369.6" r="2.1" fill="#f6b292" />
<circle cx="457" cy="373.6" r="2.1" fill="#d05447" />
<circle cx="457" cy="377.6" r="2.1" fill="#be2f36" />
<circle cx="457" cy="381.6" r="2.1" fill="#b82431" />
<circle cx="457" cy="385.6" r="2.1" fill="#b82431" />
<circle cx="460.5" cy="371.6" r="2.1" fill="#f4a683" />
<circle cx="460.5" cy="375.6" r="2.1" fill="#be3036" />
<circle cx="460.5" cy="379.6" r="2.1" fill="#b51d2d" />
<circle cx="460.5" cy="383.6" r="2.1" fill="#a41329" />
<circle cx="460.5" cy="387.6" r="2.1" fill="#ad162a" />
<circle cx="464" cy="369.6" r="2.1" fill="#f9c2a7" />
<circle cx="464" cy="373.6" r="2.1" fill="#ee9677" />
<circle cx="464" cy="377.6" r="2.1" fill="#ce5045" />
<circle cx="464" cy="381.6" r="2.1" fill="#bb2b34" />
<circle cx="464" cy="385.6" r="2.1" fill="#c43d3c" />
<circle cx="464" cy="389.6" r="2.1" fill="#ad162a" />
<circle cx="464" cy="393.6" r="2.1" fill="#b31a2c" />
<circle cx="467.5" cy="371.6" r="2.1" fill="#f2a17f" />
<circle cx="467.5" cy="375.6" r="2.1" fill="#870a24" />
<circle cx="467.5" cy="379.6" r="2.1" fill="#bd2d35" />
<circle cx="471" cy="377.6" r="2.1" fill="#ec9475" />
<circle cx="440.6" cy="434.9" r="2.1" fill="#327cb8" />
<circle cx="440.6" cy="438.9" r="2.1" fill="#f9c2a7" />
<circle cx="444.1" cy="436.9" r="2.1" fill="#b2d5e7" />
<circle cx="444.1" cy="440.9" r="2.1" fill="#be2f36" />
<circle cx="444.1" cy="444.9" r="2.1" fill="#be3036" />
<circle cx="447.6" cy="434.9" r="2.1" fill="#6aacd0" />
<circle cx="447.6" cy="438.9" r="2.1" fill="#c84340" />
<circle cx="447.6" cy="442.9" r="2.1" fill="#b31a2c" />
<circle cx="447.6" cy="446.9" r="2.1" fill="#b82430" />
<circle cx="447.6" cy="450.9" r="2.1" fill="#b6212f" />
<circle cx="451.1" cy="436.9" r="2.1" fill="#e7876b" />
<circle cx="451.1" cy="440.9" r="2.1" fill="#f6b293" />
<circle cx="451.1" cy="444.9" r="2.1" fill="#c94540" />
<circle cx="451.1" cy="448.9" r="2.1" fill="#c53e3d" />
<circle cx="451.1" cy="452.9" r="2.1" fill="#b7212f" />
<circle cx="451.1" cy="456.9" r="2.1" fill="#960f27" />
<circle cx="454.6" cy="434.9" r="2.1" fill="#e4eef4" />
<circle cx="454.6" cy="438.9" r="2.1" fill="#b92732" />
<circle cx="454.6" cy="442.9" r="2.1" fill="#b0172b" />
<circle cx="454.6" cy="446.9" r="2.1" fill="#960f26" />
<circle cx="454.6" cy="450.9" r="2.1" fill="#8e0d25" />
<circle cx="454.6" cy="454.9" r="2.1" fill="#9b1127" />
<circle cx="458.1" cy="432.9" r="2.1" fill="#0b3b70" />
<circle cx="458.1" cy="436.9" r="2.1" fill="#eb9072" />
<circle cx="458.1" cy="440.9" r="2.1" fill="#b92531" />
<circle cx="458.1" cy="444.9" r="2.1" fill="#c13539" />
<circle cx="458.1" cy="448.9" r="2.1" fill="#a71429" />
<circle cx="458.1" cy="452.9" r="2.1" fill="#ad172a" />
<circle cx="461.6" cy="438.9" r="2.1" fill="#f5ad8c" />
<circle cx="461.6" cy="442.9" r="2.1" fill="#9c1127" />
<circle cx="461.6" cy="446.9" r="2.1" fill="#ad162a" />
<circle cx="461.6" cy="450.9" r="2.1" fill="#b82431" />
<circle cx="461.6" cy="454.9" r="2.1" fill="#ab162a" />
<circle cx="465.1" cy="436.9" r="2.1" fill="#e17a61" />
<circle cx="465.1" cy="440.9" r="2.1" fill="#f5ae8d" />
<circle cx="465.1" cy="444.9" r="2.1" fill="#b2192b" />
<circle cx="465.1" cy="448.9" r="2.1" fill="#ab162a" />
<circle cx="465.1" cy="452.9" r="2.1" fill="#a31329" />
<circle cx="465.1" cy="456.9" r="2.1" fill="#970f27" />
<circle cx="465.1" cy="460.9" r="2.1" fill="#a41429" />
<circle cx="468.6" cy="438.9" r="2.1" fill="#f6b191" />
<circle cx="468.6" cy="442.9" r="2.1" fill="#bf3137" />
<circle cx="468.6" cy="446.9" r="2.1" fill="#bc2c34" />
<circle cx="472.1" cy="444.9" r="2.1" fill="#ef9a79" />
<circle cx="434.7" cy="502.7" r="2.1" fill="#b41b2c" />
<circle cx="434.7" cy="506.7" r="2.1" fill="#b72230" />
<circle cx="438.2" cy="504.7" r="2.1" fill="#c03438" />
<circle cx="438.2" cy="508.7" r="2.1" fill="#f8bda1" />
<circle cx="438.2" cy="512.7" r="2.1" fill="#f6b394" />
<circle cx="441.7" cy="502.7" r="2.1" fill="#991027" />
<circle cx="441.7" cy="506.7" r="2.1" fill="#d2594a" />
<circle cx="441.7" cy="510.7" r="2.1" fill="#cf5246" />
<circle cx="441.7" cy="514.7" r="2.1" fill="#f8bc9f" />
<circle cx="441.7" cy="518.7" r="2.1" fill="#92c5de" />
<circle cx="445.2" cy="504.7" r="2.1" fill="#bb2b34" />
<circle cx="445.2" cy="508.7" r="2.1" fill="#c63f3e" />
<circle cx="445.2" cy="512.7" r="2.1" fill="#fdddcb" />
<circle cx="445.2" cy="516.7" r="2.1" fill="#e4eef4" />
<circle cx="445.2" cy="520.7" r="2.1" fill="#fbd0b9" />
<circle cx="445.2" cy="524.7" r="2.1" fill="#f6b090" />
<circle cx="448.7" cy="502.7" r="2.1" fill="#8a0b25" />
<circle cx="448.7" cy="506.7" r="2.1" fill="#c2383a" />
<circle cx="448.7" cy="510.7" r="2.1" fill="#67001f" />
<circle cx="448.7" cy="514.7" r="2.1" fill="#f8bc9f" />
<circle cx="448.7" cy="518.7" r="2.1" fill="#f8f1ed" />
<circle cx="448.7" cy="522.7" r="2.1" fill="#f7f7f7" />
<circle cx="452.2" cy="500.7" r="2.1" fill="#790622" />
<circle cx="452.2" cy="504.7" r="2.1" fill="#900d26" />
<circle cx="452.2" cy="508.7" r="2.1" fill="#ce5046" />
<circle cx="452.2" cy="512.7" r="2.1" fill="#fac8af" />
<circle cx="452.2" cy="516.7" r="2.1" fill="#fbd0b9" />
<circle cx="452.2" cy="520.7" r="2.1" fill="#f6b090" />
<circle cx="455.7" cy="506.7" r="2.1" fill="#e7866a" />
<circle cx="455.7" cy="510.7" r="2.1" fill="#d86450" />
<circle cx="455.7" cy="514.7" r="2.1" fill="#f5a886" />
<circle cx="455.7" cy="518.7" r="2.1" fill="#f7f7f7" />
<circle cx="455.7" cy="522.7" r="2.1" fill="#fbd0b9" />
<circle cx="459.2" cy="504.7" r="2.1" fill="#be3036" />
<circle cx="459.2" cy="508.7" r="2.1" fill="#c43b3c" />
<circle cx="459.2" cy="512.7" r="2.1" fill="#fbcfb8" />
<circle cx="459.2" cy="516.7" r="2.1" fill="#fbd0b9" />
<circle cx="459.2" cy="520.7" r="2.1" fill="#f6b090" />
<circle cx="459.2" cy="524.7" r="2.1" fill="#fae9df" />
<circle cx="459.2" cy="528.7" r="2.1" fill="#f6b090" />
<circle cx="462.7" cy="506.7" r="2.1" fill="#c2373a" />
<circle cx="462.7" cy="510.7" r="2.1" fill="#ef9a7a" />
<circle cx="462.7" cy="514.7" r="2.1" fill="#fac9af" />
<circle cx="466.2" cy="512.7" r="2.1" fill="#fbcfb8" />
<circle cx="434.9" cy="564.7" r="2.1" fill="#0b3b70" />
<circle cx="434.9" cy="568.7" r="2.1" fill="#f8bb9e" />
<circle cx="438.4" cy="566.7" r="2.1" fill="#e4eef4" />
<circle cx="438.4" cy="570.7" r="2.1" fill="#92c5de" />
<circle cx="438.4" cy="574.7" r="2.1" fill="#f4a582" />
<circle cx="441.9" cy="564.7" r="2.1" fill="#134b86" />
<circle cx="441.9" cy="568.7" r="2.1" fill="#b2182b" />
<circle cx="441.9" cy="572.7" r="2.1" fill="#b2182b" />
<circle cx="441.9" cy="576.7" r="2.1" fill="#b2182b" />
<circle cx="441.9" cy="580.7" r="2.1" fill="#f6b090" />
<circle cx="445.4" cy="566.7" r="2.1" fill="#e4eef4" />
<circle cx="445.4" cy="570.7" r="2.1" fill="#f8c0a4" />
<circle cx="445.4" cy="574.7" r="2.1" fill="#b2182b" />
<circle cx="445.4" cy="578.7" r="2.1" fill="#f8c0a4" />
<circle cx="445.4" cy="582.7" r="2.1" fill="#92c5de" />
<circle cx="445.4" cy="586.7" r="2.1" fill="#e58268" />
<circle cx="448.9" cy="564.7" r="2.1" fill="#92c5de" />
<circle cx="448.9" cy="568.7" r="2.1" fill="#f6b090" />
<circle cx="448.9" cy="572.7" r="2.1" fill="#b2182b" />
<circle cx="448.9" cy="576.7" r="2.1" fill="#fae9df" />
<circle cx="448.9" cy="580.7" r="2.1" fill="#e4eef4" />
<circle cx="448.9" cy="584.7" r="2.1" fill="#e4eef4" />
<circle cx="452.4" cy="562.7" r="2.1" fill="#4393c3" />
<circle cx="452.4" cy="566.7" r="2.1" fill="#e4eef4" />
<circle cx="452.4" cy="570.7" r="2.1" fill="#92c5de" />
<circle cx="452.4" cy="574.7" r="2.1" fill="#92c5de" />
<circle cx="452.4" cy="578.7" r="2.1" fill="#f4a582" />
<circle cx="452.4" cy="582.7" r="2.1" fill="#ee9777" />
<circle cx="455.9" cy="568.7" r="2.1" fill="#134b86" />
<circle cx="455.9" cy="572.7" r="2.1" fill="#f4a582" />
<circle cx="455.9" cy="576.7" r="2.1" fill="#92c5de" />
<circle cx="455.9" cy="580.7" r="2.1" fill="#92c5de" />
<circle cx="455.9" cy="584.7" r="2.1" fill="#b2182b" />
<circle cx="459.4" cy="566.7" r="2.1" fill="#134b86" />
<circle cx="459.4" cy="570.7" r="2.1" fill="#fbd0b9" />
<circle cx="459.4" cy="574.7" r="2.1" fill="#92c5de" />
<circle cx="459.4" cy="578.7" r="2.1" fill="#f6b090" />
<circle cx="459.4" cy="582.7" r="2.1" fill="#b2182b" />
<circle cx="459.4" cy="586.7" r="2.1" fill="#b2182b" />
<circle cx="459.4" cy="590.7" r="2.1" fill="#b2182b" />
<circle cx="462.9" cy="568.7" r="2.1" fill="#e4eef4" />
<circle cx="462.9" cy="572.7" r="2.1" fill="#f6b090" />
<circle cx="462.9" cy="576.7" r="2.1" fill="#0d4078" />
<circle cx="466.4" cy="574.7" r="2.1" fill="#0d4078" />
<circle cx="490.8" cy="392.7" r="2.1" fill="#890b24" />
<circle cx="490.8" cy="396.7" r="2.1" fill="#770521" />
<circle cx="490.8" cy="400.7" r="2.1" fill="#b72230" />
<circle cx="494.3" cy="386.6" r="2.1" fill="#b92531" />
<circle cx="494.3" cy="390.6" r="2.1" fill="#960f27" />
<circle cx="494.3" cy="394.7" r="2.1" fill="#6e0220" />
<circle cx="494.3" cy="398.7" r="2.1" fill="#950f26" />
<circle cx="494.3" cy="402.7" r="2.1" fill="#bd2e35" />
<circle cx="497.8" cy="380.6" r="2.1" fill="#c4dfec" />
<circle cx="497.8" cy="388.6" r="2.1" fill="#b7212f" />
<circle cx="497.8" cy="392.7" r="2.1" fill="#a41329" />
<circle cx="497.8" cy="396.7" r="2.1" fill="#830923" />
<circle cx="497.8" cy="400.7" r="2.1" fill="#a21328" />
<circle cx="497.8" cy="404.7" r="2.1" fill="#ae172a" />
<circle cx="497.8" cy="408.7" r="2.1" fill="#aa152a" />
<circle cx="497.8" cy="412.8" r="2.1" fill="#9c1128" />
<circle cx="497.8" cy="416.8" r="2.1" fill="#b6202f" />
<circle cx="501.3" cy="386.6" r="2.1" fill="#a21328" />
<circle cx="501.3" cy="390.6" r="2.1" fill="#991027" />
<circle cx="501.3" cy="394.7" r="2.1" fill="#6e0220" />
<circle cx="501.3" cy="398.7" r="2.1" fill="#a41329" />
<circle cx="501.3" cy="402.7" r="2.1" fill="#820923" />
<circle cx="501.3" cy="406.7" r="2.1" fill="#bb2933" />
<circle cx="501.3" cy="410.7" r="2.1" fill="#860a24" />
<circle cx="501.3" cy="414.8" r="2.1" fill="#9d1128" />
<circle cx="501.3" cy="418.8" r="2.1" fill="#b31a2c" />
<circle cx="504.9" cy="384.6" r="2.1" fill="#bd2d35" />
<circle cx="504.9" cy="388.6" r="2.1" fill="#aa152a" />
<circle cx="504.9" cy="392.7" r="2.1" fill="#c1373a" />
<circle cx="504.9" cy="396.7" r="2.1" fill="#a51429" />
<circle cx="504.9" cy="400.7" r="2.1" fill="#950f26" />
<circle cx="504.9" cy="404.7" r="2.1" fill="#920e26" />
<circle cx="504.9" cy="408.7" r="2.1" fill="#920e26" />
<circle cx="504.9" cy="412.8" r="2.1" fill="#d05548" />
<circle cx="504.9" cy="416.8" r="2.1" fill="#b72230" />
<circle cx="504.9" cy="420.8" r="2.1" fill="#c7423f" />
<circle cx="508.4" cy="382.6" r="2.1" fill="#a81529" />
<circle cx="508.4" cy="386.6" r="2.1" fill="#bb2a34" />
<circle cx="508.4" cy="390.6" r="2.1" fill="#b92531" />
<circle cx="508.4" cy="394.7" r="2.1" fill="#b51e2e" />
<circle cx="508.4" cy="398.7" r="2.1" fill="#c63f3e" />
<circle cx="508.4" cy="402.7" r="2.1" fill="#bb2933" />
<circle cx="508.4" cy="406.7" r="2.1" fill="#c8433f" />
<circle cx="508.4" cy="410.7" r="2.1" fill="#820923" />
<circle cx="508.4" cy="414.8" r="2.1" fill="#c33b3c" />
<circle cx="508.4" cy="418.8" r="2.1" fill="#bc2c34" />
<circle cx="508.4" cy="422.8" r="2.1" fill="#d86450" />
<circle cx="511.9" cy="384.6" r="2.1" fill="#d45b4b" />
<circle cx="511.9" cy="388.6" r="2.1" fill="#ca4741" />
<circle cx="511.9" cy="392.7" r="2.1" fill="#ad162a" />
<circle cx="511.9" cy="396.7" r="2.1" fill="#ae172a" />
<circle cx="511.9" cy="400.7" r="2.1" fill="#b82330" />
<circle cx="511.9" cy="404.7" r="2.1" fill="#c6413e" />
<circle cx="511.9" cy="408.7" r="2.1" fill="#8a0b25" />
<circle cx="511.9" cy="412.8" r="2.1" fill="#cd4d44" />
<circle cx="511.9" cy="416.8" r="2.1" fill="#ca4841" />
<circle cx="511.9" cy="420.8" r="2.1" fill="#b41d2d" />
<circle cx="515.4" cy="382.6" r="2.1" fill="#f09c7b" />
<circle cx="515.4" cy="386.6" r="2.1" fill="#de715a" />
<circle cx="515.4" cy="390.6" r="2.1" fill="#d3594a" />
<circle cx="515.4" cy="394.7" r="2.1" fill="#bd2f36" />
<circle cx="515.4" cy="398.7" r="2.1" fill="#b61f2f" />
<circle cx="515.4" cy="402.7" r="2.1" fill="#bc2b34" />
<circle cx="515.4" cy="406.7" r="2.1" fill="#c7423f" />
<circle cx="515.4" cy="410.7" r="2.1" fill="#eb8f71" />
<circle cx="515.4" cy="414.8" r="2.1" fill="#d05347" />
<circle cx="515.4" cy="418.8" r="2.1" fill="#bc2d35" />
<circle cx="515.4" cy="422.8" r="2.1" fill="#d6614e" />
<circle cx="518.9" cy="380.6" r="2.1" fill="#e4eef4" />
<circle cx="518.9" cy="384.6" r="2.1" fill="#ea8d70" />
<circle cx="518.9" cy="388.6" r="2.1" fill="#de735c" />
<circle cx="518.9" cy="392.7" r="2.1" fill="#cc4c44" />
<circle cx="518.9" cy="396.7" r="2.1" fill="#d25849" />
<circle cx="518.9" cy="400.7" r="2.1" fill="#c53d3d" />
<circle cx="518.9" cy="404.7" r="2.1" fill="#134b86" />
<circle cx="518.9" cy="408.7" r="2.1" fill="#b92531" />
<circle cx="518.9" cy="412.8" r="2.1" fill="#b41c2d" />
<circle cx="518.9" cy="416.8" r="2.1" fill="#d25949" />
<circle cx="518.9" cy="420.8" r="2.1" fill="#8a0b25" />
<circle cx="522.4" cy="386.6" r="2.1" fill="#b2d5e7" />
<circle cx="522.4" cy="390.6" r="2.1" fill="#ee9677" />
<circle cx="522.4" cy="394.7" r="2.1" fill="#d05548" />
<circle cx="522.4" cy="398.7" r="2.1" fill="#e48167" />
<circle cx="522.4" cy="402.7" r="2.1" fill="#b61f2f" />
<circle cx="522.4" cy="406.7" r="2.1" fill="#900d26" />
<circle cx="522.4" cy="410.7" r="2.1" fill="#b0172b" />
<circle cx="522.4" cy="414.8" r="2.1" fill="#ba2833" />
<circle cx="522.4" cy="418.8" r="2.1" fill="#cc4d44" />
<circle cx="522.4" cy="422.8" r="2.1" fill="#c7413f" />
<circle cx="526" cy="392.7" r="2.1" fill="#b2d5e7" />
<circle cx="526" cy="396.7" r="2.1" fill="#f5aa88" />
<circle cx="526" cy="400.7" r="2.1" fill="#c03438" />
<circle cx="526" cy="404.7" r="2.1" fill="#d55e4c" />
<circle cx="526" cy="408.7" r="2.1" fill="#e37e64" />
<circle cx="526" cy="412.8" r="2.1" fill="#910d26" />
<circle cx="526" cy="416.8" r="2.1" fill="#9d1128" />
<circle cx="529.5" cy="398.7" r="2.1" fill="#e4eef4" />
<circle cx="529.5" cy="402.7" r="2.1" fill="#e7876b" />
<circle cx="529.5" cy="406.7" r="2.1" fill="#d55e4c" />
<circle cx="533" cy="404.7" r="2.1" fill="#c4dfec" />
<circle cx="533" cy="408.7" r="2.1" fill="#ee9677" />
<circle cx="536.5" cy="410.7" r="2.1" fill="#e4eef4" />
<circle cx="536.5" cy="414.8" r="2.1" fill="#f6b090" />
<circle cx="540" cy="412.8" r="2.1" fill="#92c5de" />
<circle cx="492.1" cy="460.8" r="2.1" fill="#8c0c25" />
<circle cx="492.1" cy="464.8" r="2.1" fill="#a01228" />
<circle cx="492.1" cy="468.8" r="2.1" fill="#6e0220" />
<circle cx="495.6" cy="454.7" r="2.1" fill="#8b0c25" />
<circle cx="495.6" cy="458.8" r="2.1" fill="#950f26" />
<circle cx="495.6" cy="462.8" r="2.1" fill="#8e0c25" />
<circle cx="495.6" cy="466.8" r="2.1" fill="#ac162a" />
<circle cx="495.6" cy="470.8" r="2.1" fill="#b2182b" />
<circle cx="499.1" cy="448.7" r="2.1" fill="#e4eef4" />
<circle cx="499.1" cy="456.7" r="2.1" fill="#8b0b25" />
<circle cx="499.1" cy="460.8" r="2.1" fill="#a9152a" />
<circle cx="499.1" cy="464.8" r="2.1" fill="#820923" />
<circle cx="499.1" cy="468.8" r="2.1" fill="#a21328" />
<circle cx="499.1" cy="472.8" r="2.1" fill="#c2383a" />
<circle cx="499.1" cy="476.8" r="2.1" fill="#bb2a34" />
<circle cx="499.1" cy="480.9" r="2.1" fill="#b41c2d" />
<circle cx="499.1" cy="484.9" r="2.1" fill="#c53e3d" />
<circle cx="502.6" cy="454.7" r="2.1" fill="#9e1228" />
<circle cx="502.6" cy="458.8" r="2.1" fill="#a51429" />
<circle cx="502.6" cy="462.8" r="2.1" fill="#7e0723" />
<circle cx="502.6" cy="466.8" r="2.1" fill="#b41c2d" />
<circle cx="502.6" cy="470.8" r="2.1" fill="#a31329" />
<circle cx="502.6" cy="474.8" r="2.1" fill="#890b25" />
<circle cx="502.6" cy="478.8" r="2.1" fill="#840924" />
<circle cx="502.6" cy="482.9" r="2.1" fill="#b7212f" />
<circle cx="502.6" cy="486.9" r="2.1" fill="#6e0220" />
<circle cx="506.2" cy="452.7" r="2.1" fill="#c3393b" />
<circle cx="506.2" cy="456.7" r="2.1" fill="#9b1127" />
<circle cx="506.2" cy="460.8" r="2.1" fill="#be2f36" />
<circle cx="506.2" cy="464.8" r="2.1" fill="#c03338" />
<circle cx="506.2" cy="468.8" r="2.1" fill="#cc4c44" />
<circle cx="506.2" cy="472.8" r="2.1" fill="#bb2a34" />
<circle cx="506.2" cy="476.8" r="2.1" fill="#760521" />
<circle cx="506.2" cy="480.9" r="2.1" fill="#c33a3b" />
<circle cx="506.2" cy="484.9" r="2.1" fill="#910d26" />
<circle cx="506.2" cy="488.9" r="2.1" fill="#970f27" />
<circle cx="509.7" cy="450.7" r="2.1" fill="#bf3237" />
<circle cx="509.7" cy="454.7" r="2.1" fill="#9e1228" />
<circle cx="509.7" cy="458.8" r="2.1" fill="#950f26" />
<circle cx="509.7" cy="462.8" r="2.1" fill="#be3036" />
<circle cx="509.7" cy="466.8" r="2.1" fill="#c13639" />
<circle cx="509.7" cy="470.8" r="2.1" fill="#9e1228" />
<circle cx="509.7" cy="474.8" r="2.1" fill="#b41c2d" />
<circle cx="509.7" cy="478.8" r="2.1" fill="#7e0723" />
<circle cx="509.7" cy="482.9" r="2.1" fill="#b3192c" />
<circle cx="509.7" cy="486.9" r="2.1" fill="#cb4942" />
<circle cx="509.7" cy="490.9" r="2.1" fill="#ba2832" />
<circle cx="513.2" cy="452.7" r="2.1" fill="#cb4a43" />
<circle cx="513.2" cy="456.7" r="2.1" fill="#a9152a" />
<circle cx="513.2" cy="460.8" r="2.1" fill="#ab162a" />
<circle cx="513.2" cy="464.8" r="2.1" fill="#bf3338" />
<circle cx="513.2" cy="468.8" r="2.1" fill="#c7413e" />
<circle cx="513.2" cy="472.8" r="2.1" fill="#a51429" />
<circle cx="513.2" cy="476.8" r="2.1" fill="#bf3237" />
<circle cx="513.2" cy="480.9" r="2.1" fill="#9a1027" />
<circle cx="513.2" cy="484.9" r="2.1" fill="#c84440" />
<circle cx="513.2" cy="488.9" r="2.1" fill="#bd2f36" />
<circle cx="516.7" cy="450.7" r="2.1" fill="#e8886c" />
<circle cx="516.7" cy="454.7" r="2.1" fill="#ef9a7a" />
<circle cx="516.7" cy="458.8" r="2.1" fill="#a81529" />
<circle cx="516.7" cy="462.8" r="2.1" fill="#8c0c25" />
<circle cx="516.7" cy="466.8" r="2.1" fill="#c3393b" />
<circle cx="516.7" cy="470.8" r="2.1" fill="#a81529" />
<circle cx="516.7" cy="474.8" r="2.1" fill="#d45d4b" />
<circle cx="516.7" cy="478.8" r="2.1" fill="#991027" />
<circle cx="516.7" cy="482.9" r="2.1" fill="#9f1228" />
<circle cx="516.7" cy="486.9" r="2.1" fill="#be3137" />
<circle cx="516.7" cy="490.9" r="2.1" fill="#be3137" />
<circle cx="520.2" cy="448.7" r="2.1" fill="#b2d5e7" />
<circle cx="520.2" cy="452.7" r="2.1" fill="#db6c56" />
<circle cx="520.2" cy="456.7" r="2.1" fill="#d86450" />
<circle cx="520.2" cy="460.8" r="2.1" fill="#e58267" />
<circle cx="520.2" cy="464.8" r="2.1" fill="#c6403e" />
<circle cx="520.2" cy="468.8" r="2.1" fill="#bd2e35" />
<circle cx="520.2" cy="472.8" r="2.1" fill="#c03338" />
<circle cx="520.2" cy="476.8" r="2.1" fill="#a81529" />
<circle cx="520.2" cy="480.9" r="2.1" fill="#b82430" />
<circle cx="520.2" cy="484.9" r="2.1" fill="#b61f2e" />
<circle cx="520.2" cy="488.9" r="2.1" fill="#d25849" />
<circle cx="523.7" cy="454.7" r="2.1" fill="#b2d5e7" />
<circle cx="523.7" cy="458.8" r="2.1" fill="#e58267" />
<circle cx="523.7" cy="462.8" r="2.1" fill="#e58368" />
<circle cx="523.7" cy="466.8" r="2.1" fill="#e7876b" />
<circle cx="523.7" cy="470.8" r="2.1" fill="#bb2a33" />
<circle cx="523.7" cy="474.8" r="2.1" fill="#be2f36" />
<circle cx="523.7" cy="478.8" r="2.1" fill="#d05447" />
<circle cx="523.7" cy="482.9" r="2.1" fill="#a31329" />
<circle cx="523.7" cy="486.9" r="2.1" fill="#a41329" />
<circle cx="523.7" cy="490.9" r="2.1" fill="#c13639" />
<circle cx="527.2" cy="460.8" r="2.1" fill="#286fb1" />
<circle cx="527.2" cy="464.8" r="2.1" fill="#d55d4c" />
<circle cx="527.2" cy="468.8" r="2.1" fill="#ed9676" />
<circle cx="527.2" cy="472.8" r="2.1" fill="#cc4c44" />
<circle cx="527.2" cy="476.8" r="2.1" fill="#bc2c35" />
<circle cx="527.2" cy="480.9" r="2.1" fill="#900d25" />
<circle cx="527.2" cy="484.9" r="2.1" fill="#bb2933" />
<circle cx="530.8" cy="466.8" r="2.1" fill="#f7f7f7" />
<circle cx="530.8" cy="470.8" r="2.1" fill="#f5aa89" />
<circle cx="530.8" cy="474.8" r="2.1" fill="#db6b56" />
<circle cx="534.3" cy="472.8" r="2.1" fill="#f4a582" />
<circle cx="534.3" cy="476.8" r="2.1" fill="#e8896c" />
<circle cx="537.8" cy="478.8" r="2.1" fill="#b2d5e7" />
<circle cx="537.8" cy="482.9" r="2.1" fill="#f8c0a4" />
<circle cx="541.3" cy="480.9" r="2.1" fill="#b2d5e7" />
<circle cx="485.9" cy="528.4" r="2.1" fill="#fbd0b9" />
<circle cx="485.9" cy="532.4" r="2.1" fill="#f4a582" />
<circle cx="485.9" cy="536.4" r="2.1" fill="#f8bb9e" />
<circle cx="489.4" cy="522.3" r="2.1" fill="#fbd0b9" />
<circle cx="489.4" cy="526.4" r="2.1" fill="#e27c62" />
<circle cx="489.4" cy="530.4" r="2.1" fill="#ee9777" />
<circle cx="489.4" cy="534.4" r="2.1" fill="#fce1d1" />
<circle cx="489.4" cy="538.4" r="2.1" fill="#f6b090" />
<circle cx="492.9" cy="516.3" r="2.1" fill="#e8896d" />
<circle cx="492.9" cy="524.3" r="2.1" fill="#b2182b" />
<circle cx="492.9" cy="528.4" r="2.1" fill="#c43c3c" />
<circle cx="492.9" cy="532.4" r="2.1" fill="#f4a582" />
<circle cx="492.9" cy="536.4" r="2.1" fill="#f8bb9e" />
<circle cx="492.9" cy="540.4" r="2.1" fill="#8c0c25" />
<circle cx="492.9" cy="544.4" r="2.1" fill="#f4a582" />
<circle cx="492.9" cy="548.5" r="2.1" fill="#f8bb9e" />
<circle cx="492.9" cy="552.5" r="2.1" fill="#ee9777" />
<circle cx="496.4" cy="522.3" r="2.1" fill="#f4a582" />
<circle cx="496.4" cy="526.4" r="2.1" fill="#f8bb9e" />
<circle cx="496.4" cy="530.4" r="2.1" fill="#e27c62" />
<circle cx="496.4" cy="534.4" r="2.1" fill="#f8bb9e" />
<circle cx="496.4" cy="538.4" r="2.1" fill="#fce1d1" />
<circle cx="496.4" cy="542.4" r="2.1" fill="#e27c62" />
<circle cx="496.4" cy="546.4" r="2.1" fill="#f6b090" />
<circle cx="496.4" cy="550.5" r="2.1" fill="#f6b090" />
<circle cx="496.4" cy="554.5" r="2.1" fill="#b2182b" />
<circle cx="500" cy="520.3" r="2.1" fill="#f6b090" />
<circle cx="500" cy="524.3" r="2.1" fill="#f6b090" />
<circle cx="500" cy="528.4" r="2.1" fill="#f4a582" />
<circle cx="500" cy="532.4" r="2.1" fill="#b2182b" />
<circle cx="500" cy="536.4" r="2.1" fill="#f6b090" />
<circle cx="500" cy="540.4" r="2.1" fill="#f6b090" />
<circle cx="500" cy="544.4" r="2.1" fill="#fbd0b9" />
<circle cx="500" cy="548.5" r="2.1" fill="#92c5de" />
<circle cx="500" cy="552.5" r="2.1" fill="#f4a582" />
<circle cx="500" cy="556.5" r="2.1" fill="#f8bb9e" />
<circle cx="503.5" cy="518.3" r="2.1" fill="#f4a582" />
<circle cx="503.5" cy="522.3" r="2.1" fill="#f8bb9e" />
<circle cx="503.5" cy="526.4" r="2.1" fill="#f4a582" />
<circle cx="503.5" cy="530.4" r="2.1" fill="#f4a582" />
<circle cx="503.5" cy="534.4" r="2.1" fill="#f4a582" />
<circle cx="503.5" cy="538.4" r="2.1" fill="#f4a582" />
<circle cx="503.5" cy="542.4" r="2.1" fill="#f7f7f7" />
<circle cx="503.5" cy="546.4" r="2.1" fill="#92c5de" />
<circle cx="503.5" cy="550.5" r="2.1" fill="#fce1d1" />
<circle cx="503.5" cy="554.5" r="2.1" fill="#b2182b" />
<circle cx="503.5" cy="558.5" r="2.1" fill="#ee9777" />
<circle cx="507" cy="520.3" r="2.1" fill="#f4a582" />
<circle cx="507" cy="524.3" r="2.1" fill="#ee9777" />
<circle cx="507" cy="528.4" r="2.1" fill="#e27c62" />
<circle cx="507" cy="532.4" r="2.1" fill="#f6b090" />
<circle cx="507" cy="536.4" r="2.1" fill="#c43c3c" />
<circle cx="507" cy="540.4" r="2.1" fill="#c43c3c" />
<circle cx="507" cy="544.4" r="2.1" fill="#92c5de" />
<circle cx="507" cy="548.5" r="2.1" fill="#ee9777" />
<circle cx="507" cy="552.5" r="2.1" fill="#f6b090" />
<circle cx="507" cy="556.5" r="2.1" fill="#fbd0b9" />
<circle cx="510.5" cy="518.3" r="2.1" fill="#f7f7f7" />
<circle cx="510.5" cy="522.3" r="2.1" fill="#fbd0b9" />
<circle cx="510.5" cy="526.4" r="2.1" fill="#f4a582" />
<circle cx="510.5" cy="530.4" r="2.1" fill="#f7f7f7" />
<circle cx="510.5" cy="534.4" r="2.1" fill="#b2182b" />
<circle cx="510.5" cy="538.4" r="2.1" fill="#c43c3c" />
<circle cx="510.5" cy="542.4" r="2.1" fill="#e8896d" />
<circle cx="510.5" cy="546.4" r="2.1" fill="#ee9777" />
<circle cx="510.5" cy="550.5" r="2.1" fill="#ee9777" />
<circle cx="510.5" cy="554.5" r="2.1" fill="#f8bb9e" />
<circle cx="510.5" cy="558.5" r="2.1" fill="#8c0c25" />
<circle cx="514" cy="516.3" r="2.1" fill="#92c5de" />
<circle cx="514" cy="520.3" r="2.1" fill="#f7f7f7" />
<circle cx="514" cy="524.3" r="2.1" fill="#e8896d" />
<circle cx="514" cy="528.4" r="2.1" fill="#ee9777" />
<circle cx="514" cy="532.4" r="2.1" fill="#ee9777" />
<circle cx="514" cy="536.4" r="2.1" fill="#f4a582" />
<circle cx="514" cy="540.4" r="2.1" fill="#f4a582" />
<circle cx="514" cy="544.4" r="2.1" fill="#f6b090" />
<circle cx="514" cy="548.5" r="2.1" fill="#f6b090" />
<circle cx="514" cy="552.5" r="2.1" fill="#e27c62" />
<circle cx="514" cy="556.5" r="2.1" fill="#ee9777" />
<circle cx="517.5" cy="522.3" r="2.1" fill="#f8bb9e" />
<circle cx="517.5" cy="526.4" r="2.1" fill="#f4a582" />
<circle cx="517.5" cy="530.4" r="2.1" fill="#8c0c25" />
<circle cx="517.5" cy="534.4" r="2.1" fill="#f8bb9e" />
<circle cx="517.5" cy="538.4" r="2.1" fill="#8c0c25" />
<circle cx="517.5" cy="542.4" r="2.1" fill="#f6b090" />
<circle cx="517.5" cy="546.4" r="2.1" fill="#f7f7f7" />
<circle cx="517.5" cy="550.5" r="2.1" fill="#f4a582" />
<circle cx="517.5" cy="554.5" r="2.1" fill="#f4a582" />
<circle cx="517.5" cy="558.5" r="2.1" fill="#f6b090" />
<circle cx="521" cy="528.4" r="2.1" fill="#f8bb9e" />
<circle cx="521" cy="532.4" r="2.1" fill="#ee9777" />
<circle cx="521" cy="536.4" r="2.1" fill="#f8bb9e" />
<circle cx="521" cy="540.4" r="2.1" fill="#b2182b" />
<circle cx="521" cy="544.4" r="2.1" fill="#f6b090" />
<circle cx="521" cy="548.5" r="2.1" fill="#f4a582" />
<circle cx="521" cy="552.5" r="2.1" fill="#c43c3c" />
<circle cx="524.6" cy="534.4" r="2.1" fill="#b2182b" />
<circle cx="524.6" cy="538.4" r="2.1" fill="#f8bb9e" />
<circle cx="524.6" cy="542.4" r="2.1" fill="#f4a582" />
<circle cx="528.1" cy="540.4" r="2.1" fill="#b2182b" />
<circle cx="528.1" cy="544.4" r="2.1" fill="#b2182b" />
<circle cx="531.6" cy="546.4" r="2.1" fill="#f4a582" />
<circle cx="531.6" cy="550.5" r="2.1" fill="#f4a582" />
<circle cx="535.1" cy="548.5" r="2.1" fill="#f4a582" />
<circle cx="485.9" cy="590.1" r="2.1" fill="#92c5de" />
<circle cx="485.9" cy="594.1" r="2.1" fill="#fce1d1" />
<circle cx="485.9" cy="598.1" r="2.1" fill="#f4a582" />
<circle cx="489.4" cy="584" r="2.1" fill="#134b86" />
<circle cx="489.4" cy="588" r="2.1" fill="#b2182b" />
<circle cx="489.4" cy="592.1" r="2.1" fill="#e58268" />
<circle cx="489.4" cy="596.1" r="2.1" fill="#b2182b" />
<circle cx="489.4" cy="600.1" r="2.1" fill="#134b86" />
<circle cx="492.9" cy="578" r="2.1" fill="#fddbc7" />
<circle cx="492.9" cy="586" r="2.1" fill="#f7f7f7" />
<circle cx="492.9" cy="590.1" r="2.1" fill="#f4a582" />
<circle cx="492.9" cy="594.1" r="2.1" fill="#f9c5ab" />
<circle cx="492.9" cy="598.1" r="2.1" fill="#f4a582" />
<circle cx="492.9" cy="602.1" r="2.1" fill="#e58268" />
<circle cx="492.9" cy="606.1" r="2.1" fill="#f4a582" />
<circle cx="492.9" cy="610.2" r="2.1" fill="#f9c5ab" />
<circle cx="492.9" cy="614.2" r="2.1" fill="#b2182b" />
<circle cx="496.4" cy="584" r="2.1" fill="#0b3b70" />
<circle cx="496.4" cy="588" r="2.1" fill="#f6b090" />
<circle cx="496.4" cy="592.1" r="2.1" fill="#f6b090" />
<circle cx="496.4" cy="596.1" r="2.1" fill="#fce1d1" />
<circle cx="496.4" cy="600.1" r="2.1" fill="#f9c5ab" />
<circle cx="496.4" cy="604.1" r="2.1" fill="#f7f7f7" />
<circle cx="496.4" cy="608.1" r="2.1" fill="#f4a582" />
<circle cx="496.4" cy="612.2" r="2.1" fill="#fbd0b9" />
<circle cx="496.4" cy="616.2" r="2.1" fill="#f4a582" />
<circle cx="500" cy="582" r="2.1" fill="#134b86" />
<circle cx="500" cy="586" r="2.1" fill="#f6b090" />
<circle cx="500" cy="590.1" r="2.1" fill="#f9c5ab" />
<circle cx="500" cy="594.1" r="2.1" fill="#fce1d1" />
<circle cx="500" cy="598.1" r="2.1" fill="#f6b090" />
<circle cx="500" cy="602.1" r="2.1" fill="#f7f7f7" />
<circle cx="500" cy="606.1" r="2.1" fill="#fae9df" />
<circle cx="500" cy="610.2" r="2.1" fill="#f6b090" />
<circle cx="500" cy="614.2" r="2.1" fill="#f4a582" />
<circle cx="500" cy="618.2" r="2.1" fill="#b2182b" />
<circle cx="503.5" cy="580" r="2.1" fill="#f4a582" />
<circle cx="503.5" cy="584" r="2.1" fill="#e58268" />
<circle cx="503.5" cy="588" r="2.1" fill="#f7f7f7" />
<circle cx="503.5" cy="592.1" r="2.1" fill="#92c5de" />
<circle cx="503.5" cy="596.1" r="2.1" fill="#fae9df" />
<circle cx="503.5" cy="600.1" r="2.1" fill="#f4a582" />
<circle cx="503.5" cy="604.1" r="2.1" fill="#ee9777" />
<circle cx="503.5" cy="608.1" r="2.1" fill="#f7f7f7" />
<circle cx="503.5" cy="612.2" r="2.1" fill="#92c5de" />
<circle cx="503.5" cy="616.2" r="2.1" fill="#f7f7f7" />
<circle cx="503.5" cy="620.2" r="2.1" fill="#0b3b70" />
<circle cx="507" cy="582" r="2.1" fill="#134b86" />
<circle cx="507" cy="586" r="2.1" fill="#92c5de" />
<circle cx="507" cy="590.1" r="2.1" fill="#92c5de" />
<circle cx="507" cy="594.1" r="2.1" fill="#f9c5ab" />
<circle cx="507" cy="598.1" r="2.1" fill="#f4a582" />
<circle cx="507" cy="602.1" r="2.1" fill="#fae9df" />
<circle cx="507" cy="606.1" r="2.1" fill="#f4a582" />
<circle cx="507" cy="610.2" r="2.1" fill="#b2182b" />
<circle cx="507" cy="614.2" r="2.1" fill="#f7f7f7" />
<circle cx="507" cy="618.2" r="2.1" fill="#f4a582" />
<circle cx="510.5" cy="580" r="2.1" fill="#0b3b70" />
<circle cx="510.5" cy="584" r="2.1" fill="#2166ac" />
<circle cx="510.5" cy="588" r="2.1" fill="#0b3b70" />
<circle cx="510.5" cy="592.1" r="2.1" fill="#fce1d1" />
<circle cx="510.5" cy="596.1" r="2.1" fill="#f6b090" />
<circle cx="510.5" cy="600.1" r="2.1" fill="#fce1d1" />
<circle cx="510.5" cy="604.1" r="2.1" fill="#fae9df" />
<circle cx="510.5" cy="608.1" r="2.1" fill="#fae9df" />
<circle cx="510.5" cy="612.2" r="2.1" fill="#ee9777" />
<circle cx="510.5" cy="616.2" r="2.1" fill="#f9c5ab" />
<circle cx="510.5" cy="620.2" r="2.1" fill="#b2182b" />
<circle cx="514" cy="578" r="2.1" fill="#2166ac" />
<circle cx="514" cy="582" r="2.1" fill="#0b3b70" />
<circle cx="514" cy="586" r="2.1" fill="#d1e5f0" />
<circle cx="514" cy="590.1" r="2.1" fill="#134b86" />
<circle cx="514" cy="594.1" r="2.1" fill="#f4a582" />
<circle cx="514" cy="598.1" r="2.1" fill="#e58268" />
<circle cx="514" cy="602.1" r="2.1" fill="#f7f7f7" />
<circle cx="514" cy="606.1" r="2.1" fill="#e58268" />
<circle cx="514" cy="610.2" r="2.1" fill="#92c5de" />
<circle cx="514" cy="614.2" r="2.1" fill="#f6b090" />
<circle cx="514" cy="618.2" r="2.1" fill="#134b86" />
<circle cx="517.5" cy="584" r="2.1" fill="#fddbc7" />
<circle cx="517.5" cy="588" r="2.1" fill="#d1e5f0" />
<circle cx="517.5" cy="592.1" r="2.1" fill="#0b3b70" />
<circle cx="517.5" cy="596.1" r="2.1" fill="#2166ac" />
<circle cx="517.5" cy="600.1" r="2.1" fill="#f6b090" />
<circle cx="517.5" cy="604.1" r="2.1" fill="#ee9777" />
<circle cx="517.5" cy="608.1" r="2.1" fill="#fae9df" />
<circle cx="517.5" cy="612.2" r="2.1" fill="#ee9777" />
<circle cx="517.5" cy="616.2" r="2.1" fill="#f4a582" />
<circle cx="517.5" cy="620.2" r="2.1" fill="#134b86" />
<circle cx="521" cy="590.1" r="2.1" fill="#d1e5f0" />
<circle cx="521" cy="594.1" r="2.1" fill="#0b3b70" />
<circle cx="521" cy="598.1" r="2.1" fill="#2166ac" />
<circle cx="521" cy="602.1" r="2.1" fill="#f4a582" />
<circle cx="521" cy="606.1" r="2.1" fill="#f7f7f7" />
<circle cx="521" cy="610.2" r="2.1" fill="#e58268" />
<circle cx="521" cy="614.2" r="2.1" fill="#b2182b" />
<circle cx="524.6" cy="596.1" r="2.1" fill="#92c5de" />
<circle cx="524.6" cy="600.1" r="2.1" fill="#fddbc7" />
<circle cx="524.6" cy="604.1" r="2.1" fill="#d1e5f0" />
<circle cx="528.1" cy="602.1" r="2.1" fill="#fddbc7" />
<circle cx="528.1" cy="606.1" r="2.1" fill="#2166ac" />
<circle cx="531.6" cy="608.1" r="2.1" fill="#134b86" />
<circle cx="531.6" cy="612.2" r="2.1" fill="#2166ac" />
<circle cx="535.1" cy="610.2" r="2.1" fill="#0b3b70" />
<circle cx="572.8" cy="399" r="1.2" fill="#92c5de" />
<circle cx="575.1" cy="399" r="1.2" fill="#f7f7f7" />
<circle cx="571.6" cy="401" r="1.2" fill="#b2d5e7" />
<circle cx="574" cy="401" r="1.2" fill="#e4eef4" />
<circle cx="576.2" cy="401" r="1.2" fill="#4393c3" />
<circle cx="578.5" cy="401" r="1.2" fill="#b2d5e7" />
<circle cx="572.8" cy="403" r="1.2" fill="#92c5de" />
<circle cx="575.1" cy="403" r="1.2" fill="#d9e9f1" />
<circle cx="577.4" cy="403" r="1.2" fill="#f7f7f7" />
<circle cx="574" cy="405" r="1.2" fill="#e4eef4" />
<circle cx="576.2" cy="405" r="1.2" fill="#c4dfec" />
<circle cx="573.8" cy="473.5" r="1.2" fill="#d1e5f0" />
<circle cx="576.1" cy="473.5" r="1.2" fill="#2166ac" />
<circle cx="572.6" cy="475.5" r="1.2" fill="#0b3b70" />
<circle cx="575" cy="475.5" r="1.2" fill="#b2d5e7" />
<circle cx="577.2" cy="475.5" r="1.2" fill="#134b86" />
<circle cx="579.5" cy="475.5" r="1.2" fill="#0b3b70" />
<circle cx="573.8" cy="477.5" r="1.2" fill="#d1e5f0" />
<circle cx="576.1" cy="477.5" r="1.2" fill="#92c5de" />
<circle cx="578.4" cy="477.5" r="1.2" fill="#e4eef4" />
<circle cx="575" cy="479.5" r="1.2" fill="#f7f7f7" />
<circle cx="577.2" cy="479.5" r="1.2" fill="#e4eef4" />
<circle cx="575.8" cy="542.5" r="1.2" fill="#f4a582" />
<circle cx="578.1" cy="542.5" r="1.2" fill="#f8c0a4" />
<circle cx="574.6" cy="544.5" r="1.2" fill="#d1e5f0" />
<circle cx="577" cy="544.5" r="1.2" fill="#e58268" />
<circle cx="579.2" cy="544.5" r="1.2" fill="#fddbc7" />
<circle cx="581.5" cy="544.5" r="1.2" fill="#d6604d" />
<circle cx="575.8" cy="546.5" r="1.2" fill="#f4a582" />
<circle cx="578.1" cy="546.5" r="1.2" fill="#ee9777" />
<circle cx="580.4" cy="546.5" r="1.2" fill="#b2d5e7" />
<circle cx="577" cy="548.5" r="1.2" fill="#f6b090" />
<circle cx="579.2" cy="548.5" r="1.2" fill="#fae9df" />
<circle cx="575.8" cy="605.5" r="1.2" fill="#134b86" />
<circle cx="578.1" cy="605.5" r="1.2" fill="#f4a582" />
<circle cx="574.6" cy="607.5" r="1.2" fill="#2166ac" />
<circle cx="577" cy="607.5" r="1.2" fill="#e58268" />
<circle cx="579.2" cy="607.5" r="1.2" fill="#d6604d" />
<circle cx="581.5" cy="607.5" r="1.2" fill="#134b86" />
<circle cx="575.8" cy="609.5" r="1.2" fill="#ee9777" />
<circle cx="578.1" cy="609.5" r="1.2" fill="#b2182b" />
<circle cx="580.4" cy="609.5" r="1.2" fill="#0b3b70" />
<circle cx="577" cy="611.5" r="1.2" fill="#f8c0a4" />
<circle cx="579.2" cy="611.5" r="1.2" fill="#fddbc7" />
<circle cx="618" cy="377.5" r="1.2" fill="#92c5de" />
<circle cx="620.3" cy="378.7" r="1.2" fill="#0b3b70" />
<circle cx="622.6" cy="377.5" r="1.2" fill="#b2d5e7" />
<circle cx="619.1" cy="380.5" r="1.2" fill="#d1e5f0" />
<circle cx="621.5" cy="380.5" r="1.2" fill="#e4eef4" />
<circle cx="618" cy="382.5" r="1.2" fill="#b2d5e7" />
<circle cx="620.3" cy="381.7" r="1.2" fill="#92c5de" />
<circle cx="622.6" cy="382.5" r="1.2" fill="#d1e5f0" />
<circle cx="618.5" cy="451.5" r="1.2" fill="#b2d5e7" />
<circle cx="620.8" cy="452.7" r="1.2" fill="#4393c3" />
<circle cx="623.1" cy="451.5" r="1.2" fill="#d1e5f0" />
<circle cx="619.6" cy="454.5" r="1.2" fill="#92c5de" />
<circle cx="622" cy="454.5" r="1.2" fill="#b2d5e7" />
<circle cx="618.5" cy="456.5" r="1.2" fill="#d1e5f0" />
<circle cx="620.8" cy="455.7" r="1.2" fill="#92c5de" />
<circle cx="623.1" cy="456.5" r="1.2" fill="#e4eef4" />
<circle cx="621.5" cy="520.5" r="1.2" fill="#760521" />
<circle cx="623.8" cy="521.7" r="1.2" fill="#8c0c25" />
<circle cx="626.1" cy="520.5" r="1.2" fill="#760521" />
<circle cx="622.6" cy="523.5" r="1.2" fill="#a31329" />
<circle cx="625" cy="523.5" r="1.2" fill="#8c0c25" />
<circle cx="621.5" cy="525.5" r="1.2" fill="#760521" />
<circle cx="623.8" cy="524.7" r="1.2" fill="#67001f" />
<circle cx="626.1" cy="525.5" r="1.2" fill="#8c0c25" />
<circle cx="621.5" cy="583.5" r="1.2" fill="#0b3b70" />
<circle cx="623.8" cy="584.7" r="1.2" fill="#134b86" />
<circle cx="626.1" cy="583.5" r="1.2" fill="#0b3b70" />
<circle cx="622.6" cy="586.5" r="1.2" fill="#2166ac" />
<circle cx="625" cy="586.5" r="1.2" fill="#134b86" />
<circle cx="621.5" cy="588.5" r="1.2" fill="#f4a582" />
<circle cx="623.8" cy="587.7" r="1.2" fill="#f8c0a4" />
<circle cx="626.1" cy="588.5" r="1.2" fill="#f4a582" />
<circle cx="638.5" cy="384.7" r="1.5" fill="#fbd0ba" />
<circle cx="641.3" cy="384.7" r="1.5" fill="#fddac6" />
<circle cx="644" cy="384.7" r="1.5" fill="#fae8de" />
<circle cx="646.8" cy="384.7" r="1.5" fill="#fac7ad" />
<circle cx="649.5" cy="384.7" r="1.5" fill="#fcd4be" />
<circle cx="652.3" cy="384.7" r="1.5" fill="#fcd3bd" />
<circle cx="655" cy="384.7" r="1.5" fill="#e4eef4" />
<circle cx="631.6" cy="387.1" r="1.5" fill="#fbd1ba" />
<circle cx="634.4" cy="387.1" r="1.5" fill="#fcd3bc" />
<circle cx="637.1" cy="387.1" r="1.5" fill="#f7b496" />
<circle cx="639.9" cy="387.1" r="1.5" fill="#f6b394" />
<circle cx="642.6" cy="387.1" r="1.5" fill="#ec9475" />
<circle cx="645.4" cy="387.1" r="1.5" fill="#ee9677" />
<circle cx="648.1" cy="387.1" r="1.5" fill="#ef9979" />
<circle cx="650.9" cy="387.1" r="1.5" fill="#f6b090" />
<circle cx="653.6" cy="387.1" r="1.5" fill="#dd705a" />
<circle cx="656.4" cy="387.1" r="1.5" fill="#c84440" />
<circle cx="659.1" cy="387.1" r="1.5" fill="#d1e5f0" />
<circle cx="630.3" cy="389.5" r="1.5" fill="#e37e64" />
<circle cx="633" cy="389.5" r="1.5" fill="#f7b596" />
<circle cx="635.8" cy="389.5" r="1.5" fill="#f9c3a8" />
<circle cx="638.5" cy="389.5" r="1.5" fill="#f2a07e" />
<circle cx="641.3" cy="389.5" r="1.5" fill="#f6af8f" />
<circle cx="644" cy="389.5" r="1.5" fill="#e17a61" />
<circle cx="646.8" cy="389.5" r="1.5" fill="#df745d" />
<circle cx="649.5" cy="389.5" r="1.5" fill="#e7866a" />
<circle cx="652.3" cy="389.5" r="1.5" fill="#db6b55" />
<circle cx="655" cy="389.5" r="1.5" fill="#c33b3b" />
<circle cx="657.8" cy="389.5" r="1.5" fill="#f5ad8c" />
<circle cx="660.5" cy="389.5" r="1.5" fill="#db6b56" />
<circle cx="663.3" cy="389.5" r="1.5" fill="#e4eef4" />
<circle cx="631.6" cy="391.8" r="1.5" fill="#f9c1a6" />
<circle cx="634.4" cy="391.8" r="1.5" fill="#f19d7c" />
<circle cx="637.1" cy="391.8" r="1.5" fill="#dc6f58" />
<circle cx="639.9" cy="391.8" r="1.5" fill="#fcdecc" />
<circle cx="642.6" cy="391.8" r="1.5" fill="#d15648" />
<circle cx="645.4" cy="391.8" r="1.5" fill="#e0775f" />
<circle cx="648.1" cy="391.8" r="1.5" fill="#d05447" />
<circle cx="650.9" cy="391.8" r="1.5" fill="#eb9072" />
<circle cx="653.6" cy="391.8" r="1.5" fill="#d05347" />
<circle cx="656.4" cy="391.8" r="1.5" fill="#af172a" />
<circle cx="659.1" cy="391.8" r="1.5" fill="#cb4b43" />
<circle cx="661.9" cy="391.8" r="1.5" fill="#d05447" />
<circle cx="664.6" cy="391.8" r="1.5" fill="#c6403e" />
<circle cx="667.4" cy="391.8" r="1.5" fill="#c2383a" />
<circle cx="633" cy="394.2" r="1.5" fill="#e7886c" />
<circle cx="635.8" cy="394.2" r="1.5" fill="#ec9374" />
<circle cx="638.5" cy="394.2" r="1.5" fill="#f2a17f" />
<circle cx="641.3" cy="394.2" r="1.5" fill="#d96652" />
<circle cx="644" cy="394.2" r="1.5" fill="#f2a07e" />
<circle cx="646.8" cy="394.2" r="1.5" fill="#f3a27f" />
<circle cx="649.5" cy="394.2" r="1.5" fill="#9c1127" />
<circle cx="652.3" cy="394.2" r="1.5" fill="#dc6d57" />
<circle cx="655" cy="394.2" r="1.5" fill="#a41429" />
<circle cx="657.8" cy="394.2" r="1.5" fill="#c7413e" />
<circle cx="660.5" cy="394.2" r="1.5" fill="#c33a3b" />
<circle cx="663.3" cy="394.2" r="1.5" fill="#ab162a" />
<circle cx="666" cy="394.2" r="1.5" fill="#c43b3c" />
<circle cx="668.8" cy="394.2" r="1.5" fill="#bd2f36" />
<circle cx="634.4" cy="396.6" r="1.5" fill="#ef9979" />
<circle cx="637.1" cy="396.6" r="1.5" fill="#ed9475" />
<circle cx="639.9" cy="396.6" r="1.5" fill="#d6604d" />
<circle cx="642.6" cy="396.6" r="1.5" fill="#b82431" />
<circle cx="645.4" cy="396.6" r="1.5" fill="#ea8f71" />
<circle cx="648.1" cy="396.6" r="1.5" fill="#e17960" />
<circle cx="650.9" cy="396.6" r="1.5" fill="#bd2f36" />
<circle cx="653.6" cy="396.6" r="1.5" fill="#bc2c35" />
<circle cx="656.4" cy="396.6" r="1.5" fill="#a21328" />
<circle cx="659.1" cy="396.6" r="1.5" fill="#c94540" />
<circle cx="661.9" cy="396.6" r="1.5" fill="#9f1228" />
<circle cx="664.6" cy="396.6" r="1.5" fill="#ac162a" />
<circle cx="667.4" cy="396.6" r="1.5" fill="#c84440" />
<circle cx="635.8" cy="399" r="1.5" fill="#db6c56" />
<circle cx="638.5" cy="399" r="1.5" fill="#f5aa88" />
<circle cx="641.3" cy="399" r="1.5" fill="#cf5146" />
<circle cx="644" cy="399" r="1.5" fill="#db6b56" />
<circle cx="646.8" cy="399" r="1.5" fill="#d15648" />
<circle cx="649.5" cy="399" r="1.5" fill="#880b24" />
<circle cx="652.3" cy="399" r="1.5" fill="#940f26" />
<circle cx="655" cy="399" r="1.5" fill="#b31a2c" />
<circle cx="657.8" cy="399" r="1.5" fill="#a9152a" />
<circle cx="660.5" cy="399" r="1.5" fill="#be3137" />
<circle cx="663.3" cy="399" r="1.5" fill="#6e0220" />
<circle cx="666" cy="399" r="1.5" fill="#7b0622" />
<circle cx="634.4" cy="401.4" r="1.5" fill="#ec9374" />
<circle cx="637.1" cy="401.4" r="1.5" fill="#f4a683" />
<circle cx="639.9" cy="401.4" r="1.5" fill="#d45d4b" />
<circle cx="642.6" cy="401.4" r="1.5" fill="#d25849" />
<circle cx="645.4" cy="401.4" r="1.5" fill="#b82330" />
<circle cx="648.1" cy="401.4" r="1.5" fill="#d6614d" />
<circle cx="650.9" cy="401.4" r="1.5" fill="#ce4f45" />
<circle cx="653.6" cy="401.4" r="1.5" fill="#ab162a" />
<circle cx="656.4" cy="401.4" r="1.5" fill="#ac162a" />
<circle cx="659.1" cy="401.4" r="1.5" fill="#7d0722" />
<circle cx="661.9" cy="401.4" r="1.5" fill="#6e0220" />
<circle cx="664.6" cy="401.4" r="1.5" fill="#ae172a" />
<circle cx="667.4" cy="401.4" r="1.5" fill="#c7413e" />
<circle cx="635.8" cy="403.7" r="1.5" fill="#d45d4b" />
<circle cx="638.5" cy="403.7" r="1.5" fill="#dc6f58" />
<circle cx="641.3" cy="403.7" r="1.5" fill="#c53e3d" />
<circle cx="644" cy="403.7" r="1.5" fill="#f2a17f" />
<circle cx="646.8" cy="403.7" r="1.5" fill="#c03338" />
<circle cx="649.5" cy="403.7" r="1.5" fill="#b6202f" />
<circle cx="652.3" cy="403.7" r="1.5" fill="#bd2d35" />
<circle cx="655" cy="403.7" r="1.5" fill="#910d26" />
<circle cx="657.8" cy="403.7" r="1.5" fill="#950f26" />
<circle cx="660.5" cy="403.7" r="1.5" fill="#830924" />
<circle cx="663.3" cy="403.7" r="1.5" fill="#6e0220" />
<circle cx="666" cy="403.7" r="1.5" fill="#6e0220" />
<circle cx="639.9" cy="406.1" r="1.5" fill="#a9152a" />
<circle cx="642.6" cy="406.1" r="1.5" fill="#b82330" />
<circle cx="645.4" cy="406.1" r="1.5" fill="#b6202f" />
<circle cx="648.1" cy="406.1" r="1.5" fill="#9d1128" />
<circle cx="650.9" cy="406.1" r="1.5" fill="#9b1127" />
<circle cx="653.6" cy="406.1" r="1.5" fill="#b51f2e" />
<circle cx="656.4" cy="406.1" r="1.5" fill="#7f0823" />
<circle cx="659.1" cy="406.1" r="1.5" fill="#6e0220" />
<circle cx="646.8" cy="408.5" r="1.5" fill="#b6202f" />
<circle cx="649.5" cy="408.5" r="1.5" fill="#bd2f36" />
<circle cx="644.4" cy="383.8" r="1.3" fill="#d1e5f0" />
<circle cx="656.6" cy="385.8" r="1.3" fill="#b2d5e7" />
<circle cx="663.5" cy="390.3" r="1.3" fill="#92c5de" />
<circle cx="665.8" cy="391.7" r="1.3" fill="#327cb8" />
<circle cx="671.2" cy="393.7" r="1.3" fill="#c4dfec" />
<circle cx="672.7" cy="392.8" r="1.3" fill="#d1e5f0" />
<circle cx="638.5" cy="462.2" r="1.5" fill="#f7f7f7" />
<circle cx="641.3" cy="462.2" r="1.5" fill="#fae9df" />
<circle cx="644" cy="462.2" r="1.5" fill="#fae9df" />
<circle cx="646.8" cy="462.2" r="1.5" fill="#d9e9f1" />
<circle cx="649.5" cy="462.2" r="1.5" fill="#fae9df" />
<circle cx="652.3" cy="462.2" r="1.5" fill="#f7f7f7" />
<circle cx="655" cy="462.2" r="1.5" fill="#d1e5f0" />
<circle cx="631.6" cy="464.6" r="1.5" fill="#f7f7f7" />
<circle cx="634.4" cy="464.6" r="1.5" fill="#f7f7f7" />
<circle cx="637.1" cy="464.6" r="1.5" fill="#d9e9f1" />
<circle cx="639.9" cy="464.6" r="1.5" fill="#fddbc7" />
<circle cx="642.6" cy="464.6" r="1.5" fill="#d9e9f1" />
<circle cx="645.4" cy="464.6" r="1.5" fill="#f7f7f7" />
<circle cx="648.1" cy="464.6" r="1.5" fill="#fddbc7" />
<circle cx="650.9" cy="464.6" r="1.5" fill="#eff3f6" />
<circle cx="653.6" cy="464.6" r="1.5" fill="#d9e9f1" />
<circle cx="656.4" cy="464.6" r="1.5" fill="#b2d5e7" />
<circle cx="659.1" cy="464.6" r="1.5" fill="#d1e5f0" />
<circle cx="630.3" cy="467" r="1.5" fill="#f8f3ef" />
<circle cx="633" cy="467" r="1.5" fill="#fce1d2" />
<circle cx="635.8" cy="467" r="1.5" fill="#faebe2" />
<circle cx="638.5" cy="467" r="1.5" fill="#fcddcb" />
<circle cx="641.3" cy="467" r="1.5" fill="#fdd8c4" />
<circle cx="644" cy="467" r="1.5" fill="#fbe4d7" />
<circle cx="646.8" cy="467" r="1.5" fill="#fbe3d4" />
<circle cx="649.5" cy="467" r="1.5" fill="#f19e7c" />
<circle cx="652.3" cy="467" r="1.5" fill="#fae7db" />
<circle cx="655" cy="467" r="1.5" fill="#fcd3bd" />
<circle cx="657.8" cy="467" r="1.5" fill="#f8bb9e" />
<circle cx="660.5" cy="467" r="1.5" fill="#fcd4be" />
<circle cx="663.3" cy="467" r="1.5" fill="#e4eef4" />
<circle cx="631.6" cy="469.3" r="1.5" fill="#fdddca" />
<circle cx="634.4" cy="469.3" r="1.5" fill="#f6b090" />
<circle cx="637.1" cy="469.3" r="1.5" fill="#ea8e70" />
<circle cx="639.9" cy="469.3" r="1.5" fill="#f7b89b" />
<circle cx="642.6" cy="469.3" r="1.5" fill="#ee9777" />
<circle cx="645.4" cy="469.3" r="1.5" fill="#db6a55" />
<circle cx="648.1" cy="469.3" r="1.5" fill="#e88a6d" />
<circle cx="650.9" cy="469.3" r="1.5" fill="#f2a17f" />
<circle cx="653.6" cy="469.3" r="1.5" fill="#f5a987" />
<circle cx="656.4" cy="469.3" r="1.5" fill="#dc6e58" />
<circle cx="659.1" cy="469.3" r="1.5" fill="#d7624f" />
<circle cx="661.9" cy="469.3" r="1.5" fill="#b31b2c" />
<circle cx="664.6" cy="469.3" r="1.5" fill="#c03338" />
<circle cx="667.4" cy="469.3" r="1.5" fill="#327cb8" />
<circle cx="633" cy="471.7" r="1.5" fill="#f6b090" />
<circle cx="635.8" cy="471.7" r="1.5" fill="#f4a784" />
<circle cx="638.5" cy="471.7" r="1.5" fill="#e48166" />
<circle cx="641.3" cy="471.7" r="1.5" fill="#ec9273" />
<circle cx="644" cy="471.7" r="1.5" fill="#d86450" />
<circle cx="646.8" cy="471.7" r="1.5" fill="#d15749" />
<circle cx="649.5" cy="471.7" r="1.5" fill="#de725b" />
<circle cx="652.3" cy="471.7" r="1.5" fill="#c53e3d" />
<circle cx="655" cy="471.7" r="1.5" fill="#c94540" />
<circle cx="657.8" cy="471.7" r="1.5" fill="#c43b3c" />
<circle cx="660.5" cy="471.7" r="1.5" fill="#d7624e" />
<circle cx="663.3" cy="471.7" r="1.5" fill="#c13639" />
<circle cx="666" cy="471.7" r="1.5" fill="#c03438" />
<circle cx="668.8" cy="471.7" r="1.5" fill="#7f0823" />
<circle cx="634.4" cy="474.1" r="1.5" fill="#ea8e71" />
<circle cx="637.1" cy="474.1" r="1.5" fill="#e17a61" />
<circle cx="639.9" cy="474.1" r="1.5" fill="#e48166" />
<circle cx="642.6" cy="474.1" r="1.5" fill="#ea8f71" />
<circle cx="645.4" cy="474.1" r="1.5" fill="#d7634f" />
<circle cx="648.1" cy="474.1" r="1.5" fill="#d7624e" />
<circle cx="650.9" cy="474.1" r="1.5" fill="#d25849" />
<circle cx="653.6" cy="474.1" r="1.5" fill="#b2182b" />
<circle cx="656.4" cy="474.1" r="1.5" fill="#ce5146" />
<circle cx="659.1" cy="474.1" r="1.5" fill="#a51429" />
<circle cx="661.9" cy="474.1" r="1.5" fill="#c03438" />
<circle cx="664.6" cy="474.1" r="1.5" fill="#6e0220" />
<circle cx="667.4" cy="474.1" r="1.5" fill="#b72230" />
<circle cx="635.8" cy="476.5" r="1.5" fill="#f5aa88" />
<circle cx="638.5" cy="476.5" r="1.5" fill="#f09c7b" />
<circle cx="641.3" cy="476.5" r="1.5" fill="#e98d6f" />
<circle cx="644" cy="476.5" r="1.5" fill="#da6954" />
<circle cx="646.8" cy="476.5" r="1.5" fill="#e58368" />
<circle cx="649.5" cy="476.5" r="1.5" fill="#b92732" />
<circle cx="652.3" cy="476.5" r="1.5" fill="#bc2b34" />
<circle cx="655" cy="476.5" r="1.5" fill="#8d0c25" />
<circle cx="657.8" cy="476.5" r="1.5" fill="#d35b4a" />
<circle cx="660.5" cy="476.5" r="1.5" fill="#b6202f" />
<circle cx="663.3" cy="476.5" r="1.5" fill="#930e26" />
<circle cx="666" cy="476.5" r="1.5" fill="#bf3338" />
<circle cx="634.4" cy="478.9" r="1.5" fill="#de725a" />
<circle cx="637.1" cy="478.9" r="1.5" fill="#d7634f" />
<circle cx="639.9" cy="478.9" r="1.5" fill="#d7624f" />
<circle cx="642.6" cy="478.9" r="1.5" fill="#d55e4c" />
<circle cx="645.4" cy="478.9" r="1.5" fill="#b82431" />
<circle cx="648.1" cy="478.9" r="1.5" fill="#d05447" />
<circle cx="650.9" cy="478.9" r="1.5" fill="#940e26" />
<circle cx="653.6" cy="478.9" r="1.5" fill="#c2383a" />
<circle cx="656.4" cy="478.9" r="1.5" fill="#c94540" />
<circle cx="659.1" cy="478.9" r="1.5" fill="#6e0220" />
<circle cx="661.9" cy="478.9" r="1.5" fill="#7b0622" />
<circle cx="664.6" cy="478.9" r="1.5" fill="#a61429" />
<circle cx="667.4" cy="478.9" r="1.5" fill="#6e0220" />
<circle cx="635.8" cy="481.2" r="1.5" fill="#d55e4c" />
<circle cx="638.5" cy="481.2" r="1.5" fill="#ce5045" />
<circle cx="641.3" cy="481.2" r="1.5" fill="#c13739" />
<circle cx="644" cy="481.2" r="1.5" fill="#b0172b" />
<circle cx="646.8" cy="481.2" r="1.5" fill="#b61f2e" />
<circle cx="649.5" cy="481.2" r="1.5" fill="#b0172b" />
<circle cx="652.3" cy="481.2" r="1.5" fill="#b92531" />
<circle cx="655" cy="481.2" r="1.5" fill="#a61429" />
<circle cx="657.8" cy="481.2" r="1.5" fill="#c2383a" />
<circle cx="660.5" cy="481.2" r="1.5" fill="#cb4b43" />
<circle cx="663.3" cy="481.2" r="1.5" fill="#7f0823" />
<circle cx="666" cy="481.2" r="1.5" fill="#ad162a" />
<circle cx="639.9" cy="483.6" r="1.5" fill="#b41c2d" />
<circle cx="642.6" cy="483.6" r="1.5" fill="#7a0622" />
<circle cx="645.4" cy="483.6" r="1.5" fill="#b41d2d" />
<circle cx="648.1" cy="483.6" r="1.5" fill="#b82330" />
<circle cx="650.9" cy="483.6" r="1.5" fill="#af172b" />
<circle cx="653.6" cy="483.6" r="1.5" fill="#790622" />
<circle cx="656.4" cy="483.6" r="1.5" fill="#b92632" />
<circle cx="659.1" cy="483.6" r="1.5" fill="#a81529" />
<circle cx="646.8" cy="486" r="1.5" fill="#cf5146" />
<circle cx="649.5" cy="486" r="1.5" fill="#b31b2c" />
<circle cx="644.4" cy="461.3" r="1.3" fill="#327cb8" />
<circle cx="650.5" cy="461.4" r="1.3" fill="#d1e5f0" />
<circle cx="656.6" cy="462" r="1.3" fill="#d1e5f0" />
<circle cx="661.2" cy="463.9" r="1.3" fill="#92c5de" />
<circle cx="665.8" cy="466.9" r="1.3" fill="#327cb8" />
<circle cx="670.4" cy="470.3" r="1.3" fill="#92c5de" />
<circle cx="672.7" cy="469.7" r="1.3" fill="#d1e5f0" />
<circle cx="638.5" cy="529.7" r="1.5" fill="#e7876b" />
<circle cx="641.3" cy="529.7" r="1.5" fill="#db6b56" />
<circle cx="644" cy="529.7" r="1.5" fill="#c8433f" />
<circle cx="646.8" cy="529.7" r="1.5" fill="#dd715a" />
<circle cx="649.5" cy="529.7" r="1.5" fill="#e68569" />
<circle cx="652.3" cy="529.7" r="1.5" fill="#ef9979" />
<circle cx="655" cy="529.7" r="1.5" fill="#c33a3b" />
<circle cx="631.6" cy="532.1" r="1.5" fill="#d6614d" />
<circle cx="634.4" cy="532.1" r="1.5" fill="#de735c" />
<circle cx="637.1" cy="532.1" r="1.5" fill="#e48166" />
<circle cx="639.9" cy="532.1" r="1.5" fill="#f7b99b" />
<circle cx="642.6" cy="532.1" r="1.5" fill="#d05447" />
<circle cx="645.4" cy="532.1" r="1.5" fill="#e37e64" />
<circle cx="648.1" cy="532.1" r="1.5" fill="#d35a4a" />
<circle cx="650.9" cy="532.1" r="1.5" fill="#b2182b" />
<circle cx="653.6" cy="532.1" r="1.5" fill="#d96752" />
<circle cx="656.4" cy="532.1" r="1.5" fill="#d55d4c" />
<circle cx="659.1" cy="532.1" r="1.5" fill="#bd2e36" />
<circle cx="630.3" cy="534.5" r="1.5" fill="#f8bb9e" />
<circle cx="633" cy="534.5" r="1.5" fill="#fce1d1" />
<circle cx="635.8" cy="534.5" r="1.5" fill="#e4eef4" />
<circle cx="638.5" cy="534.5" r="1.5" fill="#f4a582" />
<circle cx="641.3" cy="534.5" r="1.5" fill="#e4eef4" />
<circle cx="644" cy="534.5" r="1.5" fill="#e4eef4" />
<circle cx="646.8" cy="534.5" r="1.5" fill="#f7f7f7" />
<circle cx="649.5" cy="534.5" r="1.5" fill="#4393c3" />
<circle cx="652.3" cy="534.5" r="1.5" fill="#4393c3" />
<circle cx="655" cy="534.5" r="1.5" fill="#e4eef4" />
<circle cx="657.8" cy="534.5" r="1.5" fill="#b2d5e7" />
<circle cx="660.5" cy="534.5" r="1.5" fill="#b2d5e7" />
<circle cx="663.3" cy="534.5" r="1.5" fill="#4393c3" />
<circle cx="631.6" cy="536.8" r="1.5" fill="#f7f7f7" />
<circle cx="634.4" cy="536.8" r="1.5" fill="#fbd0b9" />
<circle cx="637.1" cy="536.8" r="1.5" fill="#fce1d1" />
<circle cx="639.9" cy="536.8" r="1.5" fill="#e4eef4" />
<circle cx="642.6" cy="536.8" r="1.5" fill="#f7f7f7" />
<circle cx="645.4" cy="536.8" r="1.5" fill="#b2d5e7" />
<circle cx="648.1" cy="536.8" r="1.5" fill="#4393c3" />
<circle cx="650.9" cy="536.8" r="1.5" fill="#3682ba" />
<circle cx="653.6" cy="536.8" r="1.5" fill="#144e8a" />
<circle cx="656.4" cy="536.8" r="1.5" fill="#276eb0" />
<circle cx="659.1" cy="536.8" r="1.5" fill="#519cc8" />
<circle cx="661.9" cy="536.8" r="1.5" fill="#1f63a8" />
<circle cx="664.6" cy="536.8" r="1.5" fill="#175391" />
<circle cx="667.4" cy="536.8" r="1.5" fill="#154e8b" />
<circle cx="633" cy="539.2" r="1.5" fill="#fce1d1" />
<circle cx="635.8" cy="539.2" r="1.5" fill="#f7f7f7" />
<circle cx="638.5" cy="539.2" r="1.5" fill="#e4eef4" />
<circle cx="641.3" cy="539.2" r="1.5" fill="#e4eef4" />
<circle cx="644" cy="539.2" r="1.5" fill="#e4eef4" />
<circle cx="646.8" cy="539.2" r="1.5" fill="#b2d5e7" />
<circle cx="649.5" cy="539.2" r="1.5" fill="#b2d5e7" />
<circle cx="652.3" cy="539.2" r="1.5" fill="#59a1cb" />
<circle cx="655" cy="539.2" r="1.5" fill="#3a87bd" />
<circle cx="657.8" cy="539.2" r="1.5" fill="#3d8bbf" />
<circle cx="660.5" cy="539.2" r="1.5" fill="#2e77b5" />
<circle cx="663.3" cy="539.2" r="1.5" fill="#3b88bd" />
<circle cx="666" cy="539.2" r="1.5" fill="#2f79b6" />
<circle cx="668.8" cy="539.2" r="1.5" fill="#4695c4" />
<circle cx="634.4" cy="541.6" r="1.5" fill="#fbd0b9" />
<circle cx="637.1" cy="541.6" r="1.5" fill="#e4eef4" />
<circle cx="639.9" cy="541.6" r="1.5" fill="#e4eef4" />
<circle cx="642.6" cy="541.6" r="1.5" fill="#f8bb9e" />
<circle cx="645.4" cy="541.6" r="1.5" fill="#f7f7f7" />
<circle cx="648.1" cy="541.6" r="1.5" fill="#f7f7f7" />
<circle cx="650.9" cy="541.6" r="1.5" fill="#3b88be" />
<circle cx="653.6" cy="541.6" r="1.5" fill="#124984" />
<circle cx="656.4" cy="541.6" r="1.5" fill="#053061" />
<circle cx="659.1" cy="541.6" r="1.5" fill="#4191c2" />
<circle cx="661.9" cy="541.6" r="1.5" fill="#2e77b5" />
<circle cx="664.6" cy="541.6" r="1.5" fill="#327db8" />
<circle cx="667.4" cy="541.6" r="1.5" fill="#144c88" />
<circle cx="635.8" cy="544" r="1.5" fill="#f7f7f7" />
<circle cx="638.5" cy="544" r="1.5" fill="#fce1d1" />
<circle cx="641.3" cy="544" r="1.5" fill="#e4eef4" />
<circle cx="644" cy="544" r="1.5" fill="#fbd0b9" />
<circle cx="646.8" cy="544" r="1.5" fill="#b2d5e7" />
<circle cx="649.5" cy="544" r="1.5" fill="#f7f7f7" />
<circle cx="652.3" cy="544" r="1.5" fill="#64a8ce" />
<circle cx="655" cy="544" r="1.5" fill="#2970b1" />
<circle cx="657.8" cy="544" r="1.5" fill="#053061" />
<circle cx="660.5" cy="544" r="1.5" fill="#62a6cd" />
<circle cx="663.3" cy="544" r="1.5" fill="#0a396e" />
<circle cx="666" cy="544" r="1.5" fill="#72b1d3" />
<circle cx="634.4" cy="546.4" r="1.5" fill="#f8bb9e" />
<circle cx="637.1" cy="546.4" r="1.5" fill="#fce1d1" />
<circle cx="639.9" cy="546.4" r="1.5" fill="#e4eef4" />
<circle cx="642.6" cy="546.4" r="1.5" fill="#fce1d1" />
<circle cx="645.4" cy="546.4" r="1.5" fill="#4393c3" />
<circle cx="648.1" cy="546.4" r="1.5" fill="#f7f7f7" />
<circle cx="650.9" cy="546.4" r="1.5" fill="#1c5c9d" />
<circle cx="653.6" cy="546.4" r="1.5" fill="#266caf" />
<circle cx="656.4" cy="546.4" r="1.5" fill="#abd2e5" />
<circle cx="659.1" cy="546.4" r="1.5" fill="#1a5899" />
<circle cx="661.9" cy="546.4" r="1.5" fill="#4393c3" />
<circle cx="664.6" cy="546.4" r="1.5" fill="#144d89" />
<circle cx="667.4" cy="546.4" r="1.5" fill="#154f8b" />
<circle cx="635.8" cy="548.7" r="1.5" fill="#f8bb9e" />
<circle cx="638.5" cy="548.7" r="1.5" fill="#fce1d1" />
<circle cx="641.3" cy="548.7" r="1.5" fill="#f8bb9e" />
<circle cx="644" cy="548.7" r="1.5" fill="#f7f7f7" />
<circle cx="646.8" cy="548.7" r="1.5" fill="#4393c3" />
<circle cx="649.5" cy="548.7" r="1.5" fill="#e4eef4" />
<circle cx="652.3" cy="548.7" r="1.5" fill="#408fc1" />
<circle cx="655" cy="548.7" r="1.5" fill="#3d8bbf" />
<circle cx="657.8" cy="548.7" r="1.5" fill="#2971b1" />
<circle cx="660.5" cy="548.7" r="1.5" fill="#114680" />
<circle cx="663.3" cy="548.7" r="1.5" fill="#2971b2" />
<circle cx="666" cy="548.7" r="1.5" fill="#72b0d3" />
<circle cx="639.9" cy="551.1" r="1.5" fill="#e4eef4" />
<circle cx="642.6" cy="551.1" r="1.5" fill="#f7f7f7" />
<circle cx="645.4" cy="551.1" r="1.5" fill="#f7f7f7" />
<circle cx="648.1" cy="551.1" r="1.5" fill="#f7f7f7" />
<circle cx="650.9" cy="551.1" r="1.5" fill="#4f9bc7" />
<circle cx="653.6" cy="551.1" r="1.5" fill="#286fb0" />
<circle cx="656.4" cy="551.1" r="1.5" fill="#2268ad" />
<circle cx="659.1" cy="551.1" r="1.5" fill="#1e60a4" />
<circle cx="646.8" cy="553.5" r="1.5" fill="#b2d5e7" />
<circle cx="649.5" cy="553.5" r="1.5" fill="#b2d5e7" />
<circle cx="672" cy="536.9" r="1.3" fill="#d1e5f0" />
<circle cx="638.5" cy="596.7" r="1.5" fill="#f4a582" />
<circle cx="641.3" cy="596.7" r="1.5" fill="#0b3b70" />
<circle cx="644" cy="596.7" r="1.5" fill="#0b3b70" />
<circle cx="646.8" cy="596.7" r="1.5" fill="#0b3b70" />
<circle cx="649.5" cy="596.7" r="1.5" fill="#d6604d" />
<circle cx="652.3" cy="596.7" r="1.5" fill="#f4a582" />
<circle cx="655" cy="596.7" r="1.5" fill="#2166ac" />
<circle cx="631.6" cy="599.1" r="1.5" fill="#8c0c25" />
<circle cx="634.4" cy="599.1" r="1.5" fill="#92c5de" />
<circle cx="637.1" cy="599.1" r="1.5" fill="#f7f7f7" />
<circle cx="639.9" cy="599.1" r="1.5" fill="#92c5de" />
<circle cx="642.6" cy="599.1" r="1.5" fill="#b2d5e7" />
<circle cx="645.4" cy="599.1" r="1.5" fill="#92c5de" />
<circle cx="648.1" cy="599.1" r="1.5" fill="#134b86" />
<circle cx="650.9" cy="599.1" r="1.5" fill="#f4a582" />
<circle cx="653.6" cy="599.1" r="1.5" fill="#0b3b70" />
<circle cx="656.4" cy="599.1" r="1.5" fill="#b2d5e7" />
<circle cx="659.1" cy="599.1" r="1.5" fill="#2166ac" />
<circle cx="630.3" cy="601.5" r="1.5" fill="#134b86" />
<circle cx="633" cy="601.5" r="1.5" fill="#f4a582" />
<circle cx="635.8" cy="601.5" r="1.5" fill="#134b86" />
<circle cx="638.5" cy="601.5" r="1.5" fill="#134b86" />
<circle cx="641.3" cy="601.5" r="1.5" fill="#d6604d" />
<circle cx="644" cy="601.5" r="1.5" fill="#d1e5f0" />
<circle cx="646.8" cy="601.5" r="1.5" fill="#92c5de" />
<circle cx="649.5" cy="601.5" r="1.5" fill="#92c5de" />
<circle cx="652.3" cy="601.5" r="1.5" fill="#d6604d" />
<circle cx="655" cy="601.5" r="1.5" fill="#f7f7f7" />
<circle cx="657.8" cy="601.5" r="1.5" fill="#e4eef4" />
<circle cx="660.5" cy="601.5" r="1.5" fill="#e4eef4" />
<circle cx="663.3" cy="601.5" r="1.5" fill="#4393c3" />
<circle cx="631.6" cy="603.8" r="1.5" fill="#d1e5f0" />
<circle cx="634.4" cy="603.8" r="1.5" fill="#b2d5e7" />
<circle cx="637.1" cy="603.8" r="1.5" fill="#d6604d" />
<circle cx="639.9" cy="603.8" r="1.5" fill="#8c0c25" />
<circle cx="642.6" cy="603.8" r="1.5" fill="#0b3b70" />
<circle cx="645.4" cy="603.8" r="1.5" fill="#0b3b70" />
<circle cx="648.1" cy="603.8" r="1.5" fill="#92c5de" />
<circle cx="650.9" cy="603.8" r="1.5" fill="#2166ac" />
<circle cx="653.6" cy="603.8" r="1.5" fill="#4393c3" />
<circle cx="656.4" cy="603.8" r="1.5" fill="#134b86" />
<circle cx="659.1" cy="603.8" r="1.5" fill="#8c0c25" />
<circle cx="661.9" cy="603.8" r="1.5" fill="#92c5de" />
<circle cx="664.6" cy="603.8" r="1.5" fill="#92c5de" />
<circle cx="667.4" cy="603.8" r="1.5" fill="#e4eef4" />
<circle cx="633" cy="606.2" r="1.5" fill="#d1e5f0" />
<circle cx="635.8" cy="606.2" r="1.5" fill="#d6604d" />
<circle cx="638.5" cy="606.2" r="1.5" fill="#f7f7f7" />
<circle cx="641.3" cy="606.2" r="1.5" fill="#4393c3" />
<circle cx="644" cy="606.2" r="1.5" fill="#2166ac" />
<circle cx="646.8" cy="606.2" r="1.5" fill="#fddbc7" />
<circle cx="649.5" cy="606.2" r="1.5" fill="#8c0c25" />
<circle cx="652.3" cy="606.2" r="1.5" fill="#4393c3" />
<circle cx="655" cy="606.2" r="1.5" fill="#f4a582" />
<circle cx="657.8" cy="606.2" r="1.5" fill="#b2d5e7" />
<circle cx="660.5" cy="606.2" r="1.5" fill="#4393c3" />
<circle cx="663.3" cy="606.2" r="1.5" fill="#134b86" />
<circle cx="666" cy="606.2" r="1.5" fill="#b2d5e7" />
<circle cx="668.8" cy="606.2" r="1.5" fill="#0b3b70" />
<circle cx="634.4" cy="608.6" r="1.5" fill="#d1e5f0" />
<circle cx="637.1" cy="608.6" r="1.5" fill="#92c5de" />
<circle cx="639.9" cy="608.6" r="1.5" fill="#92c5de" />
<circle cx="642.6" cy="608.6" r="1.5" fill="#2166ac" />
<circle cx="645.4" cy="608.6" r="1.5" fill="#92c5de" />
<circle cx="648.1" cy="608.6" r="1.5" fill="#92c5de" />
<circle cx="650.9" cy="608.6" r="1.5" fill="#92c5de" />
<circle cx="653.6" cy="608.6" r="1.5" fill="#8c0c25" />
<circle cx="656.4" cy="608.6" r="1.5" fill="#0b3b70" />
<circle cx="659.1" cy="608.6" r="1.5" fill="#8c0c25" />
<circle cx="661.9" cy="608.6" r="1.5" fill="#92c5de" />
<circle cx="664.6" cy="608.6" r="1.5" fill="#f4a582" />
<circle cx="667.4" cy="608.6" r="1.5" fill="#4393c3" />
<circle cx="635.8" cy="611" r="1.5" fill="#2166ac" />
<circle cx="638.5" cy="611" r="1.5" fill="#2166ac" />
<circle cx="641.3" cy="611" r="1.5" fill="#134b86" />
<circle cx="644" cy="611" r="1.5" fill="#f7f7f7" />
<circle cx="646.8" cy="611" r="1.5" fill="#8c0c25" />
<circle cx="649.5" cy="611" r="1.5" fill="#f7f7f7" />
<circle cx="652.3" cy="611" r="1.5" fill="#d1e5f0" />
<circle cx="655" cy="611" r="1.5" fill="#d1e5f0" />
<circle cx="657.8" cy="611" r="1.5" fill="#8c0c25" />
<circle cx="660.5" cy="611" r="1.5" fill="#f7f7f7" />
<circle cx="663.3" cy="611" r="1.5" fill="#fddbc7" />
<circle cx="666" cy="611" r="1.5" fill="#f4a582" />
<circle cx="634.4" cy="613.4" r="1.5" fill="#134b86" />
<circle cx="637.1" cy="613.4" r="1.5" fill="#0b3b70" />
<circle cx="639.9" cy="613.4" r="1.5" fill="#134b86" />
<circle cx="642.6" cy="613.4" r="1.5" fill="#134b86" />
<circle cx="645.4" cy="613.4" r="1.5" fill="#d1e5f0" />
<circle cx="648.1" cy="613.4" r="1.5" fill="#134b86" />
<circle cx="650.9" cy="613.4" r="1.5" fill="#92c5de" />
<circle cx="653.6" cy="613.4" r="1.5" fill="#134b86" />
<circle cx="656.4" cy="613.4" r="1.5" fill="#2166ac" />
<circle cx="659.1" cy="613.4" r="1.5" fill="#4393c3" />
<circle cx="661.9" cy="613.4" r="1.5" fill="#b2d5e7" />
<circle cx="664.6" cy="613.4" r="1.5" fill="#134b86" />
<circle cx="667.4" cy="613.4" r="1.5" fill="#b2d5e7" />
<circle cx="635.8" cy="615.7" r="1.5" fill="#4393c3" />
<circle cx="638.5" cy="615.7" r="1.5" fill="#d1e5f0" />
<circle cx="641.3" cy="615.7" r="1.5" fill="#f4a582" />
<circle cx="644" cy="615.7" r="1.5" fill="#d6604d" />
<circle cx="646.8" cy="615.7" r="1.5" fill="#b2d5e7" />
<circle cx="649.5" cy="615.7" r="1.5" fill="#92c5de" />
<circle cx="652.3" cy="615.7" r="1.5" fill="#4393c3" />
<circle cx="655" cy="615.7" r="1.5" fill="#f7f7f7" />
<circle cx="657.8" cy="615.7" r="1.5" fill="#d1e5f0" />
<circle cx="660.5" cy="615.7" r="1.5" fill="#b2d5e7" />
<circle cx="663.3" cy="615.7" r="1.5" fill="#134b86" />
<circle cx="666" cy="615.7" r="1.5" fill="#4393c3" />
<circle cx="639.9" cy="618.1" r="1.5" fill="#4393c3" />
<circle cx="642.6" cy="618.1" r="1.5" fill="#0b3b70" />
<circle cx="645.4" cy="618.1" r="1.5" fill="#8c0c25" />
<circle cx="648.1" cy="618.1" r="1.5" fill="#4393c3" />
<circle cx="650.9" cy="618.1" r="1.5" fill="#fddbc7" />
<circle cx="653.6" cy="618.1" r="1.5" fill="#d6604d" />
<circle cx="656.4" cy="618.1" r="1.5" fill="#d1e5f0" />
<circle cx="659.1" cy="618.1" r="1.5" fill="#b2d5e7" />
<circle cx="646.8" cy="620.5" r="1.5" fill="#2166ac" />
<circle cx="649.5" cy="620.5" r="1.5" fill="#d6604d" />
<circle cx="672" cy="605" r="1.3" fill="#0b3b70" />
<circle cx="673.8" cy="605.7" r="1.3" fill="#134b86" />
</svg>
</body></html>
